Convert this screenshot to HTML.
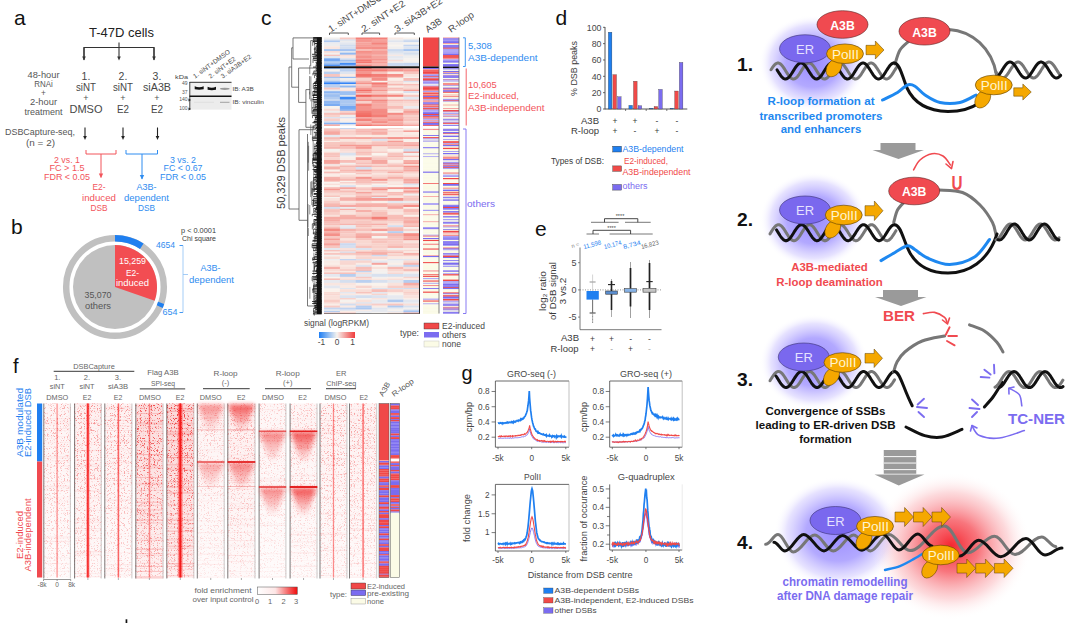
<!DOCTYPE html>
<html><head><meta charset="utf-8"><style>
html,body{margin:0;padding:0;background:#fff;width:1080px;height:623px;overflow:hidden}
svg{display:block}
text{font-family:"Liberation Sans", sans-serif}
</style></head><body>
<svg width="1080" height="623" viewBox="0 0 1080 623" font-family="Liberation Sans, sans-serif">
<rect width="1080" height="623" fill="#fff"/>
<text x="14.00" y="25.00" font-size="21" fill="#111">a</text>
<text x="89.00" y="37.00" font-size="13.5" fill="#222" textLength="65" lengthAdjust="spacingAndGlyphs">T-47D cells</text>
<line x1="119.00" y1="42.50" x2="119.00" y2="47.50" stroke="#333" stroke-width="1.1" />
<path d="M84,60 L84,47.5 L154,47.5 L154,60" stroke="#333" stroke-width="1.2" fill="none" />
<line x1="84.00" y1="47.50" x2="84.00" y2="57.50" stroke="#333" stroke-width="1.1" /><path d="M82.20,56.50 L85.80,56.50 L84.00,60.50 Z" stroke="none" stroke-width="1" fill="#333" />
<line x1="119.00" y1="47.50" x2="119.00" y2="57.50" stroke="#333" stroke-width="1.1" /><path d="M117.20,56.50 L120.80,56.50 L119.00,60.50 Z" stroke="none" stroke-width="1" fill="#333" />
<line x1="154.00" y1="47.50" x2="154.00" y2="57.50" stroke="#333" stroke-width="1.1" /><path d="M152.20,56.50 L155.80,56.50 L154.00,60.50 Z" stroke="none" stroke-width="1" fill="#333" />
<text x="43.50" y="77.50" font-size="8.3" fill="#565656" text-anchor="middle" textLength="32" lengthAdjust="spacingAndGlyphs">48-hour</text>
<text x="43.50" y="87.00" font-size="8.3" fill="#565656" text-anchor="middle" textLength="18.5" lengthAdjust="spacingAndGlyphs">RNAi</text>
<text x="43.50" y="95.50" font-size="8.3" fill="#565656" text-anchor="middle">+</text>
<text x="43.50" y="105.00" font-size="8.3" fill="#565656" text-anchor="middle" textLength="27" lengthAdjust="spacingAndGlyphs">2-hour</text>
<text x="43.50" y="114.50" font-size="8.3" fill="#565656" text-anchor="middle" textLength="38" lengthAdjust="spacingAndGlyphs">treatment</text>
<text x="86.00" y="79.50" font-size="10.5" fill="#474747" text-anchor="middle">1.</text>
<text x="86.00" y="90.50" font-size="10.5" fill="#474747" text-anchor="middle" textLength="20" lengthAdjust="spacingAndGlyphs">siNT</text>
<text x="86.00" y="101.00" font-size="9" fill="#565656" text-anchor="middle">+</text>
<text x="86.00" y="113.00" font-size="10.5" fill="#474747" text-anchor="middle" textLength="33" lengthAdjust="spacingAndGlyphs">DMSO</text>
<text x="123.00" y="79.50" font-size="10.5" fill="#474747" text-anchor="middle">2.</text>
<text x="123.00" y="90.50" font-size="10.5" fill="#474747" text-anchor="middle" textLength="20" lengthAdjust="spacingAndGlyphs">siNT</text>
<text x="123.00" y="101.00" font-size="9" fill="#565656" text-anchor="middle">+</text>
<text x="123.00" y="113.00" font-size="10.5" fill="#474747" text-anchor="middle" textLength="12" lengthAdjust="spacingAndGlyphs">E2</text>
<text x="157.00" y="79.50" font-size="10.5" fill="#474747" text-anchor="middle">3.</text>
<text x="157.00" y="90.50" font-size="10.5" fill="#474747" text-anchor="middle" textLength="28" lengthAdjust="spacingAndGlyphs">siA3B</text>
<text x="157.00" y="101.00" font-size="9" fill="#565656" text-anchor="middle">+</text>
<text x="157.00" y="113.00" font-size="10.5" fill="#474747" text-anchor="middle" textLength="12" lengthAdjust="spacingAndGlyphs">E2</text>
<rect x="125.60" y="619.30" width="1.70" height="4.00" fill="#111" />
<text x="5.00" y="135.00" font-size="8.3" fill="#565656" textLength="70" lengthAdjust="spacingAndGlyphs">DSBCapture-seq,</text>
<text x="26.00" y="146.00" font-size="8.3" fill="#565656" textLength="29" lengthAdjust="spacingAndGlyphs">(n = 2)</text>
<line x1="85.00" y1="127.50" x2="85.00" y2="137.00" stroke="#222" stroke-width="1.1" /><path d="M83.20,136.00 L86.80,136.00 L85.00,140.00 Z" stroke="none" stroke-width="1" fill="#222" />
<line x1="123.00" y1="127.50" x2="123.00" y2="137.00" stroke="#222" stroke-width="1.1" /><path d="M121.20,136.00 L124.80,136.00 L123.00,140.00 Z" stroke="none" stroke-width="1" fill="#222" />
<line x1="157.50" y1="127.50" x2="157.50" y2="137.00" stroke="#222" stroke-width="1.1" /><path d="M155.70,136.00 L159.30,136.00 L157.50,140.00 Z" stroke="none" stroke-width="1" fill="#222" />
<path d="M86,150 L86,154 L116,154 L116,150" stroke="#f2545b" stroke-width="1" fill="none" />
<line x1="101.00" y1="154.00" x2="101.00" y2="177.50" stroke="#f2545b" stroke-width="1" />
<path d="M98.8,173.5 L103.2,173.5 L101,178 Z" stroke="none" stroke-width="1" fill="#f2545b" />
<path d="M126,150 L126,154 L157.5,154 L157.5,150" stroke="#2f8cf0" stroke-width="1" fill="none" />
<line x1="142.00" y1="154.00" x2="142.00" y2="179.00" stroke="#2f8cf0" stroke-width="1" />
<path d="M139.8,175 L144.2,175 L142,179.5 Z" stroke="none" stroke-width="1" fill="#2f8cf0" />
<text x="67.00" y="162.50" font-size="9" fill="#f2545b" text-anchor="middle" textLength="26" lengthAdjust="spacingAndGlyphs">2 vs. 1</text>
<text x="67.00" y="171.00" font-size="9" fill="#f2545b" text-anchor="middle" textLength="35" lengthAdjust="spacingAndGlyphs">FC &gt; 1.5</text>
<text x="67.00" y="180.00" font-size="9" fill="#f2545b" text-anchor="middle" textLength="46" lengthAdjust="spacingAndGlyphs">FDR &lt; 0.05</text>
<text x="99.00" y="190.00" font-size="9" fill="#f2545b" text-anchor="middle" textLength="13" lengthAdjust="spacingAndGlyphs">E2-</text>
<text x="99.00" y="201.00" font-size="9" fill="#f2545b" text-anchor="middle" textLength="34" lengthAdjust="spacingAndGlyphs">induced</text>
<text x="99.00" y="211.00" font-size="9" fill="#f2545b" text-anchor="middle" textLength="17" lengthAdjust="spacingAndGlyphs">DSB</text>
<text x="183.00" y="162.50" font-size="9" fill="#2f8cf0" text-anchor="middle" textLength="26" lengthAdjust="spacingAndGlyphs">3 vs. 2</text>
<text x="183.00" y="171.00" font-size="9" fill="#2f8cf0" text-anchor="middle" textLength="39" lengthAdjust="spacingAndGlyphs">FC &lt; 0.67</text>
<text x="183.00" y="180.00" font-size="9" fill="#2f8cf0" text-anchor="middle" textLength="46" lengthAdjust="spacingAndGlyphs">FDR &lt; 0.05</text>
<text x="146.50" y="190.00" font-size="9" fill="#2f8cf0" text-anchor="middle" textLength="20" lengthAdjust="spacingAndGlyphs">A3B-</text>
<text x="146.50" y="201.00" font-size="9" fill="#2f8cf0" text-anchor="middle" textLength="45" lengthAdjust="spacingAndGlyphs">dependent</text>
<text x="146.50" y="211.00" font-size="9" fill="#2f8cf0" text-anchor="middle" textLength="17" lengthAdjust="spacingAndGlyphs">DSB</text>
<rect x="189.50" y="82.00" width="42.00" height="27.60" fill="#ececec" />
<rect x="189.50" y="82.00" width="42.00" height="14.00" fill="#f0f0f0" />
<line x1="189.50" y1="82.30" x2="231.50" y2="82.30" stroke="#333" stroke-width="1.0" />
<line x1="189.80" y1="82.00" x2="189.80" y2="109.60" stroke="#333" stroke-width="0.9" />
<line x1="189.50" y1="96.20" x2="231.50" y2="96.20" stroke="#111" stroke-width="1.6" />
<path d="M194.7,86.3 Q199.2,88.2 203.7,86.3 L203.7,89.3 Q199.2,90.2 194.7,89.3 Z" stroke="none" stroke-width="1" fill="#111" />
<path d="M207.6,86.8 Q211.8,88.6 216,86.8 L216,89.8 Q211.8,90.6 207.6,89.8 Z" stroke="none" stroke-width="1" fill="#111" />
<ellipse cx="224.80" cy="88.80" rx="4.80" ry="1.10" fill="#999" stroke="none" stroke-width="1" />
<line x1="220.00" y1="102.30" x2="229.50" y2="102.30" stroke="#999" stroke-width="0.9" />
<line x1="194.00" y1="102.30" x2="214.00" y2="102.30" stroke="#ddd" stroke-width="0.8" />
<text x="232.40" y="90.50" font-size="6" fill="#474747" textLength="21.3" lengthAdjust="spacingAndGlyphs">IB: A3B</text>
<text x="232.40" y="104.00" font-size="6" fill="#474747" textLength="31.4" lengthAdjust="spacingAndGlyphs">IB: vinculin</text>
<text x="175.00" y="79.30" font-size="5.5" fill="#474747" textLength="13" lengthAdjust="spacingAndGlyphs">kDa</text>
<text x="187.50" y="85.30" font-size="5" fill="#565656" text-anchor="end">49</text>
<text x="187.50" y="94.30" font-size="5" fill="#565656" text-anchor="end">37</text>
<text x="187.50" y="100.50" font-size="5" fill="#565656" text-anchor="end">140</text>
<text x="187.50" y="109.50" font-size="5" fill="#565656" text-anchor="end">100</text>
<path d="M188.5,98.5 L191,100 L188.5,101.5 Z" stroke="none" stroke-width="1" fill="#222" />
<path d="M188.5,107.5 L191,109 L188.5,110.5 Z" stroke="none" stroke-width="1" fill="#222" />
<text x="195.00" y="78.70" font-size="6.5" fill="#474747" textLength="44" lengthAdjust="spacingAndGlyphs" transform="rotate(-36 195.00 78.70)">1. siNT+DMSO</text>
<text x="210.40" y="78.70" font-size="6.5" fill="#474747" textLength="32" lengthAdjust="spacingAndGlyphs" transform="rotate(-36 210.40 78.70)">2. siNT+E2</text>
<text x="222.80" y="78.70" font-size="6.5" fill="#474747" textLength="36" lengthAdjust="spacingAndGlyphs" transform="rotate(-36 222.80 78.70)">3. siA3B+E2</text>
<text x="11.00" y="234.00" font-size="21" fill="#111">b</text>
<circle cx="115.00" cy="287.00" r="48.80" fill="none" stroke="#c0c0c0" stroke-width="6.5" />
<path d="M115.00,238.20 A48.8,48.8 0 0 1 141.79,246.21" stroke="#1f7ff0" stroke-width="6.5" fill="none" />
<path d="M161.14,302.89 A48.8,48.8 0 0 1 159.68,306.62" stroke="#1f7ff0" stroke-width="6.5" fill="none" />
<circle cx="115.00" cy="287.00" r="42.00" fill="#c0c0c0" stroke="none" stroke-width="1" />
<path d="M115,287 L115,245 A42,42 0 0 1 154.71,300.67 Z" stroke="none" stroke-width="1" fill="#f24d52" />
<text x="132.50" y="264.00" font-size="9.3" fill="#fff" text-anchor="middle" textLength="27" lengthAdjust="spacingAndGlyphs">15,259</text>
<text x="132.50" y="276.00" font-size="9.3" fill="#fff" text-anchor="middle" textLength="13" lengthAdjust="spacingAndGlyphs">E2-</text>
<text x="132.50" y="286.00" font-size="9.3" fill="#fff" text-anchor="middle" textLength="33" lengthAdjust="spacingAndGlyphs">induced</text>
<text x="98.00" y="297.50" font-size="9.3" fill="#565656" text-anchor="middle" textLength="27" lengthAdjust="spacingAndGlyphs">35,070</text>
<text x="98.00" y="309.00" font-size="9.3" fill="#565656" text-anchor="middle" textLength="26" lengthAdjust="spacingAndGlyphs">others</text>
<text x="175.00" y="248.00" font-size="9.3" fill="#2f8cf0" text-anchor="end" textLength="19" lengthAdjust="spacingAndGlyphs">4654</text>
<text x="177.50" y="315.00" font-size="9.3" fill="#2f8cf0" text-anchor="end" textLength="15" lengthAdjust="spacingAndGlyphs">654</text>
<line x1="179.50" y1="245.50" x2="183.00" y2="245.50" stroke="#2f8cf0" stroke-width="0.9" />
<line x1="179.50" y1="312.50" x2="183.00" y2="312.50" stroke="#2f8cf0" stroke-width="0.9" />
<line x1="183.00" y1="245.50" x2="183.00" y2="312.50" stroke="#8ec0f5" stroke-width="0.8" />
<line x1="183.00" y1="274.50" x2="188.00" y2="274.50" stroke="#8ec0f5" stroke-width="0.8" />
<text x="210.50" y="271.00" font-size="9.3" fill="#2f8cf0" text-anchor="middle" textLength="20" lengthAdjust="spacingAndGlyphs">A3B-</text>
<text x="211.50" y="282.50" font-size="9.3" fill="#2f8cf0" text-anchor="middle" textLength="45" lengthAdjust="spacingAndGlyphs">dependent</text>
<text x="181.00" y="233.00" font-size="7" fill="#3a3a3a" textLength="35" lengthAdjust="spacingAndGlyphs">p &lt; 0.0001</text>
<text x="182.00" y="241.00" font-size="7" fill="#3a3a3a" textLength="34" lengthAdjust="spacingAndGlyphs">Chi square</text>
<text x="261.00" y="25.10" font-size="21" fill="#111">c</text>
<rect x="324.00" y="37.50" width="16.18" height="2.20" fill="#f2f0ee" />
<rect x="339.88" y="37.50" width="16.18" height="2.20" fill="#f8c9c3" />
<rect x="355.77" y="37.50" width="16.18" height="2.20" fill="#f38079" />
<rect x="371.65" y="37.50" width="16.18" height="2.20" fill="#f38079" />
<rect x="387.53" y="37.50" width="16.18" height="2.20" fill="#f9eae4" />
<rect x="403.42" y="37.50" width="16.18" height="2.20" fill="#faf3ed" />
<rect x="324.00" y="39.50" width="16.18" height="1.40" fill="#d0dcef" />
<rect x="339.88" y="39.50" width="16.18" height="1.40" fill="#d6e0ef" />
<rect x="355.77" y="39.50" width="16.18" height="1.40" fill="#f48b84" />
<rect x="371.65" y="39.50" width="16.18" height="1.40" fill="#f59992" />
<rect x="387.53" y="39.50" width="16.18" height="1.40" fill="#e8eaef" />
<rect x="403.42" y="39.50" width="16.18" height="1.40" fill="#d2ddef" />
<rect x="324.00" y="40.70" width="16.18" height="1.80" fill="#aec9f1" />
<rect x="339.88" y="40.70" width="16.18" height="1.80" fill="#ededee" />
<rect x="355.77" y="40.70" width="16.18" height="1.80" fill="#f59891" />
<rect x="371.65" y="40.70" width="16.18" height="1.80" fill="#f59e97" />
<rect x="387.53" y="40.70" width="16.18" height="1.80" fill="#e0e5ef" />
<rect x="403.42" y="40.70" width="16.18" height="1.80" fill="#c9d8f0" />
<rect x="324.00" y="42.30" width="16.18" height="2.60" fill="#ebebef" />
<rect x="339.88" y="42.30" width="16.18" height="2.60" fill="#e3e7ef" />
<rect x="355.77" y="42.30" width="16.18" height="2.60" fill="#f5a39c" />
<rect x="371.65" y="42.30" width="16.18" height="2.60" fill="#f3847d" />
<rect x="387.53" y="42.30" width="16.18" height="2.60" fill="#f2efee" />
<rect x="403.42" y="42.30" width="16.18" height="2.60" fill="#f6f2ee" />
<rect x="324.00" y="44.70" width="16.18" height="1.80" fill="#ededee" />
<rect x="339.88" y="44.70" width="16.18" height="1.80" fill="#cfdcef" />
<rect x="355.77" y="44.70" width="16.18" height="1.80" fill="#f59e97" />
<rect x="371.65" y="44.70" width="16.18" height="1.80" fill="#f5a29b" />
<rect x="387.53" y="44.70" width="16.18" height="1.80" fill="#f9f4ee" />
<rect x="403.42" y="44.70" width="16.18" height="1.80" fill="#c4d5f0" />
<rect x="324.00" y="46.30" width="16.18" height="3.00" fill="#f9e6e0" />
<rect x="339.88" y="46.30" width="16.18" height="3.00" fill="#d5dfef" />
<rect x="355.77" y="46.30" width="16.18" height="3.00" fill="#f49189" />
<rect x="371.65" y="46.30" width="16.18" height="3.00" fill="#f48f88" />
<rect x="387.53" y="46.30" width="16.18" height="3.00" fill="#f1efee" />
<rect x="403.42" y="46.30" width="16.18" height="3.00" fill="#dee4ef" />
<rect x="324.00" y="49.10" width="16.18" height="2.20" fill="#a7c5f1" />
<rect x="339.88" y="49.10" width="16.18" height="2.20" fill="#a4c3f1" />
<rect x="355.77" y="49.10" width="16.18" height="2.20" fill="#f7bcb5" />
<rect x="371.65" y="49.10" width="16.18" height="2.20" fill="#f6afa8" />
<rect x="387.53" y="49.10" width="16.18" height="2.20" fill="#c9d9f0" />
<rect x="403.42" y="49.10" width="16.18" height="2.20" fill="#a5c4f1" />
<rect x="324.00" y="51.10" width="16.18" height="1.80" fill="#f8dad4" />
<rect x="339.88" y="51.10" width="16.18" height="1.80" fill="#e1e6ef" />
<rect x="355.77" y="51.10" width="16.18" height="1.80" fill="#f4857d" />
<rect x="371.65" y="51.10" width="16.18" height="1.80" fill="#f4958e" />
<rect x="387.53" y="51.10" width="16.18" height="1.80" fill="#d4dfef" />
<rect x="403.42" y="51.10" width="16.18" height="1.80" fill="#e1e6ef" />
<rect x="324.00" y="52.70" width="16.18" height="2.20" fill="#f3f0ee" />
<rect x="339.88" y="52.70" width="16.18" height="2.20" fill="#92b9f1" />
<rect x="355.77" y="52.70" width="16.18" height="2.20" fill="#f59b94" />
<rect x="371.65" y="52.70" width="16.18" height="2.20" fill="#f59e97" />
<rect x="387.53" y="52.70" width="16.18" height="2.20" fill="#e5e8ef" />
<rect x="403.42" y="52.70" width="16.18" height="2.20" fill="#d5dfef" />
<rect x="324.00" y="54.70" width="16.18" height="1.40" fill="#f7beb7" />
<rect x="339.88" y="54.70" width="16.18" height="1.40" fill="#f9ded8" />
<rect x="355.77" y="54.70" width="16.18" height="1.40" fill="#f5a29b" />
<rect x="371.65" y="54.70" width="16.18" height="1.40" fill="#f6b5ae" />
<rect x="387.53" y="54.70" width="16.18" height="1.40" fill="#f9e9e3" />
<rect x="403.42" y="54.70" width="16.18" height="1.40" fill="#e9eaef" />
<rect x="324.00" y="55.90" width="16.18" height="2.60" fill="#e2e7ef" />
<rect x="339.88" y="55.90" width="16.18" height="2.60" fill="#f9e7e1" />
<rect x="355.77" y="55.90" width="16.18" height="2.60" fill="#f4928b" />
<rect x="371.65" y="55.90" width="16.18" height="2.60" fill="#f5a49d" />
<rect x="387.53" y="55.90" width="16.18" height="2.60" fill="#e5e8ef" />
<rect x="403.42" y="55.90" width="16.18" height="2.60" fill="#efeeee" />
<rect x="324.00" y="58.30" width="16.18" height="1.80" fill="#74a8f2" />
<rect x="339.88" y="58.30" width="16.18" height="1.80" fill="#d2ddef" />
<rect x="355.77" y="58.30" width="16.18" height="1.80" fill="#f4958e" />
<rect x="371.65" y="58.30" width="16.18" height="1.80" fill="#f4948d" />
<rect x="387.53" y="58.30" width="16.18" height="1.80" fill="#e8eaef" />
<rect x="403.42" y="58.30" width="16.18" height="1.80" fill="#f6f2ee" />
<rect x="324.00" y="59.90" width="16.18" height="1.80" fill="#74a8f2" />
<rect x="339.88" y="59.90" width="16.18" height="1.80" fill="#a0c1f1" />
<rect x="355.77" y="59.90" width="16.18" height="1.80" fill="#f37a73" />
<rect x="371.65" y="59.90" width="16.18" height="1.80" fill="#f6a9a2" />
<rect x="387.53" y="59.90" width="16.18" height="1.80" fill="#f9ddd6" />
<rect x="403.42" y="59.90" width="16.18" height="1.80" fill="#f9f3ee" />
<rect x="324.00" y="61.50" width="16.18" height="1.80" fill="#b4cdf0" />
<rect x="339.88" y="61.50" width="16.18" height="1.80" fill="#b5cdf0" />
<rect x="355.77" y="61.50" width="16.18" height="1.80" fill="#f37871" />
<rect x="371.65" y="61.50" width="16.18" height="1.80" fill="#f59e96" />
<rect x="387.53" y="61.50" width="16.18" height="1.80" fill="#eeedee" />
<rect x="403.42" y="61.50" width="16.18" height="1.80" fill="#ededee" />
<rect x="324.00" y="63.10" width="16.18" height="1.80" fill="#96bbf1" />
<rect x="339.88" y="63.10" width="16.18" height="1.80" fill="#3081f5" />
<rect x="355.77" y="63.10" width="16.18" height="1.80" fill="#f6b0aa" />
<rect x="371.65" y="63.10" width="16.18" height="1.80" fill="#f6b0a9" />
<rect x="387.53" y="63.10" width="16.18" height="1.80" fill="#c6d6f0" />
<rect x="403.42" y="63.10" width="16.18" height="1.80" fill="#bed2f0" />
<rect x="324.00" y="64.70" width="16.18" height="1.40" fill="#418bf4" />
<rect x="339.88" y="64.70" width="16.18" height="1.40" fill="#8ab4f2" />
<rect x="355.77" y="64.70" width="16.18" height="1.40" fill="#f48a83" />
<rect x="371.65" y="64.70" width="16.18" height="1.40" fill="#f6b2ab" />
<rect x="387.53" y="64.70" width="16.18" height="1.40" fill="#c7d7f0" />
<rect x="403.42" y="64.70" width="16.18" height="1.40" fill="#cad9f0" />
<rect x="324.00" y="65.90" width="16.18" height="0.60" fill="#d5dfef" />
<rect x="339.88" y="65.90" width="16.18" height="0.60" fill="#b9cff0" />
<rect x="355.77" y="65.90" width="16.18" height="0.60" fill="#f4857e" />
<rect x="371.65" y="65.90" width="16.18" height="0.60" fill="#f48e86" />
<rect x="387.53" y="65.90" width="16.18" height="0.60" fill="#f9eae4" />
<rect x="403.42" y="65.90" width="16.18" height="0.60" fill="#eeedee" />
<rect x="324.00" y="68.00" width="16.18" height="1.40" fill="#97bcf1" />
<rect x="339.88" y="68.00" width="16.18" height="1.40" fill="#b7cef0" />
<rect x="355.77" y="68.00" width="16.18" height="1.40" fill="#f3766f" />
<rect x="371.65" y="68.00" width="16.18" height="1.40" fill="#f5a39c" />
<rect x="387.53" y="68.00" width="16.18" height="1.40" fill="#f6aaa3" />
<rect x="403.42" y="68.00" width="16.18" height="1.40" fill="#f7bab3" />
<rect x="324.00" y="69.20" width="16.18" height="2.60" fill="#f6f1ee" />
<rect x="339.88" y="69.20" width="16.18" height="2.60" fill="#bbd0f0" />
<rect x="355.77" y="69.20" width="16.18" height="2.60" fill="#f37e77" />
<rect x="371.65" y="69.20" width="16.18" height="2.60" fill="#f37a73" />
<rect x="387.53" y="69.20" width="16.18" height="2.60" fill="#f4928b" />
<rect x="403.42" y="69.20" width="16.18" height="2.60" fill="#f59d96" />
<rect x="324.00" y="71.60" width="16.18" height="2.60" fill="#b9cff0" />
<rect x="339.88" y="71.60" width="16.18" height="2.60" fill="#dee4ef" />
<rect x="355.77" y="71.60" width="16.18" height="2.60" fill="#f5968f" />
<rect x="371.65" y="71.60" width="16.18" height="2.60" fill="#f7c1ba" />
<rect x="387.53" y="71.60" width="16.18" height="2.60" fill="#f9ebe5" />
<rect x="403.42" y="71.60" width="16.18" height="2.60" fill="#f7c4bd" />
<rect x="324.00" y="74.00" width="16.18" height="3.00" fill="#f7c5bf" />
<rect x="339.88" y="74.00" width="16.18" height="3.00" fill="#f9ebe5" />
<rect x="355.77" y="74.00" width="16.18" height="3.00" fill="#f2726a" />
<rect x="371.65" y="74.00" width="16.18" height="3.00" fill="#f37d76" />
<rect x="387.53" y="74.00" width="16.18" height="3.00" fill="#f49089" />
<rect x="403.42" y="74.00" width="16.18" height="3.00" fill="#f9e4de" />
<rect x="324.00" y="76.80" width="16.18" height="1.40" fill="#a6c4f1" />
<rect x="339.88" y="76.80" width="16.18" height="1.40" fill="#8eb7f2" />
<rect x="355.77" y="76.80" width="16.18" height="1.40" fill="#f5a59e" />
<rect x="371.65" y="76.80" width="16.18" height="1.40" fill="#f59c95" />
<rect x="387.53" y="76.80" width="16.18" height="1.40" fill="#f7c6bf" />
<rect x="403.42" y="76.80" width="16.18" height="1.40" fill="#f4f1ee" />
<rect x="324.00" y="78.00" width="16.18" height="3.00" fill="#d8e1ef" />
<rect x="339.88" y="78.00" width="16.18" height="3.00" fill="#f0eeee" />
<rect x="355.77" y="78.00" width="16.18" height="3.00" fill="#f8d2cc" />
<rect x="371.65" y="78.00" width="16.18" height="3.00" fill="#f48d86" />
<rect x="387.53" y="78.00" width="16.18" height="3.00" fill="#faefe9" />
<rect x="403.42" y="78.00" width="16.18" height="3.00" fill="#f7bcb5" />
<rect x="324.00" y="80.80" width="16.18" height="1.80" fill="#9fc1f1" />
<rect x="339.88" y="80.80" width="16.18" height="1.80" fill="#c5d6f0" />
<rect x="355.77" y="80.80" width="16.18" height="1.80" fill="#f6b4ad" />
<rect x="371.65" y="80.80" width="16.18" height="1.80" fill="#faf3ed" />
<rect x="387.53" y="80.80" width="16.18" height="1.80" fill="#f8d7d1" />
<rect x="403.42" y="80.80" width="16.18" height="1.80" fill="#dde3ef" />
<rect x="324.00" y="82.40" width="16.18" height="1.80" fill="#2e80f5" />
<rect x="339.88" y="82.40" width="16.18" height="1.80" fill="#3484f5" />
<rect x="355.77" y="82.40" width="16.18" height="1.80" fill="#f4938c" />
<rect x="371.65" y="82.40" width="16.18" height="1.80" fill="#f37871" />
<rect x="387.53" y="82.40" width="16.18" height="1.80" fill="#f8d8d1" />
<rect x="403.42" y="82.40" width="16.18" height="1.80" fill="#f9ebe5" />
<rect x="324.00" y="84.00" width="16.18" height="1.80" fill="#adc8f1" />
<rect x="339.88" y="84.00" width="16.18" height="1.80" fill="#e2e6ef" />
<rect x="355.77" y="84.00" width="16.18" height="1.80" fill="#f7c9c2" />
<rect x="371.65" y="84.00" width="16.18" height="1.80" fill="#f48f88" />
<rect x="387.53" y="84.00" width="16.18" height="1.80" fill="#f6b7b0" />
<rect x="403.42" y="84.00" width="16.18" height="1.80" fill="#f7beb8" />
<rect x="324.00" y="85.60" width="16.18" height="2.20" fill="#b6cef0" />
<rect x="339.88" y="85.60" width="16.18" height="2.20" fill="#8fb8f2" />
<rect x="355.77" y="85.60" width="16.18" height="2.20" fill="#f7bab3" />
<rect x="371.65" y="85.60" width="16.18" height="2.20" fill="#f4958e" />
<rect x="387.53" y="85.60" width="16.18" height="2.20" fill="#f9ebe5" />
<rect x="403.42" y="85.60" width="16.18" height="2.20" fill="#f8d9d3" />
<rect x="324.00" y="87.60" width="16.18" height="2.20" fill="#f7c7c0" />
<rect x="339.88" y="87.60" width="16.18" height="2.20" fill="#f9e9e2" />
<rect x="355.77" y="87.60" width="16.18" height="2.20" fill="#f59891" />
<rect x="371.65" y="87.60" width="16.18" height="2.20" fill="#f6b3ad" />
<rect x="387.53" y="87.60" width="16.18" height="2.20" fill="#f7bfb8" />
<rect x="403.42" y="87.60" width="16.18" height="2.20" fill="#f8d4cd" />
<rect x="324.00" y="89.60" width="16.18" height="1.80" fill="#e6e9ef" />
<rect x="339.88" y="89.60" width="16.18" height="1.80" fill="#f9e3dd" />
<rect x="355.77" y="89.60" width="16.18" height="1.80" fill="#f26d66" />
<rect x="371.65" y="89.60" width="16.18" height="1.80" fill="#f5968f" />
<rect x="387.53" y="89.60" width="16.18" height="1.80" fill="#f8cac3" />
<rect x="403.42" y="89.60" width="16.18" height="1.80" fill="#f59c95" />
<rect x="324.00" y="91.20" width="16.18" height="2.20" fill="#8bb5f2" />
<rect x="339.88" y="91.20" width="16.18" height="2.20" fill="#9cbff1" />
<rect x="355.77" y="91.20" width="16.18" height="2.20" fill="#f59790" />
<rect x="371.65" y="91.20" width="16.18" height="2.20" fill="#f7c0b9" />
<rect x="387.53" y="91.20" width="16.18" height="2.20" fill="#f8f3ee" />
<rect x="403.42" y="91.20" width="16.18" height="2.20" fill="#d9e1ef" />
<rect x="324.00" y="93.20" width="16.18" height="1.80" fill="#a9c6f1" />
<rect x="339.88" y="93.20" width="16.18" height="1.80" fill="#8fb8f2" />
<rect x="355.77" y="93.20" width="16.18" height="1.80" fill="#f7bfb8" />
<rect x="371.65" y="93.20" width="16.18" height="1.80" fill="#f7bbb4" />
<rect x="387.53" y="93.20" width="16.18" height="1.80" fill="#f8d0c9" />
<rect x="403.42" y="93.20" width="16.18" height="1.80" fill="#faf1eb" />
<rect x="324.00" y="94.80" width="16.18" height="2.20" fill="#9cbff1" />
<rect x="339.88" y="94.80" width="16.18" height="2.20" fill="#dde4ef" />
<rect x="355.77" y="94.80" width="16.18" height="2.20" fill="#f1615a" />
<rect x="371.65" y="94.80" width="16.18" height="2.20" fill="#f37d75" />
<rect x="387.53" y="94.80" width="16.18" height="2.20" fill="#f4857d" />
<rect x="403.42" y="94.80" width="16.18" height="2.20" fill="#f7c6bf" />
<rect x="324.00" y="96.80" width="16.18" height="3.00" fill="#b1cbf0" />
<rect x="339.88" y="96.80" width="16.18" height="3.00" fill="#3d89f4" />
<rect x="355.77" y="96.80" width="16.18" height="3.00" fill="#f6b4ad" />
<rect x="371.65" y="96.80" width="16.18" height="3.00" fill="#f7c0ba" />
<rect x="387.53" y="96.80" width="16.18" height="3.00" fill="#f9eae4" />
<rect x="403.42" y="96.80" width="16.18" height="3.00" fill="#e2e7ef" />
<rect x="324.00" y="99.60" width="16.18" height="1.40" fill="#d3deef" />
<rect x="339.88" y="99.60" width="16.18" height="1.40" fill="#b2cbf0" />
<rect x="355.77" y="99.60" width="16.18" height="1.40" fill="#f38078" />
<rect x="371.65" y="99.60" width="16.18" height="1.40" fill="#f3847d" />
<rect x="387.53" y="99.60" width="16.18" height="1.40" fill="#f6b4ae" />
<rect x="403.42" y="99.60" width="16.18" height="1.40" fill="#f7bcb6" />
<rect x="324.00" y="100.80" width="16.18" height="3.00" fill="#90b8f2" />
<rect x="339.88" y="100.80" width="16.18" height="3.00" fill="#acc8f1" />
<rect x="355.77" y="100.80" width="16.18" height="3.00" fill="#f8d1cb" />
<rect x="371.65" y="100.80" width="16.18" height="3.00" fill="#f5a39c" />
<rect x="387.53" y="100.80" width="16.18" height="3.00" fill="#f8d1cb" />
<rect x="403.42" y="100.80" width="16.18" height="3.00" fill="#f8d5cf" />
<rect x="324.00" y="103.60" width="16.18" height="2.60" fill="#7bacf2" />
<rect x="339.88" y="103.60" width="16.18" height="2.60" fill="#aac7f1" />
<rect x="355.77" y="103.60" width="16.18" height="2.60" fill="#f38179" />
<rect x="371.65" y="103.60" width="16.18" height="2.60" fill="#f6a8a1" />
<rect x="387.53" y="103.60" width="16.18" height="2.60" fill="#f8d7d0" />
<rect x="403.42" y="103.60" width="16.18" height="2.60" fill="#f9ded7" />
<rect x="324.00" y="106.00" width="16.18" height="3.00" fill="#f6f2ee" />
<rect x="339.88" y="106.00" width="16.18" height="3.00" fill="#74a8f2" />
<rect x="355.77" y="106.00" width="16.18" height="3.00" fill="#f4938c" />
<rect x="371.65" y="106.00" width="16.18" height="3.00" fill="#f6aaa3" />
<rect x="387.53" y="106.00" width="16.18" height="3.00" fill="#f7bcb6" />
<rect x="403.42" y="106.00" width="16.18" height="3.00" fill="#ebebef" />
<rect x="324.00" y="108.80" width="16.18" height="2.20" fill="#f9dbd5" />
<rect x="339.88" y="108.80" width="16.18" height="2.20" fill="#89b4f2" />
<rect x="355.77" y="108.80" width="16.18" height="2.20" fill="#f4938c" />
<rect x="371.65" y="108.80" width="16.18" height="2.20" fill="#f48d86" />
<rect x="387.53" y="108.80" width="16.18" height="2.20" fill="#f9ded8" />
<rect x="403.42" y="108.80" width="16.18" height="2.20" fill="#f7c1ba" />
<rect x="324.00" y="110.80" width="16.18" height="2.20" fill="#efeeee" />
<rect x="339.88" y="110.80" width="16.18" height="2.20" fill="#f8d3cd" />
<rect x="355.77" y="110.80" width="16.18" height="2.20" fill="#f37d76" />
<rect x="371.65" y="110.80" width="16.18" height="2.20" fill="#f48a83" />
<rect x="387.53" y="110.80" width="16.18" height="2.20" fill="#faece6" />
<rect x="403.42" y="110.80" width="16.18" height="2.20" fill="#f59f98" />
<rect x="324.00" y="112.80" width="16.18" height="2.20" fill="#f7c1bb" />
<rect x="339.88" y="112.80" width="16.18" height="2.20" fill="#f6b4ad" />
<rect x="355.77" y="112.80" width="16.18" height="2.20" fill="#f2736b" />
<rect x="371.65" y="112.80" width="16.18" height="2.20" fill="#f48d85" />
<rect x="387.53" y="112.80" width="16.18" height="2.20" fill="#f48b84" />
<rect x="403.42" y="112.80" width="16.18" height="2.20" fill="#f6b4ae" />
<rect x="324.00" y="114.80" width="16.18" height="2.60" fill="#f8d3cc" />
<rect x="339.88" y="114.80" width="16.18" height="2.60" fill="#f0eeee" />
<rect x="355.77" y="114.80" width="16.18" height="2.60" fill="#f26a62" />
<rect x="371.65" y="114.80" width="16.18" height="2.60" fill="#f37d76" />
<rect x="387.53" y="114.80" width="16.18" height="2.60" fill="#f6b1ab" />
<rect x="403.42" y="114.80" width="16.18" height="2.60" fill="#f8d0ca" />
<rect x="324.00" y="117.20" width="16.18" height="1.40" fill="#d5dfef" />
<rect x="339.88" y="117.20" width="16.18" height="1.40" fill="#cddaf0" />
<rect x="355.77" y="117.20" width="16.18" height="1.40" fill="#f5a39d" />
<rect x="371.65" y="117.20" width="16.18" height="1.40" fill="#f59f98" />
<rect x="387.53" y="117.20" width="16.18" height="1.40" fill="#f59f98" />
<rect x="403.42" y="117.20" width="16.18" height="1.40" fill="#f7bcb5" />
<rect x="324.00" y="118.40" width="16.18" height="3.00" fill="#f8d0ca" />
<rect x="339.88" y="118.40" width="16.18" height="3.00" fill="#faefe9" />
<rect x="355.77" y="118.40" width="16.18" height="3.00" fill="#f3827b" />
<rect x="371.65" y="118.40" width="16.18" height="3.00" fill="#f5a39c" />
<rect x="387.53" y="118.40" width="16.18" height="3.00" fill="#f59790" />
<rect x="403.42" y="118.40" width="16.18" height="3.00" fill="#f7c4be" />
<rect x="324.00" y="121.20" width="16.18" height="1.80" fill="#d1ddef" />
<rect x="339.88" y="121.20" width="16.18" height="1.80" fill="#efeeee" />
<rect x="355.77" y="121.20" width="16.18" height="1.80" fill="#f6b7b1" />
<rect x="371.65" y="121.20" width="16.18" height="1.80" fill="#f3827b" />
<rect x="387.53" y="121.20" width="16.18" height="1.80" fill="#f6afa8" />
<rect x="403.42" y="121.20" width="16.18" height="1.80" fill="#f8d5cf" />
<rect x="324.00" y="122.80" width="16.18" height="1.80" fill="#8bb5f2" />
<rect x="339.88" y="122.80" width="16.18" height="1.80" fill="#6ca4f3" />
<rect x="355.77" y="122.80" width="16.18" height="1.80" fill="#f6a7a0" />
<rect x="371.65" y="122.80" width="16.18" height="1.80" fill="#f6b7b0" />
<rect x="387.53" y="122.80" width="16.18" height="1.80" fill="#f6a8a1" />
<rect x="403.42" y="122.80" width="16.18" height="1.80" fill="#f8c9c3" />
<rect x="324.00" y="124.40" width="16.18" height="1.60" fill="#f6ada6" />
<rect x="339.88" y="124.40" width="16.18" height="1.60" fill="#f4f1ee" />
<rect x="355.77" y="124.40" width="16.18" height="1.60" fill="#f3756d" />
<rect x="371.65" y="124.40" width="16.18" height="1.60" fill="#f48881" />
<rect x="387.53" y="124.40" width="16.18" height="1.60" fill="#f4928b" />
<rect x="403.42" y="124.40" width="16.18" height="1.60" fill="#f5a69f" />
<rect x="324.00" y="128.00" width="16.18" height="1.40" fill="#f8d6cf" />
<rect x="339.88" y="128.00" width="16.18" height="1.40" fill="#c5d6f0" />
<rect x="355.77" y="128.00" width="16.18" height="1.40" fill="#f9e6e0" />
<rect x="371.65" y="128.00" width="16.18" height="1.40" fill="#f8dad3" />
<rect x="387.53" y="128.00" width="16.18" height="1.40" fill="#f8d5cf" />
<rect x="403.42" y="128.00" width="16.18" height="1.40" fill="#f9f4ee" />
<rect x="324.00" y="129.20" width="16.18" height="1.40" fill="#f7b8b2" />
<rect x="339.88" y="129.20" width="16.18" height="1.40" fill="#f8d8d2" />
<rect x="355.77" y="129.20" width="16.18" height="1.40" fill="#f6b1aa" />
<rect x="371.65" y="129.20" width="16.18" height="1.40" fill="#f59a93" />
<rect x="387.53" y="129.20" width="16.18" height="1.40" fill="#faece5" />
<rect x="403.42" y="129.20" width="16.18" height="1.40" fill="#f9e8e2" />
<rect x="324.00" y="130.40" width="16.18" height="1.80" fill="#f6b1ab" />
<rect x="339.88" y="130.40" width="16.18" height="1.80" fill="#f8cdc6" />
<rect x="355.77" y="130.40" width="16.18" height="1.80" fill="#f6b7b1" />
<rect x="371.65" y="130.40" width="16.18" height="1.80" fill="#f7bcb6" />
<rect x="387.53" y="130.40" width="16.18" height="1.80" fill="#f8d5cf" />
<rect x="403.42" y="130.40" width="16.18" height="1.80" fill="#f5a099" />
<rect x="324.00" y="132.00" width="16.18" height="3.00" fill="#f6a7a0" />
<rect x="339.88" y="132.00" width="16.18" height="3.00" fill="#f8d3cd" />
<rect x="355.77" y="132.00" width="16.18" height="3.00" fill="#f7c2bc" />
<rect x="371.65" y="132.00" width="16.18" height="3.00" fill="#f6ada6" />
<rect x="387.53" y="132.00" width="16.18" height="3.00" fill="#f9e4de" />
<rect x="403.42" y="132.00" width="16.18" height="3.00" fill="#faece6" />
<rect x="324.00" y="134.80" width="16.18" height="2.60" fill="#e6e9ef" />
<rect x="339.88" y="134.80" width="16.18" height="2.60" fill="#f9e4de" />
<rect x="355.77" y="134.80" width="16.18" height="2.60" fill="#faede6" />
<rect x="371.65" y="134.80" width="16.18" height="2.60" fill="#f9e9e2" />
<rect x="387.53" y="134.80" width="16.18" height="2.60" fill="#f9e8e2" />
<rect x="403.42" y="134.80" width="16.18" height="2.60" fill="#f9e4de" />
<rect x="324.00" y="137.20" width="16.18" height="1.80" fill="#f6b7b1" />
<rect x="339.88" y="137.20" width="16.18" height="1.80" fill="#f59b94" />
<rect x="355.77" y="137.20" width="16.18" height="1.80" fill="#f59890" />
<rect x="371.65" y="137.20" width="16.18" height="1.80" fill="#f5a29c" />
<rect x="387.53" y="137.20" width="16.18" height="1.80" fill="#f38079" />
<rect x="403.42" y="137.20" width="16.18" height="1.80" fill="#f48982" />
<rect x="324.00" y="138.80" width="16.18" height="2.20" fill="#f8cdc7" />
<rect x="339.88" y="138.80" width="16.18" height="2.20" fill="#f9e6df" />
<rect x="355.77" y="138.80" width="16.18" height="2.20" fill="#f9dfd8" />
<rect x="371.65" y="138.80" width="16.18" height="2.20" fill="#dce3ef" />
<rect x="387.53" y="138.80" width="16.18" height="2.20" fill="#f9dbd4" />
<rect x="403.42" y="138.80" width="16.18" height="2.20" fill="#f6f2ee" />
<rect x="324.00" y="140.80" width="16.18" height="1.40" fill="#faede7" />
<rect x="339.88" y="140.80" width="16.18" height="1.40" fill="#f9e0da" />
<rect x="355.77" y="140.80" width="16.18" height="1.40" fill="#f9e6e0" />
<rect x="371.65" y="140.80" width="16.18" height="1.40" fill="#f8d3cc" />
<rect x="387.53" y="140.80" width="16.18" height="1.40" fill="#f59c95" />
<rect x="403.42" y="140.80" width="16.18" height="1.40" fill="#faf2ec" />
<rect x="324.00" y="142.00" width="16.18" height="3.00" fill="#f7c7c0" />
<rect x="339.88" y="142.00" width="16.18" height="3.00" fill="#f7c6bf" />
<rect x="355.77" y="142.00" width="16.18" height="3.00" fill="#f8d3cc" />
<rect x="371.65" y="142.00" width="16.18" height="3.00" fill="#f7c2bc" />
<rect x="387.53" y="142.00" width="16.18" height="3.00" fill="#f7bdb7" />
<rect x="403.42" y="142.00" width="16.18" height="3.00" fill="#f7b8b2" />
<rect x="324.00" y="144.80" width="16.18" height="1.80" fill="#f7c2bb" />
<rect x="339.88" y="144.80" width="16.18" height="1.80" fill="#f59a93" />
<rect x="355.77" y="144.80" width="16.18" height="1.80" fill="#f59a93" />
<rect x="371.65" y="144.80" width="16.18" height="1.80" fill="#f6aba4" />
<rect x="387.53" y="144.80" width="16.18" height="1.80" fill="#f6b3ac" />
<rect x="403.42" y="144.80" width="16.18" height="1.80" fill="#f5a29b" />
<rect x="324.00" y="146.40" width="16.18" height="2.60" fill="#f6b6af" />
<rect x="339.88" y="146.40" width="16.18" height="2.60" fill="#f7bcb6" />
<rect x="355.77" y="146.40" width="16.18" height="2.60" fill="#f59891" />
<rect x="371.65" y="146.40" width="16.18" height="2.60" fill="#f9e1da" />
<rect x="387.53" y="146.40" width="16.18" height="2.60" fill="#f7c9c2" />
<rect x="403.42" y="146.40" width="16.18" height="2.60" fill="#f8d2cc" />
<rect x="324.00" y="148.80" width="16.18" height="3.00" fill="#f4f1ee" />
<rect x="339.88" y="148.80" width="16.18" height="3.00" fill="#f9ddd7" />
<rect x="355.77" y="148.80" width="16.18" height="3.00" fill="#f8d0c9" />
<rect x="371.65" y="148.80" width="16.18" height="3.00" fill="#f9e2db" />
<rect x="387.53" y="148.80" width="16.18" height="3.00" fill="#faf3ed" />
<rect x="403.42" y="148.80" width="16.18" height="3.00" fill="#d3deef" />
<rect x="324.00" y="151.60" width="16.18" height="1.40" fill="#f9e3dd" />
<rect x="339.88" y="151.60" width="16.18" height="1.40" fill="#f9e0da" />
<rect x="355.77" y="151.60" width="16.18" height="1.40" fill="#f7bbb4" />
<rect x="371.65" y="151.60" width="16.18" height="1.40" fill="#f7c5be" />
<rect x="387.53" y="151.60" width="16.18" height="1.40" fill="#f9e2dc" />
<rect x="403.42" y="151.60" width="16.18" height="1.40" fill="#f49089" />
<rect x="324.00" y="152.80" width="16.18" height="3.00" fill="#f7c4bd" />
<rect x="339.88" y="152.80" width="16.18" height="3.00" fill="#d9e1ef" />
<rect x="355.77" y="152.80" width="16.18" height="3.00" fill="#f7c7c0" />
<rect x="371.65" y="152.80" width="16.18" height="3.00" fill="#faf4ee" />
<rect x="387.53" y="152.80" width="16.18" height="3.00" fill="#f7c4bd" />
<rect x="403.42" y="152.80" width="16.18" height="3.00" fill="#f1efee" />
<rect x="324.00" y="155.60" width="16.18" height="1.80" fill="#f7c1bb" />
<rect x="339.88" y="155.60" width="16.18" height="1.80" fill="#f3f0ee" />
<rect x="355.77" y="155.60" width="16.18" height="1.80" fill="#faeee8" />
<rect x="371.65" y="155.60" width="16.18" height="1.80" fill="#f8d7d1" />
<rect x="387.53" y="155.60" width="16.18" height="1.80" fill="#f6b7b1" />
<rect x="403.42" y="155.60" width="16.18" height="1.80" fill="#f7bfb9" />
<rect x="324.00" y="157.20" width="16.18" height="3.00" fill="#f8d7d1" />
<rect x="339.88" y="157.20" width="16.18" height="3.00" fill="#faede7" />
<rect x="355.77" y="157.20" width="16.18" height="3.00" fill="#f59b94" />
<rect x="371.65" y="157.20" width="16.18" height="3.00" fill="#f7c7c1" />
<rect x="387.53" y="157.20" width="16.18" height="3.00" fill="#f8d1ca" />
<rect x="403.42" y="157.20" width="16.18" height="3.00" fill="#faede7" />
<rect x="324.00" y="160.00" width="16.18" height="3.00" fill="#f5a39c" />
<rect x="339.88" y="160.00" width="16.18" height="3.00" fill="#f7bdb7" />
<rect x="355.77" y="160.00" width="16.18" height="3.00" fill="#f8cec8" />
<rect x="371.65" y="160.00" width="16.18" height="3.00" fill="#f5a7a0" />
<rect x="387.53" y="160.00" width="16.18" height="3.00" fill="#faeee8" />
<rect x="403.42" y="160.00" width="16.18" height="3.00" fill="#f6afa8" />
<rect x="324.00" y="162.80" width="16.18" height="1.80" fill="#f6ada6" />
<rect x="339.88" y="162.80" width="16.18" height="1.80" fill="#f3f0ee" />
<rect x="355.77" y="162.80" width="16.18" height="1.80" fill="#f7bfb9" />
<rect x="371.65" y="162.80" width="16.18" height="1.80" fill="#f6aba4" />
<rect x="387.53" y="162.80" width="16.18" height="1.80" fill="#f8d8d2" />
<rect x="403.42" y="162.80" width="16.18" height="1.80" fill="#f59f98" />
<rect x="324.00" y="164.40" width="16.18" height="1.40" fill="#f1efee" />
<rect x="339.88" y="164.40" width="16.18" height="1.40" fill="#f8dad4" />
<rect x="355.77" y="164.40" width="16.18" height="1.40" fill="#f8d2cc" />
<rect x="371.65" y="164.40" width="16.18" height="1.40" fill="#f9ddd6" />
<rect x="387.53" y="164.40" width="16.18" height="1.40" fill="#f7bab4" />
<rect x="403.42" y="164.40" width="16.18" height="1.40" fill="#faf0ea" />
<rect x="324.00" y="165.60" width="16.18" height="1.40" fill="#f8d1cb" />
<rect x="339.88" y="165.60" width="16.18" height="1.40" fill="#f6b5ae" />
<rect x="355.77" y="165.60" width="16.18" height="1.40" fill="#f5a69f" />
<rect x="371.65" y="165.60" width="16.18" height="1.40" fill="#f6b5af" />
<rect x="387.53" y="165.60" width="16.18" height="1.40" fill="#f6b2ab" />
<rect x="403.42" y="165.60" width="16.18" height="1.40" fill="#f48d85" />
<rect x="324.00" y="166.80" width="16.18" height="3.00" fill="#f6b2ab" />
<rect x="339.88" y="166.80" width="16.18" height="3.00" fill="#f8cdc7" />
<rect x="355.77" y="166.80" width="16.18" height="3.00" fill="#d4deef" />
<rect x="371.65" y="166.80" width="16.18" height="3.00" fill="#f9e1da" />
<rect x="387.53" y="166.80" width="16.18" height="3.00" fill="#f9ded8" />
<rect x="403.42" y="166.80" width="16.18" height="3.00" fill="#f6b3ac" />
<rect x="324.00" y="169.60" width="16.18" height="2.20" fill="#faf0ea" />
<rect x="339.88" y="169.60" width="16.18" height="2.20" fill="#f7b9b2" />
<rect x="355.77" y="169.60" width="16.18" height="2.20" fill="#f5a29b" />
<rect x="371.65" y="169.60" width="16.18" height="2.20" fill="#f7c4bd" />
<rect x="387.53" y="169.60" width="16.18" height="2.20" fill="#f7c8c1" />
<rect x="403.42" y="169.60" width="16.18" height="2.20" fill="#f6a9a2" />
<rect x="324.00" y="171.60" width="16.18" height="1.80" fill="#f7bdb7" />
<rect x="339.88" y="171.60" width="16.18" height="1.80" fill="#f8cac3" />
<rect x="355.77" y="171.60" width="16.18" height="1.80" fill="#f8d1cb" />
<rect x="371.65" y="171.60" width="16.18" height="1.80" fill="#f8d6d0" />
<rect x="387.53" y="171.60" width="16.18" height="1.80" fill="#f6ada6" />
<rect x="403.42" y="171.60" width="16.18" height="1.80" fill="#f8d3cc" />
<rect x="324.00" y="173.20" width="16.18" height="1.40" fill="#f9ddd7" />
<rect x="339.88" y="173.20" width="16.18" height="1.40" fill="#faf1eb" />
<rect x="355.77" y="173.20" width="16.18" height="1.40" fill="#f7bab4" />
<rect x="371.65" y="173.20" width="16.18" height="1.40" fill="#f9e4dd" />
<rect x="387.53" y="173.20" width="16.18" height="1.40" fill="#f9dcd5" />
<rect x="403.42" y="173.20" width="16.18" height="1.40" fill="#f8d8d2" />
<rect x="324.00" y="174.40" width="16.18" height="2.60" fill="#faede7" />
<rect x="339.88" y="174.40" width="16.18" height="2.60" fill="#f9ded8" />
<rect x="355.77" y="174.40" width="16.18" height="2.60" fill="#f9e5df" />
<rect x="371.65" y="174.40" width="16.18" height="2.60" fill="#f8d9d3" />
<rect x="387.53" y="174.40" width="16.18" height="2.60" fill="#f8d1ca" />
<rect x="403.42" y="174.40" width="16.18" height="2.60" fill="#f9e1db" />
<rect x="324.00" y="176.80" width="16.18" height="2.20" fill="#f6b3ad" />
<rect x="339.88" y="176.80" width="16.18" height="2.20" fill="#f8cdc7" />
<rect x="355.77" y="176.80" width="16.18" height="2.20" fill="#f59790" />
<rect x="371.65" y="176.80" width="16.18" height="2.20" fill="#f8ccc5" />
<rect x="387.53" y="176.80" width="16.18" height="2.20" fill="#f6afa8" />
<rect x="403.42" y="176.80" width="16.18" height="2.20" fill="#f7c8c1" />
<rect x="324.00" y="178.80" width="16.18" height="2.20" fill="#f6ada6" />
<rect x="339.88" y="178.80" width="16.18" height="2.20" fill="#f6b7b1" />
<rect x="355.77" y="178.80" width="16.18" height="2.20" fill="#f7bcb6" />
<rect x="371.65" y="178.80" width="16.18" height="2.20" fill="#f5968f" />
<rect x="387.53" y="178.80" width="16.18" height="2.20" fill="#f8d4cd" />
<rect x="403.42" y="178.80" width="16.18" height="2.20" fill="#f6a7a0" />
<rect x="324.00" y="180.80" width="16.18" height="1.40" fill="#f8cdc6" />
<rect x="339.88" y="180.80" width="16.18" height="1.40" fill="#faf2ec" />
<rect x="355.77" y="180.80" width="16.18" height="1.40" fill="#f7c1ba" />
<rect x="371.65" y="180.80" width="16.18" height="1.40" fill="#f9dbd5" />
<rect x="387.53" y="180.80" width="16.18" height="1.40" fill="#f9e2dc" />
<rect x="403.42" y="180.80" width="16.18" height="1.40" fill="#f6b5af" />
<rect x="324.00" y="182.00" width="16.18" height="1.80" fill="#f9f3ee" />
<rect x="339.88" y="182.00" width="16.18" height="1.80" fill="#f8d2cc" />
<rect x="355.77" y="182.00" width="16.18" height="1.80" fill="#f7bfb8" />
<rect x="371.65" y="182.00" width="16.18" height="1.80" fill="#f7c3bc" />
<rect x="387.53" y="182.00" width="16.18" height="1.80" fill="#f9e8e2" />
<rect x="403.42" y="182.00" width="16.18" height="1.80" fill="#f6aaa3" />
<rect x="324.00" y="183.60" width="16.18" height="1.80" fill="#f9dfd9" />
<rect x="339.88" y="183.60" width="16.18" height="1.80" fill="#faede7" />
<rect x="355.77" y="183.60" width="16.18" height="1.80" fill="#f8d8d2" />
<rect x="371.65" y="183.60" width="16.18" height="1.80" fill="#faf2ec" />
<rect x="387.53" y="183.60" width="16.18" height="1.80" fill="#f9e3dd" />
<rect x="403.42" y="183.60" width="16.18" height="1.80" fill="#dee4ef" />
<rect x="324.00" y="185.20" width="16.18" height="2.20" fill="#faf3ed" />
<rect x="339.88" y="185.20" width="16.18" height="2.20" fill="#d9e1ef" />
<rect x="355.77" y="185.20" width="16.18" height="2.20" fill="#faf1ea" />
<rect x="371.65" y="185.20" width="16.18" height="2.20" fill="#ebecee" />
<rect x="387.53" y="185.20" width="16.18" height="2.20" fill="#faf3ed" />
<rect x="403.42" y="185.20" width="16.18" height="2.20" fill="#ededee" />
<rect x="324.00" y="187.20" width="16.18" height="2.20" fill="#f7bab3" />
<rect x="339.88" y="187.20" width="16.18" height="2.20" fill="#f5a59e" />
<rect x="355.77" y="187.20" width="16.18" height="2.20" fill="#f8cbc5" />
<rect x="371.65" y="187.20" width="16.18" height="2.20" fill="#f6a9a2" />
<rect x="387.53" y="187.20" width="16.18" height="2.20" fill="#f4938c" />
<rect x="403.42" y="187.20" width="16.18" height="2.20" fill="#f48881" />
<rect x="324.00" y="189.20" width="16.18" height="1.40" fill="#f4857e" />
<rect x="339.88" y="189.20" width="16.18" height="1.40" fill="#f8d9d3" />
<rect x="355.77" y="189.20" width="16.18" height="1.40" fill="#f7bbb5" />
<rect x="371.65" y="189.20" width="16.18" height="1.40" fill="#f37e76" />
<rect x="387.53" y="189.20" width="16.18" height="1.40" fill="#f4f0ee" />
<rect x="403.42" y="189.20" width="16.18" height="1.40" fill="#f8cec7" />
<rect x="324.00" y="190.40" width="16.18" height="1.80" fill="#f7c7c0" />
<rect x="339.88" y="190.40" width="16.18" height="1.80" fill="#f7bdb6" />
<rect x="355.77" y="190.40" width="16.18" height="1.80" fill="#f8d6cf" />
<rect x="371.65" y="190.40" width="16.18" height="1.80" fill="#f8cdc7" />
<rect x="387.53" y="190.40" width="16.18" height="1.80" fill="#faf0ea" />
<rect x="403.42" y="190.40" width="16.18" height="1.80" fill="#f59e97" />
<rect x="324.00" y="192.00" width="16.18" height="1.80" fill="#f8cec8" />
<rect x="339.88" y="192.00" width="16.18" height="1.80" fill="#f8d0c9" />
<rect x="355.77" y="192.00" width="16.18" height="1.80" fill="#f5a39c" />
<rect x="371.65" y="192.00" width="16.18" height="1.80" fill="#f8c9c3" />
<rect x="387.53" y="192.00" width="16.18" height="1.80" fill="#f7bcb5" />
<rect x="403.42" y="192.00" width="16.18" height="1.80" fill="#f6b4ad" />
<rect x="324.00" y="193.60" width="16.18" height="2.20" fill="#f9dcd5" />
<rect x="339.88" y="193.60" width="16.18" height="2.20" fill="#f8d7d1" />
<rect x="355.77" y="193.60" width="16.18" height="2.20" fill="#f8cbc5" />
<rect x="371.65" y="193.60" width="16.18" height="2.20" fill="#f9ded8" />
<rect x="387.53" y="193.60" width="16.18" height="2.20" fill="#f7beb7" />
<rect x="403.42" y="193.60" width="16.18" height="2.20" fill="#efeeee" />
<rect x="324.00" y="195.60" width="16.18" height="1.40" fill="#f7b8b1" />
<rect x="339.88" y="195.60" width="16.18" height="1.40" fill="#faece6" />
<rect x="355.77" y="195.60" width="16.18" height="1.40" fill="#f7b8b2" />
<rect x="371.65" y="195.60" width="16.18" height="1.40" fill="#f59f98" />
<rect x="387.53" y="195.60" width="16.18" height="1.40" fill="#f9e3dd" />
<rect x="403.42" y="195.60" width="16.18" height="1.40" fill="#f7c9c2" />
<rect x="324.00" y="196.80" width="16.18" height="1.40" fill="#f6f2ee" />
<rect x="339.88" y="196.80" width="16.18" height="1.40" fill="#f7c0b9" />
<rect x="355.77" y="196.80" width="16.18" height="1.40" fill="#f6b4ad" />
<rect x="371.65" y="196.80" width="16.18" height="1.40" fill="#e5e8ef" />
<rect x="387.53" y="196.80" width="16.18" height="1.40" fill="#f9dfd9" />
<rect x="403.42" y="196.80" width="16.18" height="1.40" fill="#f8cdc7" />
<rect x="324.00" y="198.00" width="16.18" height="3.00" fill="#f9e3dd" />
<rect x="339.88" y="198.00" width="16.18" height="3.00" fill="#f6afa9" />
<rect x="355.77" y="198.00" width="16.18" height="3.00" fill="#f59d96" />
<rect x="371.65" y="198.00" width="16.18" height="3.00" fill="#f59c95" />
<rect x="387.53" y="198.00" width="16.18" height="3.00" fill="#f4948d" />
<rect x="403.42" y="198.00" width="16.18" height="3.00" fill="#f7c3bd" />
<rect x="324.00" y="200.80" width="16.18" height="2.60" fill="#f8cec8" />
<rect x="339.88" y="200.80" width="16.18" height="2.60" fill="#f9e6e0" />
<rect x="355.77" y="200.80" width="16.18" height="2.60" fill="#f9dfd9" />
<rect x="371.65" y="200.80" width="16.18" height="2.60" fill="#faefe9" />
<rect x="387.53" y="200.80" width="16.18" height="2.60" fill="#e5e8ef" />
<rect x="403.42" y="200.80" width="16.18" height="2.60" fill="#ececee" />
<rect x="324.00" y="203.20" width="16.18" height="2.20" fill="#f6b8b1" />
<rect x="339.88" y="203.20" width="16.18" height="2.20" fill="#f8d2cc" />
<rect x="355.77" y="203.20" width="16.18" height="2.20" fill="#f6b2ab" />
<rect x="371.65" y="203.20" width="16.18" height="2.20" fill="#f6b0a9" />
<rect x="387.53" y="203.20" width="16.18" height="2.20" fill="#f7c2bb" />
<rect x="403.42" y="203.20" width="16.18" height="2.20" fill="#f7c2bc" />
<rect x="324.00" y="205.20" width="16.18" height="1.80" fill="#f6aba4" />
<rect x="339.88" y="205.20" width="16.18" height="1.80" fill="#f5968f" />
<rect x="355.77" y="205.20" width="16.18" height="1.80" fill="#f5a099" />
<rect x="371.65" y="205.20" width="16.18" height="1.80" fill="#f5a39c" />
<rect x="387.53" y="205.20" width="16.18" height="1.80" fill="#f6aca5" />
<rect x="403.42" y="205.20" width="16.18" height="1.80" fill="#f37770" />
<rect x="324.00" y="206.80" width="16.18" height="2.20" fill="#d5dfef" />
<rect x="339.88" y="206.80" width="16.18" height="2.20" fill="#ececee" />
<rect x="355.77" y="206.80" width="16.18" height="2.20" fill="#f8d9d3" />
<rect x="371.65" y="206.80" width="16.18" height="2.20" fill="#f9ded8" />
<rect x="387.53" y="206.80" width="16.18" height="2.20" fill="#f5a69f" />
<rect x="403.42" y="206.80" width="16.18" height="2.20" fill="#faefe9" />
<rect x="324.00" y="208.80" width="16.18" height="1.40" fill="#f7c8c2" />
<rect x="339.88" y="208.80" width="16.18" height="1.40" fill="#f6ada6" />
<rect x="355.77" y="208.80" width="16.18" height="1.40" fill="#f8dad3" />
<rect x="371.65" y="208.80" width="16.18" height="1.40" fill="#f9dfd9" />
<rect x="387.53" y="208.80" width="16.18" height="1.40" fill="#f9dfd8" />
<rect x="403.42" y="208.80" width="16.18" height="1.40" fill="#f7beb7" />
<rect x="324.00" y="210.00" width="16.18" height="2.20" fill="#f7c3bc" />
<rect x="339.88" y="210.00" width="16.18" height="2.20" fill="#f9e0da" />
<rect x="355.77" y="210.00" width="16.18" height="2.20" fill="#f6b0a9" />
<rect x="371.65" y="210.00" width="16.18" height="2.20" fill="#f8cfc8" />
<rect x="387.53" y="210.00" width="16.18" height="2.20" fill="#f9e1db" />
<rect x="403.42" y="210.00" width="16.18" height="2.20" fill="#f7bbb5" />
<rect x="324.00" y="212.00" width="16.18" height="3.00" fill="#f8cec7" />
<rect x="339.88" y="212.00" width="16.18" height="3.00" fill="#f9e5df" />
<rect x="355.77" y="212.00" width="16.18" height="3.00" fill="#f8d5ce" />
<rect x="371.65" y="212.00" width="16.18" height="3.00" fill="#f7bfb8" />
<rect x="387.53" y="212.00" width="16.18" height="3.00" fill="#f9e7e1" />
<rect x="403.42" y="212.00" width="16.18" height="3.00" fill="#f8cfc8" />
<rect x="324.00" y="214.80" width="16.18" height="2.20" fill="#f9e1da" />
<rect x="339.88" y="214.80" width="16.18" height="2.20" fill="#f6b2ab" />
<rect x="355.77" y="214.80" width="16.18" height="2.20" fill="#f8cdc6" />
<rect x="371.65" y="214.80" width="16.18" height="2.20" fill="#f7c2bb" />
<rect x="387.53" y="214.80" width="16.18" height="2.20" fill="#f7beb8" />
<rect x="403.42" y="214.80" width="16.18" height="2.20" fill="#faf0ea" />
<rect x="324.00" y="216.80" width="16.18" height="3.00" fill="#f6aba4" />
<rect x="339.88" y="216.80" width="16.18" height="3.00" fill="#f6ada6" />
<rect x="355.77" y="216.80" width="16.18" height="3.00" fill="#f6aaa3" />
<rect x="371.65" y="216.80" width="16.18" height="3.00" fill="#f37f77" />
<rect x="387.53" y="216.80" width="16.18" height="3.00" fill="#f7bdb6" />
<rect x="403.42" y="216.80" width="16.18" height="3.00" fill="#f6b2ac" />
<rect x="324.00" y="219.60" width="16.18" height="1.40" fill="#f5a69f" />
<rect x="339.88" y="219.60" width="16.18" height="1.40" fill="#f8cec8" />
<rect x="355.77" y="219.60" width="16.18" height="1.40" fill="#f8d2cb" />
<rect x="371.65" y="219.60" width="16.18" height="1.40" fill="#f7bab3" />
<rect x="387.53" y="219.60" width="16.18" height="1.40" fill="#f7c1bb" />
<rect x="403.42" y="219.60" width="16.18" height="1.40" fill="#f6b7b0" />
<rect x="324.00" y="220.80" width="16.18" height="3.00" fill="#f7bfb9" />
<rect x="339.88" y="220.80" width="16.18" height="3.00" fill="#f8cdc7" />
<rect x="355.77" y="220.80" width="16.18" height="3.00" fill="#f7c7c1" />
<rect x="371.65" y="220.80" width="16.18" height="3.00" fill="#f8d3cc" />
<rect x="387.53" y="220.80" width="16.18" height="3.00" fill="#f8d7d1" />
<rect x="403.42" y="220.80" width="16.18" height="3.00" fill="#f6aba4" />
<rect x="324.00" y="223.60" width="16.18" height="1.80" fill="#f7bfb8" />
<rect x="339.88" y="223.60" width="16.18" height="1.80" fill="#f6b4ad" />
<rect x="355.77" y="223.60" width="16.18" height="1.80" fill="#f6b6af" />
<rect x="371.65" y="223.60" width="16.18" height="1.80" fill="#f6aea8" />
<rect x="387.53" y="223.60" width="16.18" height="1.80" fill="#f9e4de" />
<rect x="403.42" y="223.60" width="16.18" height="1.80" fill="#f7c3bd" />
<rect x="324.00" y="225.20" width="16.18" height="2.20" fill="#f8d4ce" />
<rect x="339.88" y="225.20" width="16.18" height="2.20" fill="#e8eaef" />
<rect x="355.77" y="225.20" width="16.18" height="2.20" fill="#f7c0b9" />
<rect x="371.65" y="225.20" width="16.18" height="2.20" fill="#f8d4ce" />
<rect x="387.53" y="225.20" width="16.18" height="2.20" fill="#d4deef" />
<rect x="403.42" y="225.20" width="16.18" height="2.20" fill="#f6b3ac" />
<rect x="324.00" y="227.20" width="16.18" height="1.80" fill="#f6b5ae" />
<rect x="339.88" y="227.20" width="16.18" height="1.80" fill="#dfe4ef" />
<rect x="355.77" y="227.20" width="16.18" height="1.80" fill="#f8d1ca" />
<rect x="371.65" y="227.20" width="16.18" height="1.80" fill="#f8d9d3" />
<rect x="387.53" y="227.20" width="16.18" height="1.80" fill="#f7beb7" />
<rect x="403.42" y="227.20" width="16.18" height="1.80" fill="#f6f2ee" />
<rect x="324.00" y="228.80" width="16.18" height="2.60" fill="#f48b83" />
<rect x="339.88" y="228.80" width="16.18" height="2.60" fill="#f6b3ac" />
<rect x="355.77" y="228.80" width="16.18" height="2.60" fill="#f7c2bc" />
<rect x="371.65" y="228.80" width="16.18" height="2.60" fill="#f59d96" />
<rect x="387.53" y="228.80" width="16.18" height="2.60" fill="#f6b7b0" />
<rect x="403.42" y="228.80" width="16.18" height="2.60" fill="#f8d3cd" />
<rect x="324.00" y="231.20" width="16.18" height="2.20" fill="#f6b0a9" />
<rect x="339.88" y="231.20" width="16.18" height="2.20" fill="#f7c5bf" />
<rect x="355.77" y="231.20" width="16.18" height="2.20" fill="#f8d7d1" />
<rect x="371.65" y="231.20" width="16.18" height="2.20" fill="#f4f1ee" />
<rect x="387.53" y="231.20" width="16.18" height="2.20" fill="#b6cef0" />
<rect x="403.42" y="231.20" width="16.18" height="2.20" fill="#f1efee" />
<rect x="324.00" y="233.20" width="16.18" height="3.00" fill="#f49089" />
<rect x="339.88" y="233.20" width="16.18" height="3.00" fill="#f8ccc6" />
<rect x="355.77" y="233.20" width="16.18" height="3.00" fill="#f6ada6" />
<rect x="371.65" y="233.20" width="16.18" height="3.00" fill="#f6b7b0" />
<rect x="387.53" y="233.20" width="16.18" height="3.00" fill="#f6b6af" />
<rect x="403.42" y="233.20" width="16.18" height="3.00" fill="#f48d85" />
<rect x="324.00" y="236.00" width="16.18" height="2.60" fill="#f7c7c1" />
<rect x="339.88" y="236.00" width="16.18" height="2.60" fill="#f7c7c0" />
<rect x="355.77" y="236.00" width="16.18" height="2.60" fill="#f5a59e" />
<rect x="371.65" y="236.00" width="16.18" height="2.60" fill="#f7f2ee" />
<rect x="387.53" y="236.00" width="16.18" height="2.60" fill="#f7c4bd" />
<rect x="403.42" y="236.00" width="16.18" height="2.60" fill="#f6a7a0" />
<rect x="324.00" y="238.40" width="16.18" height="2.20" fill="#f59e97" />
<rect x="339.88" y="238.40" width="16.18" height="2.20" fill="#f9e4de" />
<rect x="355.77" y="238.40" width="16.18" height="2.20" fill="#f7c3bc" />
<rect x="371.65" y="238.40" width="16.18" height="2.20" fill="#f7c3bc" />
<rect x="387.53" y="238.40" width="16.18" height="2.20" fill="#f7c4be" />
<rect x="403.42" y="238.40" width="16.18" height="2.20" fill="#f4958e" />
<rect x="324.00" y="240.40" width="16.18" height="3.00" fill="#f7c1ba" />
<rect x="339.88" y="240.40" width="16.18" height="3.00" fill="#f8d0ca" />
<rect x="355.77" y="240.40" width="16.18" height="3.00" fill="#f8d8d1" />
<rect x="371.65" y="240.40" width="16.18" height="3.00" fill="#f7c4bd" />
<rect x="387.53" y="240.40" width="16.18" height="3.00" fill="#f8cec7" />
<rect x="403.42" y="240.40" width="16.18" height="3.00" fill="#f9e2dc" />
<rect x="324.00" y="243.20" width="16.18" height="2.60" fill="#f5a099" />
<rect x="339.88" y="243.20" width="16.18" height="2.60" fill="#cbd9f0" />
<rect x="355.77" y="243.20" width="16.18" height="2.60" fill="#f8d8d2" />
<rect x="371.65" y="243.20" width="16.18" height="2.60" fill="#f8d1ca" />
<rect x="387.53" y="243.20" width="16.18" height="2.60" fill="#f8c9c3" />
<rect x="403.42" y="243.20" width="16.18" height="2.60" fill="#f8c9c3" />
<rect x="324.00" y="245.60" width="16.18" height="2.60" fill="#f7c6c0" />
<rect x="339.88" y="245.60" width="16.18" height="2.60" fill="#d5dfef" />
<rect x="355.77" y="245.60" width="16.18" height="2.60" fill="#f7c3bc" />
<rect x="371.65" y="245.60" width="16.18" height="2.60" fill="#f8d0c9" />
<rect x="387.53" y="245.60" width="16.18" height="2.60" fill="#f7b8b1" />
<rect x="403.42" y="245.60" width="16.18" height="2.60" fill="#f8cbc5" />
<rect x="324.00" y="248.00" width="16.18" height="2.20" fill="#e4e8ef" />
<rect x="339.88" y="248.00" width="16.18" height="2.20" fill="#f9e1db" />
<rect x="355.77" y="248.00" width="16.18" height="2.20" fill="#dce3ef" />
<rect x="371.65" y="248.00" width="16.18" height="2.20" fill="#f8dad4" />
<rect x="387.53" y="248.00" width="16.18" height="2.20" fill="#efeeee" />
<rect x="403.42" y="248.00" width="16.18" height="2.20" fill="#f9eae4" />
<rect x="324.00" y="250.00" width="16.18" height="1.80" fill="#f7c3bd" />
<rect x="339.88" y="250.00" width="16.18" height="1.80" fill="#f8d1cb" />
<rect x="355.77" y="250.00" width="16.18" height="1.80" fill="#f9ddd6" />
<rect x="371.65" y="250.00" width="16.18" height="1.80" fill="#f7c8c1" />
<rect x="387.53" y="250.00" width="16.18" height="1.80" fill="#f8d8d2" />
<rect x="403.42" y="250.00" width="16.18" height="1.80" fill="#f8d8d2" />
<rect x="324.00" y="251.60" width="16.18" height="1.40" fill="#faf3ed" />
<rect x="339.88" y="251.60" width="16.18" height="1.40" fill="#d9e1ef" />
<rect x="355.77" y="251.60" width="16.18" height="1.40" fill="#f6aca5" />
<rect x="371.65" y="251.60" width="16.18" height="1.40" fill="#f6b5ae" />
<rect x="387.53" y="251.60" width="16.18" height="1.40" fill="#f6b3ad" />
<rect x="403.42" y="251.60" width="16.18" height="1.40" fill="#f9f4ee" />
<rect x="324.00" y="252.80" width="16.18" height="2.20" fill="#f7c6c0" />
<rect x="339.88" y="252.80" width="16.18" height="2.20" fill="#f7c6bf" />
<rect x="355.77" y="252.80" width="16.18" height="2.20" fill="#f7bfb8" />
<rect x="371.65" y="252.80" width="16.18" height="2.20" fill="#f6aea7" />
<rect x="387.53" y="252.80" width="16.18" height="2.20" fill="#f8d9d3" />
<rect x="403.42" y="252.80" width="16.18" height="2.20" fill="#f6b0a9" />
<rect x="324.00" y="254.80" width="16.18" height="1.80" fill="#f2f0ee" />
<rect x="339.88" y="254.80" width="16.18" height="1.80" fill="#f9e6e0" />
<rect x="355.77" y="254.80" width="16.18" height="1.80" fill="#f8d6cf" />
<rect x="371.65" y="254.80" width="16.18" height="1.80" fill="#cbd9f0" />
<rect x="387.53" y="254.80" width="16.18" height="1.80" fill="#f8d0c9" />
<rect x="403.42" y="254.80" width="16.18" height="1.80" fill="#f8cec7" />
<rect x="324.00" y="256.40" width="16.18" height="3.00" fill="#f9dcd5" />
<rect x="339.88" y="256.40" width="16.18" height="3.00" fill="#faede7" />
<rect x="355.77" y="256.40" width="16.18" height="3.00" fill="#f8d6d0" />
<rect x="371.65" y="256.40" width="16.18" height="3.00" fill="#f8d9d3" />
<rect x="387.53" y="256.40" width="16.18" height="3.00" fill="#f9e9e3" />
<rect x="403.42" y="256.40" width="16.18" height="3.00" fill="#f9eae3" />
<rect x="324.00" y="259.20" width="16.18" height="1.40" fill="#e9ebef" />
<rect x="339.88" y="259.20" width="16.18" height="1.40" fill="#b3ccf0" />
<rect x="355.77" y="259.20" width="16.18" height="1.40" fill="#cedbef" />
<rect x="371.65" y="259.20" width="16.18" height="1.40" fill="#faede7" />
<rect x="387.53" y="259.20" width="16.18" height="1.40" fill="#dae2ef" />
<rect x="403.42" y="259.20" width="16.18" height="1.40" fill="#dae2ef" />
<rect x="324.00" y="260.40" width="16.18" height="2.60" fill="#f9ebe5" />
<rect x="339.88" y="260.40" width="16.18" height="2.60" fill="#f8d8d2" />
<rect x="355.77" y="260.40" width="16.18" height="2.60" fill="#f8d4cd" />
<rect x="371.65" y="260.40" width="16.18" height="2.60" fill="#e6e8ef" />
<rect x="387.53" y="260.40" width="16.18" height="2.60" fill="#f2efee" />
<rect x="403.42" y="260.40" width="16.18" height="2.60" fill="#f8d9d3" />
<rect x="324.00" y="262.80" width="16.18" height="2.20" fill="#faeee8" />
<rect x="339.88" y="262.80" width="16.18" height="2.20" fill="#f8d6d0" />
<rect x="355.77" y="262.80" width="16.18" height="2.20" fill="#faece6" />
<rect x="371.65" y="262.80" width="16.18" height="2.20" fill="#f5a49e" />
<rect x="387.53" y="262.80" width="16.18" height="2.20" fill="#faf0ea" />
<rect x="403.42" y="262.80" width="16.18" height="2.20" fill="#f6b6b0" />
<rect x="324.00" y="264.80" width="16.18" height="2.20" fill="#f9e4de" />
<rect x="339.88" y="264.80" width="16.18" height="2.20" fill="#f9e8e2" />
<rect x="355.77" y="264.80" width="16.18" height="2.20" fill="#dee4ef" />
<rect x="371.65" y="264.80" width="16.18" height="2.20" fill="#faf3ed" />
<rect x="387.53" y="264.80" width="16.18" height="2.20" fill="#e8eaef" />
<rect x="403.42" y="264.80" width="16.18" height="2.20" fill="#c1d4f0" />
<rect x="324.00" y="266.80" width="16.18" height="2.60" fill="#f6b1aa" />
<rect x="339.88" y="266.80" width="16.18" height="2.60" fill="#f9e0da" />
<rect x="355.77" y="266.80" width="16.18" height="2.60" fill="#f7bdb7" />
<rect x="371.65" y="266.80" width="16.18" height="2.60" fill="#f9e1da" />
<rect x="387.53" y="266.80" width="16.18" height="2.60" fill="#f7b9b2" />
<rect x="403.42" y="266.80" width="16.18" height="2.60" fill="#f9dcd6" />
<rect x="324.00" y="269.20" width="16.18" height="1.80" fill="#f9dad4" />
<rect x="339.88" y="269.20" width="16.18" height="1.80" fill="#f7c9c2" />
<rect x="355.77" y="269.20" width="16.18" height="1.80" fill="#f7bbb5" />
<rect x="371.65" y="269.20" width="16.18" height="1.80" fill="#f5f1ee" />
<rect x="387.53" y="269.20" width="16.18" height="1.80" fill="#f8d2cc" />
<rect x="403.42" y="269.20" width="16.18" height="1.80" fill="#f6b4ad" />
<rect x="324.00" y="270.80" width="16.18" height="1.80" fill="#f9e8e2" />
<rect x="339.88" y="270.80" width="16.18" height="1.80" fill="#f9eae4" />
<rect x="355.77" y="270.80" width="16.18" height="1.80" fill="#c1d4f0" />
<rect x="371.65" y="270.80" width="16.18" height="1.80" fill="#f5f1ee" />
<rect x="387.53" y="270.80" width="16.18" height="1.80" fill="#f9e3dd" />
<rect x="403.42" y="270.80" width="16.18" height="1.80" fill="#f9e1da" />
<rect x="324.00" y="272.40" width="16.18" height="1.80" fill="#f7c2bc" />
<rect x="339.88" y="272.40" width="16.18" height="1.80" fill="#f7c0ba" />
<rect x="355.77" y="272.40" width="16.18" height="1.80" fill="#f9dfd9" />
<rect x="371.65" y="272.40" width="16.18" height="1.80" fill="#efeeee" />
<rect x="387.53" y="272.40" width="16.18" height="1.80" fill="#f8d8d2" />
<rect x="403.42" y="272.40" width="16.18" height="1.80" fill="#eeedee" />
<rect x="324.00" y="274.00" width="16.18" height="3.00" fill="#e5e8ef" />
<rect x="339.88" y="274.00" width="16.18" height="3.00" fill="#b6cef0" />
<rect x="355.77" y="274.00" width="16.18" height="3.00" fill="#e4e8ef" />
<rect x="371.65" y="274.00" width="16.18" height="3.00" fill="#d8e1ef" />
<rect x="387.53" y="274.00" width="16.18" height="3.00" fill="#d6e0ef" />
<rect x="403.42" y="274.00" width="16.18" height="3.00" fill="#dce3ef" />
<rect x="324.00" y="276.80" width="16.18" height="1.80" fill="#faf3ed" />
<rect x="339.88" y="276.80" width="16.18" height="1.80" fill="#f9e5df" />
<rect x="355.77" y="276.80" width="16.18" height="1.80" fill="#f7c8c2" />
<rect x="371.65" y="276.80" width="16.18" height="1.80" fill="#f3f0ee" />
<rect x="387.53" y="276.80" width="16.18" height="1.80" fill="#faede7" />
<rect x="403.42" y="276.80" width="16.18" height="1.80" fill="#f8d3cc" />
<rect x="324.00" y="278.40" width="16.18" height="1.80" fill="#f7beb7" />
<rect x="339.88" y="278.40" width="16.18" height="1.80" fill="#f9ded7" />
<rect x="355.77" y="278.40" width="16.18" height="1.80" fill="#f9dcd6" />
<rect x="371.65" y="278.40" width="16.18" height="1.80" fill="#f9e6e0" />
<rect x="387.53" y="278.40" width="16.18" height="1.80" fill="#f9dfd9" />
<rect x="403.42" y="278.40" width="16.18" height="1.80" fill="#faece6" />
<rect x="324.00" y="280.00" width="16.18" height="3.00" fill="#e7e9ef" />
<rect x="339.88" y="280.00" width="16.18" height="3.00" fill="#d5dfef" />
<rect x="355.77" y="280.00" width="16.18" height="3.00" fill="#bad0f0" />
<rect x="371.65" y="280.00" width="16.18" height="3.00" fill="#d7e0ef" />
<rect x="387.53" y="280.00" width="16.18" height="3.00" fill="#e5e8ef" />
<rect x="403.42" y="280.00" width="16.18" height="3.00" fill="#b5cdf0" />
<rect x="324.00" y="282.80" width="16.18" height="3.00" fill="#f9e6e0" />
<rect x="339.88" y="282.80" width="16.18" height="3.00" fill="#f9e5df" />
<rect x="355.77" y="282.80" width="16.18" height="3.00" fill="#faf1eb" />
<rect x="371.65" y="282.80" width="16.18" height="3.00" fill="#faf3ed" />
<rect x="387.53" y="282.80" width="16.18" height="3.00" fill="#f9e3dd" />
<rect x="403.42" y="282.80" width="16.18" height="3.00" fill="#f6aca5" />
<rect x="324.00" y="285.60" width="16.18" height="2.60" fill="#e4e7ef" />
<rect x="339.88" y="285.60" width="16.18" height="2.60" fill="#f9eae4" />
<rect x="355.77" y="285.60" width="16.18" height="2.60" fill="#f8d4cd" />
<rect x="371.65" y="285.60" width="16.18" height="2.60" fill="#f9eae4" />
<rect x="387.53" y="285.60" width="16.18" height="2.60" fill="#f8cec7" />
<rect x="403.42" y="285.60" width="16.18" height="2.60" fill="#f8cec7" />
<rect x="324.00" y="288.00" width="16.18" height="1.40" fill="#f4f0ee" />
<rect x="339.88" y="288.00" width="16.18" height="1.40" fill="#dfe5ef" />
<rect x="355.77" y="288.00" width="16.18" height="1.40" fill="#faede7" />
<rect x="371.65" y="288.00" width="16.18" height="1.40" fill="#dde4ef" />
<rect x="387.53" y="288.00" width="16.18" height="1.40" fill="#d8e1ef" />
<rect x="403.42" y="288.00" width="16.18" height="1.40" fill="#d1ddef" />
<rect x="324.00" y="289.20" width="16.18" height="3.00" fill="#faf2ec" />
<rect x="339.88" y="289.20" width="16.18" height="3.00" fill="#f9dfd8" />
<rect x="355.77" y="289.20" width="16.18" height="3.00" fill="#f9ddd6" />
<rect x="371.65" y="289.20" width="16.18" height="3.00" fill="#f7bdb7" />
<rect x="387.53" y="289.20" width="16.18" height="3.00" fill="#f8d0ca" />
<rect x="403.42" y="289.20" width="16.18" height="3.00" fill="#f9dcd5" />
<rect x="324.00" y="292.00" width="16.18" height="1.80" fill="#f9dcd5" />
<rect x="339.88" y="292.00" width="16.18" height="1.80" fill="#e4e7ef" />
<rect x="355.77" y="292.00" width="16.18" height="1.80" fill="#f7c3bc" />
<rect x="371.65" y="292.00" width="16.18" height="1.80" fill="#e3e7ef" />
<rect x="387.53" y="292.00" width="16.18" height="1.80" fill="#f9eae4" />
<rect x="403.42" y="292.00" width="16.18" height="1.80" fill="#f8cfc8" />
<rect x="324.00" y="293.60" width="16.18" height="1.80" fill="#f8d7d1" />
<rect x="339.88" y="293.60" width="16.18" height="1.80" fill="#f9e8e2" />
<rect x="355.77" y="293.60" width="16.18" height="1.80" fill="#faede7" />
<rect x="371.65" y="293.60" width="16.18" height="1.80" fill="#f8d4cd" />
<rect x="387.53" y="293.60" width="16.18" height="1.80" fill="#f8f3ee" />
<rect x="403.42" y="293.60" width="16.18" height="1.80" fill="#f8d9d3" />
<rect x="324.00" y="295.20" width="16.18" height="3.00" fill="#f9e0da" />
<rect x="339.88" y="295.20" width="16.18" height="3.00" fill="#dce3ef" />
<rect x="355.77" y="295.20" width="16.18" height="3.00" fill="#d4dfef" />
<rect x="371.65" y="295.20" width="16.18" height="3.00" fill="#dce3ef" />
<rect x="387.53" y="295.20" width="16.18" height="3.00" fill="#e7e9ef" />
<rect x="403.42" y="295.20" width="16.18" height="3.00" fill="#f9e2dc" />
<rect x="324.00" y="298.00" width="16.18" height="1.80" fill="#f9e2db" />
<rect x="339.88" y="298.00" width="16.18" height="1.80" fill="#f8d1cb" />
<rect x="355.77" y="298.00" width="16.18" height="1.80" fill="#f3f0ee" />
<rect x="371.65" y="298.00" width="16.18" height="1.80" fill="#f9e4de" />
<rect x="387.53" y="298.00" width="16.18" height="1.80" fill="#e9ebef" />
<rect x="403.42" y="298.00" width="16.18" height="1.80" fill="#faede7" />
<rect x="324.00" y="299.60" width="16.18" height="3.00" fill="#f8cdc6" />
<rect x="339.88" y="299.60" width="16.18" height="3.00" fill="#f6f2ee" />
<rect x="355.77" y="299.60" width="16.18" height="3.00" fill="#f9e1da" />
<rect x="371.65" y="299.60" width="16.18" height="3.00" fill="#e8eaef" />
<rect x="387.53" y="299.60" width="16.18" height="3.00" fill="#b0caf0" />
<rect x="403.42" y="299.60" width="16.18" height="3.00" fill="#e2e6ef" />
<rect x="324.00" y="302.40" width="16.18" height="1.40" fill="#f8d6d0" />
<rect x="339.88" y="302.40" width="16.18" height="1.40" fill="#f9e3dd" />
<rect x="355.77" y="302.40" width="16.18" height="1.40" fill="#d6e0ef" />
<rect x="371.65" y="302.40" width="16.18" height="1.40" fill="#e4e7ef" />
<rect x="387.53" y="302.40" width="16.18" height="1.40" fill="#faece6" />
<rect x="403.42" y="302.40" width="16.18" height="1.40" fill="#e7e9ef" />
<rect x="324.00" y="303.60" width="16.18" height="2.20" fill="#faede7" />
<rect x="339.88" y="303.60" width="16.18" height="2.20" fill="#d2ddef" />
<rect x="355.77" y="303.60" width="16.18" height="2.20" fill="#f9dbd5" />
<rect x="371.65" y="303.60" width="16.18" height="2.20" fill="#f8cdc7" />
<rect x="387.53" y="303.60" width="16.18" height="2.20" fill="#f7c6c0" />
<rect x="403.42" y="303.60" width="16.18" height="2.20" fill="#f9dfd8" />
<rect x="324.00" y="305.60" width="16.18" height="2.20" fill="#f8cbc5" />
<rect x="339.88" y="305.60" width="16.18" height="2.20" fill="#f9e9e3" />
<rect x="355.77" y="305.60" width="16.18" height="2.20" fill="#b5cdf0" />
<rect x="371.65" y="305.60" width="16.18" height="2.20" fill="#f9ebe5" />
<rect x="387.53" y="305.60" width="16.18" height="2.20" fill="#b1cbf0" />
<rect x="403.42" y="305.60" width="16.18" height="2.20" fill="#d8e1ef" />
<rect x="324.00" y="307.60" width="16.18" height="2.20" fill="#c5d6f0" />
<rect x="339.88" y="307.60" width="16.18" height="2.20" fill="#c0d3f0" />
<rect x="355.77" y="307.60" width="16.18" height="2.20" fill="#acc8f1" />
<rect x="371.65" y="307.60" width="16.18" height="2.20" fill="#e0e5ef" />
<rect x="387.53" y="307.60" width="16.18" height="2.20" fill="#e8eaef" />
<rect x="403.42" y="307.60" width="16.18" height="2.20" fill="#f2efee" />
<rect x="324.00" y="309.60" width="16.18" height="1.40" fill="#f2f0ee" />
<rect x="339.88" y="309.60" width="16.18" height="1.40" fill="#e0e5ef" />
<rect x="355.77" y="309.60" width="16.18" height="1.40" fill="#faede7" />
<rect x="371.65" y="309.60" width="16.18" height="1.40" fill="#e7e9ef" />
<rect x="387.53" y="309.60" width="16.18" height="1.40" fill="#faf2ec" />
<rect x="403.42" y="309.60" width="16.18" height="1.40" fill="#c8d7f0" />
<rect x="324.00" y="310.80" width="16.18" height="1.80" fill="#b4cdf0" />
<rect x="339.88" y="310.80" width="16.18" height="1.80" fill="#f9ebe5" />
<rect x="355.77" y="310.80" width="16.18" height="1.80" fill="#eaebef" />
<rect x="371.65" y="310.80" width="16.18" height="1.80" fill="#e7e9ef" />
<rect x="387.53" y="310.80" width="16.18" height="1.80" fill="#e7e9ef" />
<rect x="403.42" y="310.80" width="16.18" height="1.80" fill="#a6c4f1" />
<rect x="324.00" y="312.40" width="16.18" height="1.55" fill="#f8cfc9" />
<rect x="339.88" y="312.40" width="16.18" height="1.55" fill="#f8cbc5" />
<rect x="355.77" y="312.40" width="16.18" height="1.55" fill="#eaebef" />
<rect x="371.65" y="312.40" width="16.18" height="1.55" fill="#f7f2ee" />
<rect x="387.53" y="312.40" width="16.18" height="1.55" fill="#f9e0d9" />
<rect x="403.42" y="312.40" width="16.18" height="1.55" fill="#f6b7b1" />
<line x1="419.50" y1="37.50" x2="419.50" y2="313.75" stroke="#222" stroke-width="1" />
<line x1="324.00" y1="313.50" x2="419.50" y2="313.50" stroke="#444" stroke-width="0.6" />
<rect x="324.00" y="66.30" width="95.50" height="1.90" fill="#111" />
<rect x="423.00" y="66.30" width="16.00" height="1.90" fill="#111" />
<rect x="443.00" y="66.30" width="16.00" height="1.90" fill="#111" />
<rect x="423.00" y="37.50" width="16.00" height="28.80" fill="#f04848" />
<rect x="423.00" y="68.00" width="16.00" height="1.25" fill="#7b6cf0" />
<rect x="423.00" y="69.10" width="16.00" height="1.25" fill="#f49090" />
<rect x="423.00" y="70.20" width="16.00" height="1.25" fill="#f04848" />
<rect x="423.00" y="71.30" width="16.00" height="0.85" fill="#f04848" />
<rect x="423.00" y="72.00" width="16.00" height="1.05" fill="#f04848" />
<rect x="423.00" y="72.90" width="16.00" height="0.85" fill="#f04848" />
<rect x="423.00" y="73.60" width="16.00" height="0.85" fill="#f04848" />
<rect x="423.00" y="74.30" width="16.00" height="1.25" fill="#aaa0f4" />
<rect x="423.00" y="75.40" width="16.00" height="1.05" fill="#7b6cf0" />
<rect x="423.00" y="76.30" width="16.00" height="1.05" fill="#f04848" />
<rect x="423.00" y="77.20" width="16.00" height="1.25" fill="#aaa0f4" />
<rect x="423.00" y="78.30" width="16.00" height="0.85" fill="#f04848" />
<rect x="423.00" y="79.00" width="16.00" height="1.05" fill="#f04848" />
<rect x="423.00" y="79.90" width="16.00" height="0.85" fill="#f04848" />
<rect x="423.00" y="80.60" width="16.00" height="0.85" fill="#7b6cf0" />
<rect x="423.00" y="81.30" width="16.00" height="1.25" fill="#aaa0f4" />
<rect x="423.00" y="82.40" width="16.00" height="1.05" fill="#7b6cf0" />
<rect x="423.00" y="83.30" width="16.00" height="1.25" fill="#aaa0f4" />
<rect x="423.00" y="84.40" width="16.00" height="1.25" fill="#fbfbe6" />
<rect x="423.00" y="85.50" width="16.00" height="1.05" fill="#aaa0f4" />
<rect x="423.00" y="86.40" width="16.00" height="0.85" fill="#f04848" />
<rect x="423.00" y="87.10" width="16.00" height="0.85" fill="#f04848" />
<rect x="423.00" y="87.80" width="16.00" height="1.25" fill="#f04848" />
<rect x="423.00" y="88.90" width="16.00" height="1.05" fill="#f04848" />
<rect x="423.00" y="89.80" width="16.00" height="1.25" fill="#f49090" />
<rect x="423.00" y="90.90" width="16.00" height="1.25" fill="#aaa0f4" />
<rect x="423.00" y="92.00" width="16.00" height="1.25" fill="#f49090" />
<rect x="423.00" y="93.10" width="16.00" height="1.25" fill="#f04848" />
<rect x="423.00" y="94.20" width="16.00" height="1.25" fill="#f49090" />
<rect x="423.00" y="95.30" width="16.00" height="0.85" fill="#f04848" />
<rect x="423.00" y="96.00" width="16.00" height="1.25" fill="#7b6cf0" />
<rect x="423.00" y="97.10" width="16.00" height="0.85" fill="#f04848" />
<rect x="423.00" y="97.80" width="16.00" height="0.85" fill="#f04848" />
<rect x="423.00" y="98.50" width="16.00" height="0.85" fill="#f04848" />
<rect x="423.00" y="99.20" width="16.00" height="1.25" fill="#aaa0f4" />
<rect x="423.00" y="100.30" width="16.00" height="1.25" fill="#f49090" />
<rect x="423.00" y="101.40" width="16.00" height="1.05" fill="#f49090" />
<rect x="423.00" y="102.30" width="16.00" height="1.25" fill="#7b6cf0" />
<rect x="423.00" y="103.40" width="16.00" height="1.25" fill="#7b6cf0" />
<rect x="423.00" y="104.50" width="16.00" height="0.85" fill="#f04848" />
<rect x="423.00" y="105.20" width="16.00" height="1.25" fill="#f49090" />
<rect x="423.00" y="106.30" width="16.00" height="1.25" fill="#f04848" />
<rect x="423.00" y="107.40" width="16.00" height="0.85" fill="#aaa0f4" />
<rect x="423.00" y="108.10" width="16.00" height="1.05" fill="#f04848" />
<rect x="423.00" y="109.00" width="16.00" height="0.85" fill="#f49090" />
<rect x="423.00" y="109.70" width="16.00" height="0.85" fill="#7b6cf0" />
<rect x="423.00" y="110.40" width="16.00" height="1.05" fill="#aaa0f4" />
<rect x="423.00" y="111.30" width="16.00" height="1.05" fill="#aaa0f4" />
<rect x="423.00" y="112.20" width="16.00" height="0.85" fill="#7b6cf0" />
<rect x="423.00" y="112.90" width="16.00" height="1.25" fill="#7b6cf0" />
<rect x="423.00" y="114.00" width="16.00" height="1.25" fill="#f04848" />
<rect x="423.00" y="115.10" width="16.00" height="1.25" fill="#7b6cf0" />
<rect x="423.00" y="116.20" width="16.00" height="1.05" fill="#f04848" />
<rect x="423.00" y="117.10" width="16.00" height="0.85" fill="#f49090" />
<rect x="423.00" y="117.80" width="16.00" height="0.85" fill="#f04848" />
<rect x="423.00" y="118.50" width="16.00" height="1.05" fill="#aaa0f4" />
<rect x="423.00" y="119.40" width="16.00" height="1.05" fill="#aaa0f4" />
<rect x="423.00" y="120.30" width="16.00" height="1.25" fill="#f49090" />
<rect x="423.00" y="121.40" width="16.00" height="1.05" fill="#aaa0f4" />
<rect x="423.00" y="122.30" width="16.00" height="0.85" fill="#f04848" />
<rect x="423.00" y="123.00" width="16.00" height="1.25" fill="#7b6cf0" />
<rect x="423.00" y="124.10" width="16.00" height="1.25" fill="#7b6cf0" />
<rect x="423.00" y="125.20" width="16.00" height="0.75" fill="#f04848" />
<rect x="423.00" y="128.00" width="16.00" height="1.05" fill="#fbfbe6" />
<rect x="423.00" y="128.90" width="16.00" height="1.35" fill="#f49090" />
<rect x="423.00" y="130.10" width="16.00" height="0.85" fill="#fbfbe6" />
<rect x="423.00" y="130.80" width="16.00" height="1.05" fill="#fbfbe6" />
<rect x="423.00" y="131.70" width="16.00" height="1.35" fill="#fbfbe6" />
<rect x="423.00" y="132.90" width="16.00" height="1.05" fill="#fbfbe6" />
<rect x="423.00" y="133.80" width="16.00" height="1.35" fill="#fbfbe6" />
<rect x="423.00" y="135.00" width="16.00" height="1.05" fill="#7b6cf0" />
<rect x="423.00" y="135.90" width="16.00" height="1.35" fill="#fbfbe6" />
<rect x="423.00" y="137.10" width="16.00" height="1.35" fill="#f04848" />
<rect x="423.00" y="138.30" width="16.00" height="1.35" fill="#aaa0f4" />
<rect x="423.00" y="139.50" width="16.00" height="1.35" fill="#fbfbe6" />
<rect x="423.00" y="140.70" width="16.00" height="1.05" fill="#7b6cf0" />
<rect x="423.00" y="141.60" width="16.00" height="1.05" fill="#fbfbe6" />
<rect x="423.00" y="142.50" width="16.00" height="0.85" fill="#fbfbe6" />
<rect x="423.00" y="143.20" width="16.00" height="1.35" fill="#fbfbe6" />
<rect x="423.00" y="144.40" width="16.00" height="0.85" fill="#fbfbe6" />
<rect x="423.00" y="145.10" width="16.00" height="1.05" fill="#fbfbe6" />
<rect x="423.00" y="146.00" width="16.00" height="1.35" fill="#fbfbe6" />
<rect x="423.00" y="147.20" width="16.00" height="1.35" fill="#7b6cf0" />
<rect x="423.00" y="148.40" width="16.00" height="0.85" fill="#fbfbe6" />
<rect x="423.00" y="149.10" width="16.00" height="1.35" fill="#fbfbe6" />
<rect x="423.00" y="150.30" width="16.00" height="0.85" fill="#fbfbe6" />
<rect x="423.00" y="151.00" width="16.00" height="0.85" fill="#fbfbe6" />
<rect x="423.00" y="151.70" width="16.00" height="1.35" fill="#fbfbe6" />
<rect x="423.00" y="152.90" width="16.00" height="0.85" fill="#fbfbe6" />
<rect x="423.00" y="153.60" width="16.00" height="0.85" fill="#7b6cf0" />
<rect x="423.00" y="154.30" width="16.00" height="0.85" fill="#fbfbe6" />
<rect x="423.00" y="155.00" width="16.00" height="1.35" fill="#fbfbe6" />
<rect x="423.00" y="156.20" width="16.00" height="1.05" fill="#aaa0f4" />
<rect x="423.00" y="157.10" width="16.00" height="0.85" fill="#fbfbe6" />
<rect x="423.00" y="157.80" width="16.00" height="1.05" fill="#fbfbe6" />
<rect x="423.00" y="158.70" width="16.00" height="0.85" fill="#fbfbe6" />
<rect x="423.00" y="159.40" width="16.00" height="1.05" fill="#fbfbe6" />
<rect x="423.00" y="160.30" width="16.00" height="1.35" fill="#fbfbe6" />
<rect x="423.00" y="161.50" width="16.00" height="1.05" fill="#fbfbe6" />
<rect x="423.00" y="162.40" width="16.00" height="0.85" fill="#fbfbe6" />
<rect x="423.00" y="163.10" width="16.00" height="1.35" fill="#fbfbe6" />
<rect x="423.00" y="164.30" width="16.00" height="1.35" fill="#fbfbe6" />
<rect x="423.00" y="165.50" width="16.00" height="1.05" fill="#fbfbe6" />
<rect x="423.00" y="166.40" width="16.00" height="1.35" fill="#fbfbe6" />
<rect x="423.00" y="167.60" width="16.00" height="1.05" fill="#fbfbe6" />
<rect x="423.00" y="168.50" width="16.00" height="1.35" fill="#fbfbe6" />
<rect x="423.00" y="169.70" width="16.00" height="1.35" fill="#fbfbe6" />
<rect x="423.00" y="170.90" width="16.00" height="0.85" fill="#fbfbe6" />
<rect x="423.00" y="171.60" width="16.00" height="1.35" fill="#7b6cf0" />
<rect x="423.00" y="172.80" width="16.00" height="1.05" fill="#fbfbe6" />
<rect x="423.00" y="173.70" width="16.00" height="0.85" fill="#fbfbe6" />
<rect x="423.00" y="174.40" width="16.00" height="0.85" fill="#fbfbe6" />
<rect x="423.00" y="175.10" width="16.00" height="1.35" fill="#fbfbe6" />
<rect x="423.00" y="176.30" width="16.00" height="0.85" fill="#fbfbe6" />
<rect x="423.00" y="177.00" width="16.00" height="1.05" fill="#fbfbe6" />
<rect x="423.00" y="177.90" width="16.00" height="0.85" fill="#fbfbe6" />
<rect x="423.00" y="178.60" width="16.00" height="1.05" fill="#fbfbe6" />
<rect x="423.00" y="179.50" width="16.00" height="1.35" fill="#fbfbe6" />
<rect x="423.00" y="180.70" width="16.00" height="0.85" fill="#fbfbe6" />
<rect x="423.00" y="181.40" width="16.00" height="1.05" fill="#fbfbe6" />
<rect x="423.00" y="182.30" width="16.00" height="1.05" fill="#fbfbe6" />
<rect x="423.00" y="183.20" width="16.00" height="0.85" fill="#f04848" />
<rect x="423.00" y="183.90" width="16.00" height="0.85" fill="#fbfbe6" />
<rect x="423.00" y="184.60" width="16.00" height="0.85" fill="#fbfbe6" />
<rect x="423.00" y="185.30" width="16.00" height="0.85" fill="#fbfbe6" />
<rect x="423.00" y="186.00" width="16.00" height="1.05" fill="#fbfbe6" />
<rect x="423.00" y="186.90" width="16.00" height="1.35" fill="#fbfbe6" />
<rect x="423.00" y="188.10" width="16.00" height="0.85" fill="#fbfbe6" />
<rect x="423.00" y="188.80" width="16.00" height="1.05" fill="#fbfbe6" />
<rect x="423.00" y="189.70" width="16.00" height="1.05" fill="#fbfbe6" />
<rect x="423.00" y="190.60" width="16.00" height="1.05" fill="#fbfbe6" />
<rect x="423.00" y="191.50" width="16.00" height="1.35" fill="#7b6cf0" />
<rect x="423.00" y="192.70" width="16.00" height="0.85" fill="#fbfbe6" />
<rect x="423.00" y="193.40" width="16.00" height="1.35" fill="#fbfbe6" />
<rect x="423.00" y="194.60" width="16.00" height="0.85" fill="#fbfbe6" />
<rect x="423.00" y="195.30" width="16.00" height="1.05" fill="#fbfbe6" />
<rect x="423.00" y="196.20" width="16.00" height="0.85" fill="#f49090" />
<rect x="423.00" y="196.90" width="16.00" height="1.35" fill="#fbfbe6" />
<rect x="423.00" y="198.10" width="16.00" height="1.05" fill="#fbfbe6" />
<rect x="423.00" y="199.00" width="16.00" height="0.85" fill="#fbfbe6" />
<rect x="423.00" y="199.70" width="16.00" height="1.35" fill="#fbfbe6" />
<rect x="423.00" y="200.90" width="16.00" height="1.35" fill="#fbfbe6" />
<rect x="423.00" y="202.10" width="16.00" height="1.05" fill="#fbfbe6" />
<rect x="423.00" y="203.00" width="16.00" height="0.85" fill="#aaa0f4" />
<rect x="423.00" y="203.70" width="16.00" height="1.35" fill="#aaa0f4" />
<rect x="423.00" y="204.90" width="16.00" height="1.35" fill="#fbfbe6" />
<rect x="423.00" y="206.10" width="16.00" height="0.85" fill="#fbfbe6" />
<rect x="423.00" y="206.80" width="16.00" height="1.35" fill="#fbfbe6" />
<rect x="423.00" y="208.00" width="16.00" height="1.05" fill="#fbfbe6" />
<rect x="423.00" y="208.90" width="16.00" height="1.05" fill="#fbfbe6" />
<rect x="423.00" y="209.80" width="16.00" height="1.35" fill="#aaa0f4" />
<rect x="423.00" y="211.00" width="16.00" height="1.05" fill="#fbfbe6" />
<rect x="423.00" y="211.90" width="16.00" height="0.85" fill="#fbfbe6" />
<rect x="423.00" y="212.60" width="16.00" height="1.05" fill="#fbfbe6" />
<rect x="423.00" y="213.50" width="16.00" height="1.05" fill="#fbfbe6" />
<rect x="423.00" y="214.40" width="16.00" height="1.05" fill="#f49090" />
<rect x="423.00" y="215.30" width="16.00" height="1.05" fill="#fbfbe6" />
<rect x="423.00" y="216.20" width="16.00" height="1.35" fill="#fbfbe6" />
<rect x="423.00" y="217.40" width="16.00" height="1.05" fill="#fbfbe6" />
<rect x="423.00" y="218.30" width="16.00" height="1.35" fill="#fbfbe6" />
<rect x="423.00" y="219.50" width="16.00" height="1.35" fill="#fbfbe6" />
<rect x="423.00" y="220.70" width="16.00" height="0.85" fill="#fbfbe6" />
<rect x="423.00" y="221.40" width="16.00" height="1.05" fill="#f49090" />
<rect x="423.00" y="222.30" width="16.00" height="1.05" fill="#fbfbe6" />
<rect x="423.00" y="223.20" width="16.00" height="0.85" fill="#fbfbe6" />
<rect x="423.00" y="223.90" width="16.00" height="1.05" fill="#fbfbe6" />
<rect x="423.00" y="224.80" width="16.00" height="0.85" fill="#fbfbe6" />
<rect x="423.00" y="225.50" width="16.00" height="0.85" fill="#fbfbe6" />
<rect x="423.00" y="226.20" width="16.00" height="1.35" fill="#fbfbe6" />
<rect x="423.00" y="227.40" width="16.00" height="1.35" fill="#7b6cf0" />
<rect x="423.00" y="228.60" width="16.00" height="0.85" fill="#7b6cf0" />
<rect x="423.00" y="229.30" width="16.00" height="0.85" fill="#fbfbe6" />
<rect x="423.00" y="230.00" width="16.00" height="1.05" fill="#fbfbe6" />
<rect x="423.00" y="230.90" width="16.00" height="0.85" fill="#fbfbe6" />
<rect x="423.00" y="231.60" width="16.00" height="1.35" fill="#fbfbe6" />
<rect x="423.00" y="232.80" width="16.00" height="0.85" fill="#fbfbe6" />
<rect x="423.00" y="233.50" width="16.00" height="1.35" fill="#fbfbe6" />
<rect x="423.00" y="234.70" width="16.00" height="1.05" fill="#aaa0f4" />
<rect x="423.00" y="235.60" width="16.00" height="1.35" fill="#f49090" />
<rect x="423.00" y="236.80" width="16.00" height="1.35" fill="#fbfbe6" />
<rect x="423.00" y="238.00" width="16.00" height="1.35" fill="#7b6cf0" />
<rect x="423.00" y="239.20" width="16.00" height="0.85" fill="#fbfbe6" />
<rect x="423.00" y="239.90" width="16.00" height="1.35" fill="#f04848" />
<rect x="423.00" y="241.10" width="16.00" height="0.85" fill="#fbfbe6" />
<rect x="423.00" y="241.80" width="16.00" height="0.85" fill="#fbfbe6" />
<rect x="423.00" y="242.50" width="16.00" height="1.35" fill="#fbfbe6" />
<rect x="423.00" y="243.70" width="16.00" height="1.35" fill="#f49090" />
<rect x="423.00" y="244.90" width="16.00" height="1.05" fill="#fbfbe6" />
<rect x="423.00" y="245.80" width="16.00" height="1.05" fill="#fbfbe6" />
<rect x="423.00" y="246.70" width="16.00" height="1.05" fill="#fbfbe6" />
<rect x="423.00" y="247.60" width="16.00" height="1.05" fill="#fbfbe6" />
<rect x="423.00" y="248.50" width="16.00" height="1.35" fill="#f04848" />
<rect x="423.00" y="249.70" width="16.00" height="1.35" fill="#fbfbe6" />
<rect x="423.00" y="250.90" width="16.00" height="0.85" fill="#fbfbe6" />
<rect x="423.00" y="251.60" width="16.00" height="1.35" fill="#fbfbe6" />
<rect x="423.00" y="252.80" width="16.00" height="1.05" fill="#fbfbe6" />
<rect x="423.00" y="253.70" width="16.00" height="0.85" fill="#fbfbe6" />
<rect x="423.00" y="254.40" width="16.00" height="1.05" fill="#fbfbe6" />
<rect x="423.00" y="255.30" width="16.00" height="0.85" fill="#f49090" />
<rect x="423.00" y="256.00" width="16.00" height="1.35" fill="#7b6cf0" />
<rect x="423.00" y="257.20" width="16.00" height="1.35" fill="#fbfbe6" />
<rect x="423.00" y="258.40" width="16.00" height="1.05" fill="#fbfbe6" />
<rect x="423.00" y="259.30" width="16.00" height="1.35" fill="#fbfbe6" />
<rect x="423.00" y="260.50" width="16.00" height="0.85" fill="#fbfbe6" />
<rect x="423.00" y="261.20" width="16.00" height="1.05" fill="#fbfbe6" />
<rect x="423.00" y="262.10" width="16.00" height="1.35" fill="#f04848" />
<rect x="423.00" y="263.30" width="16.00" height="1.05" fill="#fbfbe6" />
<rect x="423.00" y="264.20" width="16.00" height="1.05" fill="#fbfbe6" />
<rect x="423.00" y="265.10" width="16.00" height="1.05" fill="#fbfbe6" />
<rect x="423.00" y="266.00" width="16.00" height="1.05" fill="#fbfbe6" />
<rect x="423.00" y="266.90" width="16.00" height="1.35" fill="#fbfbe6" />
<rect x="423.00" y="268.10" width="16.00" height="0.85" fill="#fbfbe6" />
<rect x="423.00" y="268.80" width="16.00" height="1.05" fill="#fbfbe6" />
<rect x="423.00" y="269.70" width="16.00" height="0.85" fill="#fbfbe6" />
<rect x="423.00" y="270.40" width="16.00" height="1.35" fill="#f49090" />
<rect x="423.00" y="271.60" width="16.00" height="1.05" fill="#fbfbe6" />
<rect x="423.00" y="272.50" width="16.00" height="1.05" fill="#fbfbe6" />
<rect x="423.00" y="273.40" width="16.00" height="0.85" fill="#fbfbe6" />
<rect x="423.00" y="274.10" width="16.00" height="0.85" fill="#f04848" />
<rect x="423.00" y="274.80" width="16.00" height="1.05" fill="#fbfbe6" />
<rect x="423.00" y="275.70" width="16.00" height="1.35" fill="#f04848" />
<rect x="423.00" y="276.90" width="16.00" height="1.35" fill="#fbfbe6" />
<rect x="423.00" y="278.10" width="16.00" height="1.35" fill="#aaa0f4" />
<rect x="423.00" y="279.30" width="16.00" height="1.35" fill="#fbfbe6" />
<rect x="423.00" y="280.50" width="16.00" height="1.35" fill="#f04848" />
<rect x="423.00" y="281.70" width="16.00" height="1.35" fill="#fbfbe6" />
<rect x="423.00" y="282.90" width="16.00" height="0.85" fill="#7b6cf0" />
<rect x="423.00" y="283.60" width="16.00" height="0.85" fill="#fbfbe6" />
<rect x="423.00" y="284.30" width="16.00" height="0.85" fill="#fbfbe6" />
<rect x="423.00" y="285.00" width="16.00" height="1.35" fill="#f49090" />
<rect x="423.00" y="286.20" width="16.00" height="0.85" fill="#fbfbe6" />
<rect x="423.00" y="286.90" width="16.00" height="1.35" fill="#fbfbe6" />
<rect x="423.00" y="288.10" width="16.00" height="1.05" fill="#7b6cf0" />
<rect x="423.00" y="289.00" width="16.00" height="0.85" fill="#fbfbe6" />
<rect x="423.00" y="289.70" width="16.00" height="1.35" fill="#fbfbe6" />
<rect x="423.00" y="290.90" width="16.00" height="0.85" fill="#fbfbe6" />
<rect x="423.00" y="291.60" width="16.00" height="1.35" fill="#f04848" />
<rect x="423.00" y="292.80" width="16.00" height="1.05" fill="#fbfbe6" />
<rect x="423.00" y="293.70" width="16.00" height="1.05" fill="#fbfbe6" />
<rect x="423.00" y="294.60" width="16.00" height="0.85" fill="#fbfbe6" />
<rect x="423.00" y="295.30" width="16.00" height="1.35" fill="#fbfbe6" />
<rect x="423.00" y="296.50" width="16.00" height="1.35" fill="#fbfbe6" />
<rect x="423.00" y="297.70" width="16.00" height="1.05" fill="#fbfbe6" />
<rect x="423.00" y="298.60" width="16.00" height="1.35" fill="#aaa0f4" />
<rect x="423.00" y="299.80" width="16.00" height="0.85" fill="#fbfbe6" />
<rect x="423.00" y="300.50" width="16.00" height="1.35" fill="#f04848" />
<rect x="423.00" y="301.70" width="16.00" height="1.35" fill="#fbfbe6" />
<rect x="423.00" y="302.90" width="16.00" height="0.85" fill="#fbfbe6" />
<rect x="423.00" y="303.60" width="16.00" height="0.85" fill="#7b6cf0" />
<rect x="423.00" y="304.30" width="16.00" height="1.35" fill="#fbfbe6" />
<rect x="423.00" y="305.50" width="16.00" height="1.05" fill="#fbfbe6" />
<rect x="423.00" y="306.40" width="16.00" height="0.85" fill="#fbfbe6" />
<rect x="423.00" y="307.10" width="16.00" height="1.05" fill="#fbfbe6" />
<rect x="423.00" y="308.00" width="16.00" height="1.35" fill="#fbfbe6" />
<rect x="423.00" y="309.20" width="16.00" height="0.85" fill="#fbfbe6" />
<rect x="423.00" y="309.90" width="16.00" height="0.85" fill="#fbfbe6" />
<rect x="423.00" y="310.60" width="16.00" height="1.35" fill="#fbfbe6" />
<rect x="423.00" y="311.80" width="16.00" height="1.05" fill="#fbfbe6" />
<rect x="423.00" y="312.70" width="16.00" height="1.05" fill="#fbfbe6" />
<rect x="423.00" y="313.60" width="16.00" height="0.30" fill="#fbfbe6" />
<rect x="443.00" y="37.50" width="16.00" height="0.95" fill="#f49090" />
<rect x="443.00" y="38.30" width="16.00" height="1.55" fill="#7b6cf0" />
<rect x="443.00" y="39.70" width="16.00" height="1.15" fill="#aaa0f4" />
<rect x="443.00" y="40.70" width="16.00" height="1.15" fill="#7b6cf0" />
<rect x="443.00" y="41.70" width="16.00" height="1.55" fill="#7b6cf0" />
<rect x="443.00" y="43.10" width="16.00" height="0.95" fill="#f49090" />
<rect x="443.00" y="43.90" width="16.00" height="1.15" fill="#fbfbe6" />
<rect x="443.00" y="44.90" width="16.00" height="0.95" fill="#7b6cf0" />
<rect x="443.00" y="45.70" width="16.00" height="1.15" fill="#7b6cf0" />
<rect x="443.00" y="46.70" width="16.00" height="1.15" fill="#7b6cf0" />
<rect x="443.00" y="47.70" width="16.00" height="1.15" fill="#f04848" />
<rect x="443.00" y="48.70" width="16.00" height="1.55" fill="#aaa0f4" />
<rect x="443.00" y="50.10" width="16.00" height="1.15" fill="#aaa0f4" />
<rect x="443.00" y="51.10" width="16.00" height="0.95" fill="#aaa0f4" />
<rect x="443.00" y="51.90" width="16.00" height="1.15" fill="#aaa0f4" />
<rect x="443.00" y="52.90" width="16.00" height="0.95" fill="#aaa0f4" />
<rect x="443.00" y="53.70" width="16.00" height="1.55" fill="#7b6cf0" />
<rect x="443.00" y="55.10" width="16.00" height="1.15" fill="#f04848" />
<rect x="443.00" y="56.10" width="16.00" height="1.15" fill="#f04848" />
<rect x="443.00" y="57.10" width="16.00" height="0.95" fill="#f04848" />
<rect x="443.00" y="57.90" width="16.00" height="1.55" fill="#f49090" />
<rect x="443.00" y="59.30" width="16.00" height="1.55" fill="#aaa0f4" />
<rect x="443.00" y="60.70" width="16.00" height="1.15" fill="#7b6cf0" />
<rect x="443.00" y="61.70" width="16.00" height="1.15" fill="#7b6cf0" />
<rect x="443.00" y="62.70" width="16.00" height="1.55" fill="#fbfbe6" />
<rect x="443.00" y="64.10" width="16.00" height="0.95" fill="#7b6cf0" />
<rect x="443.00" y="64.90" width="16.00" height="1.15" fill="#7b6cf0" />
<rect x="443.00" y="65.90" width="16.00" height="0.55" fill="#7b6cf0" />
<rect x="443.00" y="68.00" width="16.00" height="0.95" fill="#7b6cf0" />
<rect x="443.00" y="68.80" width="16.00" height="0.95" fill="#fbfbe6" />
<rect x="443.00" y="69.60" width="16.00" height="0.75" fill="#7b6cf0" />
<rect x="443.00" y="70.20" width="16.00" height="0.95" fill="#fbfbe6" />
<rect x="443.00" y="71.00" width="16.00" height="1.15" fill="#7b6cf0" />
<rect x="443.00" y="72.00" width="16.00" height="0.75" fill="#f04848" />
<rect x="443.00" y="72.60" width="16.00" height="0.75" fill="#fbfbe6" />
<rect x="443.00" y="73.20" width="16.00" height="0.95" fill="#7b6cf0" />
<rect x="443.00" y="74.00" width="16.00" height="0.95" fill="#fbfbe6" />
<rect x="443.00" y="74.80" width="16.00" height="0.75" fill="#f49090" />
<rect x="443.00" y="75.40" width="16.00" height="0.95" fill="#7b6cf0" />
<rect x="443.00" y="76.20" width="16.00" height="1.15" fill="#7b6cf0" />
<rect x="443.00" y="77.20" width="16.00" height="0.95" fill="#7b6cf0" />
<rect x="443.00" y="78.00" width="16.00" height="1.15" fill="#fbfbe6" />
<rect x="443.00" y="79.00" width="16.00" height="0.75" fill="#f49090" />
<rect x="443.00" y="79.60" width="16.00" height="1.15" fill="#7b6cf0" />
<rect x="443.00" y="80.60" width="16.00" height="0.95" fill="#fbfbe6" />
<rect x="443.00" y="81.40" width="16.00" height="0.95" fill="#aaa0f4" />
<rect x="443.00" y="82.20" width="16.00" height="1.15" fill="#fbfbe6" />
<rect x="443.00" y="83.20" width="16.00" height="0.75" fill="#f04848" />
<rect x="443.00" y="83.80" width="16.00" height="0.75" fill="#fbfbe6" />
<rect x="443.00" y="84.40" width="16.00" height="0.95" fill="#f04848" />
<rect x="443.00" y="85.20" width="16.00" height="1.15" fill="#aaa0f4" />
<rect x="443.00" y="86.20" width="16.00" height="0.95" fill="#fbfbe6" />
<rect x="443.00" y="87.00" width="16.00" height="0.75" fill="#fbfbe6" />
<rect x="443.00" y="87.60" width="16.00" height="1.15" fill="#7b6cf0" />
<rect x="443.00" y="88.60" width="16.00" height="0.75" fill="#f04848" />
<rect x="443.00" y="89.20" width="16.00" height="1.15" fill="#f49090" />
<rect x="443.00" y="90.20" width="16.00" height="1.15" fill="#7b6cf0" />
<rect x="443.00" y="91.20" width="16.00" height="0.75" fill="#7b6cf0" />
<rect x="443.00" y="91.80" width="16.00" height="1.15" fill="#f04848" />
<rect x="443.00" y="92.80" width="16.00" height="0.95" fill="#fbfbe6" />
<rect x="443.00" y="93.60" width="16.00" height="0.75" fill="#fbfbe6" />
<rect x="443.00" y="94.20" width="16.00" height="0.75" fill="#fbfbe6" />
<rect x="443.00" y="94.80" width="16.00" height="0.75" fill="#f04848" />
<rect x="443.00" y="95.40" width="16.00" height="1.15" fill="#fbfbe6" />
<rect x="443.00" y="96.40" width="16.00" height="0.95" fill="#f04848" />
<rect x="443.00" y="97.20" width="16.00" height="0.75" fill="#fbfbe6" />
<rect x="443.00" y="97.80" width="16.00" height="1.15" fill="#fbfbe6" />
<rect x="443.00" y="98.80" width="16.00" height="1.15" fill="#aaa0f4" />
<rect x="443.00" y="99.80" width="16.00" height="0.75" fill="#7b6cf0" />
<rect x="443.00" y="100.40" width="16.00" height="0.95" fill="#f04848" />
<rect x="443.00" y="101.20" width="16.00" height="0.75" fill="#aaa0f4" />
<rect x="443.00" y="101.80" width="16.00" height="1.15" fill="#fbfbe6" />
<rect x="443.00" y="102.80" width="16.00" height="0.95" fill="#fbfbe6" />
<rect x="443.00" y="103.60" width="16.00" height="0.75" fill="#fbfbe6" />
<rect x="443.00" y="104.20" width="16.00" height="0.75" fill="#fbfbe6" />
<rect x="443.00" y="104.80" width="16.00" height="0.75" fill="#f04848" />
<rect x="443.00" y="105.40" width="16.00" height="0.95" fill="#fbfbe6" />
<rect x="443.00" y="106.20" width="16.00" height="0.75" fill="#fbfbe6" />
<rect x="443.00" y="106.80" width="16.00" height="0.75" fill="#fbfbe6" />
<rect x="443.00" y="107.40" width="16.00" height="0.95" fill="#fbfbe6" />
<rect x="443.00" y="108.20" width="16.00" height="1.15" fill="#f49090" />
<rect x="443.00" y="109.20" width="16.00" height="0.95" fill="#fbfbe6" />
<rect x="443.00" y="110.00" width="16.00" height="0.95" fill="#f04848" />
<rect x="443.00" y="110.80" width="16.00" height="0.95" fill="#f04848" />
<rect x="443.00" y="111.60" width="16.00" height="1.15" fill="#aaa0f4" />
<rect x="443.00" y="112.60" width="16.00" height="0.95" fill="#fbfbe6" />
<rect x="443.00" y="113.40" width="16.00" height="0.95" fill="#7b6cf0" />
<rect x="443.00" y="114.20" width="16.00" height="0.75" fill="#f49090" />
<rect x="443.00" y="114.80" width="16.00" height="0.95" fill="#fbfbe6" />
<rect x="443.00" y="115.60" width="16.00" height="0.95" fill="#7b6cf0" />
<rect x="443.00" y="116.40" width="16.00" height="0.95" fill="#f49090" />
<rect x="443.00" y="117.20" width="16.00" height="0.75" fill="#fbfbe6" />
<rect x="443.00" y="117.80" width="16.00" height="1.15" fill="#fbfbe6" />
<rect x="443.00" y="118.80" width="16.00" height="1.15" fill="#7b6cf0" />
<rect x="443.00" y="119.80" width="16.00" height="0.95" fill="#fbfbe6" />
<rect x="443.00" y="120.60" width="16.00" height="0.95" fill="#7b6cf0" />
<rect x="443.00" y="121.40" width="16.00" height="0.75" fill="#fbfbe6" />
<rect x="443.00" y="122.00" width="16.00" height="0.75" fill="#7b6cf0" />
<rect x="443.00" y="122.60" width="16.00" height="0.75" fill="#f49090" />
<rect x="443.00" y="123.20" width="16.00" height="0.95" fill="#f04848" />
<rect x="443.00" y="124.00" width="16.00" height="0.95" fill="#fbfbe6" />
<rect x="443.00" y="124.80" width="16.00" height="0.95" fill="#7b6cf0" />
<rect x="443.00" y="125.60" width="16.00" height="0.35" fill="#7b6cf0" />
<rect x="443.00" y="128.00" width="16.00" height="0.95" fill="#fbfbe6" />
<rect x="443.00" y="128.80" width="16.00" height="0.95" fill="#7b6cf0" />
<rect x="443.00" y="129.60" width="16.00" height="0.95" fill="#7b6cf0" />
<rect x="443.00" y="130.40" width="16.00" height="0.95" fill="#7b6cf0" />
<rect x="443.00" y="131.20" width="16.00" height="0.95" fill="#fbfbe6" />
<rect x="443.00" y="132.00" width="16.00" height="1.55" fill="#7b6cf0" />
<rect x="443.00" y="133.40" width="16.00" height="0.95" fill="#f04848" />
<rect x="443.00" y="134.20" width="16.00" height="1.55" fill="#fbfbe6" />
<rect x="443.00" y="135.60" width="16.00" height="1.55" fill="#7b6cf0" />
<rect x="443.00" y="137.00" width="16.00" height="1.55" fill="#fbfbe6" />
<rect x="443.00" y="138.40" width="16.00" height="1.15" fill="#fbfbe6" />
<rect x="443.00" y="139.40" width="16.00" height="0.95" fill="#7b6cf0" />
<rect x="443.00" y="140.20" width="16.00" height="1.15" fill="#fbfbe6" />
<rect x="443.00" y="141.20" width="16.00" height="1.15" fill="#f04848" />
<rect x="443.00" y="142.20" width="16.00" height="1.15" fill="#f04848" />
<rect x="443.00" y="143.20" width="16.00" height="0.95" fill="#aaa0f4" />
<rect x="443.00" y="144.00" width="16.00" height="1.15" fill="#f49090" />
<rect x="443.00" y="145.00" width="16.00" height="1.55" fill="#7b6cf0" />
<rect x="443.00" y="146.40" width="16.00" height="1.55" fill="#fbfbe6" />
<rect x="443.00" y="147.80" width="16.00" height="1.55" fill="#f04848" />
<rect x="443.00" y="149.20" width="16.00" height="0.95" fill="#fbfbe6" />
<rect x="443.00" y="150.00" width="16.00" height="1.15" fill="#fbfbe6" />
<rect x="443.00" y="151.00" width="16.00" height="1.15" fill="#aaa0f4" />
<rect x="443.00" y="152.00" width="16.00" height="1.15" fill="#fbfbe6" />
<rect x="443.00" y="153.00" width="16.00" height="1.55" fill="#7b6cf0" />
<rect x="443.00" y="154.40" width="16.00" height="1.55" fill="#fbfbe6" />
<rect x="443.00" y="155.80" width="16.00" height="0.95" fill="#f49090" />
<rect x="443.00" y="156.60" width="16.00" height="0.95" fill="#fbfbe6" />
<rect x="443.00" y="157.40" width="16.00" height="0.95" fill="#f04848" />
<rect x="443.00" y="158.20" width="16.00" height="0.95" fill="#f49090" />
<rect x="443.00" y="159.00" width="16.00" height="1.55" fill="#7b6cf0" />
<rect x="443.00" y="160.40" width="16.00" height="1.55" fill="#fbfbe6" />
<rect x="443.00" y="161.80" width="16.00" height="1.15" fill="#aaa0f4" />
<rect x="443.00" y="162.80" width="16.00" height="0.95" fill="#7b6cf0" />
<rect x="443.00" y="163.60" width="16.00" height="0.95" fill="#f04848" />
<rect x="443.00" y="164.40" width="16.00" height="1.15" fill="#aaa0f4" />
<rect x="443.00" y="165.40" width="16.00" height="0.95" fill="#f04848" />
<rect x="443.00" y="166.20" width="16.00" height="0.95" fill="#7b6cf0" />
<rect x="443.00" y="167.00" width="16.00" height="0.95" fill="#f04848" />
<rect x="443.00" y="167.80" width="16.00" height="1.55" fill="#aaa0f4" />
<rect x="443.00" y="169.20" width="16.00" height="0.95" fill="#fbfbe6" />
<rect x="443.00" y="170.00" width="16.00" height="1.15" fill="#fbfbe6" />
<rect x="443.00" y="171.00" width="16.00" height="1.55" fill="#fbfbe6" />
<rect x="443.00" y="172.40" width="16.00" height="1.55" fill="#f49090" />
<rect x="443.00" y="173.80" width="16.00" height="0.95" fill="#fbfbe6" />
<rect x="443.00" y="174.60" width="16.00" height="1.15" fill="#aaa0f4" />
<rect x="443.00" y="175.60" width="16.00" height="1.55" fill="#aaa0f4" />
<rect x="443.00" y="177.00" width="16.00" height="1.15" fill="#fbfbe6" />
<rect x="443.00" y="178.00" width="16.00" height="1.55" fill="#f04848" />
<rect x="443.00" y="179.40" width="16.00" height="1.55" fill="#fbfbe6" />
<rect x="443.00" y="180.80" width="16.00" height="0.95" fill="#fbfbe6" />
<rect x="443.00" y="181.60" width="16.00" height="1.55" fill="#fbfbe6" />
<rect x="443.00" y="183.00" width="16.00" height="1.15" fill="#f04848" />
<rect x="443.00" y="184.00" width="16.00" height="1.15" fill="#7b6cf0" />
<rect x="443.00" y="185.00" width="16.00" height="0.95" fill="#7b6cf0" />
<rect x="443.00" y="185.80" width="16.00" height="1.15" fill="#fbfbe6" />
<rect x="443.00" y="186.80" width="16.00" height="1.15" fill="#fbfbe6" />
<rect x="443.00" y="187.80" width="16.00" height="0.95" fill="#f04848" />
<rect x="443.00" y="188.60" width="16.00" height="1.15" fill="#fbfbe6" />
<rect x="443.00" y="189.60" width="16.00" height="1.55" fill="#7b6cf0" />
<rect x="443.00" y="191.00" width="16.00" height="0.95" fill="#fbfbe6" />
<rect x="443.00" y="191.80" width="16.00" height="1.15" fill="#f04848" />
<rect x="443.00" y="192.80" width="16.00" height="0.95" fill="#fbfbe6" />
<rect x="443.00" y="193.60" width="16.00" height="1.15" fill="#f04848" />
<rect x="443.00" y="194.60" width="16.00" height="0.95" fill="#f04848" />
<rect x="443.00" y="195.40" width="16.00" height="1.55" fill="#fbfbe6" />
<rect x="443.00" y="196.80" width="16.00" height="0.95" fill="#7b6cf0" />
<rect x="443.00" y="197.60" width="16.00" height="0.95" fill="#7b6cf0" />
<rect x="443.00" y="198.40" width="16.00" height="1.15" fill="#fbfbe6" />
<rect x="443.00" y="199.40" width="16.00" height="1.55" fill="#7b6cf0" />
<rect x="443.00" y="200.80" width="16.00" height="0.95" fill="#fbfbe6" />
<rect x="443.00" y="201.60" width="16.00" height="1.15" fill="#fbfbe6" />
<rect x="443.00" y="202.60" width="16.00" height="1.55" fill="#fbfbe6" />
<rect x="443.00" y="204.00" width="16.00" height="0.95" fill="#fbfbe6" />
<rect x="443.00" y="204.80" width="16.00" height="0.95" fill="#7b6cf0" />
<rect x="443.00" y="205.60" width="16.00" height="1.55" fill="#7b6cf0" />
<rect x="443.00" y="207.00" width="16.00" height="1.15" fill="#f04848" />
<rect x="443.00" y="208.00" width="16.00" height="0.95" fill="#7b6cf0" />
<rect x="443.00" y="208.80" width="16.00" height="1.55" fill="#aaa0f4" />
<rect x="443.00" y="210.20" width="16.00" height="0.95" fill="#fbfbe6" />
<rect x="443.00" y="211.00" width="16.00" height="0.95" fill="#7b6cf0" />
<rect x="443.00" y="211.80" width="16.00" height="1.15" fill="#aaa0f4" />
<rect x="443.00" y="212.80" width="16.00" height="1.15" fill="#f04848" />
<rect x="443.00" y="213.80" width="16.00" height="1.55" fill="#f49090" />
<rect x="443.00" y="215.20" width="16.00" height="1.15" fill="#fbfbe6" />
<rect x="443.00" y="216.20" width="16.00" height="1.55" fill="#7b6cf0" />
<rect x="443.00" y="217.60" width="16.00" height="1.55" fill="#fbfbe6" />
<rect x="443.00" y="219.00" width="16.00" height="1.55" fill="#aaa0f4" />
<rect x="443.00" y="220.40" width="16.00" height="1.55" fill="#fbfbe6" />
<rect x="443.00" y="221.80" width="16.00" height="1.15" fill="#7b6cf0" />
<rect x="443.00" y="222.80" width="16.00" height="1.55" fill="#aaa0f4" />
<rect x="443.00" y="224.20" width="16.00" height="1.15" fill="#fbfbe6" />
<rect x="443.00" y="225.20" width="16.00" height="1.55" fill="#f49090" />
<rect x="443.00" y="226.60" width="16.00" height="1.15" fill="#aaa0f4" />
<rect x="443.00" y="227.60" width="16.00" height="1.55" fill="#fbfbe6" />
<rect x="443.00" y="229.00" width="16.00" height="0.95" fill="#7b6cf0" />
<rect x="443.00" y="229.80" width="16.00" height="1.15" fill="#fbfbe6" />
<rect x="443.00" y="230.80" width="16.00" height="1.55" fill="#f04848" />
<rect x="443.00" y="232.20" width="16.00" height="1.55" fill="#f49090" />
<rect x="443.00" y="233.60" width="16.00" height="1.15" fill="#fbfbe6" />
<rect x="443.00" y="234.60" width="16.00" height="1.55" fill="#f49090" />
<rect x="443.00" y="236.00" width="16.00" height="1.55" fill="#aaa0f4" />
<rect x="443.00" y="237.40" width="16.00" height="1.15" fill="#7b6cf0" />
<rect x="443.00" y="238.40" width="16.00" height="1.55" fill="#7b6cf0" />
<rect x="443.00" y="239.80" width="16.00" height="1.55" fill="#fbfbe6" />
<rect x="443.00" y="241.20" width="16.00" height="1.15" fill="#7b6cf0" />
<rect x="443.00" y="242.20" width="16.00" height="1.55" fill="#7b6cf0" />
<rect x="443.00" y="243.60" width="16.00" height="1.55" fill="#7b6cf0" />
<rect x="443.00" y="245.00" width="16.00" height="1.15" fill="#aaa0f4" />
<rect x="443.00" y="246.00" width="16.00" height="0.95" fill="#fbfbe6" />
<rect x="443.00" y="246.80" width="16.00" height="0.95" fill="#fbfbe6" />
<rect x="443.00" y="247.60" width="16.00" height="0.95" fill="#f04848" />
<rect x="443.00" y="248.40" width="16.00" height="1.15" fill="#7b6cf0" />
<rect x="443.00" y="249.40" width="16.00" height="1.15" fill="#aaa0f4" />
<rect x="443.00" y="250.40" width="16.00" height="1.55" fill="#fbfbe6" />
<rect x="443.00" y="251.80" width="16.00" height="1.55" fill="#fbfbe6" />
<rect x="443.00" y="253.20" width="16.00" height="1.15" fill="#7b6cf0" />
<rect x="443.00" y="254.20" width="16.00" height="1.55" fill="#aaa0f4" />
<rect x="443.00" y="255.60" width="16.00" height="1.55" fill="#f04848" />
<rect x="443.00" y="257.00" width="16.00" height="1.15" fill="#7b6cf0" />
<rect x="443.00" y="258.00" width="16.00" height="1.55" fill="#fbfbe6" />
<rect x="443.00" y="259.40" width="16.00" height="0.95" fill="#fbfbe6" />
<rect x="443.00" y="260.20" width="16.00" height="1.15" fill="#7b6cf0" />
<rect x="443.00" y="261.20" width="16.00" height="1.55" fill="#fbfbe6" />
<rect x="443.00" y="262.60" width="16.00" height="1.55" fill="#7b6cf0" />
<rect x="443.00" y="264.00" width="16.00" height="0.95" fill="#7b6cf0" />
<rect x="443.00" y="264.80" width="16.00" height="0.95" fill="#fbfbe6" />
<rect x="443.00" y="265.60" width="16.00" height="1.55" fill="#aaa0f4" />
<rect x="443.00" y="267.00" width="16.00" height="1.15" fill="#fbfbe6" />
<rect x="443.00" y="268.00" width="16.00" height="1.55" fill="#fbfbe6" />
<rect x="443.00" y="269.40" width="16.00" height="1.15" fill="#fbfbe6" />
<rect x="443.00" y="270.40" width="16.00" height="1.55" fill="#7b6cf0" />
<rect x="443.00" y="271.80" width="16.00" height="1.55" fill="#fbfbe6" />
<rect x="443.00" y="273.20" width="16.00" height="1.15" fill="#aaa0f4" />
<rect x="443.00" y="274.20" width="16.00" height="1.55" fill="#f04848" />
<rect x="443.00" y="275.60" width="16.00" height="1.55" fill="#fbfbe6" />
<rect x="443.00" y="277.00" width="16.00" height="0.95" fill="#fbfbe6" />
<rect x="443.00" y="277.80" width="16.00" height="0.95" fill="#fbfbe6" />
<rect x="443.00" y="278.60" width="16.00" height="1.15" fill="#fbfbe6" />
<rect x="443.00" y="279.60" width="16.00" height="1.55" fill="#f04848" />
<rect x="443.00" y="281.00" width="16.00" height="0.95" fill="#aaa0f4" />
<rect x="443.00" y="281.80" width="16.00" height="0.95" fill="#aaa0f4" />
<rect x="443.00" y="282.60" width="16.00" height="1.55" fill="#aaa0f4" />
<rect x="443.00" y="284.00" width="16.00" height="1.55" fill="#7b6cf0" />
<rect x="443.00" y="285.40" width="16.00" height="0.95" fill="#7b6cf0" />
<rect x="443.00" y="286.20" width="16.00" height="0.95" fill="#7b6cf0" />
<rect x="443.00" y="287.00" width="16.00" height="0.95" fill="#f04848" />
<rect x="443.00" y="287.80" width="16.00" height="1.55" fill="#7b6cf0" />
<rect x="443.00" y="289.20" width="16.00" height="1.15" fill="#fbfbe6" />
<rect x="443.00" y="290.20" width="16.00" height="0.95" fill="#fbfbe6" />
<rect x="443.00" y="291.00" width="16.00" height="1.55" fill="#fbfbe6" />
<rect x="443.00" y="292.40" width="16.00" height="1.15" fill="#f04848" />
<rect x="443.00" y="293.40" width="16.00" height="1.15" fill="#7b6cf0" />
<rect x="443.00" y="294.40" width="16.00" height="0.95" fill="#fbfbe6" />
<rect x="443.00" y="295.20" width="16.00" height="1.55" fill="#f04848" />
<rect x="443.00" y="296.60" width="16.00" height="1.55" fill="#7b6cf0" />
<rect x="443.00" y="298.00" width="16.00" height="1.15" fill="#aaa0f4" />
<rect x="443.00" y="299.00" width="16.00" height="1.15" fill="#f04848" />
<rect x="443.00" y="300.00" width="16.00" height="0.95" fill="#f49090" />
<rect x="443.00" y="300.80" width="16.00" height="0.95" fill="#aaa0f4" />
<rect x="443.00" y="301.60" width="16.00" height="1.15" fill="#aaa0f4" />
<rect x="443.00" y="302.60" width="16.00" height="1.15" fill="#fbfbe6" />
<rect x="443.00" y="303.60" width="16.00" height="0.95" fill="#7b6cf0" />
<rect x="443.00" y="304.40" width="16.00" height="1.55" fill="#7b6cf0" />
<rect x="443.00" y="305.80" width="16.00" height="1.15" fill="#fbfbe6" />
<rect x="443.00" y="306.80" width="16.00" height="1.15" fill="#f49090" />
<rect x="443.00" y="307.80" width="16.00" height="0.95" fill="#7b6cf0" />
<rect x="443.00" y="308.60" width="16.00" height="0.95" fill="#f49090" />
<rect x="443.00" y="309.40" width="16.00" height="1.15" fill="#7b6cf0" />
<rect x="443.00" y="310.40" width="16.00" height="1.55" fill="#fbfbe6" />
<rect x="443.00" y="311.80" width="16.00" height="1.15" fill="#7b6cf0" />
<rect x="443.00" y="312.80" width="16.00" height="0.95" fill="#aaa0f4" />
<rect x="443.00" y="313.60" width="16.00" height="0.30" fill="#7b6cf0" />
<rect x="438.60" y="37.50" width="0.80" height="276.00" fill="#666" />
<rect x="458.60" y="37.50" width="0.80" height="276.00" fill="#666" />
<path d="M463,37.8 L465.3,37.8 L465.3,66.5 L463,66.5" stroke="#2f8cf0" stroke-width="0.9" fill="none" />
<text x="468.00" y="48.80" font-size="9.5" fill="#2f8cf0" textLength="23.8" lengthAdjust="spacingAndGlyphs">5,308</text>
<text x="468.00" y="60.70" font-size="9.5" fill="#2f8cf0" textLength="69.5" lengthAdjust="spacingAndGlyphs">A3B-dependent</text>
<path d="M466.2,68.5 L466.2,125.5" stroke="#f2545b" stroke-width="0.9" fill="none" />
<text x="468.00" y="88.00" font-size="9.5" fill="#f2545b" textLength="28.6" lengthAdjust="spacingAndGlyphs">10,605</text>
<text x="468.00" y="99.20" font-size="9.5" fill="#f2545b" textLength="51" lengthAdjust="spacingAndGlyphs">E2-induced,</text>
<text x="468.00" y="110.80" font-size="9.5" fill="#f2545b" textLength="76.4" lengthAdjust="spacingAndGlyphs">A3B-independent</text>
<path d="M463,129 L466,129 L466,313.5 L463,313.5" stroke="#7b6cf0" stroke-width="0.9" fill="none" />
<text x="467.00" y="207.00" font-size="9.3" fill="#7b6cf0" textLength="28" lengthAdjust="spacingAndGlyphs">others</text>
<text x="331.00" y="32.50" font-size="9.5" fill="#474747" textLength="62" lengthAdjust="spacingAndGlyphs" transform="rotate(-33 331.00 32.50)">1. siNT+DMSO</text>
<text x="364.00" y="32.50" font-size="9.5" fill="#474747" textLength="50" lengthAdjust="spacingAndGlyphs" transform="rotate(-33 364.00 32.50)">2. siNT+E2</text>
<text x="397.00" y="32.50" font-size="9.5" fill="#474747" textLength="55" lengthAdjust="spacingAndGlyphs" transform="rotate(-33 397.00 32.50)">3. siA3B+E2</text>
<text x="428.00" y="33.00" font-size="9.5" fill="#474747" textLength="18" lengthAdjust="spacingAndGlyphs" transform="rotate(-35 428.00 33.00)">A3B</text>
<text x="451.00" y="33.00" font-size="9.5" fill="#474747" textLength="29" lengthAdjust="spacingAndGlyphs" transform="rotate(-35 451.00 33.00)">R-loop</text>
<path d="M329.5,35 L329.5,33 L348.3,33 L348.3,35" stroke="#333" stroke-width="0.8" fill="none" />
<path d="M362,35 L362,33 L379.6,33 L379.6,35" stroke="#333" stroke-width="0.8" fill="none" />
<path d="M395,35 L395,33 L414.3,33 L414.3,35" stroke="#333" stroke-width="0.8" fill="none" />
<text x="285.30" y="163.00" font-size="10.5" fill="#3a3a3a" text-anchor="middle" textLength="92" lengthAdjust="spacingAndGlyphs" transform="rotate(-90 285.30 163.00)">50,329 DSB peaks</text>
<line x1="293.00" y1="37.90" x2="315.50" y2="37.90" stroke="#555" stroke-width="0.8" />
<line x1="293.00" y1="37.90" x2="293.00" y2="59.00" stroke="#555" stroke-width="0.8" />
<line x1="293.00" y1="59.00" x2="309.00" y2="59.00" stroke="#555" stroke-width="0.8" />
<line x1="291.70" y1="47.80" x2="291.70" y2="87.20" stroke="#555" stroke-width="0.8" />
<line x1="291.70" y1="47.80" x2="293.00" y2="47.80" stroke="#555" stroke-width="0.8" />
<line x1="291.70" y1="87.20" x2="298.60" y2="87.20" stroke="#555" stroke-width="0.8" />
<line x1="298.60" y1="68.00" x2="298.60" y2="102.40" stroke="#555" stroke-width="0.8" />
<line x1="298.60" y1="68.00" x2="315.50" y2="68.00" stroke="#555" stroke-width="0.8" />
<line x1="298.60" y1="102.40" x2="305.90" y2="102.40" stroke="#555" stroke-width="0.8" />
<line x1="305.90" y1="89.60" x2="305.90" y2="127.30" stroke="#555" stroke-width="0.8" />
<line x1="305.90" y1="89.60" x2="310.00" y2="89.60" stroke="#555" stroke-width="0.8" />
<line x1="305.90" y1="127.30" x2="315.00" y2="127.30" stroke="#555" stroke-width="0.8" />
<line x1="310.70" y1="40.60" x2="310.70" y2="66.30" stroke="#555" stroke-width="0.8" />
<line x1="310.70" y1="40.60" x2="315.00" y2="40.60" stroke="#555" stroke-width="0.8" />
<line x1="299.00" y1="129.70" x2="299.00" y2="220.30" stroke="#555" stroke-width="0.8" />
<line x1="299.00" y1="129.70" x2="316.00" y2="129.70" stroke="#555" stroke-width="0.8" />
<line x1="299.00" y1="220.30" x2="307.50" y2="220.30" stroke="#555" stroke-width="0.8" />
<line x1="307.50" y1="134.00" x2="307.50" y2="306.00" stroke="#555" stroke-width="0.8" />
<line x1="307.50" y1="306.00" x2="315.00" y2="306.00" stroke="#555" stroke-width="0.8" />
<line x1="289.00" y1="67.00" x2="291.70" y2="67.00" stroke="#555" stroke-width="0.8" />
<line x1="289.00" y1="67.00" x2="289.00" y2="209.00" stroke="#555" stroke-width="0.8" />
<line x1="289.00" y1="209.00" x2="299.00" y2="209.00" stroke="#555" stroke-width="0.8" />
<line x1="313.28" y1="37.50" x2="321.70" y2="37.50" stroke="#111" stroke-width="0.9" />
<line x1="313.28" y1="37.50" x2="313.28" y2="37.71" stroke="#222" stroke-width="0.6" />
<line x1="313.54" y1="38.30" x2="321.70" y2="38.30" stroke="#111" stroke-width="0.9" />
<line x1="313.54" y1="38.30" x2="313.54" y2="42.54" stroke="#222" stroke-width="0.6" />
<line x1="312.88" y1="39.10" x2="321.70" y2="39.10" stroke="#111" stroke-width="0.9" />
<line x1="314.50" y1="40.30" x2="321.70" y2="40.30" stroke="#111" stroke-width="0.9" />
<line x1="314.50" y1="40.30" x2="314.50" y2="45.07" stroke="#222" stroke-width="0.6" />
<line x1="312.72" y1="41.50" x2="321.70" y2="41.50" stroke="#111" stroke-width="0.9" />
<line x1="312.72" y1="41.50" x2="312.72" y2="45.83" stroke="#222" stroke-width="0.6" />
<line x1="314.83" y1="43.50" x2="321.70" y2="43.50" stroke="#111" stroke-width="0.9" />
<line x1="316.28" y1="45.10" x2="321.70" y2="45.10" stroke="#111" stroke-width="0.9" />
<line x1="315.86" y1="46.30" x2="321.70" y2="46.30" stroke="#111" stroke-width="0.9" />
<line x1="314.68" y1="47.90" x2="321.70" y2="47.90" stroke="#111" stroke-width="0.9" />
<line x1="314.68" y1="47.90" x2="314.68" y2="53.84" stroke="#222" stroke-width="0.6" />
<line x1="313.82" y1="49.10" x2="321.70" y2="49.10" stroke="#111" stroke-width="0.9" />
<line x1="315.93" y1="50.30" x2="321.70" y2="50.30" stroke="#111" stroke-width="0.9" />
<line x1="315.93" y1="50.30" x2="315.93" y2="53.38" stroke="#222" stroke-width="0.6" />
<line x1="315.31" y1="51.90" x2="321.70" y2="51.90" stroke="#111" stroke-width="0.9" />
<line x1="314.96" y1="52.70" x2="321.70" y2="52.70" stroke="#111" stroke-width="0.9" />
<line x1="312.07" y1="54.30" x2="321.70" y2="54.30" stroke="#111" stroke-width="0.9" />
<line x1="315.49" y1="55.50" x2="321.70" y2="55.50" stroke="#111" stroke-width="0.9" />
<line x1="315.49" y1="55.50" x2="315.49" y2="56.63" stroke="#222" stroke-width="0.6" />
<line x1="312.31" y1="56.30" x2="321.70" y2="56.30" stroke="#111" stroke-width="0.9" />
<line x1="312.87" y1="57.90" x2="321.70" y2="57.90" stroke="#111" stroke-width="0.9" />
<line x1="313.02" y1="58.70" x2="321.70" y2="58.70" stroke="#111" stroke-width="0.9" />
<line x1="313.02" y1="58.70" x2="313.02" y2="63.00" stroke="#222" stroke-width="0.6" />
<line x1="313.60" y1="60.30" x2="321.70" y2="60.30" stroke="#111" stroke-width="0.9" />
<line x1="315.49" y1="62.30" x2="321.70" y2="62.30" stroke="#111" stroke-width="0.9" />
<line x1="316.22" y1="63.50" x2="321.70" y2="63.50" stroke="#111" stroke-width="0.9" />
<line x1="316.22" y1="63.50" x2="316.22" y2="65.70" stroke="#222" stroke-width="0.6" />
<line x1="316.04" y1="65.10" x2="321.70" y2="65.10" stroke="#111" stroke-width="0.9" />
<line x1="316.04" y1="65.10" x2="316.04" y2="69.32" stroke="#222" stroke-width="0.6" />
<line x1="313.12" y1="67.10" x2="321.70" y2="67.10" stroke="#111" stroke-width="0.9" />
<line x1="316.08" y1="68.70" x2="321.70" y2="68.70" stroke="#111" stroke-width="0.9" />
<line x1="316.08" y1="68.70" x2="316.08" y2="70.45" stroke="#222" stroke-width="0.6" />
<line x1="316.11" y1="70.30" x2="321.70" y2="70.30" stroke="#111" stroke-width="0.9" />
<line x1="313.82" y1="71.10" x2="321.70" y2="71.10" stroke="#111" stroke-width="0.9" />
<line x1="312.89" y1="73.10" x2="321.70" y2="73.10" stroke="#111" stroke-width="0.9" />
<line x1="312.89" y1="73.10" x2="312.89" y2="75.38" stroke="#222" stroke-width="0.6" />
<line x1="314.49" y1="73.90" x2="321.70" y2="73.90" stroke="#111" stroke-width="0.9" />
<line x1="314.54" y1="75.10" x2="321.70" y2="75.10" stroke="#111" stroke-width="0.9" />
<line x1="314.54" y1="75.10" x2="314.54" y2="78.09" stroke="#222" stroke-width="0.6" />
<line x1="316.17" y1="76.70" x2="321.70" y2="76.70" stroke="#111" stroke-width="0.9" />
<line x1="316.21" y1="78.30" x2="321.70" y2="78.30" stroke="#111" stroke-width="0.9" />
<line x1="316.21" y1="78.30" x2="316.21" y2="82.88" stroke="#222" stroke-width="0.6" />
<line x1="316.05" y1="79.90" x2="321.70" y2="79.90" stroke="#111" stroke-width="0.9" />
<line x1="316.38" y1="80.70" x2="321.70" y2="80.70" stroke="#111" stroke-width="0.9" />
<line x1="315.56" y1="81.50" x2="321.70" y2="81.50" stroke="#111" stroke-width="0.9" />
<line x1="315.56" y1="81.50" x2="315.56" y2="86.99" stroke="#222" stroke-width="0.6" />
<line x1="313.88" y1="82.30" x2="321.70" y2="82.30" stroke="#111" stroke-width="0.9" />
<line x1="313.27" y1="83.50" x2="321.70" y2="83.50" stroke="#111" stroke-width="0.9" />
<line x1="313.27" y1="83.50" x2="313.27" y2="89.18" stroke="#222" stroke-width="0.6" />
<line x1="313.99" y1="85.50" x2="321.70" y2="85.50" stroke="#111" stroke-width="0.9" />
<line x1="313.99" y1="85.50" x2="313.99" y2="88.52" stroke="#222" stroke-width="0.6" />
<line x1="314.29" y1="87.50" x2="321.70" y2="87.50" stroke="#111" stroke-width="0.9" />
<line x1="313.93" y1="88.70" x2="321.70" y2="88.70" stroke="#111" stroke-width="0.9" />
<line x1="314.20" y1="89.90" x2="321.70" y2="89.90" stroke="#111" stroke-width="0.9" />
<line x1="314.20" y1="89.90" x2="314.20" y2="95.61" stroke="#222" stroke-width="0.6" />
<line x1="312.79" y1="91.50" x2="321.70" y2="91.50" stroke="#111" stroke-width="0.9" />
<line x1="312.79" y1="91.50" x2="312.79" y2="96.19" stroke="#222" stroke-width="0.6" />
<line x1="314.45" y1="92.70" x2="321.70" y2="92.70" stroke="#111" stroke-width="0.9" />
<line x1="314.45" y1="92.70" x2="314.45" y2="93.06" stroke="#222" stroke-width="0.6" />
<line x1="313.56" y1="94.30" x2="321.70" y2="94.30" stroke="#111" stroke-width="0.9" />
<line x1="313.56" y1="94.30" x2="313.56" y2="98.12" stroke="#222" stroke-width="0.6" />
<line x1="312.61" y1="95.50" x2="321.70" y2="95.50" stroke="#111" stroke-width="0.9" />
<line x1="313.07" y1="97.50" x2="321.70" y2="97.50" stroke="#111" stroke-width="0.9" />
<line x1="313.07" y1="97.50" x2="313.07" y2="100.59" stroke="#222" stroke-width="0.6" />
<line x1="312.60" y1="99.50" x2="321.70" y2="99.50" stroke="#111" stroke-width="0.9" />
<line x1="312.60" y1="101.10" x2="321.70" y2="101.10" stroke="#111" stroke-width="0.9" />
<line x1="313.50" y1="102.30" x2="321.70" y2="102.30" stroke="#111" stroke-width="0.9" />
<line x1="315.42" y1="104.30" x2="321.70" y2="104.30" stroke="#111" stroke-width="0.9" />
<line x1="315.42" y1="104.30" x2="315.42" y2="108.30" stroke="#222" stroke-width="0.6" />
<line x1="315.78" y1="106.30" x2="321.70" y2="106.30" stroke="#111" stroke-width="0.9" />
<line x1="315.78" y1="106.30" x2="315.78" y2="107.54" stroke="#222" stroke-width="0.6" />
<line x1="312.06" y1="107.90" x2="321.70" y2="107.90" stroke="#111" stroke-width="0.9" />
<line x1="312.06" y1="107.90" x2="312.06" y2="108.16" stroke="#222" stroke-width="0.6" />
<line x1="313.37" y1="109.50" x2="321.70" y2="109.50" stroke="#111" stroke-width="0.9" />
<line x1="313.37" y1="109.50" x2="313.37" y2="111.35" stroke="#222" stroke-width="0.6" />
<line x1="312.73" y1="110.30" x2="321.70" y2="110.30" stroke="#111" stroke-width="0.9" />
<line x1="312.73" y1="110.30" x2="312.73" y2="113.72" stroke="#222" stroke-width="0.6" />
<line x1="312.76" y1="111.90" x2="321.70" y2="111.90" stroke="#111" stroke-width="0.9" />
<line x1="312.76" y1="111.90" x2="312.76" y2="111.96" stroke="#222" stroke-width="0.6" />
<line x1="312.38" y1="113.90" x2="321.70" y2="113.90" stroke="#111" stroke-width="0.9" />
<line x1="312.49" y1="115.50" x2="321.70" y2="115.50" stroke="#111" stroke-width="0.9" />
<line x1="312.49" y1="115.50" x2="312.49" y2="118.11" stroke="#222" stroke-width="0.6" />
<line x1="315.53" y1="116.70" x2="321.70" y2="116.70" stroke="#111" stroke-width="0.9" />
<line x1="315.53" y1="116.70" x2="315.53" y2="118.86" stroke="#222" stroke-width="0.6" />
<line x1="314.90" y1="117.50" x2="321.70" y2="117.50" stroke="#111" stroke-width="0.9" />
<line x1="314.94" y1="119.10" x2="321.70" y2="119.10" stroke="#111" stroke-width="0.9" />
<line x1="314.94" y1="119.10" x2="314.94" y2="123.58" stroke="#222" stroke-width="0.6" />
<line x1="315.48" y1="119.90" x2="321.70" y2="119.90" stroke="#111" stroke-width="0.9" />
<line x1="313.66" y1="121.50" x2="321.70" y2="121.50" stroke="#111" stroke-width="0.9" />
<line x1="312.46" y1="122.70" x2="321.70" y2="122.70" stroke="#111" stroke-width="0.9" />
<line x1="315.34" y1="124.30" x2="321.70" y2="124.30" stroke="#111" stroke-width="0.9" />
<line x1="315.34" y1="124.30" x2="315.34" y2="125.41" stroke="#222" stroke-width="0.6" />
<line x1="313.44" y1="125.90" x2="321.70" y2="125.90" stroke="#111" stroke-width="0.9" />
<line x1="313.44" y1="125.90" x2="313.44" y2="129.21" stroke="#222" stroke-width="0.6" />
<line x1="315.77" y1="127.50" x2="321.70" y2="127.50" stroke="#111" stroke-width="0.9" />
<line x1="315.77" y1="127.50" x2="315.77" y2="127.85" stroke="#222" stroke-width="0.6" />
<line x1="314.55" y1="128.30" x2="321.70" y2="128.30" stroke="#111" stroke-width="0.9" />
<line x1="316.07" y1="130.30" x2="321.70" y2="130.30" stroke="#111" stroke-width="0.9" />
<line x1="313.90" y1="132.30" x2="321.70" y2="132.30" stroke="#111" stroke-width="0.9" />
<line x1="314.71" y1="133.90" x2="321.70" y2="133.90" stroke="#111" stroke-width="0.9" />
<line x1="315.10" y1="135.10" x2="321.70" y2="135.10" stroke="#111" stroke-width="0.9" />
<line x1="315.10" y1="135.10" x2="315.10" y2="137.76" stroke="#222" stroke-width="0.6" />
<line x1="312.40" y1="137.10" x2="321.70" y2="137.10" stroke="#111" stroke-width="0.9" />
<line x1="312.40" y1="137.10" x2="312.40" y2="139.74" stroke="#222" stroke-width="0.6" />
<line x1="312.98" y1="138.30" x2="321.70" y2="138.30" stroke="#111" stroke-width="0.9" />
<line x1="312.98" y1="138.30" x2="312.98" y2="138.49" stroke="#222" stroke-width="0.6" />
<line x1="312.64" y1="140.30" x2="321.70" y2="140.30" stroke="#111" stroke-width="0.9" />
<line x1="312.64" y1="140.30" x2="312.64" y2="140.63" stroke="#222" stroke-width="0.6" />
<line x1="316.01" y1="142.30" x2="321.70" y2="142.30" stroke="#111" stroke-width="0.9" />
<line x1="316.01" y1="142.30" x2="316.01" y2="142.35" stroke="#222" stroke-width="0.6" />
<line x1="316.07" y1="143.50" x2="321.70" y2="143.50" stroke="#111" stroke-width="0.9" />
<line x1="316.07" y1="143.50" x2="316.07" y2="145.27" stroke="#222" stroke-width="0.6" />
<line x1="315.62" y1="145.50" x2="321.70" y2="145.50" stroke="#111" stroke-width="0.9" />
<line x1="314.11" y1="146.70" x2="321.70" y2="146.70" stroke="#111" stroke-width="0.9" />
<line x1="313.93" y1="148.70" x2="321.70" y2="148.70" stroke="#111" stroke-width="0.9" />
<line x1="316.38" y1="149.90" x2="321.70" y2="149.90" stroke="#111" stroke-width="0.9" />
<line x1="315.65" y1="150.70" x2="321.70" y2="150.70" stroke="#111" stroke-width="0.9" />
<line x1="315.65" y1="150.70" x2="315.65" y2="154.76" stroke="#222" stroke-width="0.6" />
<line x1="314.54" y1="152.30" x2="321.70" y2="152.30" stroke="#111" stroke-width="0.9" />
<line x1="314.54" y1="152.30" x2="314.54" y2="154.51" stroke="#222" stroke-width="0.6" />
<line x1="313.35" y1="153.50" x2="321.70" y2="153.50" stroke="#111" stroke-width="0.9" />
<line x1="313.35" y1="153.50" x2="313.35" y2="158.81" stroke="#222" stroke-width="0.6" />
<line x1="315.82" y1="154.30" x2="321.70" y2="154.30" stroke="#111" stroke-width="0.9" />
<line x1="315.82" y1="154.30" x2="315.82" y2="158.74" stroke="#222" stroke-width="0.6" />
<line x1="312.66" y1="155.10" x2="321.70" y2="155.10" stroke="#111" stroke-width="0.9" />
<line x1="313.62" y1="157.10" x2="321.70" y2="157.10" stroke="#111" stroke-width="0.9" />
<line x1="313.62" y1="157.10" x2="313.62" y2="159.75" stroke="#222" stroke-width="0.6" />
<line x1="312.51" y1="158.70" x2="321.70" y2="158.70" stroke="#111" stroke-width="0.9" />
<line x1="312.51" y1="158.70" x2="312.51" y2="164.04" stroke="#222" stroke-width="0.6" />
<line x1="313.00" y1="159.50" x2="321.70" y2="159.50" stroke="#111" stroke-width="0.9" />
<line x1="312.84" y1="160.30" x2="321.70" y2="160.30" stroke="#111" stroke-width="0.9" />
<line x1="313.02" y1="162.30" x2="321.70" y2="162.30" stroke="#111" stroke-width="0.9" />
<line x1="313.02" y1="162.30" x2="313.02" y2="165.55" stroke="#222" stroke-width="0.6" />
<line x1="315.31" y1="163.10" x2="321.70" y2="163.10" stroke="#111" stroke-width="0.9" />
<line x1="315.83" y1="163.90" x2="321.70" y2="163.90" stroke="#111" stroke-width="0.9" />
<line x1="312.60" y1="165.90" x2="321.70" y2="165.90" stroke="#111" stroke-width="0.9" />
<line x1="314.82" y1="166.70" x2="321.70" y2="166.70" stroke="#111" stroke-width="0.9" />
<line x1="314.07" y1="167.50" x2="321.70" y2="167.50" stroke="#111" stroke-width="0.9" />
<line x1="316.36" y1="168.70" x2="321.70" y2="168.70" stroke="#111" stroke-width="0.9" />
<line x1="316.36" y1="168.70" x2="316.36" y2="171.55" stroke="#222" stroke-width="0.6" />
<line x1="312.62" y1="169.50" x2="321.70" y2="169.50" stroke="#111" stroke-width="0.9" />
<line x1="313.82" y1="170.30" x2="321.70" y2="170.30" stroke="#111" stroke-width="0.9" />
<line x1="313.82" y1="170.30" x2="313.82" y2="170.55" stroke="#222" stroke-width="0.6" />
<line x1="314.07" y1="171.50" x2="321.70" y2="171.50" stroke="#111" stroke-width="0.9" />
<line x1="314.07" y1="171.50" x2="314.07" y2="172.31" stroke="#222" stroke-width="0.6" />
<line x1="314.80" y1="172.30" x2="321.70" y2="172.30" stroke="#111" stroke-width="0.9" />
<line x1="316.13" y1="173.10" x2="321.70" y2="173.10" stroke="#111" stroke-width="0.9" />
<line x1="313.65" y1="174.30" x2="321.70" y2="174.30" stroke="#111" stroke-width="0.9" />
<line x1="315.72" y1="175.10" x2="321.70" y2="175.10" stroke="#111" stroke-width="0.9" />
<line x1="315.72" y1="175.10" x2="315.72" y2="177.34" stroke="#222" stroke-width="0.6" />
<line x1="315.25" y1="176.70" x2="321.70" y2="176.70" stroke="#111" stroke-width="0.9" />
<line x1="315.25" y1="176.70" x2="315.25" y2="180.32" stroke="#222" stroke-width="0.6" />
<line x1="313.60" y1="177.50" x2="321.70" y2="177.50" stroke="#111" stroke-width="0.9" />
<line x1="313.60" y1="177.50" x2="313.60" y2="181.12" stroke="#222" stroke-width="0.6" />
<line x1="316.16" y1="178.30" x2="321.70" y2="178.30" stroke="#111" stroke-width="0.9" />
<line x1="313.59" y1="179.90" x2="321.70" y2="179.90" stroke="#111" stroke-width="0.9" />
<line x1="315.77" y1="180.70" x2="321.70" y2="180.70" stroke="#111" stroke-width="0.9" />
<line x1="315.56" y1="181.50" x2="321.70" y2="181.50" stroke="#111" stroke-width="0.9" />
<line x1="315.56" y1="181.50" x2="315.56" y2="181.94" stroke="#222" stroke-width="0.6" />
<line x1="312.83" y1="183.10" x2="321.70" y2="183.10" stroke="#111" stroke-width="0.9" />
<line x1="315.93" y1="184.70" x2="321.70" y2="184.70" stroke="#111" stroke-width="0.9" />
<line x1="314.65" y1="185.90" x2="321.70" y2="185.90" stroke="#111" stroke-width="0.9" />
<line x1="314.65" y1="185.90" x2="314.65" y2="191.88" stroke="#222" stroke-width="0.6" />
<line x1="316.27" y1="187.50" x2="321.70" y2="187.50" stroke="#111" stroke-width="0.9" />
<line x1="316.27" y1="187.50" x2="316.27" y2="189.55" stroke="#222" stroke-width="0.6" />
<line x1="314.19" y1="188.70" x2="321.70" y2="188.70" stroke="#111" stroke-width="0.9" />
<line x1="314.19" y1="188.70" x2="314.19" y2="188.89" stroke="#222" stroke-width="0.6" />
<line x1="312.34" y1="189.50" x2="321.70" y2="189.50" stroke="#111" stroke-width="0.9" />
<line x1="315.79" y1="191.50" x2="321.70" y2="191.50" stroke="#111" stroke-width="0.9" />
<line x1="313.77" y1="193.50" x2="321.70" y2="193.50" stroke="#111" stroke-width="0.9" />
<line x1="313.62" y1="194.30" x2="321.70" y2="194.30" stroke="#111" stroke-width="0.9" />
<line x1="316.02" y1="195.90" x2="321.70" y2="195.90" stroke="#111" stroke-width="0.9" />
<line x1="312.95" y1="196.70" x2="321.70" y2="196.70" stroke="#111" stroke-width="0.9" />
<line x1="313.49" y1="198.70" x2="321.70" y2="198.70" stroke="#111" stroke-width="0.9" />
<line x1="313.49" y1="198.70" x2="313.49" y2="204.32" stroke="#222" stroke-width="0.6" />
<line x1="312.03" y1="200.30" x2="321.70" y2="200.30" stroke="#111" stroke-width="0.9" />
<line x1="313.02" y1="201.90" x2="321.70" y2="201.90" stroke="#111" stroke-width="0.9" />
<line x1="313.02" y1="201.90" x2="313.02" y2="207.16" stroke="#222" stroke-width="0.6" />
<line x1="314.84" y1="202.70" x2="321.70" y2="202.70" stroke="#111" stroke-width="0.9" />
<line x1="313.23" y1="203.90" x2="321.70" y2="203.90" stroke="#111" stroke-width="0.9" />
<line x1="313.23" y1="203.90" x2="313.23" y2="206.90" stroke="#222" stroke-width="0.6" />
<line x1="313.61" y1="205.50" x2="321.70" y2="205.50" stroke="#111" stroke-width="0.9" />
<line x1="316.46" y1="206.70" x2="321.70" y2="206.70" stroke="#111" stroke-width="0.9" />
<line x1="316.46" y1="206.70" x2="316.46" y2="210.06" stroke="#222" stroke-width="0.6" />
<line x1="315.93" y1="207.50" x2="321.70" y2="207.50" stroke="#111" stroke-width="0.9" />
<line x1="313.63" y1="208.30" x2="321.70" y2="208.30" stroke="#111" stroke-width="0.9" />
<line x1="313.63" y1="208.30" x2="313.63" y2="213.07" stroke="#222" stroke-width="0.6" />
<line x1="315.07" y1="209.50" x2="321.70" y2="209.50" stroke="#111" stroke-width="0.9" />
<line x1="315.07" y1="209.50" x2="315.07" y2="214.08" stroke="#222" stroke-width="0.6" />
<line x1="314.29" y1="211.10" x2="321.70" y2="211.10" stroke="#111" stroke-width="0.9" />
<line x1="315.93" y1="212.70" x2="321.70" y2="212.70" stroke="#111" stroke-width="0.9" />
<line x1="312.27" y1="214.30" x2="321.70" y2="214.30" stroke="#111" stroke-width="0.9" />
<line x1="312.27" y1="214.30" x2="312.27" y2="216.24" stroke="#222" stroke-width="0.6" />
<line x1="314.27" y1="216.30" x2="321.70" y2="216.30" stroke="#111" stroke-width="0.9" />
<line x1="316.48" y1="217.50" x2="321.70" y2="217.50" stroke="#111" stroke-width="0.9" />
<line x1="316.48" y1="217.50" x2="316.48" y2="218.73" stroke="#222" stroke-width="0.6" />
<line x1="313.82" y1="219.50" x2="321.70" y2="219.50" stroke="#111" stroke-width="0.9" />
<line x1="313.82" y1="219.50" x2="313.82" y2="224.13" stroke="#222" stroke-width="0.6" />
<line x1="314.64" y1="220.70" x2="321.70" y2="220.70" stroke="#111" stroke-width="0.9" />
<line x1="314.64" y1="220.70" x2="314.64" y2="225.02" stroke="#222" stroke-width="0.6" />
<line x1="315.27" y1="222.30" x2="321.70" y2="222.30" stroke="#111" stroke-width="0.9" />
<line x1="312.33" y1="223.90" x2="321.70" y2="223.90" stroke="#111" stroke-width="0.9" />
<line x1="312.33" y1="223.90" x2="312.33" y2="229.45" stroke="#222" stroke-width="0.6" />
<line x1="313.37" y1="225.10" x2="321.70" y2="225.10" stroke="#111" stroke-width="0.9" />
<line x1="313.37" y1="225.10" x2="313.37" y2="227.91" stroke="#222" stroke-width="0.6" />
<line x1="315.25" y1="227.10" x2="321.70" y2="227.10" stroke="#111" stroke-width="0.9" />
<line x1="313.44" y1="229.10" x2="321.70" y2="229.10" stroke="#111" stroke-width="0.9" />
<line x1="313.44" y1="229.10" x2="313.44" y2="234.49" stroke="#222" stroke-width="0.6" />
<line x1="315.41" y1="229.90" x2="321.70" y2="229.90" stroke="#111" stroke-width="0.9" />
<line x1="315.17" y1="231.10" x2="321.70" y2="231.10" stroke="#111" stroke-width="0.9" />
<line x1="315.17" y1="231.10" x2="315.17" y2="233.50" stroke="#222" stroke-width="0.6" />
<line x1="316.02" y1="232.30" x2="321.70" y2="232.30" stroke="#111" stroke-width="0.9" />
<line x1="316.02" y1="232.30" x2="316.02" y2="235.31" stroke="#222" stroke-width="0.6" />
<line x1="312.89" y1="233.10" x2="321.70" y2="233.10" stroke="#111" stroke-width="0.9" />
<line x1="314.70" y1="234.30" x2="321.70" y2="234.30" stroke="#111" stroke-width="0.9" />
<line x1="314.70" y1="234.30" x2="314.70" y2="239.16" stroke="#222" stroke-width="0.6" />
<line x1="315.24" y1="235.90" x2="321.70" y2="235.90" stroke="#111" stroke-width="0.9" />
<line x1="315.24" y1="235.90" x2="315.24" y2="237.52" stroke="#222" stroke-width="0.6" />
<line x1="314.88" y1="236.70" x2="321.70" y2="236.70" stroke="#111" stroke-width="0.9" />
<line x1="313.45" y1="237.90" x2="321.70" y2="237.90" stroke="#111" stroke-width="0.9" />
<line x1="314.92" y1="238.70" x2="321.70" y2="238.70" stroke="#111" stroke-width="0.9" />
<line x1="314.92" y1="238.70" x2="314.92" y2="242.77" stroke="#222" stroke-width="0.6" />
<line x1="312.79" y1="240.30" x2="321.70" y2="240.30" stroke="#111" stroke-width="0.9" />
<line x1="312.39" y1="241.10" x2="321.70" y2="241.10" stroke="#111" stroke-width="0.9" />
<line x1="316.45" y1="243.10" x2="321.70" y2="243.10" stroke="#111" stroke-width="0.9" />
<line x1="316.45" y1="243.10" x2="316.45" y2="248.74" stroke="#222" stroke-width="0.6" />
<line x1="312.12" y1="243.90" x2="321.70" y2="243.90" stroke="#111" stroke-width="0.9" />
<line x1="312.12" y1="243.90" x2="312.12" y2="247.82" stroke="#222" stroke-width="0.6" />
<line x1="312.25" y1="245.50" x2="321.70" y2="245.50" stroke="#111" stroke-width="0.9" />
<line x1="312.71" y1="247.10" x2="321.70" y2="247.10" stroke="#111" stroke-width="0.9" />
<line x1="312.71" y1="247.10" x2="312.71" y2="248.36" stroke="#222" stroke-width="0.6" />
<line x1="313.61" y1="247.90" x2="321.70" y2="247.90" stroke="#111" stroke-width="0.9" />
<line x1="313.61" y1="247.90" x2="313.61" y2="249.96" stroke="#222" stroke-width="0.6" />
<line x1="314.96" y1="249.10" x2="321.70" y2="249.10" stroke="#111" stroke-width="0.9" />
<line x1="313.04" y1="250.70" x2="321.70" y2="250.70" stroke="#111" stroke-width="0.9" />
<line x1="315.43" y1="252.70" x2="321.70" y2="252.70" stroke="#111" stroke-width="0.9" />
<line x1="314.93" y1="254.30" x2="321.70" y2="254.30" stroke="#111" stroke-width="0.9" />
<line x1="314.52" y1="256.30" x2="321.70" y2="256.30" stroke="#111" stroke-width="0.9" />
<line x1="314.52" y1="256.30" x2="314.52" y2="259.48" stroke="#222" stroke-width="0.6" />
<line x1="312.59" y1="257.90" x2="321.70" y2="257.90" stroke="#111" stroke-width="0.9" />
<line x1="312.59" y1="257.90" x2="312.59" y2="260.75" stroke="#222" stroke-width="0.6" />
<line x1="312.68" y1="259.50" x2="321.70" y2="259.50" stroke="#111" stroke-width="0.9" />
<line x1="315.40" y1="261.50" x2="321.70" y2="261.50" stroke="#111" stroke-width="0.9" />
<line x1="315.40" y1="261.50" x2="315.40" y2="261.67" stroke="#222" stroke-width="0.6" />
<line x1="312.55" y1="262.70" x2="321.70" y2="262.70" stroke="#111" stroke-width="0.9" />
<line x1="314.50" y1="263.90" x2="321.70" y2="263.90" stroke="#111" stroke-width="0.9" />
<line x1="314.50" y1="263.90" x2="314.50" y2="269.54" stroke="#222" stroke-width="0.6" />
<line x1="315.32" y1="265.50" x2="321.70" y2="265.50" stroke="#111" stroke-width="0.9" />
<line x1="314.38" y1="266.70" x2="321.70" y2="266.70" stroke="#111" stroke-width="0.9" />
<line x1="314.38" y1="266.70" x2="314.38" y2="270.96" stroke="#222" stroke-width="0.6" />
<line x1="316.42" y1="268.70" x2="321.70" y2="268.70" stroke="#111" stroke-width="0.9" />
<line x1="316.42" y1="268.70" x2="316.42" y2="272.52" stroke="#222" stroke-width="0.6" />
<line x1="316.05" y1="270.30" x2="321.70" y2="270.30" stroke="#111" stroke-width="0.9" />
<line x1="316.05" y1="270.30" x2="316.05" y2="271.57" stroke="#222" stroke-width="0.6" />
<line x1="312.49" y1="271.10" x2="321.70" y2="271.10" stroke="#111" stroke-width="0.9" />
<line x1="315.63" y1="271.90" x2="321.70" y2="271.90" stroke="#111" stroke-width="0.9" />
<line x1="312.27" y1="273.50" x2="321.70" y2="273.50" stroke="#111" stroke-width="0.9" />
<line x1="316.08" y1="275.50" x2="321.70" y2="275.50" stroke="#111" stroke-width="0.9" />
<line x1="316.08" y1="275.50" x2="316.08" y2="279.44" stroke="#222" stroke-width="0.6" />
<line x1="312.14" y1="276.70" x2="321.70" y2="276.70" stroke="#111" stroke-width="0.9" />
<line x1="312.14" y1="276.70" x2="312.14" y2="280.96" stroke="#222" stroke-width="0.6" />
<line x1="313.04" y1="277.90" x2="321.70" y2="277.90" stroke="#111" stroke-width="0.9" />
<line x1="313.04" y1="277.90" x2="313.04" y2="282.46" stroke="#222" stroke-width="0.6" />
<line x1="313.34" y1="279.50" x2="321.70" y2="279.50" stroke="#111" stroke-width="0.9" />
<line x1="316.42" y1="280.70" x2="321.70" y2="280.70" stroke="#111" stroke-width="0.9" />
<line x1="315.88" y1="282.70" x2="321.70" y2="282.70" stroke="#111" stroke-width="0.9" />
<line x1="316.29" y1="284.30" x2="321.70" y2="284.30" stroke="#111" stroke-width="0.9" />
<line x1="316.29" y1="284.30" x2="316.29" y2="286.10" stroke="#222" stroke-width="0.6" />
<line x1="313.49" y1="285.10" x2="321.70" y2="285.10" stroke="#111" stroke-width="0.9" />
<line x1="313.49" y1="285.10" x2="313.49" y2="290.45" stroke="#222" stroke-width="0.6" />
<line x1="313.44" y1="286.30" x2="321.70" y2="286.30" stroke="#111" stroke-width="0.9" />
<line x1="312.95" y1="288.30" x2="321.70" y2="288.30" stroke="#111" stroke-width="0.9" />
<line x1="312.95" y1="288.30" x2="312.95" y2="292.99" stroke="#222" stroke-width="0.6" />
<line x1="312.21" y1="289.90" x2="321.70" y2="289.90" stroke="#111" stroke-width="0.9" />
<line x1="312.82" y1="291.90" x2="321.70" y2="291.90" stroke="#111" stroke-width="0.9" />
<line x1="315.08" y1="293.50" x2="321.70" y2="293.50" stroke="#111" stroke-width="0.9" />
<line x1="316.38" y1="294.70" x2="321.70" y2="294.70" stroke="#111" stroke-width="0.9" />
<line x1="316.38" y1="294.70" x2="316.38" y2="300.17" stroke="#222" stroke-width="0.6" />
<line x1="314.26" y1="295.90" x2="321.70" y2="295.90" stroke="#111" stroke-width="0.9" />
<line x1="314.26" y1="295.90" x2="314.26" y2="300.41" stroke="#222" stroke-width="0.6" />
<line x1="315.07" y1="297.90" x2="321.70" y2="297.90" stroke="#111" stroke-width="0.9" />
<line x1="315.07" y1="297.90" x2="315.07" y2="299.94" stroke="#222" stroke-width="0.6" />
<line x1="315.97" y1="299.90" x2="321.70" y2="299.90" stroke="#111" stroke-width="0.9" />
<line x1="314.63" y1="300.70" x2="321.70" y2="300.70" stroke="#111" stroke-width="0.9" />
<line x1="314.63" y1="300.70" x2="314.63" y2="304.46" stroke="#222" stroke-width="0.6" />
<line x1="312.17" y1="301.50" x2="321.70" y2="301.50" stroke="#111" stroke-width="0.9" />
<line x1="314.59" y1="302.70" x2="321.70" y2="302.70" stroke="#111" stroke-width="0.9" />
<line x1="312.22" y1="303.50" x2="321.70" y2="303.50" stroke="#111" stroke-width="0.9" />
<line x1="315.95" y1="304.30" x2="321.70" y2="304.30" stroke="#111" stroke-width="0.9" />
<line x1="315.95" y1="304.30" x2="315.95" y2="307.22" stroke="#222" stroke-width="0.6" />
<line x1="314.36" y1="305.50" x2="321.70" y2="305.50" stroke="#111" stroke-width="0.9" />
<line x1="314.36" y1="305.50" x2="314.36" y2="306.84" stroke="#222" stroke-width="0.6" />
<line x1="314.85" y1="306.70" x2="321.70" y2="306.70" stroke="#111" stroke-width="0.9" />
<line x1="314.38" y1="307.50" x2="321.70" y2="307.50" stroke="#111" stroke-width="0.9" />
<line x1="313.57" y1="308.30" x2="321.70" y2="308.30" stroke="#111" stroke-width="0.9" />
<line x1="313.57" y1="308.30" x2="313.57" y2="314.11" stroke="#222" stroke-width="0.6" />
<line x1="315.29" y1="309.50" x2="321.70" y2="309.50" stroke="#111" stroke-width="0.9" />
<line x1="315.29" y1="309.50" x2="315.29" y2="310.56" stroke="#222" stroke-width="0.6" />
<line x1="313.21" y1="311.10" x2="321.70" y2="311.10" stroke="#111" stroke-width="0.9" />
<line x1="314.29" y1="312.30" x2="321.70" y2="312.30" stroke="#111" stroke-width="0.9" />
<line x1="314.29" y1="312.30" x2="314.29" y2="315.64" stroke="#222" stroke-width="0.6" />
<line x1="313.20" y1="313.90" x2="321.70" y2="313.90" stroke="#111" stroke-width="0.9" />
<line x1="313.20" y1="313.90" x2="313.20" y2="314.15" stroke="#222" stroke-width="0.6" />
<rect x="316.80" y="37.50" width="4.90" height="276.50" fill="#111" />
<line x1="311.81" y1="187.92" x2="311.81" y2="205.18" stroke="#444" stroke-width="0.6" />
<line x1="314.88" y1="277.37" x2="314.88" y2="295.31" stroke="#444" stroke-width="0.6" />
<line x1="310.79" y1="124.52" x2="310.79" y2="135.00" stroke="#444" stroke-width="0.6" />
<line x1="314.81" y1="143.45" x2="314.81" y2="153.08" stroke="#444" stroke-width="0.6" />
<line x1="310.87" y1="76.34" x2="310.87" y2="101.30" stroke="#444" stroke-width="0.6" />
<line x1="308.04" y1="204.15" x2="308.04" y2="227.31" stroke="#444" stroke-width="0.6" />
<line x1="309.78" y1="205.00" x2="309.78" y2="214.42" stroke="#444" stroke-width="0.6" />
<line x1="309.69" y1="91.57" x2="309.69" y2="94.47" stroke="#444" stroke-width="0.6" />
<line x1="313.90" y1="252.59" x2="313.90" y2="275.30" stroke="#444" stroke-width="0.6" />
<line x1="308.35" y1="227.90" x2="308.35" y2="236.01" stroke="#444" stroke-width="0.6" />
<line x1="312.52" y1="187.96" x2="312.52" y2="195.85" stroke="#444" stroke-width="0.6" />
<line x1="314.80" y1="37.26" x2="314.80" y2="55.91" stroke="#444" stroke-width="0.6" />
<line x1="313.97" y1="177.29" x2="313.97" y2="192.09" stroke="#444" stroke-width="0.6" />
<line x1="314.96" y1="101.47" x2="314.96" y2="117.21" stroke="#444" stroke-width="0.6" />
<line x1="313.20" y1="141.18" x2="313.20" y2="158.98" stroke="#444" stroke-width="0.6" />
<line x1="310.75" y1="181.72" x2="310.75" y2="197.04" stroke="#444" stroke-width="0.6" />
<line x1="312.74" y1="125.59" x2="312.74" y2="141.31" stroke="#444" stroke-width="0.6" />
<line x1="311.80" y1="98.40" x2="311.80" y2="113.71" stroke="#444" stroke-width="0.6" />
<line x1="309.85" y1="286.91" x2="309.85" y2="298.74" stroke="#444" stroke-width="0.6" />
<line x1="313.05" y1="180.56" x2="313.05" y2="192.48" stroke="#444" stroke-width="0.6" />
<line x1="309.55" y1="76.07" x2="309.55" y2="99.26" stroke="#444" stroke-width="0.6" />
<line x1="311.70" y1="181.08" x2="311.70" y2="194.27" stroke="#444" stroke-width="0.6" />
<line x1="313.69" y1="102.63" x2="313.69" y2="106.94" stroke="#444" stroke-width="0.6" />
<line x1="313.75" y1="163.58" x2="313.75" y2="179.60" stroke="#444" stroke-width="0.6" />
<line x1="313.79" y1="282.86" x2="313.79" y2="304.55" stroke="#444" stroke-width="0.6" />
<line x1="308.30" y1="141.85" x2="308.30" y2="162.65" stroke="#444" stroke-width="0.6" />
<line x1="313.72" y1="70.83" x2="313.72" y2="74.68" stroke="#444" stroke-width="0.6" />
<line x1="309.76" y1="65.27" x2="309.76" y2="74.19" stroke="#444" stroke-width="0.6" />
<line x1="313.62" y1="180.37" x2="313.62" y2="191.69" stroke="#444" stroke-width="0.6" />
<line x1="308.62" y1="145.78" x2="308.62" y2="170.70" stroke="#444" stroke-width="0.6" />
<text x="304.00" y="326.00" font-size="8.3" fill="#474747" textLength="65" lengthAdjust="spacingAndGlyphs">signal (logRPKM)</text>
<defs><linearGradient id="sg" x1="0" x2="1"><stop offset="0" stop-color="#1f7ff5"/><stop offset="0.5" stop-color="#f6f3ef"/><stop offset="1" stop-color="#f03c3c"/></linearGradient></defs>
<rect x="319.00" y="332.00" width="36.00" height="6.00" fill="url(#sg)" />
<text x="321.50" y="345.00" font-size="8.3" fill="#474747" text-anchor="middle">-1</text>
<text x="337.00" y="345.00" font-size="8.3" fill="#474747" text-anchor="middle">0</text>
<text x="352.50" y="345.00" font-size="8.3" fill="#474747" text-anchor="middle">1</text>
<text x="400.00" y="336.00" font-size="8.3" fill="#474747" textLength="19" lengthAdjust="spacingAndGlyphs">type:</text>
<rect x="424.00" y="323.00" width="15.00" height="6.00" fill="#f04848" stroke="#333" stroke-width="0.4"/>
<rect x="424.00" y="332.00" width="15.00" height="5.50" fill="#7b6cf0" />
<rect x="424.00" y="341.00" width="15.00" height="6.00" fill="#fbfbe6" stroke="#bbb" stroke-width="0.4"/>
<text x="442.00" y="328.50" font-size="8.3" fill="#474747" textLength="43" lengthAdjust="spacingAndGlyphs">E2-induced</text>
<text x="442.00" y="337.50" font-size="8.3" fill="#474747" textLength="24" lengthAdjust="spacingAndGlyphs">others</text>
<text x="442.00" y="346.50" font-size="8.3" fill="#474747" textLength="19" lengthAdjust="spacingAndGlyphs">none</text>
<text x="555.50" y="25.00" font-size="21" fill="#111">d</text>
<line x1="605.00" y1="27.00" x2="605.00" y2="109.30" stroke="#444" stroke-width="0.9" />
<line x1="605.00" y1="109.00" x2="687.30" y2="109.00" stroke="#444" stroke-width="0.9" />
<line x1="603.00" y1="109.00" x2="605.00" y2="109.00" stroke="#444" stroke-width="0.8" />
<text x="601.50" y="112.20" font-size="8.8" fill="#474747" text-anchor="end">0</text>
<line x1="603.00" y1="92.66" x2="605.00" y2="92.66" stroke="#444" stroke-width="0.8" />
<text x="601.50" y="95.86" font-size="8.8" fill="#474747" text-anchor="end">20</text>
<line x1="603.00" y1="76.32" x2="605.00" y2="76.32" stroke="#444" stroke-width="0.8" />
<text x="601.50" y="79.52" font-size="8.8" fill="#474747" text-anchor="end">40</text>
<line x1="603.00" y1="59.98" x2="605.00" y2="59.98" stroke="#444" stroke-width="0.8" />
<text x="601.50" y="63.18" font-size="8.8" fill="#474747" text-anchor="end">60</text>
<line x1="603.00" y1="43.64" x2="605.00" y2="43.64" stroke="#444" stroke-width="0.8" />
<text x="601.50" y="46.84" font-size="8.8" fill="#474747" text-anchor="end">80</text>
<line x1="603.00" y1="27.30" x2="605.00" y2="27.30" stroke="#444" stroke-width="0.8" />
<text x="601.50" y="30.50" font-size="8.8" fill="#474747" text-anchor="end">100</text>
<line x1="625.60" y1="109.00" x2="625.60" y2="111.00" stroke="#444" stroke-width="0.7" />
<line x1="646.20" y1="109.00" x2="646.20" y2="111.00" stroke="#444" stroke-width="0.7" />
<line x1="666.80" y1="109.00" x2="666.80" y2="111.00" stroke="#444" stroke-width="0.7" />
<rect x="608.30" y="32.20" width="3.60" height="76.80" fill="#1f7ff0" stroke="#333" stroke-width="0.3"/>
<rect x="612.90" y="74.69" width="3.60" height="34.31" fill="#f04a48" stroke="#333" stroke-width="0.3"/>
<rect x="617.50" y="96.75" width="3.60" height="12.25" fill="#7b6cf0" stroke="#333" stroke-width="0.3"/>
<rect x="628.90" y="105.32" width="3.60" height="3.68" fill="#1f7ff0" stroke="#333" stroke-width="0.3"/>
<rect x="633.50" y="81.22" width="3.60" height="27.78" fill="#f04a48" stroke="#333" stroke-width="0.3"/>
<rect x="638.10" y="105.73" width="3.60" height="3.27" fill="#7b6cf0" stroke="#333" stroke-width="0.3"/>
<rect x="649.50" y="108.18" width="3.60" height="0.82" fill="#1f7ff0" stroke="#333" stroke-width="0.3"/>
<rect x="654.10" y="106.55" width="3.60" height="2.45" fill="#f04a48" stroke="#333" stroke-width="0.3"/>
<rect x="658.70" y="89.39" width="3.60" height="19.61" fill="#7b6cf0" stroke="#333" stroke-width="0.3"/>
<rect x="670.10" y="108.18" width="3.60" height="0.82" fill="#1f7ff0" stroke="#333" stroke-width="0.3"/>
<rect x="674.70" y="91.03" width="3.60" height="17.97" fill="#f04a48" stroke="#333" stroke-width="0.3"/>
<rect x="679.30" y="62.43" width="3.60" height="46.57" fill="#7b6cf0" stroke="#333" stroke-width="0.3"/>
<text x="577.00" y="68.50" font-size="9" fill="#3a3a3a" text-anchor="middle" textLength="55" lengthAdjust="spacingAndGlyphs" transform="rotate(-90 577.00 68.50)">% DSB peaks</text>
<text x="581.00" y="123.60" font-size="9" fill="#3a3a3a" textLength="18" lengthAdjust="spacingAndGlyphs">A3B</text>
<text x="571.00" y="134.00" font-size="9" fill="#3a3a3a" textLength="28" lengthAdjust="spacingAndGlyphs">R-loop</text>
<text x="615.00" y="123.60" font-size="8.5" fill="#3a3a3a" text-anchor="middle">+</text>
<text x="615.00" y="134.00" font-size="8.5" fill="#3a3a3a" text-anchor="middle">+</text>
<text x="635.00" y="123.60" font-size="8.5" fill="#3a3a3a" text-anchor="middle">+</text>
<text x="635.00" y="134.00" font-size="8.5" fill="#3a3a3a" text-anchor="middle">-</text>
<text x="657.00" y="123.60" font-size="8.5" fill="#3a3a3a" text-anchor="middle">-</text>
<text x="657.00" y="134.00" font-size="8.5" fill="#3a3a3a" text-anchor="middle">+</text>
<text x="677.00" y="123.60" font-size="8.5" fill="#3a3a3a" text-anchor="middle">-</text>
<text x="677.00" y="134.00" font-size="8.5" fill="#3a3a3a" text-anchor="middle">-</text>
<rect x="612.80" y="146.20" width="8.70" height="5.80" fill="#1f7ff0" stroke="#333" stroke-width="0.4"/>
<text x="622.50" y="151.50" font-size="8.5" fill="#1f7ff0" textLength="61" lengthAdjust="spacingAndGlyphs">A3B-dependent</text>
<text x="551.00" y="164.40" font-size="8.5" fill="#3a3a3a" textLength="53" lengthAdjust="spacingAndGlyphs">Types of DSB:</text>
<rect x="612.80" y="165.90" width="8.70" height="5.40" fill="#f04a48" stroke="#333" stroke-width="0.4"/>
<text x="624.00" y="164.30" font-size="8.5" fill="#f04a48" textLength="44" lengthAdjust="spacingAndGlyphs">E2-induced,</text>
<text x="622.50" y="175.00" font-size="8.5" fill="#f04a48" textLength="68" lengthAdjust="spacingAndGlyphs">A3B-independent</text>
<rect x="612.80" y="184.50" width="8.70" height="5.60" fill="#7b6cf0" stroke="#333" stroke-width="0.4"/>
<text x="622.50" y="189.40" font-size="8.5" fill="#7b6cf0" textLength="25" lengthAdjust="spacingAndGlyphs">others</text>
<text x="535.00" y="236.00" font-size="21" fill="#111">e</text>
<line x1="591.00" y1="222.30" x2="618.60" y2="222.30" stroke="#555" stroke-width="0.8" />
<line x1="625.00" y1="222.30" x2="650.70" y2="222.30" stroke="#555" stroke-width="0.8" />
<path d="M604.5,222.3 L604.5,218.7 L637.8,218.7 L637.8,222.3" stroke="#333" stroke-width="0.9" fill="none" />
<text x="620.00" y="217.50" font-size="5.5" fill="#474747" text-anchor="middle">****</text>
<line x1="586.50" y1="234.00" x2="599.00" y2="234.00" stroke="#555" stroke-width="0.8" />
<line x1="609.60" y1="234.00" x2="652.70" y2="234.00" stroke="#555" stroke-width="0.8" />
<path d="M593,234 L593,230.3 L630.6,230.3 L630.6,234" stroke="#333" stroke-width="0.9" fill="none" />
<text x="611.60" y="229.50" font-size="5.5" fill="#474747" text-anchor="middle">****</text>
<text x="572.00" y="248.00" font-size="5.5" fill="#777" transform="rotate(-15 572.00 248.00)">n =</text>
<text x="584.00" y="249.00" font-size="6.3" fill="#1f7ff0" textLength="18" lengthAdjust="spacingAndGlyphs" transform="rotate(-15 584.00 249.00)">11,598</text>
<text x="604.50" y="249.00" font-size="6.3" fill="#1f7ff0" textLength="18" lengthAdjust="spacingAndGlyphs" transform="rotate(-15 604.50 249.00)">10,174</text>
<text x="623.70" y="249.00" font-size="6.3" fill="#1f7ff0" textLength="18" lengthAdjust="spacingAndGlyphs" transform="rotate(-15 623.70 249.00)">8,734</text>
<text x="641.70" y="249.00" font-size="6.3" fill="#666" textLength="18" lengthAdjust="spacingAndGlyphs" transform="rotate(-15 641.70 249.00)">16,823</text>
<line x1="580.00" y1="247.50" x2="580.00" y2="329.70" stroke="#555" stroke-width="0.8" />
<line x1="580.00" y1="329.70" x2="661.50" y2="329.70" stroke="#555" stroke-width="0.8" />
<line x1="578.00" y1="262.70" x2="580.00" y2="262.70" stroke="#555" stroke-width="0.7" />
<text x="576.50" y="265.90" font-size="9" fill="#474747" text-anchor="end">5</text>
<line x1="578.00" y1="289.90" x2="580.00" y2="289.90" stroke="#555" stroke-width="0.7" />
<text x="576.50" y="293.10" font-size="9" fill="#474747" text-anchor="end">0</text>
<line x1="578.00" y1="317.10" x2="580.00" y2="317.10" stroke="#555" stroke-width="0.7" />
<text x="576.50" y="320.30" font-size="9" fill="#474747" text-anchor="end">-5</text>
<line x1="580.00" y1="289.90" x2="661.50" y2="289.90" stroke="#666" stroke-width="0.7" stroke-dasharray="1,1.5"/>
<line x1="592.60" y1="274.50" x2="592.60" y2="323.00" stroke="#c8c8c8" stroke-width="0.8" />
<line x1="589.60" y1="282.00" x2="595.60" y2="282.00" stroke="#aaa" stroke-width="1.3" />
<line x1="589.60" y1="313.00" x2="595.60" y2="313.00" stroke="#666" stroke-width="1.3" />
<line x1="592.60" y1="299.60" x2="592.60" y2="313.00" stroke="#666" stroke-width="0.9" />
<line x1="592.10" y1="315.00" x2="593.10" y2="315.00" stroke="#888" stroke-width="0.9" />
<line x1="592.10" y1="316.50" x2="593.10" y2="316.50" stroke="#888" stroke-width="0.9" />
<line x1="592.10" y1="318.00" x2="593.10" y2="318.00" stroke="#888" stroke-width="0.9" />
<line x1="592.10" y1="319.50" x2="593.10" y2="319.50" stroke="#888" stroke-width="0.9" />
<line x1="592.10" y1="321.00" x2="593.10" y2="321.00" stroke="#888" stroke-width="0.9" />
<line x1="592.10" y1="322.50" x2="593.10" y2="322.50" stroke="#888" stroke-width="0.9" />
<rect x="586.50" y="291.00" width="12.30" height="8.60" fill="#1f7ff0" />
<line x1="611.50" y1="279.00" x2="611.50" y2="317.00" stroke="#888" stroke-width="0.7" />
<line x1="611.50" y1="281.00" x2="611.50" y2="291.00" stroke="#222" stroke-width="1.6" />
<line x1="611.50" y1="294.00" x2="611.50" y2="310.00" stroke="#222" stroke-width="1.6" />
<line x1="608.00" y1="284.60" x2="615.00" y2="284.60" stroke="#222" stroke-width="1.1" />
<rect x="605.70" y="291.00" width="11.60" height="3.20" fill="#5b8fd2" stroke="#333" stroke-width="0.6"/>
<line x1="630.50" y1="262.00" x2="630.50" y2="318.00" stroke="#777" stroke-width="0.7" />
<line x1="630.50" y1="268.00" x2="630.50" y2="288.60" stroke="#222" stroke-width="1.7" />
<line x1="630.50" y1="292.00" x2="630.50" y2="306.50" stroke="#222" stroke-width="1.7" />
<rect x="624.50" y="288.60" width="12.00" height="3.60" fill="#86b2e6" stroke="#444" stroke-width="0.6"/>
<line x1="649.50" y1="260.00" x2="649.50" y2="318.00" stroke="#777" stroke-width="0.7" />
<line x1="649.50" y1="263.00" x2="649.50" y2="288.40" stroke="#222" stroke-width="1.7" />
<line x1="649.50" y1="292.00" x2="649.50" y2="310.00" stroke="#222" stroke-width="1.7" />
<line x1="646.30" y1="281.60" x2="652.70" y2="281.60" stroke="#222" stroke-width="1.1" />
<rect x="643.00" y="288.40" width="13.00" height="3.80" fill="#c4c4c4" stroke="#444" stroke-width="0.6"/>
<text x="546.00" y="291.00" font-size="8.8" fill="#3a3a3a" text-anchor="middle" textLength="40" lengthAdjust="spacingAndGlyphs" transform="rotate(-90 546.00 291.00)">log₂ ratio</text>
<text x="556.00" y="291.00" font-size="8.8" fill="#3a3a3a" text-anchor="middle" textLength="58" lengthAdjust="spacingAndGlyphs" transform="rotate(-90 556.00 291.00)">of DSB signal</text>
<text x="566.00" y="291.00" font-size="8.8" fill="#3a3a3a" text-anchor="middle" textLength="27" lengthAdjust="spacingAndGlyphs" transform="rotate(-90 566.00 291.00)">3 vs.2</text>
<text x="561.00" y="341.00" font-size="9" fill="#3a3a3a" textLength="18" lengthAdjust="spacingAndGlyphs">A3B</text>
<text x="550.50" y="351.50" font-size="9" fill="#3a3a3a" textLength="28" lengthAdjust="spacingAndGlyphs">R-loop</text>
<text x="592.40" y="342.00" font-size="8.5" fill="#3a3a3a" text-anchor="middle">+</text>
<text x="592.40" y="352.00" font-size="8.5" fill="#3a3a3a" text-anchor="middle">+</text>
<text x="611.60" y="342.00" font-size="8.5" fill="#3a3a3a" text-anchor="middle">+</text>
<text x="611.60" y="352.00" font-size="8.5" fill="#aaa" text-anchor="middle">-</text>
<text x="630.60" y="342.00" font-size="8.5" fill="#3a3a3a" text-anchor="middle">-</text>
<text x="630.60" y="352.00" font-size="8.5" fill="#3a3a3a" text-anchor="middle">+</text>
<text x="649.40" y="342.00" font-size="8.5" fill="#3a3a3a" text-anchor="middle">-</text>
<text x="649.40" y="352.00" font-size="8.5" fill="#aaa" text-anchor="middle">-</text>
<text x="13.00" y="372.60" font-size="20" fill="#111">f</text>
<defs>
<filter id="nz" x="0" y="0" width="1" height="1" color-interpolation-filters="sRGB">
<feTurbulence type="turbulence" baseFrequency="0.7 1.6" numOctaves="1" seed="4" result="t"/>
<feColorMatrix in="t" type="matrix" values="0 0 0 0 0.93  0 0 0 0 0.12  0 0 0 0 0.12  4.5 0 0 0 -1.0"/>
<feComposite in2="SourceGraphic" operator="in"/>
</filter>
<linearGradient id="cl" x1="0" x2="1"><stop offset="0" stop-color="#f00" stop-opacity="0"/><stop offset="0.5" stop-color="#f00" stop-opacity="1"/><stop offset="1" stop-color="#f00" stop-opacity="0"/></linearGradient>
<linearGradient id="tri" x1="0" y1="0" x2="0" y2="1"><stop offset="0" stop-color="#ee2020" stop-opacity="0.8"/><stop offset="1" stop-color="#ee2020" stop-opacity="0.0"/></linearGradient>
<linearGradient id="fade" x1="0" y1="0" x2="0" y2="1"><stop offset="0" stop-color="#fff" stop-opacity="0"/><stop offset="0.35" stop-color="#fff" stop-opacity="0.15"/><stop offset="1" stop-color="#fff" stop-opacity="0.6"/></linearGradient>
<filter id="bl" x="-0.3" y="-0.3" width="1.6" height="1.6"><feGaussianBlur stdDeviation="2.2"/></filter>
</defs>
<rect x="43.50" y="403.50" width="27.20" height="174.00" fill="#f03a3a" fill-opacity="0.050"/>
<rect x="43.50" y="403.50" width="27.20" height="174.00" fill="#fff" filter="url(#nz)" opacity="0.35"/>
<rect x="43.50" y="403.50" width="27.20" height="174.00" fill="url(#fade)" />
<rect x="43.50" y="412.30" width="27.20" height="0.60" fill="#f03030" fill-opacity="0.01"/>
<rect x="43.50" y="418.10" width="27.20" height="1.00" fill="#f03030" fill-opacity="0.05"/>
<rect x="43.50" y="419.50" width="27.20" height="0.60" fill="#f03030" fill-opacity="0.02"/>
<rect x="43.50" y="420.50" width="27.20" height="0.80" fill="#f03030" fill-opacity="0.05"/>
<rect x="43.50" y="422.10" width="27.20" height="1.00" fill="#f03030" fill-opacity="0.03"/>
<rect x="43.50" y="423.50" width="27.20" height="1.00" fill="#f03030" fill-opacity="0.06"/>
<rect x="43.50" y="427.90" width="27.20" height="1.00" fill="#f03030" fill-opacity="0.07"/>
<rect x="43.50" y="430.10" width="27.20" height="0.60" fill="#f03030" fill-opacity="0.07"/>
<rect x="43.50" y="436.30" width="27.20" height="0.60" fill="#f03030" fill-opacity="0.08"/>
<rect x="43.50" y="441.70" width="27.20" height="0.80" fill="#f03030" fill-opacity="0.06"/>
<rect x="43.50" y="443.70" width="27.20" height="0.80" fill="#f03030" fill-opacity="0.03"/>
<rect x="43.50" y="446.50" width="27.20" height="0.60" fill="#f03030" fill-opacity="0.06"/>
<rect x="43.50" y="454.30" width="27.20" height="0.80" fill="#f03030" fill-opacity="0.02"/>
<rect x="43.50" y="456.30" width="27.20" height="1.00" fill="#f03030" fill-opacity="0.08"/>
<rect x="43.50" y="458.10" width="27.20" height="0.60" fill="#f03030" fill-opacity="0.08"/>
<rect x="43.50" y="460.50" width="27.20" height="0.80" fill="#f03030" fill-opacity="0.07"/>
<rect x="43.50" y="462.50" width="27.20" height="0.80" fill="#f03030" fill-opacity="0.01"/>
<rect x="43.50" y="465.50" width="27.20" height="1.00" fill="#f03030" fill-opacity="0.06"/>
<rect x="43.50" y="469.10" width="27.20" height="0.80" fill="#f03030" fill-opacity="0.01"/>
<rect x="43.50" y="470.70" width="27.20" height="1.00" fill="#f03030" fill-opacity="0.02"/>
<rect x="43.50" y="475.50" width="27.20" height="1.00" fill="#f03030" fill-opacity="0.00"/>
<rect x="43.50" y="481.30" width="27.20" height="0.80" fill="#f03030" fill-opacity="0.08"/>
<rect x="43.50" y="485.30" width="27.20" height="0.60" fill="#f03030" fill-opacity="0.05"/>
<rect x="43.50" y="486.30" width="27.20" height="0.80" fill="#f03030" fill-opacity="0.08"/>
<rect x="43.50" y="487.50" width="27.20" height="0.60" fill="#f03030" fill-opacity="0.04"/>
<rect x="43.50" y="488.50" width="27.20" height="0.60" fill="#f03030" fill-opacity="0.03"/>
<rect x="43.50" y="489.90" width="27.20" height="0.60" fill="#f03030" fill-opacity="0.08"/>
<rect x="43.50" y="493.50" width="27.20" height="1.00" fill="#f03030" fill-opacity="0.00"/>
<rect x="43.50" y="495.70" width="27.20" height="1.00" fill="#f03030" fill-opacity="0.00"/>
<rect x="43.50" y="497.10" width="27.20" height="0.80" fill="#f03030" fill-opacity="0.03"/>
<rect x="43.50" y="498.70" width="27.20" height="0.60" fill="#f03030" fill-opacity="0.05"/>
<rect x="43.50" y="501.50" width="27.20" height="0.80" fill="#f03030" fill-opacity="0.06"/>
<rect x="43.50" y="507.90" width="27.20" height="0.60" fill="#f03030" fill-opacity="0.01"/>
<rect x="43.50" y="520.90" width="27.20" height="0.60" fill="#f03030" fill-opacity="0.06"/>
<rect x="43.50" y="528.50" width="27.20" height="0.80" fill="#f03030" fill-opacity="0.06"/>
<rect x="43.50" y="536.50" width="27.20" height="1.00" fill="#f03030" fill-opacity="0.07"/>
<rect x="43.50" y="538.30" width="27.20" height="0.60" fill="#f03030" fill-opacity="0.05"/>
<rect x="43.50" y="540.10" width="27.20" height="0.60" fill="#f03030" fill-opacity="0.04"/>
<rect x="43.50" y="541.10" width="27.20" height="1.00" fill="#f03030" fill-opacity="0.09"/>
<rect x="43.50" y="552.50" width="27.20" height="0.80" fill="#f03030" fill-opacity="0.00"/>
<rect x="43.50" y="557.10" width="27.20" height="1.00" fill="#f03030" fill-opacity="0.04"/>
<rect x="43.50" y="558.50" width="27.20" height="0.80" fill="#f03030" fill-opacity="0.01"/>
<rect x="43.50" y="559.70" width="27.20" height="1.00" fill="#f03030" fill-opacity="0.01"/>
<rect x="43.50" y="563.30" width="27.20" height="0.80" fill="#f03030" fill-opacity="0.06"/>
<rect x="43.50" y="567.90" width="27.20" height="0.60" fill="#f03030" fill-opacity="0.03"/>
<rect x="43.50" y="570.90" width="27.20" height="0.60" fill="#f03030" fill-opacity="0.08"/>
<rect x="55.66" y="403.50" width="2.88" height="174.00" fill="url(#cl)" opacity="0.28"/>
<rect x="56.74" y="403.50" width="0.72" height="174.00" fill="#f01818" opacity="0.30"/>
<line x1="43.80" y1="403.50" x2="43.80" y2="578.50" stroke="#444" stroke-width="0.7" />
<line x1="70.40" y1="403.50" x2="70.40" y2="578.50" stroke="#aaa" stroke-width="0.6" />
<rect x="74.30" y="403.50" width="27.20" height="174.00" fill="#f03a3a" fill-opacity="0.070"/>
<rect x="74.30" y="403.50" width="27.20" height="174.00" fill="#fff" filter="url(#nz)" opacity="0.45"/>
<rect x="74.30" y="403.50" width="27.20" height="174.00" fill="url(#fade)" />
<rect x="74.30" y="403.50" width="27.20" height="0.80" fill="#f03030" fill-opacity="0.12"/>
<rect x="74.30" y="406.10" width="27.20" height="0.60" fill="#f03030" fill-opacity="0.05"/>
<rect x="74.30" y="411.50" width="27.20" height="0.80" fill="#f03030" fill-opacity="0.05"/>
<rect x="74.30" y="415.10" width="27.20" height="0.60" fill="#f03030" fill-opacity="0.00"/>
<rect x="74.30" y="418.70" width="27.20" height="0.80" fill="#f03030" fill-opacity="0.07"/>
<rect x="74.30" y="422.70" width="27.20" height="0.60" fill="#f03030" fill-opacity="0.07"/>
<rect x="74.30" y="432.90" width="27.20" height="1.00" fill="#f03030" fill-opacity="0.00"/>
<rect x="74.30" y="438.30" width="27.20" height="0.80" fill="#f03030" fill-opacity="0.02"/>
<rect x="74.30" y="443.90" width="27.20" height="0.80" fill="#f03030" fill-opacity="0.06"/>
<rect x="74.30" y="448.70" width="27.20" height="1.00" fill="#f03030" fill-opacity="0.02"/>
<rect x="74.30" y="450.10" width="27.20" height="0.80" fill="#f03030" fill-opacity="0.10"/>
<rect x="74.30" y="451.30" width="27.20" height="0.60" fill="#f03030" fill-opacity="0.03"/>
<rect x="74.30" y="459.90" width="27.20" height="1.00" fill="#f03030" fill-opacity="0.07"/>
<rect x="74.30" y="462.90" width="27.20" height="0.60" fill="#f03030" fill-opacity="0.05"/>
<rect x="74.30" y="464.30" width="27.20" height="1.00" fill="#f03030" fill-opacity="0.08"/>
<rect x="74.30" y="466.10" width="27.20" height="1.00" fill="#f03030" fill-opacity="0.07"/>
<rect x="74.30" y="469.70" width="27.20" height="0.60" fill="#f03030" fill-opacity="0.04"/>
<rect x="74.30" y="472.50" width="27.20" height="0.60" fill="#f03030" fill-opacity="0.03"/>
<rect x="74.30" y="473.50" width="27.20" height="0.80" fill="#f03030" fill-opacity="0.05"/>
<rect x="74.30" y="478.10" width="27.20" height="0.60" fill="#f03030" fill-opacity="0.09"/>
<rect x="74.30" y="479.10" width="27.20" height="0.60" fill="#f03030" fill-opacity="0.09"/>
<rect x="74.30" y="488.10" width="27.20" height="0.60" fill="#f03030" fill-opacity="0.01"/>
<rect x="74.30" y="490.50" width="27.20" height="1.00" fill="#f03030" fill-opacity="0.12"/>
<rect x="74.30" y="497.30" width="27.20" height="0.80" fill="#f03030" fill-opacity="0.05"/>
<rect x="74.30" y="498.50" width="27.20" height="0.60" fill="#f03030" fill-opacity="0.06"/>
<rect x="74.30" y="507.90" width="27.20" height="0.80" fill="#f03030" fill-opacity="0.01"/>
<rect x="74.30" y="509.50" width="27.20" height="0.80" fill="#f03030" fill-opacity="0.04"/>
<rect x="74.30" y="515.30" width="27.20" height="0.80" fill="#f03030" fill-opacity="0.01"/>
<rect x="74.30" y="518.70" width="27.20" height="0.60" fill="#f03030" fill-opacity="0.12"/>
<rect x="74.30" y="520.50" width="27.20" height="0.80" fill="#f03030" fill-opacity="0.05"/>
<rect x="74.30" y="522.10" width="27.20" height="1.00" fill="#f03030" fill-opacity="0.06"/>
<rect x="74.30" y="525.10" width="27.20" height="1.00" fill="#f03030" fill-opacity="0.02"/>
<rect x="74.30" y="528.10" width="27.20" height="1.00" fill="#f03030" fill-opacity="0.08"/>
<rect x="74.30" y="529.90" width="27.20" height="0.80" fill="#f03030" fill-opacity="0.06"/>
<rect x="74.30" y="531.50" width="27.20" height="1.00" fill="#f03030" fill-opacity="0.01"/>
<rect x="74.30" y="537.90" width="27.20" height="1.00" fill="#f03030" fill-opacity="0.08"/>
<rect x="74.30" y="551.30" width="27.20" height="1.00" fill="#f03030" fill-opacity="0.12"/>
<rect x="74.30" y="553.50" width="27.20" height="0.60" fill="#f03030" fill-opacity="0.03"/>
<rect x="74.30" y="554.50" width="27.20" height="1.00" fill="#f03030" fill-opacity="0.10"/>
<rect x="74.30" y="565.30" width="27.20" height="0.60" fill="#f03030" fill-opacity="0.01"/>
<rect x="74.30" y="570.70" width="27.20" height="1.00" fill="#f03030" fill-opacity="0.01"/>
<rect x="74.30" y="573.30" width="27.20" height="0.80" fill="#f03030" fill-opacity="0.08"/>
<rect x="74.30" y="576.10" width="27.20" height="1.00" fill="#f03030" fill-opacity="0.07"/>
<rect x="85.82" y="403.50" width="4.16" height="174.00" fill="url(#cl)" opacity="0.80"/>
<rect x="87.38" y="403.50" width="1.04" height="174.00" fill="#f01818" opacity="0.85"/>
<line x1="74.60" y1="403.50" x2="74.60" y2="578.50" stroke="#444" stroke-width="0.7" />
<line x1="101.20" y1="403.50" x2="101.20" y2="578.50" stroke="#aaa" stroke-width="0.6" />
<rect x="104.50" y="403.50" width="27.70" height="174.00" fill="#f03a3a" fill-opacity="0.060"/>
<rect x="104.50" y="403.50" width="27.70" height="174.00" fill="#fff" filter="url(#nz)" opacity="0.42"/>
<rect x="104.50" y="403.50" width="27.70" height="174.00" fill="url(#fade)" />
<rect x="104.50" y="406.70" width="27.70" height="0.80" fill="#f03030" fill-opacity="0.10"/>
<rect x="104.50" y="408.70" width="27.70" height="0.80" fill="#f03030" fill-opacity="0.07"/>
<rect x="104.50" y="410.30" width="27.70" height="1.00" fill="#f03030" fill-opacity="0.03"/>
<rect x="104.50" y="413.90" width="27.70" height="1.00" fill="#f03030" fill-opacity="0.01"/>
<rect x="104.50" y="416.10" width="27.70" height="0.80" fill="#f03030" fill-opacity="0.07"/>
<rect x="104.50" y="419.70" width="27.70" height="1.00" fill="#f03030" fill-opacity="0.11"/>
<rect x="104.50" y="422.70" width="27.70" height="0.80" fill="#f03030" fill-opacity="0.04"/>
<rect x="104.50" y="425.50" width="27.70" height="1.00" fill="#f03030" fill-opacity="0.09"/>
<rect x="104.50" y="428.50" width="27.70" height="0.80" fill="#f03030" fill-opacity="0.03"/>
<rect x="104.50" y="430.10" width="27.70" height="0.80" fill="#f03030" fill-opacity="0.09"/>
<rect x="104.50" y="436.10" width="27.70" height="1.00" fill="#f03030" fill-opacity="0.06"/>
<rect x="104.50" y="440.50" width="27.70" height="0.60" fill="#f03030" fill-opacity="0.10"/>
<rect x="104.50" y="441.50" width="27.70" height="1.00" fill="#f03030" fill-opacity="0.08"/>
<rect x="104.50" y="449.30" width="27.70" height="1.00" fill="#f03030" fill-opacity="0.06"/>
<rect x="104.50" y="453.50" width="27.70" height="0.80" fill="#f03030" fill-opacity="0.04"/>
<rect x="104.50" y="455.10" width="27.70" height="0.60" fill="#f03030" fill-opacity="0.04"/>
<rect x="104.50" y="456.90" width="27.70" height="1.00" fill="#f03030" fill-opacity="0.04"/>
<rect x="104.50" y="461.70" width="27.70" height="1.00" fill="#f03030" fill-opacity="0.06"/>
<rect x="104.50" y="463.50" width="27.70" height="0.60" fill="#f03030" fill-opacity="0.05"/>
<rect x="104.50" y="465.30" width="27.70" height="0.60" fill="#f03030" fill-opacity="0.01"/>
<rect x="104.50" y="466.70" width="27.70" height="1.00" fill="#f03030" fill-opacity="0.00"/>
<rect x="104.50" y="471.50" width="27.70" height="1.00" fill="#f03030" fill-opacity="0.01"/>
<rect x="104.50" y="472.90" width="27.70" height="0.80" fill="#f03030" fill-opacity="0.07"/>
<rect x="104.50" y="479.70" width="27.70" height="1.00" fill="#f03030" fill-opacity="0.05"/>
<rect x="104.50" y="483.90" width="27.70" height="1.00" fill="#f03030" fill-opacity="0.05"/>
<rect x="104.50" y="490.90" width="27.70" height="1.00" fill="#f03030" fill-opacity="0.00"/>
<rect x="104.50" y="496.50" width="27.70" height="1.00" fill="#f03030" fill-opacity="0.02"/>
<rect x="104.50" y="499.50" width="27.70" height="1.00" fill="#f03030" fill-opacity="0.10"/>
<rect x="104.50" y="500.90" width="27.70" height="0.80" fill="#f03030" fill-opacity="0.01"/>
<rect x="104.50" y="506.10" width="27.70" height="0.80" fill="#f03030" fill-opacity="0.02"/>
<rect x="104.50" y="507.70" width="27.70" height="1.00" fill="#f03030" fill-opacity="0.08"/>
<rect x="104.50" y="509.50" width="27.70" height="0.80" fill="#f03030" fill-opacity="0.03"/>
<rect x="104.50" y="520.70" width="27.70" height="0.60" fill="#f03030" fill-opacity="0.01"/>
<rect x="104.50" y="544.30" width="27.70" height="0.60" fill="#f03030" fill-opacity="0.03"/>
<rect x="104.50" y="552.30" width="27.70" height="0.80" fill="#f03030" fill-opacity="0.06"/>
<rect x="104.50" y="556.90" width="27.70" height="0.80" fill="#f03030" fill-opacity="0.01"/>
<rect x="104.50" y="560.10" width="27.70" height="0.80" fill="#f03030" fill-opacity="0.02"/>
<rect x="104.50" y="564.30" width="27.70" height="1.00" fill="#f03030" fill-opacity="0.09"/>
<rect x="104.50" y="567.30" width="27.70" height="0.60" fill="#f03030" fill-opacity="0.01"/>
<rect x="104.50" y="568.30" width="27.70" height="1.00" fill="#f03030" fill-opacity="0.07"/>
<rect x="104.50" y="570.50" width="27.70" height="1.00" fill="#f03030" fill-opacity="0.06"/>
<rect x="104.50" y="573.90" width="27.70" height="0.80" fill="#f03030" fill-opacity="0.04"/>
<rect x="104.50" y="575.10" width="27.70" height="0.80" fill="#f03030" fill-opacity="0.03"/>
<rect x="116.75" y="403.50" width="3.20" height="174.00" fill="url(#cl)" opacity="0.44"/>
<rect x="117.95" y="403.50" width="0.80" height="174.00" fill="#f01818" opacity="0.47"/>
<line x1="104.80" y1="403.50" x2="104.80" y2="578.50" stroke="#444" stroke-width="0.7" />
<line x1="131.90" y1="403.50" x2="131.90" y2="578.50" stroke="#aaa" stroke-width="0.6" />
<rect x="135.50" y="403.50" width="27.80" height="174.00" fill="#f03a3a" fill-opacity="0.170"/>
<rect x="135.50" y="403.50" width="27.80" height="174.00" fill="#fff" filter="url(#nz)" opacity="0.75"/>
<rect x="135.50" y="403.50" width="27.80" height="174.00" fill="url(#fade)" />
<rect x="135.50" y="406.50" width="27.80" height="0.80" fill="#f03030" fill-opacity="0.04"/>
<rect x="135.50" y="409.10" width="27.80" height="0.60" fill="#f03030" fill-opacity="0.01"/>
<rect x="135.50" y="413.10" width="27.80" height="0.60" fill="#f03030" fill-opacity="0.30"/>
<rect x="135.50" y="419.30" width="27.80" height="1.00" fill="#f03030" fill-opacity="0.05"/>
<rect x="135.50" y="422.30" width="27.80" height="0.80" fill="#f03030" fill-opacity="0.13"/>
<rect x="135.50" y="423.50" width="27.80" height="1.00" fill="#f03030" fill-opacity="0.21"/>
<rect x="135.50" y="426.70" width="27.80" height="0.80" fill="#f03030" fill-opacity="0.10"/>
<rect x="135.50" y="430.90" width="27.80" height="1.00" fill="#f03030" fill-opacity="0.09"/>
<rect x="135.50" y="441.50" width="27.80" height="0.60" fill="#f03030" fill-opacity="0.15"/>
<rect x="135.50" y="444.10" width="27.80" height="1.00" fill="#f03030" fill-opacity="0.03"/>
<rect x="135.50" y="454.10" width="27.80" height="1.00" fill="#f03030" fill-opacity="0.29"/>
<rect x="135.50" y="459.30" width="27.80" height="0.60" fill="#f03030" fill-opacity="0.17"/>
<rect x="135.50" y="460.30" width="27.80" height="0.80" fill="#f03030" fill-opacity="0.06"/>
<rect x="135.50" y="466.10" width="27.80" height="0.60" fill="#f03030" fill-opacity="0.14"/>
<rect x="135.50" y="467.50" width="27.80" height="1.00" fill="#f03030" fill-opacity="0.17"/>
<rect x="135.50" y="477.10" width="27.80" height="0.80" fill="#f03030" fill-opacity="0.27"/>
<rect x="135.50" y="482.70" width="27.80" height="1.00" fill="#f03030" fill-opacity="0.13"/>
<rect x="135.50" y="484.10" width="27.80" height="1.00" fill="#f03030" fill-opacity="0.16"/>
<rect x="135.50" y="487.10" width="27.80" height="0.60" fill="#f03030" fill-opacity="0.02"/>
<rect x="135.50" y="489.70" width="27.80" height="1.00" fill="#f03030" fill-opacity="0.10"/>
<rect x="135.50" y="498.10" width="27.80" height="1.00" fill="#f03030" fill-opacity="0.12"/>
<rect x="135.50" y="501.70" width="27.80" height="1.00" fill="#f03030" fill-opacity="0.25"/>
<rect x="135.50" y="504.90" width="27.80" height="0.60" fill="#f03030" fill-opacity="0.24"/>
<rect x="135.50" y="508.90" width="27.80" height="0.60" fill="#f03030" fill-opacity="0.22"/>
<rect x="135.50" y="509.90" width="27.80" height="0.80" fill="#f03030" fill-opacity="0.13"/>
<rect x="135.50" y="512.70" width="27.80" height="1.00" fill="#f03030" fill-opacity="0.11"/>
<rect x="135.50" y="514.50" width="27.80" height="0.60" fill="#f03030" fill-opacity="0.14"/>
<rect x="135.50" y="516.30" width="27.80" height="0.80" fill="#f03030" fill-opacity="0.04"/>
<rect x="135.50" y="519.10" width="27.80" height="0.60" fill="#f03030" fill-opacity="0.26"/>
<rect x="135.50" y="520.10" width="27.80" height="0.60" fill="#f03030" fill-opacity="0.26"/>
<rect x="135.50" y="522.70" width="27.80" height="0.60" fill="#f03030" fill-opacity="0.27"/>
<rect x="135.50" y="534.30" width="27.80" height="0.80" fill="#f03030" fill-opacity="0.07"/>
<rect x="135.50" y="537.70" width="27.80" height="0.80" fill="#f03030" fill-opacity="0.07"/>
<rect x="135.50" y="539.70" width="27.80" height="0.80" fill="#f03030" fill-opacity="0.20"/>
<rect x="135.50" y="548.70" width="27.80" height="1.00" fill="#f03030" fill-opacity="0.28"/>
<rect x="135.50" y="553.50" width="27.80" height="0.60" fill="#f03030" fill-opacity="0.23"/>
<rect x="135.50" y="554.90" width="27.80" height="0.60" fill="#f03030" fill-opacity="0.17"/>
<rect x="135.50" y="562.90" width="27.80" height="0.60" fill="#f03030" fill-opacity="0.17"/>
<rect x="135.50" y="565.90" width="27.80" height="1.00" fill="#f03030" fill-opacity="0.25"/>
<rect x="135.50" y="570.90" width="27.80" height="1.00" fill="#f03030" fill-opacity="0.24"/>
<rect x="135.50" y="576.50" width="27.80" height="0.60" fill="#f03030" fill-opacity="0.30"/>
<rect x="135.50" y="577.50" width="27.80" height="1.00" fill="#f03030" fill-opacity="0.27"/>
<rect x="147.80" y="403.50" width="3.20" height="174.00" fill="url(#cl)" opacity="0.28"/>
<rect x="149.00" y="403.50" width="0.80" height="174.00" fill="#f01818" opacity="0.30"/>
<line x1="135.80" y1="403.50" x2="135.80" y2="578.50" stroke="#444" stroke-width="0.7" />
<line x1="163.00" y1="403.50" x2="163.00" y2="578.50" stroke="#aaa" stroke-width="0.6" />
<rect x="166.50" y="403.50" width="27.60" height="174.00" fill="#f03a3a" fill-opacity="0.200"/>
<rect x="166.50" y="403.50" width="27.60" height="174.00" fill="#fff" filter="url(#nz)" opacity="0.80"/>
<rect x="166.50" y="403.50" width="27.60" height="174.00" fill="url(#fade)" />
<rect x="166.50" y="408.10" width="27.60" height="0.60" fill="#f03030" fill-opacity="0.33"/>
<rect x="166.50" y="409.50" width="27.60" height="1.00" fill="#f03030" fill-opacity="0.11"/>
<rect x="166.50" y="410.90" width="27.60" height="1.00" fill="#f03030" fill-opacity="0.22"/>
<rect x="166.50" y="414.90" width="27.60" height="0.80" fill="#f03030" fill-opacity="0.06"/>
<rect x="166.50" y="417.70" width="27.60" height="0.60" fill="#f03030" fill-opacity="0.17"/>
<rect x="166.50" y="422.90" width="27.60" height="0.60" fill="#f03030" fill-opacity="0.32"/>
<rect x="166.50" y="424.30" width="27.60" height="0.60" fill="#f03030" fill-opacity="0.11"/>
<rect x="166.50" y="428.30" width="27.60" height="0.80" fill="#f03030" fill-opacity="0.20"/>
<rect x="166.50" y="431.50" width="27.60" height="0.80" fill="#f03030" fill-opacity="0.34"/>
<rect x="166.50" y="433.10" width="27.60" height="0.60" fill="#f03030" fill-opacity="0.21"/>
<rect x="166.50" y="434.10" width="27.60" height="1.00" fill="#f03030" fill-opacity="0.25"/>
<rect x="166.50" y="437.50" width="27.60" height="0.80" fill="#f03030" fill-opacity="0.02"/>
<rect x="166.50" y="440.30" width="27.60" height="0.80" fill="#f03030" fill-opacity="0.29"/>
<rect x="166.50" y="441.90" width="27.60" height="0.80" fill="#f03030" fill-opacity="0.08"/>
<rect x="166.50" y="453.10" width="27.60" height="0.60" fill="#f03030" fill-opacity="0.10"/>
<rect x="166.50" y="454.90" width="27.60" height="1.00" fill="#f03030" fill-opacity="0.07"/>
<rect x="166.50" y="457.10" width="27.60" height="1.00" fill="#f03030" fill-opacity="0.33"/>
<rect x="166.50" y="458.90" width="27.60" height="0.80" fill="#f03030" fill-opacity="0.02"/>
<rect x="166.50" y="464.50" width="27.60" height="0.80" fill="#f03030" fill-opacity="0.32"/>
<rect x="166.50" y="467.70" width="27.60" height="0.80" fill="#f03030" fill-opacity="0.09"/>
<rect x="166.50" y="468.90" width="27.60" height="0.60" fill="#f03030" fill-opacity="0.21"/>
<rect x="166.50" y="469.90" width="27.60" height="0.60" fill="#f03030" fill-opacity="0.15"/>
<rect x="166.50" y="481.10" width="27.60" height="0.60" fill="#f03030" fill-opacity="0.31"/>
<rect x="166.50" y="482.50" width="27.60" height="0.60" fill="#f03030" fill-opacity="0.12"/>
<rect x="166.50" y="483.90" width="27.60" height="0.60" fill="#f03030" fill-opacity="0.01"/>
<rect x="166.50" y="486.50" width="27.60" height="1.00" fill="#f03030" fill-opacity="0.27"/>
<rect x="166.50" y="491.90" width="27.60" height="0.80" fill="#f03030" fill-opacity="0.23"/>
<rect x="166.50" y="493.10" width="27.60" height="0.80" fill="#f03030" fill-opacity="0.18"/>
<rect x="166.50" y="504.30" width="27.60" height="1.00" fill="#f03030" fill-opacity="0.15"/>
<rect x="166.50" y="511.10" width="27.60" height="0.60" fill="#f03030" fill-opacity="0.02"/>
<rect x="166.50" y="513.70" width="27.60" height="0.80" fill="#f03030" fill-opacity="0.18"/>
<rect x="166.50" y="517.70" width="27.60" height="0.60" fill="#f03030" fill-opacity="0.12"/>
<rect x="166.50" y="519.50" width="27.60" height="1.00" fill="#f03030" fill-opacity="0.29"/>
<rect x="166.50" y="523.50" width="27.60" height="0.80" fill="#f03030" fill-opacity="0.25"/>
<rect x="166.50" y="527.70" width="27.60" height="1.00" fill="#f03030" fill-opacity="0.10"/>
<rect x="166.50" y="530.70" width="27.60" height="0.80" fill="#f03030" fill-opacity="0.33"/>
<rect x="166.50" y="536.50" width="27.60" height="0.60" fill="#f03030" fill-opacity="0.07"/>
<rect x="166.50" y="539.50" width="27.60" height="1.00" fill="#f03030" fill-opacity="0.20"/>
<rect x="166.50" y="542.50" width="27.60" height="0.60" fill="#f03030" fill-opacity="0.18"/>
<rect x="166.50" y="545.70" width="27.60" height="0.80" fill="#f03030" fill-opacity="0.32"/>
<rect x="166.50" y="547.70" width="27.60" height="1.00" fill="#f03030" fill-opacity="0.14"/>
<rect x="166.50" y="553.70" width="27.60" height="1.00" fill="#f03030" fill-opacity="0.15"/>
<rect x="166.50" y="563.30" width="27.60" height="1.00" fill="#f03030" fill-opacity="0.31"/>
<rect x="166.50" y="566.30" width="27.60" height="0.60" fill="#f03030" fill-opacity="0.31"/>
<rect x="166.50" y="568.90" width="27.60" height="0.60" fill="#f03030" fill-opacity="0.14"/>
<rect x="166.50" y="575.50" width="27.60" height="0.60" fill="#f03030" fill-opacity="0.27"/>
<rect x="177.10" y="403.50" width="6.40" height="174.00" fill="url(#cl)" opacity="0.80"/>
<rect x="179.50" y="403.50" width="1.60" height="174.00" fill="#f01818" opacity="0.85"/>
<line x1="166.80" y1="403.50" x2="166.80" y2="578.50" stroke="#444" stroke-width="0.7" />
<line x1="193.80" y1="403.50" x2="193.80" y2="578.50" stroke="#aaa" stroke-width="0.6" />
<rect x="197.00" y="403.50" width="27.50" height="174.00" fill="#f03a3a" fill-opacity="0.050"/>
<rect x="197.00" y="403.50" width="27.50" height="174.00" fill="#fff" filter="url(#nz)" opacity="0.25"/>
<rect x="197.00" y="403.50" width="27.50" height="174.00" fill="url(#fade)" />
<rect x="197.00" y="405.70" width="27.50" height="0.60" fill="#f03030" fill-opacity="0.03"/>
<rect x="197.00" y="417.30" width="27.50" height="0.60" fill="#f03030" fill-opacity="0.09"/>
<rect x="197.00" y="418.30" width="27.50" height="0.60" fill="#f03030" fill-opacity="0.07"/>
<rect x="197.00" y="419.30" width="27.50" height="0.80" fill="#f03030" fill-opacity="0.00"/>
<rect x="197.00" y="422.10" width="27.50" height="0.60" fill="#f03030" fill-opacity="0.03"/>
<rect x="197.00" y="423.90" width="27.50" height="0.60" fill="#f03030" fill-opacity="0.06"/>
<rect x="197.00" y="425.30" width="27.50" height="1.00" fill="#f03030" fill-opacity="0.06"/>
<rect x="197.00" y="427.50" width="27.50" height="0.60" fill="#f03030" fill-opacity="0.08"/>
<rect x="197.00" y="429.30" width="27.50" height="0.80" fill="#f03030" fill-opacity="0.01"/>
<rect x="197.00" y="434.10" width="27.50" height="0.80" fill="#f03030" fill-opacity="0.04"/>
<rect x="197.00" y="436.10" width="27.50" height="1.00" fill="#f03030" fill-opacity="0.00"/>
<rect x="197.00" y="439.30" width="27.50" height="1.00" fill="#f03030" fill-opacity="0.02"/>
<rect x="197.00" y="449.30" width="27.50" height="1.00" fill="#f03030" fill-opacity="0.05"/>
<rect x="197.00" y="451.50" width="27.50" height="0.80" fill="#f03030" fill-opacity="0.03"/>
<rect x="197.00" y="455.70" width="27.50" height="1.00" fill="#f03030" fill-opacity="0.01"/>
<rect x="197.00" y="460.70" width="27.50" height="0.60" fill="#f03030" fill-opacity="0.03"/>
<rect x="197.00" y="465.10" width="27.50" height="0.80" fill="#f03030" fill-opacity="0.05"/>
<rect x="197.00" y="466.30" width="27.50" height="0.80" fill="#f03030" fill-opacity="0.06"/>
<rect x="197.00" y="468.30" width="27.50" height="1.00" fill="#f03030" fill-opacity="0.05"/>
<rect x="197.00" y="470.10" width="27.50" height="0.80" fill="#f03030" fill-opacity="0.03"/>
<rect x="197.00" y="474.90" width="27.50" height="0.80" fill="#f03030" fill-opacity="0.01"/>
<rect x="197.00" y="476.90" width="27.50" height="1.00" fill="#f03030" fill-opacity="0.03"/>
<rect x="197.00" y="478.70" width="27.50" height="0.60" fill="#f03030" fill-opacity="0.01"/>
<rect x="197.00" y="480.50" width="27.50" height="1.00" fill="#f03030" fill-opacity="0.03"/>
<rect x="197.00" y="482.30" width="27.50" height="0.60" fill="#f03030" fill-opacity="0.02"/>
<rect x="197.00" y="483.30" width="27.50" height="0.60" fill="#f03030" fill-opacity="0.00"/>
<rect x="197.00" y="493.30" width="27.50" height="0.80" fill="#f03030" fill-opacity="0.06"/>
<rect x="197.00" y="494.90" width="27.50" height="0.80" fill="#f03030" fill-opacity="0.04"/>
<rect x="197.00" y="500.50" width="27.50" height="1.00" fill="#f03030" fill-opacity="0.06"/>
<rect x="197.00" y="519.50" width="27.50" height="0.80" fill="#f03030" fill-opacity="0.00"/>
<rect x="197.00" y="520.70" width="27.50" height="0.80" fill="#f03030" fill-opacity="0.04"/>
<rect x="197.00" y="528.90" width="27.50" height="0.80" fill="#f03030" fill-opacity="0.02"/>
<rect x="197.00" y="532.30" width="27.50" height="0.80" fill="#f03030" fill-opacity="0.08"/>
<rect x="197.00" y="536.30" width="27.50" height="0.80" fill="#f03030" fill-opacity="0.00"/>
<rect x="197.00" y="540.50" width="27.50" height="0.60" fill="#f03030" fill-opacity="0.04"/>
<rect x="197.00" y="543.10" width="27.50" height="0.60" fill="#f03030" fill-opacity="0.04"/>
<rect x="197.00" y="546.90" width="27.50" height="0.60" fill="#f03030" fill-opacity="0.08"/>
<rect x="197.00" y="548.30" width="27.50" height="0.80" fill="#f03030" fill-opacity="0.02"/>
<rect x="197.00" y="553.70" width="27.50" height="0.80" fill="#f03030" fill-opacity="0.09"/>
<rect x="197.00" y="560.10" width="27.50" height="0.80" fill="#f03030" fill-opacity="0.03"/>
<rect x="197.00" y="563.90" width="27.50" height="1.00" fill="#f03030" fill-opacity="0.07"/>
<rect x="197.00" y="567.10" width="27.50" height="0.60" fill="#f03030" fill-opacity="0.02"/>
<rect x="197.00" y="571.10" width="27.50" height="0.60" fill="#f03030" fill-opacity="0.01"/>
<rect x="197.00" y="574.70" width="27.50" height="0.80" fill="#f03030" fill-opacity="0.01"/>
<rect x="197.00" y="576.70" width="27.50" height="0.80" fill="#f03030" fill-opacity="0.06"/>
<line x1="197.30" y1="403.50" x2="197.30" y2="578.50" stroke="#444" stroke-width="0.7" />
<line x1="224.20" y1="403.50" x2="224.20" y2="578.50" stroke="#aaa" stroke-width="0.6" />
<rect x="227.50" y="403.50" width="27.80" height="174.00" fill="#f03a3a" fill-opacity="0.070"/>
<rect x="227.50" y="403.50" width="27.80" height="174.00" fill="#fff" filter="url(#nz)" opacity="0.32"/>
<rect x="227.50" y="403.50" width="27.80" height="174.00" fill="url(#fade)" />
<rect x="227.50" y="403.50" width="27.80" height="0.80" fill="#f03030" fill-opacity="0.02"/>
<rect x="227.50" y="408.50" width="27.80" height="0.80" fill="#f03030" fill-opacity="0.11"/>
<rect x="227.50" y="411.50" width="27.80" height="0.80" fill="#f03030" fill-opacity="0.09"/>
<rect x="227.50" y="415.10" width="27.80" height="0.80" fill="#f03030" fill-opacity="0.07"/>
<rect x="227.50" y="419.70" width="27.80" height="0.80" fill="#f03030" fill-opacity="0.07"/>
<rect x="227.50" y="421.70" width="27.80" height="0.80" fill="#f03030" fill-opacity="0.04"/>
<rect x="227.50" y="425.90" width="27.80" height="0.60" fill="#f03030" fill-opacity="0.05"/>
<rect x="227.50" y="430.90" width="27.80" height="0.80" fill="#f03030" fill-opacity="0.02"/>
<rect x="227.50" y="437.90" width="27.80" height="0.60" fill="#f03030" fill-opacity="0.06"/>
<rect x="227.50" y="442.30" width="27.80" height="0.80" fill="#f03030" fill-opacity="0.02"/>
<rect x="227.50" y="446.10" width="27.80" height="0.60" fill="#f03030" fill-opacity="0.08"/>
<rect x="227.50" y="450.90" width="27.80" height="0.60" fill="#f03030" fill-opacity="0.02"/>
<rect x="227.50" y="453.90" width="27.80" height="0.60" fill="#f03030" fill-opacity="0.07"/>
<rect x="227.50" y="454.90" width="27.80" height="0.60" fill="#f03030" fill-opacity="0.06"/>
<rect x="227.50" y="457.30" width="27.80" height="1.00" fill="#f03030" fill-opacity="0.06"/>
<rect x="227.50" y="461.10" width="27.80" height="1.00" fill="#f03030" fill-opacity="0.01"/>
<rect x="227.50" y="464.30" width="27.80" height="0.80" fill="#f03030" fill-opacity="0.11"/>
<rect x="227.50" y="474.10" width="27.80" height="0.60" fill="#f03030" fill-opacity="0.08"/>
<rect x="227.50" y="477.70" width="27.80" height="0.80" fill="#f03030" fill-opacity="0.01"/>
<rect x="227.50" y="479.70" width="27.80" height="1.00" fill="#f03030" fill-opacity="0.12"/>
<rect x="227.50" y="481.90" width="27.80" height="0.80" fill="#f03030" fill-opacity="0.13"/>
<rect x="227.50" y="488.70" width="27.80" height="0.80" fill="#f03030" fill-opacity="0.10"/>
<rect x="227.50" y="493.50" width="27.80" height="0.80" fill="#f03030" fill-opacity="0.04"/>
<rect x="227.50" y="497.70" width="27.80" height="1.00" fill="#f03030" fill-opacity="0.04"/>
<rect x="227.50" y="503.30" width="27.80" height="1.00" fill="#f03030" fill-opacity="0.05"/>
<rect x="227.50" y="506.50" width="27.80" height="0.60" fill="#f03030" fill-opacity="0.08"/>
<rect x="227.50" y="508.30" width="27.80" height="0.80" fill="#f03030" fill-opacity="0.10"/>
<rect x="227.50" y="509.50" width="27.80" height="0.80" fill="#f03030" fill-opacity="0.01"/>
<rect x="227.50" y="518.70" width="27.80" height="0.60" fill="#f03030" fill-opacity="0.09"/>
<rect x="227.50" y="521.70" width="27.80" height="0.80" fill="#f03030" fill-opacity="0.02"/>
<rect x="227.50" y="524.50" width="27.80" height="0.80" fill="#f03030" fill-opacity="0.08"/>
<rect x="227.50" y="532.10" width="27.80" height="0.80" fill="#f03030" fill-opacity="0.08"/>
<rect x="227.50" y="540.10" width="27.80" height="0.80" fill="#f03030" fill-opacity="0.09"/>
<rect x="227.50" y="544.50" width="27.80" height="1.00" fill="#f03030" fill-opacity="0.04"/>
<rect x="227.50" y="545.90" width="27.80" height="0.60" fill="#f03030" fill-opacity="0.04"/>
<rect x="227.50" y="547.30" width="27.80" height="0.60" fill="#f03030" fill-opacity="0.03"/>
<rect x="227.50" y="555.10" width="27.80" height="0.80" fill="#f03030" fill-opacity="0.10"/>
<rect x="227.50" y="559.30" width="27.80" height="1.00" fill="#f03030" fill-opacity="0.00"/>
<rect x="227.50" y="561.10" width="27.80" height="1.00" fill="#f03030" fill-opacity="0.07"/>
<rect x="227.50" y="571.30" width="27.80" height="0.80" fill="#f03030" fill-opacity="0.06"/>
<rect x="227.50" y="576.50" width="27.80" height="0.80" fill="#f03030" fill-opacity="0.03"/>
<line x1="227.80" y1="403.50" x2="227.80" y2="578.50" stroke="#444" stroke-width="0.7" />
<line x1="255.00" y1="403.50" x2="255.00" y2="578.50" stroke="#aaa" stroke-width="0.6" />
<rect x="258.80" y="403.50" width="27.40" height="174.00" fill="#f03a3a" fill-opacity="0.040"/>
<rect x="258.80" y="403.50" width="27.40" height="174.00" fill="#fff" filter="url(#nz)" opacity="0.22"/>
<rect x="258.80" y="403.50" width="27.40" height="174.00" fill="url(#fade)" />
<rect x="258.80" y="403.50" width="27.40" height="1.00" fill="#f03030" fill-opacity="0.03"/>
<rect x="258.80" y="409.10" width="27.40" height="1.00" fill="#f03030" fill-opacity="0.06"/>
<rect x="258.80" y="410.50" width="27.40" height="1.00" fill="#f03030" fill-opacity="0.01"/>
<rect x="258.80" y="420.70" width="27.40" height="0.60" fill="#f03030" fill-opacity="0.01"/>
<rect x="258.80" y="428.10" width="27.40" height="0.60" fill="#f03030" fill-opacity="0.00"/>
<rect x="258.80" y="429.90" width="27.40" height="1.00" fill="#f03030" fill-opacity="0.02"/>
<rect x="258.80" y="433.70" width="27.40" height="0.60" fill="#f03030" fill-opacity="0.02"/>
<rect x="258.80" y="435.10" width="27.40" height="0.80" fill="#f03030" fill-opacity="0.06"/>
<rect x="258.80" y="436.70" width="27.40" height="1.00" fill="#f03030" fill-opacity="0.06"/>
<rect x="258.80" y="440.70" width="27.40" height="0.80" fill="#f03030" fill-opacity="0.07"/>
<rect x="258.80" y="455.70" width="27.40" height="0.80" fill="#f03030" fill-opacity="0.06"/>
<rect x="258.80" y="458.70" width="27.40" height="0.60" fill="#f03030" fill-opacity="0.01"/>
<rect x="258.80" y="464.90" width="27.40" height="1.00" fill="#f03030" fill-opacity="0.01"/>
<rect x="258.80" y="470.90" width="27.40" height="0.80" fill="#f03030" fill-opacity="0.02"/>
<rect x="258.80" y="477.70" width="27.40" height="0.60" fill="#f03030" fill-opacity="0.04"/>
<rect x="258.80" y="478.70" width="27.40" height="0.60" fill="#f03030" fill-opacity="0.06"/>
<rect x="258.80" y="479.70" width="27.40" height="0.80" fill="#f03030" fill-opacity="0.06"/>
<rect x="258.80" y="480.90" width="27.40" height="0.60" fill="#f03030" fill-opacity="0.07"/>
<rect x="258.80" y="485.10" width="27.40" height="0.80" fill="#f03030" fill-opacity="0.02"/>
<rect x="258.80" y="486.30" width="27.40" height="0.60" fill="#f03030" fill-opacity="0.04"/>
<rect x="258.80" y="491.10" width="27.40" height="1.00" fill="#f03030" fill-opacity="0.06"/>
<rect x="258.80" y="492.90" width="27.40" height="0.60" fill="#f03030" fill-opacity="0.02"/>
<rect x="258.80" y="497.30" width="27.40" height="0.60" fill="#f03030" fill-opacity="0.05"/>
<rect x="258.80" y="503.10" width="27.40" height="0.80" fill="#f03030" fill-opacity="0.02"/>
<rect x="258.80" y="509.30" width="27.40" height="0.80" fill="#f03030" fill-opacity="0.03"/>
<rect x="258.80" y="514.70" width="27.40" height="0.60" fill="#f03030" fill-opacity="0.05"/>
<rect x="258.80" y="522.70" width="27.40" height="0.60" fill="#f03030" fill-opacity="0.01"/>
<rect x="258.80" y="523.70" width="27.40" height="0.60" fill="#f03030" fill-opacity="0.04"/>
<rect x="258.80" y="525.10" width="27.40" height="0.80" fill="#f03030" fill-opacity="0.07"/>
<rect x="258.80" y="526.70" width="27.40" height="1.00" fill="#f03030" fill-opacity="0.00"/>
<rect x="258.80" y="532.90" width="27.40" height="0.80" fill="#f03030" fill-opacity="0.01"/>
<rect x="258.80" y="536.90" width="27.40" height="0.60" fill="#f03030" fill-opacity="0.01"/>
<rect x="258.80" y="540.70" width="27.40" height="1.00" fill="#f03030" fill-opacity="0.01"/>
<rect x="258.80" y="542.50" width="27.40" height="0.60" fill="#f03030" fill-opacity="0.02"/>
<rect x="258.80" y="550.50" width="27.40" height="0.80" fill="#f03030" fill-opacity="0.01"/>
<rect x="258.80" y="553.30" width="27.40" height="1.00" fill="#f03030" fill-opacity="0.05"/>
<rect x="258.80" y="556.30" width="27.40" height="1.00" fill="#f03030" fill-opacity="0.01"/>
<rect x="258.80" y="559.70" width="27.40" height="0.60" fill="#f03030" fill-opacity="0.03"/>
<rect x="258.80" y="565.30" width="27.40" height="0.60" fill="#f03030" fill-opacity="0.00"/>
<rect x="258.80" y="567.10" width="27.40" height="0.60" fill="#f03030" fill-opacity="0.06"/>
<rect x="258.80" y="571.10" width="27.40" height="0.60" fill="#f03030" fill-opacity="0.06"/>
<rect x="258.80" y="576.50" width="27.40" height="0.80" fill="#f03030" fill-opacity="0.07"/>
<line x1="259.10" y1="403.50" x2="259.10" y2="578.50" stroke="#444" stroke-width="0.7" />
<line x1="285.90" y1="403.50" x2="285.90" y2="578.50" stroke="#aaa" stroke-width="0.6" />
<rect x="289.80" y="403.50" width="27.50" height="174.00" fill="#f03a3a" fill-opacity="0.050"/>
<rect x="289.80" y="403.50" width="27.50" height="174.00" fill="#fff" filter="url(#nz)" opacity="0.26"/>
<rect x="289.80" y="403.50" width="27.50" height="174.00" fill="url(#fade)" />
<rect x="289.80" y="418.70" width="27.50" height="1.00" fill="#f03030" fill-opacity="0.04"/>
<rect x="289.80" y="423.70" width="27.50" height="0.60" fill="#f03030" fill-opacity="0.04"/>
<rect x="289.80" y="428.50" width="27.50" height="0.60" fill="#f03030" fill-opacity="0.00"/>
<rect x="289.80" y="431.10" width="27.50" height="0.60" fill="#f03030" fill-opacity="0.08"/>
<rect x="289.80" y="432.10" width="27.50" height="0.80" fill="#f03030" fill-opacity="0.01"/>
<rect x="289.80" y="434.90" width="27.50" height="0.80" fill="#f03030" fill-opacity="0.06"/>
<rect x="289.80" y="441.10" width="27.50" height="1.00" fill="#f03030" fill-opacity="0.07"/>
<rect x="289.80" y="446.70" width="27.50" height="1.00" fill="#f03030" fill-opacity="0.08"/>
<rect x="289.80" y="455.90" width="27.50" height="0.60" fill="#f03030" fill-opacity="0.03"/>
<rect x="289.80" y="458.50" width="27.50" height="0.80" fill="#f03030" fill-opacity="0.05"/>
<rect x="289.80" y="474.70" width="27.50" height="0.60" fill="#f03030" fill-opacity="0.06"/>
<rect x="289.80" y="475.70" width="27.50" height="1.00" fill="#f03030" fill-opacity="0.04"/>
<rect x="289.80" y="479.90" width="27.50" height="1.00" fill="#f03030" fill-opacity="0.07"/>
<rect x="289.80" y="481.30" width="27.50" height="0.80" fill="#f03030" fill-opacity="0.00"/>
<rect x="289.80" y="486.50" width="27.50" height="0.60" fill="#f03030" fill-opacity="0.05"/>
<rect x="289.80" y="489.10" width="27.50" height="0.60" fill="#f03030" fill-opacity="0.08"/>
<rect x="289.80" y="491.70" width="27.50" height="0.80" fill="#f03030" fill-opacity="0.05"/>
<rect x="289.80" y="493.30" width="27.50" height="0.80" fill="#f03030" fill-opacity="0.01"/>
<rect x="289.80" y="494.50" width="27.50" height="0.80" fill="#f03030" fill-opacity="0.08"/>
<rect x="289.80" y="497.30" width="27.50" height="0.60" fill="#f03030" fill-opacity="0.02"/>
<rect x="289.80" y="499.90" width="27.50" height="0.60" fill="#f03030" fill-opacity="0.04"/>
<rect x="289.80" y="506.10" width="27.50" height="1.00" fill="#f03030" fill-opacity="0.02"/>
<rect x="289.80" y="507.50" width="27.50" height="1.00" fill="#f03030" fill-opacity="0.05"/>
<rect x="289.80" y="513.10" width="27.50" height="1.00" fill="#f03030" fill-opacity="0.01"/>
<rect x="289.80" y="514.50" width="27.50" height="0.80" fill="#f03030" fill-opacity="0.02"/>
<rect x="289.80" y="515.70" width="27.50" height="1.00" fill="#f03030" fill-opacity="0.02"/>
<rect x="289.80" y="527.70" width="27.50" height="0.60" fill="#f03030" fill-opacity="0.05"/>
<rect x="289.80" y="531.70" width="27.50" height="0.60" fill="#f03030" fill-opacity="0.07"/>
<rect x="289.80" y="534.30" width="27.50" height="1.00" fill="#f03030" fill-opacity="0.09"/>
<rect x="289.80" y="538.70" width="27.50" height="0.80" fill="#f03030" fill-opacity="0.02"/>
<rect x="289.80" y="541.50" width="27.50" height="1.00" fill="#f03030" fill-opacity="0.08"/>
<rect x="289.80" y="545.50" width="27.50" height="0.80" fill="#f03030" fill-opacity="0.06"/>
<rect x="289.80" y="547.10" width="27.50" height="0.80" fill="#f03030" fill-opacity="0.02"/>
<rect x="289.80" y="552.30" width="27.50" height="1.00" fill="#f03030" fill-opacity="0.08"/>
<rect x="289.80" y="555.30" width="27.50" height="1.00" fill="#f03030" fill-opacity="0.02"/>
<rect x="289.80" y="560.10" width="27.50" height="0.80" fill="#f03030" fill-opacity="0.03"/>
<rect x="289.80" y="564.90" width="27.50" height="0.80" fill="#f03030" fill-opacity="0.04"/>
<rect x="289.80" y="566.10" width="27.50" height="1.00" fill="#f03030" fill-opacity="0.08"/>
<rect x="289.80" y="576.30" width="27.50" height="1.00" fill="#f03030" fill-opacity="0.04"/>
<line x1="290.10" y1="403.50" x2="290.10" y2="578.50" stroke="#444" stroke-width="0.7" />
<line x1="317.00" y1="403.50" x2="317.00" y2="578.50" stroke="#aaa" stroke-width="0.6" />
<rect x="319.70" y="403.50" width="27.50" height="174.00" fill="#f03a3a" fill-opacity="0.060"/>
<rect x="319.70" y="403.50" width="27.50" height="174.00" fill="#fff" filter="url(#nz)" opacity="0.36"/>
<rect x="319.70" y="403.50" width="27.50" height="174.00" fill="url(#fade)" />
<rect x="319.70" y="406.50" width="27.50" height="1.00" fill="#f03030" fill-opacity="0.00"/>
<rect x="319.70" y="419.90" width="27.50" height="1.00" fill="#f03030" fill-opacity="0.07"/>
<rect x="319.70" y="425.70" width="27.50" height="1.00" fill="#f03030" fill-opacity="0.03"/>
<rect x="319.70" y="428.70" width="27.50" height="0.60" fill="#f03030" fill-opacity="0.03"/>
<rect x="319.70" y="430.10" width="27.50" height="1.00" fill="#f03030" fill-opacity="0.02"/>
<rect x="319.70" y="432.30" width="27.50" height="0.60" fill="#f03030" fill-opacity="0.06"/>
<rect x="319.70" y="433.30" width="27.50" height="1.00" fill="#f03030" fill-opacity="0.07"/>
<rect x="319.70" y="436.70" width="27.50" height="0.60" fill="#f03030" fill-opacity="0.01"/>
<rect x="319.70" y="439.50" width="27.50" height="0.80" fill="#f03030" fill-opacity="0.01"/>
<rect x="319.70" y="444.70" width="27.50" height="1.00" fill="#f03030" fill-opacity="0.09"/>
<rect x="319.70" y="458.50" width="27.50" height="0.80" fill="#f03030" fill-opacity="0.08"/>
<rect x="319.70" y="461.70" width="27.50" height="0.80" fill="#f03030" fill-opacity="0.02"/>
<rect x="319.70" y="464.30" width="27.50" height="0.60" fill="#f03030" fill-opacity="0.06"/>
<rect x="319.70" y="473.90" width="27.50" height="1.00" fill="#f03030" fill-opacity="0.07"/>
<rect x="319.70" y="479.70" width="27.50" height="0.60" fill="#f03030" fill-opacity="0.03"/>
<rect x="319.70" y="481.50" width="27.50" height="0.80" fill="#f03030" fill-opacity="0.00"/>
<rect x="319.70" y="485.50" width="27.50" height="0.60" fill="#f03030" fill-opacity="0.09"/>
<rect x="319.70" y="497.10" width="27.50" height="1.00" fill="#f03030" fill-opacity="0.05"/>
<rect x="319.70" y="498.90" width="27.50" height="0.80" fill="#f03030" fill-opacity="0.03"/>
<rect x="319.70" y="512.10" width="27.50" height="0.60" fill="#f03030" fill-opacity="0.06"/>
<rect x="319.70" y="513.90" width="27.50" height="1.00" fill="#f03030" fill-opacity="0.06"/>
<rect x="319.70" y="532.70" width="27.50" height="0.60" fill="#f03030" fill-opacity="0.07"/>
<rect x="319.70" y="534.10" width="27.50" height="1.00" fill="#f03030" fill-opacity="0.08"/>
<rect x="319.70" y="537.30" width="27.50" height="1.00" fill="#f03030" fill-opacity="0.02"/>
<rect x="319.70" y="539.10" width="27.50" height="0.60" fill="#f03030" fill-opacity="0.00"/>
<rect x="319.70" y="546.70" width="27.50" height="1.00" fill="#f03030" fill-opacity="0.06"/>
<rect x="319.70" y="549.70" width="27.50" height="1.00" fill="#f03030" fill-opacity="0.08"/>
<rect x="319.70" y="555.50" width="27.50" height="0.80" fill="#f03030" fill-opacity="0.03"/>
<rect x="319.70" y="560.50" width="27.50" height="1.00" fill="#f03030" fill-opacity="0.00"/>
<rect x="319.70" y="564.70" width="27.50" height="1.00" fill="#f03030" fill-opacity="0.01"/>
<rect x="319.70" y="566.90" width="27.50" height="1.00" fill="#f03030" fill-opacity="0.04"/>
<rect x="319.70" y="574.90" width="27.50" height="0.80" fill="#f03030" fill-opacity="0.08"/>
<rect x="319.70" y="577.50" width="27.50" height="0.60" fill="#f03030" fill-opacity="0.05"/>
<rect x="332.17" y="403.50" width="2.56" height="174.00" fill="url(#cl)" opacity="0.32"/>
<rect x="333.13" y="403.50" width="0.64" height="174.00" fill="#f01818" opacity="0.34"/>
<line x1="320.00" y1="403.50" x2="320.00" y2="578.50" stroke="#444" stroke-width="0.7" />
<line x1="346.90" y1="403.50" x2="346.90" y2="578.50" stroke="#aaa" stroke-width="0.6" />
<rect x="349.20" y="403.50" width="27.80" height="174.00" fill="#f03a3a" fill-opacity="0.060"/>
<rect x="349.20" y="403.50" width="27.80" height="174.00" fill="#fff" filter="url(#nz)" opacity="0.36"/>
<rect x="349.20" y="403.50" width="27.80" height="174.00" fill="url(#fade)" />
<rect x="349.20" y="403.50" width="27.80" height="1.00" fill="#f03030" fill-opacity="0.02"/>
<rect x="349.20" y="407.90" width="27.80" height="0.60" fill="#f03030" fill-opacity="0.02"/>
<rect x="349.20" y="408.90" width="27.80" height="0.60" fill="#f03030" fill-opacity="0.07"/>
<rect x="349.20" y="412.90" width="27.80" height="1.00" fill="#f03030" fill-opacity="0.03"/>
<rect x="349.20" y="414.70" width="27.80" height="0.80" fill="#f03030" fill-opacity="0.02"/>
<rect x="349.20" y="416.30" width="27.80" height="0.60" fill="#f03030" fill-opacity="0.06"/>
<rect x="349.20" y="418.90" width="27.80" height="0.80" fill="#f03030" fill-opacity="0.06"/>
<rect x="349.20" y="420.10" width="27.80" height="0.80" fill="#f03030" fill-opacity="0.03"/>
<rect x="349.20" y="426.70" width="27.80" height="0.60" fill="#f03030" fill-opacity="0.08"/>
<rect x="349.20" y="428.50" width="27.80" height="1.00" fill="#f03030" fill-opacity="0.07"/>
<rect x="349.20" y="430.70" width="27.80" height="0.80" fill="#f03030" fill-opacity="0.03"/>
<rect x="349.20" y="433.70" width="27.80" height="1.00" fill="#f03030" fill-opacity="0.09"/>
<rect x="349.20" y="436.90" width="27.80" height="1.00" fill="#f03030" fill-opacity="0.07"/>
<rect x="349.20" y="440.90" width="27.80" height="1.00" fill="#f03030" fill-opacity="0.04"/>
<rect x="349.20" y="445.30" width="27.80" height="0.60" fill="#f03030" fill-opacity="0.07"/>
<rect x="349.20" y="446.70" width="27.80" height="0.80" fill="#f03030" fill-opacity="0.09"/>
<rect x="349.20" y="447.90" width="27.80" height="0.80" fill="#f03030" fill-opacity="0.05"/>
<rect x="349.20" y="453.30" width="27.80" height="1.00" fill="#f03030" fill-opacity="0.00"/>
<rect x="349.20" y="454.70" width="27.80" height="1.00" fill="#f03030" fill-opacity="0.03"/>
<rect x="349.20" y="456.10" width="27.80" height="0.60" fill="#f03030" fill-opacity="0.10"/>
<rect x="349.20" y="461.30" width="27.80" height="1.00" fill="#f03030" fill-opacity="0.03"/>
<rect x="349.20" y="464.30" width="27.80" height="0.60" fill="#f03030" fill-opacity="0.08"/>
<rect x="349.20" y="471.90" width="27.80" height="1.00" fill="#f03030" fill-opacity="0.04"/>
<rect x="349.20" y="475.90" width="27.80" height="1.00" fill="#f03030" fill-opacity="0.01"/>
<rect x="349.20" y="479.10" width="27.80" height="1.00" fill="#f03030" fill-opacity="0.05"/>
<rect x="349.20" y="481.30" width="27.80" height="0.60" fill="#f03030" fill-opacity="0.07"/>
<rect x="349.20" y="483.90" width="27.80" height="0.60" fill="#f03030" fill-opacity="0.06"/>
<rect x="349.20" y="488.10" width="27.80" height="0.60" fill="#f03030" fill-opacity="0.07"/>
<rect x="349.20" y="493.30" width="27.80" height="0.80" fill="#f03030" fill-opacity="0.03"/>
<rect x="349.20" y="496.10" width="27.80" height="0.80" fill="#f03030" fill-opacity="0.05"/>
<rect x="349.20" y="499.70" width="27.80" height="1.00" fill="#f03030" fill-opacity="0.06"/>
<rect x="349.20" y="501.90" width="27.80" height="1.00" fill="#f03030" fill-opacity="0.01"/>
<rect x="349.20" y="506.70" width="27.80" height="0.80" fill="#f03030" fill-opacity="0.10"/>
<rect x="349.20" y="512.50" width="27.80" height="1.00" fill="#f03030" fill-opacity="0.01"/>
<rect x="349.20" y="514.30" width="27.80" height="0.80" fill="#f03030" fill-opacity="0.05"/>
<rect x="349.20" y="515.90" width="27.80" height="0.60" fill="#f03030" fill-opacity="0.03"/>
<rect x="349.20" y="519.30" width="27.80" height="1.00" fill="#f03030" fill-opacity="0.10"/>
<rect x="349.20" y="522.30" width="27.80" height="0.60" fill="#f03030" fill-opacity="0.01"/>
<rect x="349.20" y="525.10" width="27.80" height="0.80" fill="#f03030" fill-opacity="0.07"/>
<rect x="349.20" y="528.30" width="27.80" height="1.00" fill="#f03030" fill-opacity="0.08"/>
<rect x="349.20" y="529.70" width="27.80" height="1.00" fill="#f03030" fill-opacity="0.07"/>
<rect x="349.20" y="537.70" width="27.80" height="0.80" fill="#f03030" fill-opacity="0.07"/>
<rect x="349.20" y="541.70" width="27.80" height="1.00" fill="#f03030" fill-opacity="0.01"/>
<rect x="349.20" y="547.90" width="27.80" height="0.60" fill="#f03030" fill-opacity="0.06"/>
<rect x="349.20" y="552.70" width="27.80" height="0.80" fill="#f03030" fill-opacity="0.06"/>
<rect x="349.20" y="554.30" width="27.80" height="0.60" fill="#f03030" fill-opacity="0.05"/>
<rect x="349.20" y="556.90" width="27.80" height="0.80" fill="#f03030" fill-opacity="0.01"/>
<rect x="349.20" y="562.90" width="27.80" height="0.80" fill="#f03030" fill-opacity="0.11"/>
<rect x="349.20" y="565.70" width="27.80" height="0.80" fill="#f03030" fill-opacity="0.03"/>
<rect x="349.20" y="573.90" width="27.80" height="0.80" fill="#f03030" fill-opacity="0.06"/>
<rect x="349.20" y="576.70" width="27.80" height="1.00" fill="#f03030" fill-opacity="0.07"/>
<rect x="361.66" y="403.50" width="2.88" height="174.00" fill="url(#cl)" opacity="0.44"/>
<rect x="362.74" y="403.50" width="0.72" height="174.00" fill="#f01818" opacity="0.47"/>
<line x1="349.50" y1="403.50" x2="349.50" y2="578.50" stroke="#444" stroke-width="0.7" />
<line x1="376.70" y1="403.50" x2="376.70" y2="578.50" stroke="#aaa" stroke-width="0.6" />
<path d="M198,404.5 L223.5,404.5 L213.75,432 L207.75,432 Z" stroke="none" stroke-width="1" fill="url(#tri)" opacity="0.6" filter="url(#bl)"/>
<rect x="197.00" y="429.50" width="27.50" height="0.80" fill="#e02020" opacity="0.3"/>
<rect x="197.00" y="461.00" width="27.50" height="2.00" fill="#e01818" opacity="0.57"/>
<path d="M198,463 L223.5,463 L213.75,490 L207.75,490 Z" stroke="none" stroke-width="1" fill="url(#tri)" opacity="0.44999999999999996" filter="url(#bl)"/>
<rect x="197.00" y="486.00" width="27.50" height="0.80" fill="#e02020" opacity="0.24"/>
<path d="M228.5,404.5 L254.3,404.5 L244.4,432 L238.4,432 Z" stroke="none" stroke-width="1" fill="url(#tri)" opacity="0.9" filter="url(#bl)"/>
<rect x="227.50" y="429.50" width="27.80" height="0.80" fill="#e02020" opacity="0.45"/>
<rect x="227.50" y="461.00" width="27.80" height="2.00" fill="#e01818" opacity="0.855"/>
<path d="M228.5,463 L254.3,463 L244.4,490 L238.4,490 Z" stroke="none" stroke-width="1" fill="url(#tri)" opacity="0.675" filter="url(#bl)"/>
<rect x="227.50" y="486.00" width="27.80" height="0.80" fill="#e02020" opacity="0.36000000000000004"/>
<rect x="258.80" y="430.50" width="27.40" height="1.60" fill="#e01818" opacity="0.65"/>
<path d="M259.8,432 L285.2,432 L275.5,462 L269.5,462 Z" stroke="none" stroke-width="1" fill="url(#tri)" opacity="0.65" filter="url(#bl)"/>
<rect x="258.80" y="486.00" width="27.40" height="2.00" fill="#e01818" opacity="0.65"/>
<path d="M259.8,488 L285.2,488 L275.5,516 L269.5,516 Z" stroke="none" stroke-width="1" fill="url(#tri)" opacity="0.65" filter="url(#bl)"/>
<rect x="289.80" y="430.50" width="27.50" height="1.60" fill="#e01818" opacity="0.95"/>
<path d="M290.8,432 L316.3,432 L306.55,462 L300.55,462 Z" stroke="none" stroke-width="1" fill="url(#tri)" opacity="0.95" filter="url(#bl)"/>
<rect x="289.80" y="486.00" width="27.50" height="2.00" fill="#e01818" opacity="0.95"/>
<path d="M290.8,488 L316.3,488 L306.55,516 L300.55,516 Z" stroke="none" stroke-width="1" fill="url(#tri)" opacity="0.95" filter="url(#bl)"/>
<rect x="37.00" y="403.50" width="5.20" height="58.00" fill="#1f7ff0" />
<rect x="37.00" y="461.50" width="5.20" height="116.00" fill="#f04a50" />
<text x="23.00" y="422.50" font-size="8.5" fill="#1f7ff0" text-anchor="middle" textLength="69" lengthAdjust="spacingAndGlyphs" transform="rotate(-90 23.00 422.50)">A3B modulated</text>
<text x="31.30" y="422.50" font-size="8.5" fill="#1f7ff0" text-anchor="middle" textLength="69" lengthAdjust="spacingAndGlyphs" transform="rotate(-90 31.30 422.50)">E2-induced DSB</text>
<text x="23.00" y="535.00" font-size="8.5" fill="#f04a50" text-anchor="middle" textLength="48" lengthAdjust="spacingAndGlyphs" transform="rotate(-90 23.00 535.00)">E2-induced</text>
<text x="31.30" y="535.00" font-size="8.5" fill="#f04a50" text-anchor="middle" textLength="73" lengthAdjust="spacingAndGlyphs" transform="rotate(-90 31.30 535.00)">A3B-independent</text>
<rect x="379.00" y="403.50" width="10.00" height="57.00" fill="#f04848" />
<rect x="379.00" y="461.00" width="10.00" height="1.70" fill="#7b6cf0" />
<rect x="379.00" y="462.60" width="10.00" height="2.10" fill="#f04848" />
<rect x="379.00" y="464.60" width="10.00" height="0.90" fill="#f04848" />
<rect x="379.00" y="465.40" width="10.00" height="2.10" fill="#7b6cf0" />
<rect x="379.00" y="467.40" width="10.00" height="1.70" fill="#7b6cf0" />
<rect x="379.00" y="469.00" width="10.00" height="1.70" fill="#f04848" />
<rect x="379.00" y="470.60" width="10.00" height="2.10" fill="#f04848" />
<rect x="379.00" y="472.60" width="10.00" height="1.70" fill="#f04848" />
<rect x="379.00" y="474.20" width="10.00" height="0.90" fill="#f04848" />
<rect x="379.00" y="475.00" width="10.00" height="0.90" fill="#f04848" />
<rect x="379.00" y="475.80" width="10.00" height="0.90" fill="#f04848" />
<rect x="379.00" y="476.60" width="10.00" height="2.10" fill="#7b6cf0" />
<rect x="379.00" y="478.60" width="10.00" height="1.70" fill="#f04848" />
<rect x="379.00" y="480.20" width="10.00" height="2.10" fill="#f04848" />
<rect x="379.00" y="482.20" width="10.00" height="1.70" fill="#7b6cf0" />
<rect x="379.00" y="483.80" width="10.00" height="1.70" fill="#7b6cf0" />
<rect x="379.00" y="485.40" width="10.00" height="0.90" fill="#f04848" />
<rect x="379.00" y="486.20" width="10.00" height="0.90" fill="#f04848" />
<rect x="379.00" y="487.00" width="10.00" height="0.90" fill="#7b6cf0" />
<rect x="379.00" y="487.80" width="10.00" height="1.30" fill="#f04848" />
<rect x="379.00" y="489.00" width="10.00" height="1.30" fill="#f04848" />
<rect x="379.00" y="490.20" width="10.00" height="1.70" fill="#7b6cf0" />
<rect x="379.00" y="491.80" width="10.00" height="1.70" fill="#7b6cf0" />
<rect x="379.00" y="493.40" width="10.00" height="2.10" fill="#7b6cf0" />
<rect x="379.00" y="495.40" width="10.00" height="2.10" fill="#f04848" />
<rect x="379.00" y="497.40" width="10.00" height="1.70" fill="#7b6cf0" />
<rect x="379.00" y="499.00" width="10.00" height="1.30" fill="#7b6cf0" />
<rect x="379.00" y="500.20" width="10.00" height="2.10" fill="#7b6cf0" />
<rect x="379.00" y="502.20" width="10.00" height="2.10" fill="#f04848" />
<rect x="379.00" y="504.20" width="10.00" height="1.30" fill="#7b6cf0" />
<rect x="379.00" y="505.40" width="10.00" height="1.30" fill="#7b6cf0" />
<rect x="379.00" y="506.60" width="10.00" height="1.70" fill="#f04848" />
<rect x="379.00" y="508.20" width="10.00" height="1.30" fill="#f04848" />
<rect x="379.00" y="509.40" width="10.00" height="1.70" fill="#7b6cf0" />
<rect x="379.00" y="511.00" width="10.00" height="1.70" fill="#f04848" />
<rect x="379.00" y="512.60" width="10.00" height="1.70" fill="#7b6cf0" />
<rect x="379.00" y="514.20" width="10.00" height="0.90" fill="#f04848" />
<rect x="379.00" y="515.00" width="10.00" height="2.10" fill="#f04848" />
<rect x="379.00" y="517.00" width="10.00" height="1.30" fill="#f04848" />
<rect x="379.00" y="518.20" width="10.00" height="1.70" fill="#7b6cf0" />
<rect x="379.00" y="519.80" width="10.00" height="1.30" fill="#f04848" />
<rect x="379.00" y="521.00" width="10.00" height="1.30" fill="#f04848" />
<rect x="379.00" y="522.20" width="10.00" height="0.90" fill="#f04848" />
<rect x="379.00" y="523.00" width="10.00" height="2.10" fill="#f04848" />
<rect x="379.00" y="525.00" width="10.00" height="1.30" fill="#7b6cf0" />
<rect x="379.00" y="526.20" width="10.00" height="2.10" fill="#f04848" />
<rect x="379.00" y="528.20" width="10.00" height="1.30" fill="#7b6cf0" />
<rect x="379.00" y="529.40" width="10.00" height="2.10" fill="#7b6cf0" />
<rect x="379.00" y="531.40" width="10.00" height="2.10" fill="#7b6cf0" />
<rect x="379.00" y="533.40" width="10.00" height="2.10" fill="#f04848" />
<rect x="379.00" y="535.40" width="10.00" height="2.10" fill="#7b6cf0" />
<rect x="379.00" y="537.40" width="10.00" height="1.30" fill="#7b6cf0" />
<rect x="379.00" y="538.60" width="10.00" height="1.70" fill="#f04848" />
<rect x="379.00" y="540.20" width="10.00" height="1.30" fill="#7b6cf0" />
<rect x="379.00" y="541.40" width="10.00" height="0.90" fill="#7b6cf0" />
<rect x="379.00" y="542.20" width="10.00" height="2.10" fill="#7b6cf0" />
<rect x="379.00" y="544.20" width="10.00" height="1.70" fill="#f04848" />
<rect x="379.00" y="545.80" width="10.00" height="1.70" fill="#7b6cf0" />
<rect x="379.00" y="547.40" width="10.00" height="1.70" fill="#f04848" />
<rect x="379.00" y="549.00" width="10.00" height="2.10" fill="#f04848" />
<rect x="379.00" y="551.00" width="10.00" height="1.70" fill="#7b6cf0" />
<rect x="379.00" y="552.60" width="10.00" height="1.70" fill="#7b6cf0" />
<rect x="379.00" y="554.20" width="10.00" height="1.30" fill="#f04848" />
<rect x="379.00" y="555.40" width="10.00" height="2.10" fill="#7b6cf0" />
<rect x="379.00" y="557.40" width="10.00" height="0.90" fill="#7b6cf0" />
<rect x="379.00" y="558.20" width="10.00" height="2.10" fill="#7b6cf0" />
<rect x="379.00" y="560.20" width="10.00" height="1.30" fill="#7b6cf0" />
<rect x="379.00" y="561.40" width="10.00" height="0.90" fill="#f04848" />
<rect x="379.00" y="562.20" width="10.00" height="1.30" fill="#f04848" />
<rect x="379.00" y="563.40" width="10.00" height="1.70" fill="#7b6cf0" />
<rect x="379.00" y="565.00" width="10.00" height="0.90" fill="#7b6cf0" />
<rect x="379.00" y="565.80" width="10.00" height="2.10" fill="#f04848" />
<rect x="379.00" y="567.80" width="10.00" height="1.30" fill="#f04848" />
<rect x="379.00" y="569.00" width="10.00" height="0.90" fill="#f04848" />
<rect x="379.00" y="569.80" width="10.00" height="1.30" fill="#f04848" />
<rect x="379.00" y="571.00" width="10.00" height="0.90" fill="#f04848" />
<rect x="379.00" y="571.80" width="10.00" height="2.10" fill="#f04848" />
<rect x="379.00" y="573.80" width="10.00" height="0.90" fill="#7b6cf0" />
<rect x="379.00" y="574.60" width="10.00" height="1.70" fill="#f04848" />
<rect x="379.00" y="576.20" width="10.00" height="1.40" fill="#f04848" />
<rect x="390.30" y="403.50" width="9.30" height="2.10" fill="#7b6cf0" />
<rect x="390.30" y="405.50" width="9.30" height="1.70" fill="#f04848" />
<rect x="390.30" y="407.10" width="9.30" height="0.90" fill="#f04848" />
<rect x="390.30" y="407.90" width="9.30" height="1.70" fill="#f04848" />
<rect x="390.30" y="409.50" width="9.30" height="0.90" fill="#7b6cf0" />
<rect x="390.30" y="410.30" width="9.30" height="1.70" fill="#7b6cf0" />
<rect x="390.30" y="411.90" width="9.30" height="1.30" fill="#7b6cf0" />
<rect x="390.30" y="413.10" width="9.30" height="1.70" fill="#f04848" />
<rect x="390.30" y="414.70" width="9.30" height="0.90" fill="#f04848" />
<rect x="390.30" y="415.50" width="9.30" height="1.70" fill="#7b6cf0" />
<rect x="390.30" y="417.10" width="9.30" height="2.10" fill="#f04848" />
<rect x="390.30" y="419.10" width="9.30" height="0.90" fill="#7b6cf0" />
<rect x="390.30" y="419.90" width="9.30" height="1.70" fill="#f04848" />
<rect x="390.30" y="421.50" width="9.30" height="2.10" fill="#7b6cf0" />
<rect x="390.30" y="423.50" width="9.30" height="0.90" fill="#7b6cf0" />
<rect x="390.30" y="424.30" width="9.30" height="2.10" fill="#7b6cf0" />
<rect x="390.30" y="426.30" width="9.30" height="1.30" fill="#7b6cf0" />
<rect x="390.30" y="427.50" width="9.30" height="1.70" fill="#7b6cf0" />
<rect x="390.30" y="429.10" width="9.30" height="2.10" fill="#7b6cf0" />
<rect x="390.30" y="431.10" width="9.30" height="0.90" fill="#7b6cf0" />
<rect x="390.30" y="431.90" width="9.30" height="1.70" fill="#7b6cf0" />
<rect x="390.30" y="433.50" width="9.30" height="2.10" fill="#f04848" />
<rect x="390.30" y="435.50" width="9.30" height="1.70" fill="#7b6cf0" />
<rect x="390.30" y="437.10" width="9.30" height="2.10" fill="#f04848" />
<rect x="390.30" y="439.10" width="9.30" height="1.70" fill="#7b6cf0" />
<rect x="390.30" y="440.70" width="9.30" height="2.10" fill="#7b6cf0" />
<rect x="390.30" y="442.70" width="9.30" height="0.90" fill="#7b6cf0" />
<rect x="390.30" y="443.50" width="9.30" height="1.70" fill="#7b6cf0" />
<rect x="390.30" y="445.10" width="9.30" height="1.30" fill="#7b6cf0" />
<rect x="390.30" y="446.30" width="9.30" height="2.10" fill="#7b6cf0" />
<rect x="390.30" y="448.30" width="9.30" height="0.90" fill="#7b6cf0" />
<rect x="390.30" y="449.10" width="9.30" height="2.10" fill="#7b6cf0" />
<rect x="390.30" y="451.10" width="9.30" height="1.30" fill="#7b6cf0" />
<rect x="390.30" y="452.30" width="9.30" height="0.90" fill="#7b6cf0" />
<rect x="390.30" y="453.10" width="9.30" height="2.10" fill="#7b6cf0" />
<rect x="390.30" y="455.10" width="9.30" height="2.10" fill="#f04848" />
<rect x="390.30" y="457.10" width="9.30" height="2.10" fill="#f04848" />
<rect x="390.30" y="459.10" width="9.30" height="1.30" fill="#f04848" />
<rect x="390.30" y="460.30" width="9.30" height="2.10" fill="#f04848" />
<rect x="390.30" y="462.30" width="9.30" height="0.90" fill="#f04848" />
<rect x="390.30" y="463.10" width="9.30" height="0.90" fill="#7b6cf0" />
<rect x="390.30" y="463.90" width="9.30" height="1.30" fill="#7b6cf0" />
<rect x="390.30" y="465.10" width="9.30" height="1.30" fill="#f04848" />
<rect x="390.30" y="466.30" width="9.30" height="1.70" fill="#7b6cf0" />
<rect x="390.30" y="467.90" width="9.30" height="2.10" fill="#7b6cf0" />
<rect x="390.30" y="469.90" width="9.30" height="1.70" fill="#f04848" />
<rect x="390.30" y="471.50" width="9.30" height="2.10" fill="#7b6cf0" />
<rect x="390.30" y="473.50" width="9.30" height="1.30" fill="#f04848" />
<rect x="390.30" y="474.70" width="9.30" height="2.10" fill="#f04848" />
<rect x="390.30" y="476.70" width="9.30" height="1.70" fill="#f04848" />
<rect x="390.30" y="478.30" width="9.30" height="2.10" fill="#f04848" />
<rect x="390.30" y="480.30" width="9.30" height="0.90" fill="#7b6cf0" />
<rect x="390.30" y="481.10" width="9.30" height="0.90" fill="#7b6cf0" />
<rect x="390.30" y="481.90" width="9.30" height="2.10" fill="#7b6cf0" />
<rect x="390.30" y="483.90" width="9.30" height="1.30" fill="#7b6cf0" />
<rect x="390.30" y="485.10" width="9.30" height="2.10" fill="#f04848" />
<rect x="390.30" y="487.10" width="9.30" height="0.90" fill="#f04848" />
<rect x="390.30" y="487.90" width="9.30" height="1.30" fill="#7b6cf0" />
<rect x="390.30" y="489.10" width="9.30" height="0.90" fill="#7b6cf0" />
<rect x="390.30" y="489.90" width="9.30" height="2.10" fill="#7b6cf0" />
<rect x="390.30" y="491.90" width="9.30" height="2.10" fill="#7b6cf0" />
<rect x="390.30" y="493.90" width="9.30" height="1.30" fill="#7b6cf0" />
<rect x="390.30" y="495.10" width="9.30" height="0.90" fill="#f04848" />
<rect x="390.30" y="495.90" width="9.30" height="1.30" fill="#f04848" />
<rect x="390.30" y="497.10" width="9.30" height="1.30" fill="#7b6cf0" />
<rect x="390.30" y="498.30" width="9.30" height="2.10" fill="#f04848" />
<rect x="390.30" y="500.30" width="9.30" height="1.70" fill="#f04848" />
<rect x="390.30" y="501.90" width="9.30" height="1.70" fill="#7b6cf0" />
<rect x="390.30" y="503.50" width="9.30" height="0.90" fill="#7b6cf0" />
<rect x="390.30" y="504.30" width="9.30" height="1.30" fill="#f04848" />
<rect x="390.30" y="505.50" width="9.30" height="0.90" fill="#f04848" />
<rect x="390.30" y="506.30" width="9.30" height="0.90" fill="#7b6cf0" />
<rect x="390.30" y="507.10" width="9.30" height="0.90" fill="#f04848" />
<rect x="390.30" y="507.90" width="9.30" height="1.70" fill="#7b6cf0" />
<rect x="390.30" y="509.50" width="9.30" height="2.10" fill="#f04848" />
<rect x="390.30" y="511.50" width="9.30" height="2.10" fill="#7b6cf0" />
<rect x="390.30" y="458.50" width="9.30" height="3.00" fill="#fff" />
<rect x="390.30" y="512.50" width="9.30" height="65.00" fill="#fbfbe6" />
<rect x="379.00" y="403.50" width="10.00" height="174.00" fill="none" stroke="#555" stroke-width="0.5"/>
<rect x="390.30" y="403.50" width="9.30" height="174.00" fill="none" stroke="#555" stroke-width="0.5"/>
<text x="383.00" y="397.00" font-size="7.5" fill="#565656" textLength="15" lengthAdjust="spacingAndGlyphs" transform="rotate(-60 383.00 397.00)">A3B</text>
<text x="394.00" y="397.00" font-size="7.5" fill="#565656" textLength="25" lengthAdjust="spacingAndGlyphs" transform="rotate(-35 394.00 397.00)">R-loop</text>
<text x="94.00" y="368.90" font-size="8" fill="#666" text-anchor="middle" textLength="41.5" lengthAdjust="spacingAndGlyphs">DSBCapture</text>
<line x1="53.70" y1="371.30" x2="134.30" y2="371.30" stroke="#222" stroke-width="0.9" />
<text x="57.30" y="380.00" font-size="7.5" fill="#666" text-anchor="middle">1.</text>
<text x="57.30" y="389.30" font-size="7.5" fill="#666" text-anchor="middle" textLength="15" lengthAdjust="spacingAndGlyphs">siNT</text>
<text x="57.30" y="400.40" font-size="7.5" fill="#666" text-anchor="middle" textLength="22" lengthAdjust="spacingAndGlyphs">DMSO</text>
<text x="87.00" y="380.00" font-size="7.5" fill="#666" text-anchor="middle">2.</text>
<text x="87.00" y="389.30" font-size="7.5" fill="#666" text-anchor="middle" textLength="15" lengthAdjust="spacingAndGlyphs">siNT</text>
<text x="87.00" y="400.40" font-size="7.5" fill="#666" text-anchor="middle" textLength="8.5" lengthAdjust="spacingAndGlyphs">E2</text>
<text x="118.00" y="380.00" font-size="7.5" fill="#666" text-anchor="middle">3.</text>
<text x="118.00" y="389.30" font-size="7.5" fill="#666" text-anchor="middle" textLength="20" lengthAdjust="spacingAndGlyphs">siA3B</text>
<text x="118.00" y="400.40" font-size="7.5" fill="#666" text-anchor="middle" textLength="8.5" lengthAdjust="spacingAndGlyphs">E2</text>
<text x="163.00" y="375.40" font-size="7.5" fill="#666" text-anchor="middle" textLength="31.5" lengthAdjust="spacingAndGlyphs">Flag A3B</text>
<text x="163.00" y="385.50" font-size="7.5" fill="#666" text-anchor="middle" textLength="24" lengthAdjust="spacingAndGlyphs">SPI-seq</text>
<line x1="139.80" y1="388.90" x2="185.20" y2="388.90" stroke="#222" stroke-width="0.9" />
<text x="150.00" y="400.40" font-size="7.5" fill="#666" text-anchor="middle" textLength="22" lengthAdjust="spacingAndGlyphs">DMSO</text>
<text x="180.00" y="400.40" font-size="7.5" fill="#666" text-anchor="middle" textLength="8.5" lengthAdjust="spacingAndGlyphs">E2</text>
<text x="225.60" y="376.00" font-size="7.5" fill="#666" text-anchor="middle" textLength="24" lengthAdjust="spacingAndGlyphs">R-loop</text>
<text x="225.60" y="385.30" font-size="7.5" fill="#666" text-anchor="middle">(-)</text>
<text x="287.70" y="376.00" font-size="7.5" fill="#666" text-anchor="middle" textLength="24" lengthAdjust="spacingAndGlyphs">R-loop</text>
<text x="287.70" y="385.30" font-size="7.5" fill="#666" text-anchor="middle">(+)</text>
<text x="341.30" y="376.00" font-size="7.5" fill="#666" text-anchor="middle">ER</text>
<text x="341.30" y="385.50" font-size="7.5" fill="#666" text-anchor="middle" textLength="30" lengthAdjust="spacingAndGlyphs">ChIP-seq</text>
<line x1="203.00" y1="388.70" x2="249.70" y2="388.70" stroke="#222" stroke-width="0.9" />
<line x1="265.00" y1="388.70" x2="311.00" y2="388.70" stroke="#222" stroke-width="0.9" />
<line x1="326.00" y1="388.70" x2="356.00" y2="388.70" stroke="#222" stroke-width="0.9" />
<text x="210.80" y="400.40" font-size="7.5" fill="#666" text-anchor="middle" textLength="22" lengthAdjust="spacingAndGlyphs">DMSO</text>
<text x="241.20" y="400.40" font-size="7.5" fill="#666" text-anchor="middle" textLength="8.5" lengthAdjust="spacingAndGlyphs">E2</text>
<text x="273.00" y="400.40" font-size="7.5" fill="#666" text-anchor="middle" textLength="22" lengthAdjust="spacingAndGlyphs">DMSO</text>
<text x="302.50" y="400.40" font-size="7.5" fill="#666" text-anchor="middle" textLength="8.5" lengthAdjust="spacingAndGlyphs">E2</text>
<text x="335.40" y="400.40" font-size="7.5" fill="#666" text-anchor="middle" textLength="22" lengthAdjust="spacingAndGlyphs">DMSO</text>
<text x="363.70" y="400.40" font-size="7.5" fill="#666" text-anchor="middle" textLength="8.5" lengthAdjust="spacingAndGlyphs">E2</text>
<line x1="43.50" y1="579.50" x2="70.70" y2="579.50" stroke="#555" stroke-width="0.6" />
<line x1="43.50" y1="579.50" x2="43.50" y2="581.00" stroke="#555" stroke-width="0.6" />
<line x1="57.10" y1="579.50" x2="57.10" y2="581.00" stroke="#555" stroke-width="0.6" />
<line x1="70.70" y1="579.50" x2="70.70" y2="581.00" stroke="#555" stroke-width="0.6" />
<text x="42.00" y="587.00" font-size="6.5" fill="#666" text-anchor="middle">-8k</text>
<text x="57.00" y="587.00" font-size="6.5" fill="#666" text-anchor="middle">0</text>
<text x="71.70" y="587.00" font-size="6.5" fill="#666" text-anchor="middle">8k</text>
<line x1="87.90" y1="578.00" x2="87.90" y2="580.00" stroke="#777" stroke-width="0.6" />
<line x1="118.35" y1="578.00" x2="118.35" y2="580.00" stroke="#777" stroke-width="0.6" />
<line x1="149.40" y1="578.00" x2="149.40" y2="580.00" stroke="#777" stroke-width="0.6" />
<line x1="180.30" y1="578.00" x2="180.30" y2="580.00" stroke="#777" stroke-width="0.6" />
<line x1="210.75" y1="578.00" x2="210.75" y2="580.00" stroke="#777" stroke-width="0.6" />
<line x1="241.40" y1="578.00" x2="241.40" y2="580.00" stroke="#777" stroke-width="0.6" />
<line x1="272.50" y1="578.00" x2="272.50" y2="580.00" stroke="#777" stroke-width="0.6" />
<line x1="303.55" y1="578.00" x2="303.55" y2="580.00" stroke="#777" stroke-width="0.6" />
<line x1="333.45" y1="578.00" x2="333.45" y2="580.00" stroke="#777" stroke-width="0.6" />
<line x1="363.10" y1="578.00" x2="363.10" y2="580.00" stroke="#777" stroke-width="0.6" />
<text x="223.00" y="593.00" font-size="7.5" fill="#666" text-anchor="middle" textLength="57" lengthAdjust="spacingAndGlyphs">fold enrichment</text>
<text x="223.00" y="601.60" font-size="7.5" fill="#666" text-anchor="middle" textLength="61" lengthAdjust="spacingAndGlyphs">over input control</text>
<defs><linearGradient id="fe" x1="0" x2="1"><stop offset="0" stop-color="#fff"/><stop offset="0.45" stop-color="#fde6e6"/><stop offset="1" stop-color="#f00c0c"/></linearGradient></defs>
<rect x="257.30" y="587.00" width="40.00" height="7.40" fill="url(#fe)" stroke="#555" stroke-width="0.5"/>
<text x="257.00" y="603.70" font-size="7.5" fill="#666" text-anchor="middle">0</text>
<text x="270.00" y="603.70" font-size="7.5" fill="#666" text-anchor="middle">1</text>
<text x="283.50" y="603.70" font-size="7.5" fill="#666" text-anchor="middle">2</text>
<text x="296.00" y="603.70" font-size="7.5" fill="#666" text-anchor="middle">3</text>
<text x="330.00" y="596.50" font-size="7.5" fill="#666" textLength="17" lengthAdjust="spacingAndGlyphs">type:</text>
<rect x="351.00" y="583.00" width="14.80" height="6.00" fill="#f04848" stroke="#333" stroke-width="0.4"/>
<rect x="351.00" y="590.00" width="14.80" height="5.60" fill="#7b6cf0" stroke="#333" stroke-width="0.4"/>
<rect x="351.00" y="598.60" width="14.80" height="5.40" fill="#fbfbe6" stroke="#888" stroke-width="0.4"/>
<text x="367.00" y="589.00" font-size="7.5" fill="#666" textLength="38" lengthAdjust="spacingAndGlyphs">E2-induced</text>
<text x="367.00" y="596.20" font-size="7.5" fill="#666" textLength="42" lengthAdjust="spacingAndGlyphs">pre-existing</text>
<text x="367.00" y="604.00" font-size="7.5" fill="#666" textLength="17" lengthAdjust="spacingAndGlyphs">none</text>
<text x="461.50" y="379.50" font-size="20" fill="#111">g</text>
<text x="531.50" y="377.00" font-size="8.6" fill="#474747" text-anchor="middle" textLength="49" lengthAdjust="spacingAndGlyphs">GRO-seq (-)</text>
<line x1="495.40" y1="381.00" x2="495.40" y2="447.20" stroke="#444" stroke-width="0.8" /><line x1="495.40" y1="447.20" x2="569.00" y2="447.20" stroke="#444" stroke-width="0.8" /><line x1="495.40" y1="381.00" x2="569.00" y2="381.00" stroke="#444" stroke-width="0.8" /><line x1="569.00" y1="381.00" x2="569.00" y2="447.20" stroke="#999" stroke-width="0.6" />
<line x1="491.60" y1="437.20" x2="495.40" y2="437.20" stroke="#444" stroke-width="0.7" />
<text x="489.50" y="440.00" font-size="8.2" fill="#474747" text-anchor="end">0.2</text>
<line x1="491.60" y1="421.96" x2="495.40" y2="421.96" stroke="#444" stroke-width="0.7" />
<text x="489.50" y="424.76" font-size="8.2" fill="#474747" text-anchor="end">0.4</text>
<line x1="491.60" y1="406.72" x2="495.40" y2="406.72" stroke="#444" stroke-width="0.7" />
<text x="489.50" y="409.52" font-size="8.2" fill="#474747" text-anchor="end">0.6</text>
<line x1="491.60" y1="391.48" x2="495.40" y2="391.48" stroke="#444" stroke-width="0.7" />
<text x="489.50" y="394.28" font-size="8.2" fill="#474747" text-anchor="end">0.8</text>
<line x1="498.00" y1="447.20" x2="498.00" y2="449.20" stroke="#444" stroke-width="0.7" /><text x="498.00" y="460.50" font-size="8.2" fill="#474747" text-anchor="middle">-5k</text><line x1="531.70" y1="447.20" x2="531.70" y2="449.20" stroke="#444" stroke-width="0.7" /><text x="531.70" y="460.50" font-size="8.2" fill="#474747" text-anchor="middle">0</text><line x1="565.80" y1="447.20" x2="565.80" y2="449.20" stroke="#444" stroke-width="0.7" /><text x="565.80" y="460.50" font-size="8.2" fill="#474747" text-anchor="middle">5k</text>
<text x="471.50" y="417.00" font-size="8.2" fill="#474747" text-anchor="middle" textLength="30" lengthAdjust="spacingAndGlyphs" transform="rotate(-90 471.50 417.00)">cpm/bp</text>
<path d="M498.00,438.49 L498.34,438.48 L498.68,438.20 L499.02,438.65 L499.36,438.32 L499.70,438.64 L500.04,438.13 L500.38,438.26 L500.72,438.08 L501.06,438.36 L501.40,438.22 L501.74,438.32 L502.08,438.39 L502.42,438.25 L502.76,438.46 L503.10,438.32 L503.44,438.16 L503.78,438.25 L504.12,438.32 L504.46,437.92 L504.80,438.24 L505.14,438.33 L505.48,438.21 L505.82,438.31 L506.16,438.28 L506.50,438.27 L506.84,437.90 L507.18,438.20 L507.52,438.17 L507.86,438.09 L508.20,437.87 L508.54,438.21 L508.88,438.26 L509.22,437.78 L509.56,438.37 L509.90,438.19 L510.24,438.02 L510.58,437.76 L510.92,438.25 L511.26,438.46 L511.60,437.97 L511.94,438.14 L512.28,438.11 L512.62,437.96 L512.96,437.98 L513.30,437.96 L513.64,438.05 L513.98,437.77 L514.32,437.72 L514.66,437.92 L515.00,437.97 L515.34,437.77 L515.68,437.79 L516.02,437.99 L516.36,437.88 L516.70,437.62 L517.04,437.77 L517.38,437.78 L517.72,437.66 L518.06,437.67 L518.40,437.63 L518.74,437.89 L519.08,437.29 L519.42,437.48 L519.76,437.61 L520.10,437.28 L520.44,437.33 L520.78,437.33 L521.12,437.12 L521.46,436.88 L521.80,437.08 L522.14,436.86 L522.48,436.70 L522.82,437.11 L523.16,436.95 L523.50,436.67 L523.84,436.95 L524.18,436.62 L524.52,436.26 L524.86,436.17 L525.20,436.08 L525.54,436.29 L525.88,435.44 L526.22,435.48 L526.56,435.18 L526.90,434.90 L527.24,434.86 L527.58,434.38 L527.92,433.82 L528.26,432.71 L528.60,432.38 L528.94,431.40 L529.28,430.33 L529.62,428.92 L529.96,430.51 L530.30,431.92 L530.64,433.33 L530.98,434.65 L531.32,435.04 L531.66,435.81 L532.00,436.35 L532.34,437.16 L532.68,437.76 L533.02,438.07 L533.36,438.78 L533.70,439.07 L534.04,439.38 L534.38,439.47 L534.72,439.45 L535.06,439.88 L535.40,440.03 L535.74,440.34 L536.08,440.50 L536.42,440.76 L536.76,440.87 L537.10,441.31 L537.44,441.23 L537.78,441.35 L538.12,441.11 L538.46,441.22 L538.80,441.22 L539.14,441.23 L539.48,441.58 L539.82,441.43 L540.16,441.35 L540.50,441.70 L540.84,441.58 L541.18,441.81 L541.52,442.07 L541.86,441.85 L542.20,442.03 L542.54,441.92 L542.88,442.04 L543.22,441.95 L543.56,442.35 L543.90,441.74 L544.24,441.87 L544.58,442.15 L544.92,442.26 L545.26,442.14 L545.60,442.06 L545.94,442.12 L546.28,442.14 L546.62,442.52 L546.96,442.41 L547.30,442.04 L547.64,442.23 L547.98,442.51 L548.32,442.42 L548.66,442.52 L549.00,442.47 L549.34,442.14 L549.68,442.37 L550.02,442.17 L550.36,442.32 L550.70,442.59 L551.04,442.47 L551.38,442.02 L551.72,442.50 L552.06,442.56 L552.40,442.21 L552.74,442.39 L553.08,442.41 L553.42,442.19 L553.76,442.70 L554.10,442.36 L554.44,442.60 L554.78,442.66 L555.12,442.57 L555.46,442.27 L555.80,442.47 L556.14,442.74 L556.48,442.63 L556.82,442.23 L557.16,442.31 L557.50,442.64 L557.84,442.10 L558.18,442.53 L558.52,442.67 L558.86,442.50 L559.20,442.34 L559.54,442.24 L559.88,442.33 L560.22,442.56 L560.56,442.58 L560.90,442.72 L561.24,442.51 L561.58,442.59 L561.92,442.46 L562.26,442.70 L562.60,442.58 L562.94,442.64 L563.28,442.69 L563.62,442.69 L563.96,442.67 L564.30,442.70 L564.64,442.42 L564.98,442.50 L565.32,442.72 L565.66,442.44 L566.00,442.47" stroke="#7b6cf0" stroke-width="0.9" fill="none" />
<path d="M498.00,436.28 L498.34,436.80 L498.68,436.57 L499.02,436.37 L499.36,436.05 L499.70,436.38 L500.04,436.76 L500.38,436.30 L500.72,436.65 L501.06,436.09 L501.40,436.42 L501.74,435.96 L502.08,436.39 L502.42,436.59 L502.76,436.69 L503.10,436.43 L503.44,436.24 L503.78,436.06 L504.12,436.27 L504.46,436.49 L504.80,436.20 L505.14,436.64 L505.48,436.19 L505.82,436.47 L506.16,435.95 L506.50,436.06 L506.84,436.19 L507.18,436.50 L507.52,436.14 L507.86,436.17 L508.20,436.37 L508.54,436.37 L508.88,435.93 L509.22,436.30 L509.56,436.10 L509.90,435.87 L510.24,436.51 L510.58,435.75 L510.92,435.92 L511.26,436.28 L511.60,436.33 L511.94,436.38 L512.28,435.87 L512.62,436.65 L512.96,435.83 L513.30,435.99 L513.64,436.16 L513.98,436.10 L514.32,436.05 L514.66,435.99 L515.00,435.71 L515.34,436.08 L515.68,435.61 L516.02,435.60 L516.36,435.86 L516.70,435.63 L517.04,435.86 L517.38,435.69 L517.72,435.55 L518.06,435.18 L518.40,435.59 L518.74,435.57 L519.08,435.49 L519.42,435.49 L519.76,435.64 L520.10,434.92 L520.44,435.43 L520.78,435.36 L521.12,435.33 L521.46,434.94 L521.80,434.35 L522.14,434.26 L522.48,434.65 L522.82,434.71 L523.16,434.70 L523.50,434.82 L523.84,434.31 L524.18,434.37 L524.52,433.73 L524.86,434.12 L525.20,434.10 L525.54,434.09 L525.88,433.84 L526.22,433.02 L526.56,432.77 L526.90,432.74 L527.24,432.38 L527.58,431.44 L527.92,430.97 L528.26,430.09 L528.60,429.26 L528.94,428.37 L529.28,427.32 L529.62,425.36 L529.96,427.27 L530.30,428.91 L530.64,430.16 L530.98,431.41 L531.32,432.83 L531.66,433.53 L532.00,435.00 L532.34,435.07 L532.68,435.88 L533.02,436.20 L533.36,436.71 L533.70,437.59 L534.04,437.80 L534.38,437.86 L534.72,438.55 L535.06,438.68 L535.40,439.09 L535.74,439.03 L536.08,439.30 L536.42,439.73 L536.76,440.03 L537.10,440.36 L537.44,439.78 L537.78,440.20 L538.12,440.37 L538.46,440.43 L538.80,440.62 L539.14,440.33 L539.48,440.42 L539.82,441.15 L540.16,440.71 L540.50,440.74 L540.84,440.90 L541.18,440.85 L541.52,440.54 L541.86,440.90 L542.20,440.74 L542.54,440.82 L542.88,441.44 L543.22,440.72 L543.56,441.11 L543.90,441.26 L544.24,441.03 L544.58,440.73 L544.92,441.46 L545.26,441.46 L545.60,441.24 L545.94,441.76 L546.28,441.63 L546.62,441.38 L546.96,441.24 L547.30,441.30 L547.64,441.25 L547.98,441.21 L548.32,441.58 L548.66,441.57 L549.00,441.58 L549.34,441.59 L549.68,441.27 L550.02,441.34 L550.36,442.03 L550.70,441.45 L551.04,441.82 L551.38,441.84 L551.72,441.29 L552.06,441.29 L552.40,441.34 L552.74,441.46 L553.08,441.20 L553.42,441.90 L553.76,441.44 L554.10,441.80 L554.44,441.79 L554.78,442.04 L555.12,441.31 L555.46,441.25 L555.80,441.47 L556.14,441.81 L556.48,441.64 L556.82,441.93 L557.16,441.75 L557.50,441.34 L557.84,441.32 L558.18,441.54 L558.52,441.52 L558.86,441.74 L559.20,441.62 L559.54,441.75 L559.88,441.60 L560.22,441.87 L560.56,441.49 L560.90,441.78 L561.24,441.68 L561.58,441.76 L561.92,441.37 L562.26,441.52 L562.60,441.92 L562.94,441.95 L563.28,441.60 L563.62,441.71 L563.96,441.79 L564.30,441.69 L564.64,441.36 L564.98,441.76 L565.32,441.41 L565.66,441.86 L566.00,441.80" stroke="#f04a48" stroke-width="1.1" fill="none" />
<path d="M498.00,423.31 L498.34,423.07 L498.68,423.28 L499.02,423.30 L499.36,423.48 L499.70,423.24 L500.04,422.83 L500.38,423.02 L500.72,422.82 L501.06,423.05 L501.40,422.99 L501.74,423.04 L502.08,423.58 L502.42,422.80 L502.76,422.89 L503.10,422.87 L503.44,423.52 L503.78,423.51 L504.12,423.23 L504.46,423.08 L504.80,422.82 L505.14,422.91 L505.48,422.71 L505.82,423.04 L506.16,422.72 L506.50,422.66 L506.84,422.96 L507.18,422.20 L507.52,422.52 L507.86,422.29 L508.20,422.81 L508.54,422.81 L508.88,422.65 L509.22,422.54 L509.56,422.27 L509.90,422.35 L510.24,422.52 L510.58,422.62 L510.92,422.44 L511.26,421.86 L511.60,422.43 L511.94,422.05 L512.28,421.94 L512.62,422.46 L512.96,421.93 L513.30,421.49 L513.64,422.43 L513.98,421.85 L514.32,421.71 L514.66,421.85 L515.00,421.37 L515.34,421.46 L515.68,421.81 L516.02,421.02 L516.36,420.98 L516.70,420.80 L517.04,420.55 L517.38,420.78 L517.72,420.75 L518.06,421.07 L518.40,420.37 L518.74,420.63 L519.08,420.46 L519.42,420.58 L519.76,420.36 L520.10,420.09 L520.44,419.39 L520.78,420.25 L521.12,419.92 L521.46,419.23 L521.80,418.69 L522.14,418.76 L522.48,419.32 L522.82,419.29 L523.16,418.17 L523.50,418.24 L523.84,418.07 L524.18,417.10 L524.52,416.69 L524.86,416.55 L525.20,416.02 L525.54,415.38 L525.88,414.33 L526.22,413.79 L526.56,412.82 L526.90,411.60 L527.24,410.77 L527.58,408.10 L527.92,406.00 L528.26,403.44 L528.60,400.90 L528.94,396.45 L529.28,391.03 L529.62,397.76 L529.96,402.25 L530.30,406.11 L530.64,410.40 L530.98,412.57 L531.32,415.51 L531.66,417.98 L532.00,419.77 L532.34,421.34 L532.68,422.96 L533.02,423.91 L533.36,425.56 L533.70,426.46 L534.04,426.87 L534.38,427.93 L534.72,428.87 L535.06,428.91 L535.40,429.28 L535.74,430.33 L536.08,431.05 L536.42,431.05 L536.76,431.41 L537.10,431.77 L537.44,431.54 L537.78,432.55 L538.12,432.10 L538.46,433.09 L538.80,433.16 L539.14,432.92 L539.48,432.95 L539.82,433.20 L540.16,433.52 L540.50,433.73 L540.84,433.87 L541.18,433.87 L541.52,434.22 L541.86,434.20 L542.20,434.23 L542.54,434.51 L542.88,434.37 L543.22,434.53 L543.56,434.18 L543.90,434.78 L544.24,435.09 L544.58,435.15 L544.92,435.12 L545.26,434.91 L545.60,435.36 L545.94,435.20 L546.28,434.82 L546.62,436.23 L546.96,435.84 L547.30,435.48 L547.64,435.49 L547.98,435.59 L548.32,435.84 L548.66,435.55 L549.00,435.71 L549.34,436.00 L549.68,435.14 L550.02,435.81 L550.36,436.12 L550.70,436.02 L551.04,436.09 L551.38,436.08 L551.72,436.92 L552.06,436.27 L552.40,435.84 L552.74,436.53 L553.08,436.22 L553.42,435.93 L553.76,435.99 L554.10,435.82 L554.44,436.81 L554.78,436.42 L555.12,436.44 L555.46,436.17 L555.80,436.04 L556.14,437.21 L556.48,436.08 L556.82,436.87 L557.16,436.24 L557.50,436.91 L557.84,436.42 L558.18,436.12 L558.52,436.55 L558.86,436.46 L559.20,436.28 L559.54,436.50 L559.88,436.58 L560.22,436.09 L560.56,436.25 L560.90,436.67 L561.24,435.75 L561.58,436.95 L561.92,436.33 L562.26,436.70 L562.60,436.59 L562.94,436.42 L563.28,436.57 L563.62,436.45 L563.96,437.12 L564.30,437.12 L564.64,436.48 L564.98,436.97 L565.32,436.99 L565.66,437.13 L566.00,436.31" stroke="#1f7ff0" stroke-width="1.7" fill="none" />
<text x="646.00" y="377.00" font-size="8.6" fill="#474747" text-anchor="middle" textLength="52" lengthAdjust="spacingAndGlyphs">GRO-seq (+)</text>
<line x1="609.70" y1="381.00" x2="609.70" y2="447.20" stroke="#444" stroke-width="0.8" /><line x1="609.70" y1="447.20" x2="682.20" y2="447.20" stroke="#444" stroke-width="0.8" /><line x1="609.70" y1="381.00" x2="682.20" y2="381.00" stroke="#444" stroke-width="0.8" /><line x1="682.20" y1="381.00" x2="682.20" y2="447.20" stroke="#999" stroke-width="0.6" />
<line x1="605.70" y1="437.20" x2="609.70" y2="437.20" stroke="#444" stroke-width="0.7" />
<text x="604.00" y="440.00" font-size="8.2" fill="#474747" text-anchor="end">0.2</text>
<line x1="605.70" y1="421.96" x2="609.70" y2="421.96" stroke="#444" stroke-width="0.7" />
<text x="604.00" y="424.76" font-size="8.2" fill="#474747" text-anchor="end">0.4</text>
<line x1="605.70" y1="406.72" x2="609.70" y2="406.72" stroke="#444" stroke-width="0.7" />
<text x="604.00" y="409.52" font-size="8.2" fill="#474747" text-anchor="end">0.6</text>
<line x1="605.70" y1="391.48" x2="609.70" y2="391.48" stroke="#444" stroke-width="0.7" />
<text x="604.00" y="394.28" font-size="8.2" fill="#474747" text-anchor="end">0.8</text>
<line x1="612.30" y1="447.20" x2="612.30" y2="449.20" stroke="#444" stroke-width="0.7" /><text x="612.30" y="460.50" font-size="8.2" fill="#474747" text-anchor="middle">-5k</text><line x1="645.95" y1="447.20" x2="645.95" y2="449.20" stroke="#444" stroke-width="0.7" /><text x="645.95" y="460.50" font-size="8.2" fill="#474747" text-anchor="middle">0</text><line x1="679.00" y1="447.20" x2="679.00" y2="449.20" stroke="#444" stroke-width="0.7" /><text x="679.00" y="460.50" font-size="8.2" fill="#474747" text-anchor="middle">5k</text>
<text x="586.50" y="417.00" font-size="8.2" fill="#474747" text-anchor="middle" textLength="30" lengthAdjust="spacingAndGlyphs" transform="rotate(-90 586.50 417.00)">cpm/bp</text>
<path d="M612.00,442.04 L612.34,441.71 L612.67,441.93 L613.01,441.92 L613.35,441.99 L613.69,442.03 L614.02,441.98 L614.36,442.08 L614.70,442.19 L615.04,442.21 L615.38,442.24 L615.71,442.02 L616.05,441.96 L616.39,441.79 L616.73,441.96 L617.06,441.99 L617.40,441.93 L617.74,442.03 L618.08,442.32 L618.41,441.86 L618.75,442.09 L619.09,441.97 L619.42,442.05 L619.76,441.54 L620.10,441.81 L620.44,441.92 L620.77,442.16 L621.11,441.83 L621.45,442.11 L621.79,441.78 L622.12,442.19 L622.46,441.96 L622.80,441.79 L623.14,442.06 L623.48,441.90 L623.81,441.88 L624.15,441.75 L624.49,441.96 L624.83,441.77 L625.16,441.54 L625.50,442.09 L625.84,441.98 L626.17,441.76 L626.51,441.92 L626.85,442.02 L627.19,441.56 L627.52,441.62 L627.86,441.58 L628.20,441.57 L628.54,441.61 L628.88,441.84 L629.21,442.06 L629.55,441.59 L629.89,441.82 L630.23,441.62 L630.56,441.54 L630.90,441.78 L631.24,441.61 L631.58,441.26 L631.91,441.39 L632.25,441.74 L632.59,441.48 L632.92,441.42 L633.26,441.30 L633.60,441.24 L633.94,441.33 L634.27,441.32 L634.61,441.11 L634.95,441.43 L635.29,440.98 L635.62,441.07 L635.96,441.15 L636.30,441.12 L636.64,440.94 L636.98,441.15 L637.31,441.23 L637.65,440.73 L637.99,440.49 L638.33,440.68 L638.66,440.57 L639.00,440.50 L639.34,440.56 L639.67,440.24 L640.01,440.07 L640.35,440.08 L640.69,439.82 L641.02,439.98 L641.36,439.63 L641.70,439.62 L642.04,439.39 L642.38,439.07 L642.71,438.86 L643.05,438.49 L643.39,438.24 L643.73,438.21 L644.06,437.45 L644.40,437.50 L644.74,436.80 L645.08,436.22 L645.41,435.68 L645.75,434.91 L646.09,434.20 L646.42,433.47 L646.76,432.16 L647.10,431.12 L647.44,429.89 L647.77,428.16 L648.11,426.34 L648.45,427.82 L648.79,429.25 L649.12,430.20 L649.46,431.16 L649.80,431.63 L650.14,432.57 L650.48,432.85 L650.81,433.52 L651.15,433.72 L651.49,433.86 L651.83,434.57 L652.16,434.73 L652.50,435.11 L652.84,435.27 L653.17,435.41 L653.51,435.46 L653.85,435.47 L654.19,435.59 L654.52,435.92 L654.86,435.92 L655.20,436.27 L655.54,436.04 L655.88,436.25 L656.21,436.45 L656.55,436.47 L656.89,436.34 L657.23,436.48 L657.56,436.45 L657.90,436.68 L658.24,436.64 L658.58,436.76 L658.91,437.01 L659.25,436.84 L659.59,436.89 L659.92,437.02 L660.26,436.83 L660.60,436.66 L660.94,436.81 L661.27,437.06 L661.61,437.29 L661.95,437.17 L662.29,437.27 L662.62,437.18 L662.96,437.05 L663.30,437.27 L663.64,437.51 L663.98,437.11 L664.31,437.34 L664.65,437.16 L664.99,437.53 L665.33,437.03 L665.66,437.63 L666.00,437.44 L666.34,437.36 L666.67,437.90 L667.01,437.64 L667.35,437.78 L667.69,437.29 L668.02,437.46 L668.36,437.74 L668.70,437.87 L669.04,437.89 L669.38,437.60 L669.71,437.77 L670.05,437.60 L670.39,437.75 L670.73,437.95 L671.06,437.41 L671.40,437.63 L671.74,437.82 L672.08,437.78 L672.41,437.53 L672.75,437.62 L673.09,437.95 L673.42,437.53 L673.76,437.87 L674.10,437.69 L674.44,437.97 L674.77,437.90 L675.11,437.68 L675.45,437.99 L675.79,437.80 L676.12,437.75 L676.46,437.93 L676.80,437.60 L677.14,437.73 L677.48,437.86 L677.81,437.69 L678.15,437.64 L678.49,437.66 L678.83,437.88 L679.16,437.74 L679.50,437.81" stroke="#7b6cf0" stroke-width="0.9" fill="none" />
<path d="M612.00,442.30 L612.34,442.03 L612.67,441.78 L613.01,441.72 L613.35,441.80 L613.69,442.06 L614.02,441.99 L614.36,442.11 L614.70,442.35 L615.04,442.16 L615.38,441.83 L615.71,441.98 L616.05,442.11 L616.39,442.27 L616.73,442.05 L617.06,442.15 L617.40,442.01 L617.74,441.90 L618.08,442.52 L618.41,442.02 L618.75,442.32 L619.09,442.20 L619.42,442.26 L619.76,441.72 L620.10,441.81 L620.44,441.84 L620.77,442.11 L621.11,442.26 L621.45,442.01 L621.79,441.87 L622.12,441.92 L622.46,441.74 L622.80,441.97 L623.14,441.47 L623.48,441.71 L623.81,441.40 L624.15,441.78 L624.49,441.88 L624.83,442.00 L625.16,441.61 L625.50,441.54 L625.84,441.73 L626.17,441.65 L626.51,441.79 L626.85,441.81 L627.19,441.76 L627.52,442.10 L627.86,441.88 L628.20,441.62 L628.54,441.58 L628.88,441.34 L629.21,441.42 L629.55,441.44 L629.89,441.50 L630.23,441.99 L630.56,441.44 L630.90,441.62 L631.24,441.28 L631.58,441.42 L631.91,441.40 L632.25,441.41 L632.59,441.31 L632.92,441.65 L633.26,441.53 L633.60,440.84 L633.94,440.97 L634.27,441.12 L634.61,441.05 L634.95,441.00 L635.29,440.12 L635.62,440.68 L635.96,440.74 L636.30,440.82 L636.64,441.14 L636.98,440.50 L637.31,440.13 L637.65,440.15 L637.99,440.21 L638.33,440.31 L638.66,440.33 L639.00,439.93 L639.34,439.92 L639.67,439.96 L640.01,439.18 L640.35,439.61 L640.69,439.35 L641.02,439.58 L641.36,438.45 L641.70,438.64 L642.04,438.37 L642.38,438.01 L642.71,437.96 L643.05,437.57 L643.39,436.98 L643.73,436.80 L644.06,436.06 L644.40,435.31 L644.74,434.79 L645.08,433.95 L645.41,433.24 L645.75,432.19 L646.09,431.50 L646.42,430.30 L646.76,429.31 L647.10,427.57 L647.44,425.94 L647.77,423.76 L648.11,421.63 L648.45,423.21 L648.79,424.26 L649.12,426.34 L649.46,427.13 L649.80,428.03 L650.14,429.11 L650.48,429.66 L650.81,430.26 L651.15,430.50 L651.49,431.14 L651.83,430.74 L652.16,431.43 L652.50,431.62 L652.84,431.62 L653.17,432.00 L653.51,432.51 L653.85,432.57 L654.19,432.79 L654.52,432.87 L654.86,432.84 L655.20,433.63 L655.54,433.67 L655.88,433.46 L656.21,433.38 L656.55,433.69 L656.89,433.70 L657.23,433.49 L657.56,433.67 L657.90,433.92 L658.24,434.04 L658.58,434.37 L658.91,433.99 L659.25,434.14 L659.59,434.44 L659.92,434.17 L660.26,434.43 L660.60,434.47 L660.94,434.82 L661.27,434.29 L661.61,434.72 L661.95,434.52 L662.29,434.58 L662.62,434.81 L662.96,434.73 L663.30,434.81 L663.64,434.86 L663.98,434.79 L664.31,435.01 L664.65,434.75 L664.99,434.91 L665.33,435.23 L665.66,434.90 L666.00,435.12 L666.34,434.94 L666.67,435.61 L667.01,435.02 L667.35,435.64 L667.69,435.25 L668.02,434.45 L668.36,435.05 L668.70,434.98 L669.04,435.40 L669.38,435.52 L669.71,435.29 L670.05,435.20 L670.39,435.33 L670.73,435.48 L671.06,435.54 L671.40,435.45 L671.74,435.00 L672.08,435.38 L672.41,435.48 L672.75,435.46 L673.09,435.64 L673.42,435.73 L673.76,435.40 L674.10,435.14 L674.44,435.34 L674.77,435.78 L675.11,435.12 L675.45,435.42 L675.79,435.05 L676.12,435.53 L676.46,435.81 L676.80,435.46 L677.14,435.55 L677.48,435.77 L677.81,435.70 L678.15,435.63 L678.49,435.74 L678.83,435.40 L679.16,435.48 L679.50,435.66" stroke="#f04a48" stroke-width="1.1" fill="none" />
<path d="M612.00,435.91 L612.34,435.71 L612.67,435.76 L613.01,435.65 L613.35,435.24 L613.69,436.17 L614.02,435.63 L614.36,435.68 L614.70,435.83 L615.04,435.53 L615.38,435.48 L615.71,434.53 L616.05,435.34 L616.39,435.45 L616.73,435.11 L617.06,435.83 L617.40,435.65 L617.74,435.20 L618.08,435.59 L618.41,435.76 L618.75,435.59 L619.09,435.87 L619.42,434.91 L619.76,434.85 L620.10,434.32 L620.44,435.41 L620.77,435.37 L621.11,435.34 L621.45,435.05 L621.79,435.23 L622.12,434.91 L622.46,435.31 L622.80,435.72 L623.14,434.54 L623.48,435.32 L623.81,434.66 L624.15,435.21 L624.49,435.00 L624.83,435.66 L625.16,435.37 L625.50,434.82 L625.84,434.72 L626.17,435.00 L626.51,434.83 L626.85,435.55 L627.19,434.80 L627.52,435.03 L627.86,435.13 L628.20,434.56 L628.54,434.82 L628.88,434.94 L629.21,434.71 L629.55,434.66 L629.89,434.57 L630.23,434.38 L630.56,434.53 L630.90,433.95 L631.24,433.64 L631.58,433.79 L631.91,434.24 L632.25,434.29 L632.59,433.82 L632.92,433.98 L633.26,433.29 L633.60,433.65 L633.94,433.47 L634.27,433.77 L634.61,433.39 L634.95,433.77 L635.29,433.81 L635.62,433.06 L635.96,433.44 L636.30,433.12 L636.64,432.42 L636.98,432.00 L637.31,432.43 L637.65,432.45 L637.99,431.82 L638.33,431.56 L638.66,431.52 L639.00,431.83 L639.34,431.46 L639.67,430.62 L640.01,431.15 L640.35,430.40 L640.69,429.62 L641.02,429.33 L641.36,429.56 L641.70,428.97 L642.04,428.43 L642.38,428.21 L642.71,427.12 L643.05,426.76 L643.39,425.40 L643.73,425.12 L644.06,423.92 L644.40,422.72 L644.74,421.11 L645.08,420.50 L645.41,417.41 L645.75,415.78 L646.09,413.23 L646.42,410.01 L646.76,407.21 L647.10,403.23 L647.44,398.83 L647.77,393.25 L648.11,387.02 L648.45,392.00 L648.79,396.63 L649.12,400.40 L649.46,402.66 L649.80,405.42 L650.14,406.82 L650.48,408.42 L650.81,410.31 L651.15,410.63 L651.49,411.69 L651.83,412.48 L652.16,413.23 L652.50,412.87 L652.84,413.21 L653.17,414.22 L653.51,414.50 L653.85,414.69 L654.19,415.02 L654.52,414.63 L654.86,415.43 L655.20,414.89 L655.54,416.32 L655.88,416.27 L656.21,415.44 L656.55,416.04 L656.89,416.81 L657.23,415.36 L657.56,416.05 L657.90,416.32 L658.24,417.52 L658.58,416.35 L658.91,416.81 L659.25,416.99 L659.59,417.18 L659.92,417.80 L660.26,417.68 L660.60,417.16 L660.94,417.05 L661.27,417.25 L661.61,417.44 L661.95,417.60 L662.29,417.56 L662.62,417.00 L662.96,417.87 L663.30,418.56 L663.64,417.87 L663.98,418.23 L664.31,418.58 L664.65,418.70 L664.99,418.00 L665.33,418.60 L665.66,418.48 L666.00,418.78 L666.34,418.07 L666.67,418.71 L667.01,418.76 L667.35,419.21 L667.69,419.15 L668.02,418.32 L668.36,419.14 L668.70,418.41 L669.04,418.64 L669.38,418.74 L669.71,418.81 L670.05,418.93 L670.39,418.52 L670.73,418.94 L671.06,419.54 L671.40,419.15 L671.74,418.48 L672.08,419.53 L672.41,419.12 L672.75,419.16 L673.09,418.74 L673.42,419.51 L673.76,418.68 L674.10,419.62 L674.44,419.19 L674.77,419.68 L675.11,419.20 L675.45,419.51 L675.79,419.86 L676.12,419.19 L676.46,419.70 L676.80,419.08 L677.14,420.31 L677.48,418.76 L677.81,419.41 L678.15,418.72 L678.49,419.11 L678.83,419.38 L679.16,419.49 L679.50,419.59" stroke="#1f7ff0" stroke-width="1.7" fill="none" />
<text x="532.50" y="479.60" font-size="8.6" fill="#474747" text-anchor="middle" textLength="17" lengthAdjust="spacingAndGlyphs">PolII</text>
<line x1="495.40" y1="484.40" x2="495.40" y2="551.00" stroke="#444" stroke-width="0.8" /><line x1="495.40" y1="551.00" x2="569.00" y2="551.00" stroke="#444" stroke-width="0.8" /><line x1="495.40" y1="484.40" x2="569.00" y2="484.40" stroke="#444" stroke-width="0.8" /><line x1="569.00" y1="484.40" x2="569.00" y2="551.00" stroke="#999" stroke-width="0.6" />
<line x1="491.60" y1="532.60" x2="495.40" y2="532.60" stroke="#444" stroke-width="0.7" />
<text x="489.50" y="535.40" font-size="8.2" fill="#474747" text-anchor="end">1</text>
<line x1="491.60" y1="513.75" x2="495.40" y2="513.75" stroke="#444" stroke-width="0.7" />
<text x="489.50" y="516.55" font-size="8.2" fill="#474747" text-anchor="end">1.5</text>
<line x1="491.60" y1="494.90" x2="495.40" y2="494.90" stroke="#444" stroke-width="0.7" />
<text x="489.50" y="497.70" font-size="8.2" fill="#474747" text-anchor="end">2</text>
<line x1="498.00" y1="551.00" x2="498.00" y2="553.00" stroke="#444" stroke-width="0.7" /><text x="498.00" y="563.10" font-size="8.2" fill="#474747" text-anchor="middle">-5k</text><line x1="531.70" y1="551.00" x2="531.70" y2="553.00" stroke="#444" stroke-width="0.7" /><text x="531.70" y="563.10" font-size="8.2" fill="#474747" text-anchor="middle">0</text><line x1="565.80" y1="551.00" x2="565.80" y2="553.00" stroke="#444" stroke-width="0.7" /><text x="565.80" y="563.10" font-size="8.2" fill="#474747" text-anchor="middle">5k</text>
<text x="470.00" y="518.00" font-size="8.2" fill="#474747" text-anchor="middle" textLength="48" lengthAdjust="spacingAndGlyphs" transform="rotate(-90 470.00 518.00)">fold change</text>
<path d="M498.00,548.61 L498.34,548.37 L498.68,548.27 L499.02,548.50 L499.36,548.62 L499.70,548.43 L500.04,548.35 L500.38,548.25 L500.72,548.60 L501.06,548.61 L501.40,548.31 L501.74,548.34 L502.08,548.18 L502.42,548.26 L502.76,548.42 L503.10,548.45 L503.44,548.02 L503.78,548.45 L504.12,548.52 L504.46,548.57 L504.80,548.38 L505.14,548.37 L505.48,548.44 L505.82,548.40 L506.16,548.34 L506.50,548.28 L506.84,548.21 L507.18,548.34 L507.52,548.64 L507.86,548.26 L508.20,548.58 L508.54,548.38 L508.88,548.58 L509.22,548.35 L509.56,548.46 L509.90,548.30 L510.24,547.83 L510.58,548.33 L510.92,548.19 L511.26,548.51 L511.60,548.34 L511.94,548.19 L512.28,548.30 L512.62,548.22 L512.96,548.25 L513.30,548.40 L513.64,548.16 L513.98,548.35 L514.32,547.93 L514.66,548.28 L515.00,548.08 L515.34,548.17 L515.68,548.01 L516.02,548.23 L516.36,547.96 L516.70,548.11 L517.04,547.88 L517.38,547.96 L517.72,548.00 L518.06,548.12 L518.40,547.85 L518.74,547.87 L519.08,547.66 L519.42,547.93 L519.76,547.75 L520.10,547.72 L520.44,547.72 L520.78,547.68 L521.12,547.64 L521.46,547.71 L521.80,547.72 L522.14,547.57 L522.48,547.36 L522.82,547.15 L523.16,547.16 L523.50,547.06 L523.84,547.01 L524.18,546.91 L524.52,546.86 L524.86,546.61 L525.20,546.27 L525.54,546.35 L525.88,546.11 L526.22,545.35 L526.56,545.15 L526.90,544.48 L527.24,543.82 L527.58,543.31 L527.92,541.82 L528.26,540.83 L528.60,539.83 L528.94,538.39 L529.28,537.03 L529.62,535.68 L529.96,534.04 L530.30,532.50 L530.64,531.01 L530.98,529.86 L531.32,528.95 L531.66,527.99 L532.00,527.81 L532.34,528.07 L532.68,528.79 L533.02,530.01 L533.36,531.45 L533.70,532.69 L534.04,533.99 L534.38,535.46 L534.72,536.82 L535.06,538.65 L535.40,539.86 L535.74,541.00 L536.08,542.21 L536.42,543.50 L536.76,543.83 L537.10,544.28 L537.44,545.04 L537.78,545.78 L538.12,546.07 L538.46,546.27 L538.80,546.16 L539.14,546.64 L539.48,546.87 L539.82,546.78 L540.16,547.14 L540.50,546.94 L540.84,547.41 L541.18,547.45 L541.52,547.34 L541.86,547.29 L542.20,547.47 L542.54,547.57 L542.88,547.94 L543.22,547.82 L543.56,547.85 L543.90,547.88 L544.24,547.75 L544.58,547.92 L544.92,547.79 L545.26,547.93 L545.60,548.02 L545.94,547.98 L546.28,547.96 L546.62,547.92 L546.96,548.14 L547.30,548.13 L547.64,548.32 L547.98,547.89 L548.32,547.93 L548.66,548.20 L549.00,548.26 L549.34,548.39 L549.68,548.19 L550.02,548.20 L550.36,547.91 L550.70,548.22 L551.04,548.38 L551.38,548.64 L551.72,548.07 L552.06,548.26 L552.40,548.54 L552.74,548.28 L553.08,548.56 L553.42,547.80 L553.76,548.16 L554.10,548.25 L554.44,548.37 L554.78,548.67 L555.12,548.37 L555.46,548.59 L555.80,548.27 L556.14,548.69 L556.48,548.51 L556.82,548.19 L557.16,548.13 L557.50,548.56 L557.84,548.62 L558.18,548.26 L558.52,548.26 L558.86,548.54 L559.20,548.50 L559.54,548.50 L559.88,548.58 L560.22,548.50 L560.56,548.22 L560.90,548.30 L561.24,548.10 L561.58,548.42 L561.92,548.43 L562.26,548.56 L562.60,548.43 L562.94,548.61 L563.28,548.68 L563.62,548.31 L563.96,548.20 L564.30,548.29 L564.64,548.22 L564.98,548.38 L565.32,548.53 L565.66,548.41 L566.00,548.48" stroke="#7b6cf0" stroke-width="0.9" fill="none" />
<path d="M498.00,547.94 L498.34,547.62 L498.68,547.71 L499.02,547.75 L499.36,547.48 L499.70,547.65 L500.04,547.71 L500.38,547.32 L500.72,547.75 L501.06,547.89 L501.40,547.91 L501.74,547.75 L502.08,547.52 L502.42,547.48 L502.76,547.43 L503.10,547.29 L503.44,547.31 L503.78,547.51 L504.12,547.37 L504.46,547.50 L504.80,547.72 L505.14,547.46 L505.48,547.60 L505.82,547.64 L506.16,547.22 L506.50,547.45 L506.84,547.68 L507.18,547.60 L507.52,547.13 L507.86,547.62 L508.20,547.43 L508.54,547.44 L508.88,547.45 L509.22,547.43 L509.56,547.63 L509.90,547.62 L510.24,547.55 L510.58,547.58 L510.92,547.34 L511.26,547.19 L511.60,547.64 L511.94,547.36 L512.28,547.64 L512.62,547.57 L512.96,547.46 L513.30,547.38 L513.64,547.47 L513.98,547.87 L514.32,547.08 L514.66,547.38 L515.00,547.43 L515.34,547.15 L515.68,547.37 L516.02,547.50 L516.36,547.11 L516.70,547.09 L517.04,547.30 L517.38,546.94 L517.72,547.00 L518.06,547.25 L518.40,546.65 L518.74,546.89 L519.08,547.11 L519.42,546.76 L519.76,546.77 L520.10,546.55 L520.44,546.94 L520.78,546.42 L521.12,546.37 L521.46,546.34 L521.80,546.28 L522.14,546.06 L522.48,546.08 L522.82,546.10 L523.16,546.17 L523.50,545.68 L523.84,545.56 L524.18,545.53 L524.52,545.36 L524.86,545.02 L525.20,545.36 L525.54,544.47 L525.88,544.57 L526.22,543.50 L526.56,542.67 L526.90,541.68 L527.24,541.12 L527.58,539.73 L527.92,538.41 L528.26,537.18 L528.60,534.77 L528.94,532.89 L529.28,530.70 L529.62,528.64 L529.96,526.20 L530.30,523.97 L530.64,521.69 L530.98,520.07 L531.32,517.95 L531.66,517.56 L532.00,516.81 L532.34,517.49 L532.68,518.77 L533.02,519.83 L533.36,521.81 L533.70,524.23 L534.04,526.17 L534.38,528.24 L534.72,530.98 L535.06,532.85 L535.40,534.96 L535.74,536.31 L536.08,538.31 L536.42,539.89 L536.76,541.13 L537.10,541.68 L537.44,542.96 L537.78,543.11 L538.12,544.39 L538.46,544.57 L538.80,544.93 L539.14,545.30 L539.48,545.44 L539.82,545.45 L540.16,545.88 L540.50,546.16 L540.84,545.75 L541.18,545.84 L541.52,546.35 L541.86,546.25 L542.20,546.89 L542.54,546.28 L542.88,546.80 L543.22,546.72 L543.56,546.27 L543.90,546.98 L544.24,546.79 L544.58,547.05 L544.92,547.25 L545.26,547.17 L545.60,546.94 L545.94,547.28 L546.28,547.18 L546.62,546.97 L546.96,547.17 L547.30,547.42 L547.64,546.92 L547.98,547.21 L548.32,546.99 L548.66,547.48 L549.00,546.98 L549.34,547.59 L549.68,547.68 L550.02,547.45 L550.36,547.46 L550.70,547.35 L551.04,547.53 L551.38,547.31 L551.72,547.20 L552.06,547.59 L552.40,547.74 L552.74,547.56 L553.08,547.34 L553.42,547.35 L553.76,547.59 L554.10,547.72 L554.44,547.54 L554.78,547.36 L555.12,547.69 L555.46,547.31 L555.80,547.52 L556.14,547.52 L556.48,547.70 L556.82,547.32 L557.16,547.58 L557.50,547.88 L557.84,547.44 L558.18,547.68 L558.52,547.40 L558.86,547.58 L559.20,547.74 L559.54,547.59 L559.88,547.72 L560.22,547.78 L560.56,547.62 L560.90,547.47 L561.24,547.62 L561.58,547.65 L561.92,547.74 L562.26,547.53 L562.60,547.59 L562.94,547.46 L563.28,547.58 L563.62,547.24 L563.96,547.95 L564.30,547.66 L564.64,547.55 L564.98,547.48 L565.32,547.95 L565.66,547.89 L566.00,547.66" stroke="#f04a48" stroke-width="1.1" fill="none" />
<path d="M498.00,543.91 L498.34,543.48 L498.68,544.09 L499.02,544.35 L499.36,543.80 L499.70,543.70 L500.04,543.76 L500.38,543.72 L500.72,543.88 L501.06,544.00 L501.40,544.04 L501.74,543.89 L502.08,543.93 L502.42,543.58 L502.76,543.66 L503.10,544.15 L503.44,543.63 L503.78,543.81 L504.12,543.50 L504.46,543.40 L504.80,543.64 L505.14,544.25 L505.48,543.60 L505.82,544.18 L506.16,543.34 L506.50,543.93 L506.84,543.79 L507.18,543.25 L507.52,544.20 L507.86,543.71 L508.20,543.99 L508.54,543.83 L508.88,543.89 L509.22,543.49 L509.56,543.74 L509.90,543.55 L510.24,543.45 L510.58,544.07 L510.92,543.22 L511.26,543.64 L511.60,544.00 L511.94,543.71 L512.28,543.28 L512.62,543.22 L512.96,543.64 L513.30,543.40 L513.64,543.34 L513.98,543.10 L514.32,543.38 L514.66,543.04 L515.00,543.51 L515.34,543.42 L515.68,543.01 L516.02,542.95 L516.36,543.11 L516.70,542.88 L517.04,542.93 L517.38,542.72 L517.72,542.56 L518.06,542.66 L518.40,542.51 L518.74,542.77 L519.08,542.73 L519.42,543.13 L519.76,542.30 L520.10,542.31 L520.44,542.07 L520.78,542.61 L521.12,542.12 L521.46,542.02 L521.80,542.22 L522.14,541.35 L522.48,541.11 L522.82,541.61 L523.16,540.96 L523.50,540.41 L523.84,540.96 L524.18,540.09 L524.52,539.60 L524.86,539.12 L525.20,539.49 L525.54,538.79 L525.88,537.67 L526.22,536.43 L526.56,535.88 L526.90,534.25 L527.24,532.52 L527.58,529.74 L527.92,527.62 L528.26,524.34 L528.60,520.98 L528.94,517.17 L529.28,513.44 L529.62,509.38 L529.96,505.05 L530.30,501.25 L530.64,498.02 L530.98,494.56 L531.32,491.48 L531.66,489.68 L532.00,488.56 L532.34,489.65 L532.68,490.83 L533.02,494.43 L533.36,497.55 L533.70,501.25 L534.04,505.43 L534.38,509.14 L534.72,513.32 L535.06,517.37 L535.40,521.52 L535.74,524.16 L536.08,527.26 L536.42,530.06 L536.76,532.95 L537.10,534.06 L537.44,535.87 L537.78,536.82 L538.12,537.86 L538.46,538.73 L538.80,538.85 L539.14,539.59 L539.48,539.69 L539.82,540.62 L540.16,540.69 L540.50,540.51 L540.84,541.00 L541.18,541.47 L541.52,541.68 L541.86,541.75 L542.20,541.76 L542.54,541.68 L542.88,541.95 L543.22,541.90 L543.56,541.99 L543.90,542.28 L544.24,542.06 L544.58,542.30 L544.92,542.63 L545.26,542.71 L545.60,542.74 L545.94,543.00 L546.28,543.23 L546.62,542.92 L546.96,543.13 L547.30,542.88 L547.64,543.25 L547.98,543.11 L548.32,543.13 L548.66,543.35 L549.00,543.21 L549.34,543.50 L549.68,543.46 L550.02,543.15 L550.36,543.30 L550.70,543.43 L551.04,543.67 L551.38,543.30 L551.72,542.97 L552.06,544.12 L552.40,543.27 L552.74,543.51 L553.08,543.29 L553.42,543.29 L553.76,543.90 L554.10,543.17 L554.44,543.82 L554.78,543.74 L555.12,543.51 L555.46,543.72 L555.80,543.63 L556.14,543.86 L556.48,544.01 L556.82,543.73 L557.16,544.04 L557.50,543.39 L557.84,543.69 L558.18,543.39 L558.52,544.11 L558.86,544.34 L559.20,544.41 L559.54,543.90 L559.88,544.15 L560.22,543.71 L560.56,544.20 L560.90,544.19 L561.24,543.74 L561.58,543.93 L561.92,543.64 L562.26,543.61 L562.60,543.74 L562.94,544.16 L563.28,544.07 L563.62,543.23 L563.96,543.90 L564.30,543.77 L564.64,543.81 L564.98,543.86 L565.32,543.90 L565.66,544.01 L566.00,543.99" stroke="#1f7ff0" stroke-width="1.7" fill="none" />
<text x="646.20" y="479.60" font-size="8.6" fill="#474747" text-anchor="middle" textLength="57" lengthAdjust="spacingAndGlyphs">G-quadruplex</text>
<line x1="609.70" y1="484.40" x2="609.70" y2="550.00" stroke="#444" stroke-width="0.8" /><line x1="609.70" y1="550.00" x2="682.20" y2="550.00" stroke="#444" stroke-width="0.8" />
<line x1="682.20" y1="484.40" x2="682.20" y2="550.00" stroke="#ddd" stroke-width="0.6" />
<line x1="605.70" y1="544.20" x2="609.70" y2="544.20" stroke="#444" stroke-width="0.7" />
<text x="604.00" y="547.00" font-size="8.2" fill="#474747" text-anchor="end">0.2</text>
<line x1="607.00" y1="534.99" x2="609.70" y2="534.99" stroke="#444" stroke-width="0.7" />
<line x1="605.70" y1="525.77" x2="609.70" y2="525.77" stroke="#444" stroke-width="0.7" />
<text x="604.00" y="528.57" font-size="8.2" fill="#474747" text-anchor="end">0.3</text>
<line x1="607.00" y1="516.56" x2="609.70" y2="516.56" stroke="#444" stroke-width="0.7" />
<line x1="605.70" y1="507.34" x2="609.70" y2="507.34" stroke="#444" stroke-width="0.7" />
<text x="604.00" y="510.14" font-size="8.2" fill="#474747" text-anchor="end">0.4</text>
<line x1="607.00" y1="498.13" x2="609.70" y2="498.13" stroke="#444" stroke-width="0.7" />
<line x1="605.70" y1="488.91" x2="609.70" y2="488.91" stroke="#444" stroke-width="0.7" />
<text x="604.00" y="491.71" font-size="8.2" fill="#474747" text-anchor="end">0.5</text>
<line x1="612.30" y1="550.00" x2="612.30" y2="552.00" stroke="#444" stroke-width="0.7" /><text x="612.30" y="563.00" font-size="8.2" fill="#474747" text-anchor="middle">-5k</text><line x1="645.95" y1="550.00" x2="645.95" y2="552.00" stroke="#444" stroke-width="0.7" /><text x="645.95" y="563.00" font-size="8.2" fill="#474747" text-anchor="middle">0</text><line x1="679.00" y1="550.00" x2="679.00" y2="552.00" stroke="#444" stroke-width="0.7" /><text x="679.00" y="563.00" font-size="8.2" fill="#474747" text-anchor="middle">5k</text>
<text x="586.50" y="518.50" font-size="8.2" fill="#474747" text-anchor="middle" textLength="86" lengthAdjust="spacingAndGlyphs" transform="rotate(-90 586.50 518.50)">fraction of occurance</text>
<path d="M612.00,544.20 L612.34,544.39 L612.67,546.11 L613.01,546.53 L613.35,545.17 L613.69,544.53 L614.02,545.20 L614.36,546.17 L614.70,545.46 L615.04,544.03 L615.38,546.10 L615.71,544.31 L616.05,544.69 L616.39,544.72 L616.73,544.51 L617.06,545.47 L617.40,545.16 L617.74,543.74 L618.08,545.35 L618.41,545.37 L618.75,546.09 L619.09,545.39 L619.42,544.50 L619.76,544.12 L620.10,544.56 L620.44,544.56 L620.77,544.59 L621.11,544.77 L621.45,544.27 L621.79,545.10 L622.12,544.20 L622.46,545.03 L622.80,546.14 L623.14,545.90 L623.48,545.10 L623.81,545.28 L624.15,545.82 L624.49,545.48 L624.83,544.77 L625.16,544.60 L625.50,544.26 L625.84,545.49 L626.17,544.57 L626.51,544.07 L626.85,544.55 L627.19,543.50 L627.52,545.12 L627.86,544.75 L628.20,544.60 L628.54,544.99 L628.88,544.71 L629.21,544.47 L629.55,544.64 L629.89,544.95 L630.23,544.87 L630.56,544.57 L630.90,545.59 L631.24,544.29 L631.58,545.18 L631.91,544.52 L632.25,545.08 L632.59,544.16 L632.92,544.45 L633.26,544.30 L633.60,544.59 L633.94,543.90 L634.27,542.75 L634.61,545.14 L634.95,543.37 L635.29,543.49 L635.62,543.84 L635.96,544.39 L636.30,542.22 L636.64,543.11 L636.98,542.39 L637.31,543.25 L637.65,543.39 L637.99,541.90 L638.33,541.97 L638.66,542.51 L639.00,542.21 L639.34,541.32 L639.67,542.00 L640.01,541.59 L640.35,540.48 L640.69,539.05 L641.02,538.31 L641.36,537.74 L641.70,535.62 L642.04,535.16 L642.38,533.61 L642.71,529.52 L643.05,529.29 L643.39,526.06 L643.73,523.57 L644.06,521.37 L644.40,518.91 L644.74,516.42 L645.08,514.72 L645.41,514.17 L645.75,512.86 L646.09,512.75 L646.42,514.59 L646.76,517.23 L647.10,519.02 L647.44,522.17 L647.77,524.89 L648.11,526.87 L648.45,527.78 L648.79,531.65 L649.12,534.67 L649.46,535.13 L649.80,537.08 L650.14,537.34 L650.48,538.03 L650.81,540.01 L651.15,540.36 L651.49,541.63 L651.83,540.55 L652.16,542.29 L652.50,542.03 L652.84,540.58 L653.17,543.16 L653.51,542.55 L653.85,542.87 L654.19,542.64 L654.52,542.77 L654.86,542.17 L655.20,543.00 L655.54,543.03 L655.88,544.44 L656.21,543.36 L656.55,544.69 L656.89,542.95 L657.23,543.94 L657.56,543.28 L657.90,544.40 L658.24,543.94 L658.58,544.11 L658.91,543.83 L659.25,544.35 L659.59,544.75 L659.92,544.64 L660.26,544.89 L660.60,545.12 L660.94,545.37 L661.27,545.59 L661.61,543.22 L661.95,545.14 L662.29,545.43 L662.62,543.95 L662.96,544.49 L663.30,544.81 L663.64,543.93 L663.98,543.43 L664.31,545.39 L664.65,543.79 L664.99,544.41 L665.33,544.01 L665.66,545.24 L666.00,543.67 L666.34,544.05 L666.67,546.76 L667.01,544.00 L667.35,543.96 L667.69,545.93 L668.02,544.71 L668.36,545.08 L668.70,544.81 L669.04,545.59 L669.38,544.52 L669.71,544.46 L670.05,545.07 L670.39,545.05 L670.73,546.25 L671.06,544.63 L671.40,545.94 L671.74,545.01 L672.08,545.61 L672.41,543.17 L672.75,545.04 L673.09,543.94 L673.42,545.08 L673.76,545.08 L674.10,544.53 L674.44,545.08 L674.77,543.39 L675.11,545.20 L675.45,543.90 L675.79,545.93 L676.12,545.73 L676.46,544.61 L676.80,546.07 L677.14,543.67 L677.48,544.70 L677.81,545.02 L678.15,543.81 L678.49,545.46 L678.83,545.63 L679.16,546.96 L679.50,546.49" stroke="#7b6cf0" stroke-width="1.3" fill="none" />
<path d="M612.00,544.03 L612.34,544.20 L612.67,544.22 L613.01,544.70 L613.35,543.99 L613.69,544.18 L614.02,543.15 L614.36,545.11 L614.70,541.77 L615.04,547.14 L615.38,544.09 L615.71,543.31 L616.05,544.33 L616.39,544.86 L616.73,544.19 L617.06,543.47 L617.40,542.95 L617.74,545.58 L618.08,543.92 L618.41,544.73 L618.75,543.12 L619.09,544.60 L619.42,543.97 L619.76,543.07 L620.10,544.40 L620.44,543.88 L620.77,544.86 L621.11,544.39 L621.45,545.96 L621.79,544.93 L622.12,544.59 L622.46,544.75 L622.80,542.02 L623.14,546.25 L623.48,546.18 L623.81,543.81 L624.15,543.43 L624.49,543.85 L624.83,542.87 L625.16,541.96 L625.50,544.39 L625.84,545.20 L626.17,544.05 L626.51,542.73 L626.85,543.43 L627.19,544.00 L627.52,543.48 L627.86,543.47 L628.20,545.36 L628.54,543.25 L628.88,544.43 L629.21,543.83 L629.55,544.05 L629.89,543.43 L630.23,542.55 L630.56,543.59 L630.90,543.19 L631.24,542.41 L631.58,542.77 L631.91,543.78 L632.25,542.30 L632.59,543.38 L632.92,543.17 L633.26,542.61 L633.60,541.28 L633.94,543.45 L634.27,542.90 L634.61,542.26 L634.95,543.11 L635.29,542.04 L635.62,540.82 L635.96,543.59 L636.30,541.70 L636.64,542.25 L636.98,539.43 L637.31,540.63 L637.65,540.42 L637.99,540.89 L638.33,541.52 L638.66,540.20 L639.00,539.62 L639.34,539.56 L639.67,537.42 L640.01,537.83 L640.35,538.71 L640.69,537.29 L641.02,535.43 L641.36,535.30 L641.70,532.36 L642.04,530.31 L642.38,526.55 L642.71,523.07 L643.05,519.78 L643.39,513.53 L643.73,510.62 L644.06,504.68 L644.40,501.79 L644.74,497.63 L645.08,493.93 L645.41,491.25 L645.75,488.65 L646.09,492.36 L646.42,491.88 L646.76,498.05 L647.10,499.62 L647.44,505.45 L647.77,510.90 L648.11,514.36 L648.45,520.10 L648.79,523.71 L649.12,527.21 L649.46,527.55 L649.80,533.74 L650.14,532.98 L650.48,536.67 L650.81,538.31 L651.15,539.06 L651.49,538.14 L651.83,540.11 L652.16,541.13 L652.50,540.18 L652.84,540.83 L653.17,540.36 L653.51,542.71 L653.85,540.43 L654.19,540.90 L654.52,542.93 L654.86,542.76 L655.20,542.16 L655.54,543.00 L655.88,542.16 L656.21,542.50 L656.55,543.21 L656.89,544.40 L657.23,545.35 L657.56,543.26 L657.90,544.84 L658.24,542.65 L658.58,542.14 L658.91,543.78 L659.25,543.16 L659.59,542.87 L659.92,543.34 L660.26,545.26 L660.60,545.20 L660.94,544.79 L661.27,544.28 L661.61,545.22 L661.95,544.27 L662.29,543.26 L662.62,544.93 L662.96,544.57 L663.30,545.56 L663.64,544.78 L663.98,543.82 L664.31,543.44 L664.65,544.53 L664.99,545.53 L665.33,542.92 L665.66,546.79 L666.00,545.27 L666.34,545.60 L666.67,544.88 L667.01,544.35 L667.35,545.34 L667.69,541.52 L668.02,542.98 L668.36,544.14 L668.70,545.44 L669.04,546.45 L669.38,543.86 L669.71,544.17 L670.05,544.57 L670.39,543.64 L670.73,544.57 L671.06,546.40 L671.40,546.86 L671.74,545.42 L672.08,544.94 L672.41,544.48 L672.75,544.82 L673.09,545.26 L673.42,545.87 L673.76,544.57 L674.10,544.41 L674.44,545.67 L674.77,546.04 L675.11,545.52 L675.45,546.10 L675.79,544.93 L676.12,546.28 L676.46,544.83 L676.80,545.96 L677.14,544.68 L677.48,542.83 L677.81,546.23 L678.15,545.04 L678.49,542.85 L678.83,544.27 L679.16,544.97 L679.50,544.64" stroke="#1f7ff0" stroke-width="1.7" fill="none" />
<path d="M612.00,544.72 L612.34,543.53 L612.67,544.87 L613.01,543.77 L613.35,545.08 L613.69,543.59 L614.02,544.23 L614.36,543.12 L614.70,543.54 L615.04,544.12 L615.38,544.37 L615.71,543.81 L616.05,544.18 L616.39,544.79 L616.73,543.70 L617.06,545.93 L617.40,544.18 L617.74,542.58 L618.08,543.75 L618.41,545.15 L618.75,543.32 L619.09,543.98 L619.42,544.55 L619.76,544.55 L620.10,544.00 L620.44,543.47 L620.77,544.16 L621.11,542.79 L621.45,544.52 L621.79,543.44 L622.12,545.18 L622.46,545.46 L622.80,544.10 L623.14,543.82 L623.48,542.65 L623.81,544.24 L624.15,543.77 L624.49,544.85 L624.83,543.93 L625.16,543.53 L625.50,544.21 L625.84,543.15 L626.17,542.86 L626.51,543.43 L626.85,543.88 L627.19,543.96 L627.52,543.35 L627.86,544.51 L628.20,543.04 L628.54,544.15 L628.88,543.48 L629.21,544.46 L629.55,544.31 L629.89,544.18 L630.23,543.17 L630.56,543.48 L630.90,543.41 L631.24,542.70 L631.58,544.02 L631.91,542.68 L632.25,543.69 L632.59,543.86 L632.92,543.54 L633.26,542.31 L633.60,541.80 L633.94,543.34 L634.27,543.64 L634.61,543.92 L634.95,542.66 L635.29,542.27 L635.62,542.19 L635.96,542.19 L636.30,541.25 L636.64,542.09 L636.98,541.70 L637.31,542.05 L637.65,542.39 L637.99,543.15 L638.33,541.30 L638.66,541.54 L639.00,541.23 L639.34,540.98 L639.67,540.12 L640.01,539.60 L640.35,540.75 L640.69,538.64 L641.02,537.13 L641.36,536.07 L641.70,535.09 L642.04,533.13 L642.38,532.47 L642.71,528.82 L643.05,526.82 L643.39,523.93 L643.73,520.76 L644.06,518.42 L644.40,516.76 L644.74,515.05 L645.08,511.98 L645.41,510.15 L645.75,509.02 L646.09,509.40 L646.42,511.35 L646.76,513.36 L647.10,517.22 L647.44,517.94 L647.77,521.12 L648.11,522.45 L648.45,526.06 L648.79,529.64 L649.12,531.24 L649.46,532.80 L649.80,535.61 L650.14,537.52 L650.48,537.14 L650.81,538.77 L651.15,539.26 L651.49,539.63 L651.83,540.38 L652.16,539.97 L652.50,540.65 L652.84,540.91 L653.17,540.71 L653.51,541.57 L653.85,542.62 L654.19,541.87 L654.52,542.99 L654.86,541.98 L655.20,543.13 L655.54,542.41 L655.88,541.59 L656.21,542.11 L656.55,543.28 L656.89,543.83 L657.23,543.20 L657.56,542.20 L657.90,542.62 L658.24,544.22 L658.58,542.54 L658.91,543.02 L659.25,542.74 L659.59,542.32 L659.92,544.00 L660.26,543.02 L660.60,543.36 L660.94,542.74 L661.27,543.78 L661.61,544.63 L661.95,543.52 L662.29,542.96 L662.62,543.89 L662.96,543.92 L663.30,543.64 L663.64,543.89 L663.98,544.12 L664.31,544.14 L664.65,542.78 L664.99,544.19 L665.33,543.76 L665.66,543.06 L666.00,543.12 L666.34,545.15 L666.67,544.52 L667.01,544.88 L667.35,544.08 L667.69,545.65 L668.02,545.04 L668.36,544.12 L668.70,543.78 L669.04,544.89 L669.38,543.87 L669.71,543.12 L670.05,544.76 L670.39,543.14 L670.73,544.11 L671.06,545.70 L671.40,543.98 L671.74,544.01 L672.08,543.03 L672.41,544.62 L672.75,542.77 L673.09,544.15 L673.42,543.72 L673.76,544.26 L674.10,543.74 L674.44,543.21 L674.77,544.13 L675.11,544.52 L675.45,543.65 L675.79,544.33 L676.12,543.93 L676.46,543.41 L676.80,544.03 L677.14,543.88 L677.48,544.00 L677.81,544.08 L678.15,543.52 L678.49,543.27 L678.83,543.94 L679.16,545.42 L679.50,545.25" stroke="#f04a48" stroke-width="1.2" fill="none" />
<text x="580.20" y="578.00" font-size="8.3" fill="#474747" text-anchor="middle" textLength="105" lengthAdjust="spacingAndGlyphs">Distance from DSB centre</text>
<rect x="543.70" y="588.00" width="9.30" height="5.40" fill="#1f7ff0" stroke="#333" stroke-width="0.3"/>
<text x="554.60" y="593.40" font-size="7.8" fill="#474747" textLength="84.5" lengthAdjust="spacingAndGlyphs">A3B-dependent DSBs</text>
<rect x="543.70" y="597.60" width="9.30" height="5.40" fill="#f04a48" stroke="#333" stroke-width="0.3"/>
<text x="554.60" y="603.00" font-size="7.8" fill="#474747" textLength="139" lengthAdjust="spacingAndGlyphs">A3B-independent, E2-induced DSBs</text>
<rect x="543.70" y="607.80" width="9.30" height="5.40" fill="#7b6cf0" stroke="#333" stroke-width="0.3"/>
<text x="554.60" y="613.20" font-size="7.8" fill="#474747" textLength="42" lengthAdjust="spacingAndGlyphs">other DSBs</text>
<defs>
<radialGradient id="gp"><stop offset="0" stop-color="#7d6bff" stop-opacity="0.78"/><stop offset="0.5" stop-color="#8474ff" stop-opacity="0.62"/><stop offset="0.8" stop-color="#a090ff" stop-opacity="0.26"/><stop offset="1" stop-color="#ffffff" stop-opacity="0"/></radialGradient>
<radialGradient id="gr"><stop offset="0" stop-color="#f41a24" stop-opacity="0.95"/><stop offset="0.35" stop-color="#f5404a" stop-opacity="0.72"/><stop offset="0.72" stop-color="#f88a92" stop-opacity="0.32"/><stop offset="1" stop-color="#ffffff" stop-opacity="0"/></radialGradient>
</defs>
<ellipse cx="813.00" cy="63.00" rx="54.00" ry="48.00" fill="url(#gp)" stroke="none" stroke-width="1" />
<text x="737.00" y="71.00" font-size="18" fill="#111" font-weight="bold" textLength="16" lengthAdjust="spacingAndGlyphs">1.</text>
<path d="M771.00,69.79 L771.70,68.68 L772.40,67.62 L773.10,66.63 L773.80,65.73 L774.50,64.93 L775.20,64.25 L775.90,63.71 L776.60,63.32 L777.30,63.08 L778.00,63.00 L778.70,63.08 L779.40,63.32 L780.10,63.71 L780.80,64.25 L781.50,64.93 L782.20,65.73 L782.90,66.63 L783.60,67.62 L784.30,68.68 L785.00,69.79 L785.70,70.92 L786.40,72.05 L787.10,73.16 L787.80,74.23 L788.50,75.23 L789.20,76.15 L789.90,76.96 L790.60,77.66 L791.30,78.22 L792.00,78.63 L792.70,78.90 L793.40,79.00 L794.10,78.94 L794.80,78.72 L795.50,78.35 L796.20,77.83 L796.90,77.17 L797.60,76.39 L798.30,75.50 L799.00,74.52 L799.70,73.47 L800.40,72.37 L801.10,71.24 L801.80,70.11 L802.50,68.99 L803.20,67.92 L803.90,66.91 L804.60,65.98 L805.30,65.15 L806.00,64.43 L806.70,63.85 L807.40,63.42 L808.10,63.13 L808.80,63.01 L809.50,63.04 L810.20,63.24 L810.90,63.59 L811.60,64.09 L812.30,64.72 L813.00,65.49 L813.70,66.36 L814.40,67.33 L815.10,68.37 L815.80,69.47 L816.50,70.59 L817.20,71.73 L817.90,72.85 L818.60,73.93 L819.30,74.95 L820.00,75.90 L820.70,76.74 L821.40,77.47 L822.10,78.07 L822.80,78.53 L823.50,78.84 L824.20,78.99 L824.90,78.97 L825.60,78.80 L826.30,78.47 L827.00,77.99 L827.70,77.38 L828.40,76.63 L829.10,75.77 L829.80,74.81 L830.50,73.78 L831.20,72.69 L831.90,71.57 L832.60,70.43 L833.30,69.31 L834.00,68.22 L834.70,67.19 L835.40,66.23 L836.10,65.37 L836.80,64.62 L837.50,64.01 L838.20,63.53 L838.90,63.20 L839.60,63.03 L840.30,63.01 L841.00,63.16 L841.70,63.47 L842.40,63.93 L843.10,64.53 L843.80,65.26 L844.50,66.10 L845.20,67.05 L845.90,68.07 L846.60,69.15 L847.30,70.27 L848.00,71.41 L848.70,72.53 L849.40,73.63 L850.10,74.67 L850.80,75.64 L851.50,76.51 L852.20,77.28 L852.90,77.91 L853.60,78.41 L854.30,78.76 L855.00,78.96 L855.70,78.99 L856.40,78.87 L857.10,78.58 L857.80,78.15 L858.50,77.57 L859.20,76.85 L859.90,76.02 L860.60,75.09 L861.30,74.08 L862.00,73.01 L862.70,71.89 L863.40,70.76 L864.10,69.63 L864.80,68.53 L865.50,67.48 L866.20,66.50 L866.90,65.61 L867.60,64.83 L868.30,64.17 L869.00,63.65 L869.70,63.28 L870.40,63.06 L871.10,63.00 L871.80,63.10 L872.50,63.37 L873.20,63.78 L873.90,64.34 L874.60,65.04 L875.30,65.85 L876.00,66.77 L876.70,67.77 L877.40,68.84 L878.10,69.95 L878.80,71.08 L879.50,72.21 L880.20,73.32 L880.90,74.38 L881.60,75.37 L882.30,76.27 L883.00,77.07 L883.70,77.75 L884.40,78.29 L885.10,78.68 L885.80,78.92 L886.50,79.00 L887.20,78.92 L887.90,78.68 L888.60,78.29 L889.30,77.75 L890.00,77.07 L890.70,76.27 L891.40,75.37 L892.10,74.38 L892.80,73.32 L893.50,72.21 L894.20,71.08 L894.90,69.95 L895.60,68.84 L896.30,67.77 L897.00,66.77" stroke="#777" stroke-width="3.0" fill="none" stroke-linecap="round" stroke-linejoin="round"/><path d="M777.00,69.79 L777.70,70.92 L778.40,72.05 L779.10,73.16 L779.80,74.23 L780.50,75.23 L781.20,76.15 L781.90,76.96 L782.60,77.66 L783.30,78.22 L784.00,78.63 L784.70,78.90 L785.40,79.00 L786.10,78.94 L786.80,78.72 L787.50,78.35 L788.20,77.83 L788.90,77.17 L789.60,76.39 L790.30,75.50 L791.00,74.52 L791.70,73.47 L792.40,72.37 L793.10,71.24 L793.80,70.11 L794.50,68.99 L795.20,67.92 L795.90,66.91 L796.60,65.98 L797.30,65.15 L798.00,64.43 L798.70,63.85 L799.40,63.42 L800.10,63.13 L800.80,63.01 L801.50,63.04 L802.20,63.24 L802.90,63.59 L803.60,64.09 L804.30,64.72 L805.00,65.49 L805.70,66.36 L806.40,67.33 L807.10,68.37 L807.80,69.47 L808.50,70.59 L809.20,71.73 L809.90,72.85 L810.60,73.93 L811.30,74.95 L812.00,75.90 L812.70,76.74 L813.40,77.47 L814.10,78.07 L814.80,78.53 L815.50,78.84 L816.20,78.99 L816.90,78.97 L817.60,78.80 L818.30,78.47 L819.00,77.99 L819.70,77.38 L820.40,76.63 L821.10,75.77 L821.80,74.81 L822.50,73.78 L823.20,72.69 L823.90,71.57 L824.60,70.43 L825.30,69.31 L826.00,68.22 L826.70,67.19 L827.40,66.23 L828.10,65.37 L828.80,64.62 L829.50,64.01 L830.20,63.53 L830.90,63.20 L831.60,63.03 L832.30,63.01 L833.00,63.16 L833.70,63.47 L834.40,63.93 L835.10,64.53 L835.80,65.26 L836.50,66.10 L837.20,67.05 L837.90,68.07 L838.60,69.15 L839.30,70.27 L840.00,71.41 L840.70,72.53 L841.40,73.63 L842.10,74.67 L842.80,75.64 L843.50,76.51 L844.20,77.28 L844.90,77.91 L845.60,78.41 L846.30,78.76 L847.00,78.96 L847.70,78.99 L848.40,78.87 L849.10,78.58 L849.80,78.15 L850.50,77.57 L851.20,76.85 L851.90,76.02 L852.60,75.09 L853.30,74.08 L854.00,73.01 L854.70,71.89 L855.40,70.76 L856.10,69.63 L856.80,68.53 L857.50,67.48 L858.20,66.50 L858.90,65.61 L859.60,64.83 L860.30,64.17 L861.00,63.65 L861.70,63.28 L862.40,63.06 L863.10,63.00 L863.80,63.10 L864.50,63.37 L865.20,63.78 L865.90,64.34 L866.60,65.04 L867.30,65.85 L868.00,66.77 L868.70,67.77 L869.40,68.84 L870.10,69.95 L870.80,71.08 L871.50,72.21 L872.20,73.32 L872.90,74.38 L873.60,75.37 L874.30,76.27 L875.00,77.07 L875.70,77.75 L876.40,78.29 L877.10,78.68 L877.80,78.92 L878.50,79.00 L879.20,78.92 L879.90,78.68 L880.60,78.29 L881.30,77.75 L882.00,77.07 L882.70,76.27 L883.40,75.37 L884.10,74.38 L884.80,73.32 L885.50,72.21 L886.20,71.08 L886.90,69.95 L887.60,68.84 L888.30,67.77 L889.00,66.77 L889.70,65.85 L890.40,65.04 L891.10,64.34 L891.80,63.78 L892.50,63.37 L893.20,63.10 L893.90,63.00" stroke="#111" stroke-width="3.0" fill="none" stroke-linecap="round" stroke-linejoin="round"/>
<path d="M895.00,64.00 C895.83,61.67 897.67,53.83 900.00,50.00 C902.33,46.17 907.50,42.50 909.00,41.00" stroke="#777" stroke-width="3.0" fill="none" stroke-linecap="round" stroke-linejoin="round"/>
<path d="M949,29.5 C972,31 992,48 996.5,75" stroke="#777" stroke-width="3.0" fill="none" stroke-linecap="round" stroke-linejoin="round"/>
<path d="M894,63 C900,63 902,76 907,88 C913,101 926,111 948,111.5 C964,111.5 972,108 979,103" stroke="#111" stroke-width="3.0" fill="none" stroke-linecap="round" stroke-linejoin="round"/>
<path d="M882.50,100.00 C885.00,98.75 893.33,95.00 897.50,92.50 C901.67,90.00 904.58,86.04 907.50,85.00 C910.42,83.96 912.08,84.58 915.00,86.25 C917.92,87.92 920.83,92.29 925.00,95.00 C929.17,97.71 934.17,101.25 940.00,102.50 C945.83,103.75 954.00,103.75 960.00,102.50 C966.00,101.25 973.33,96.25 976.00,95.00" stroke="#1e88f0" stroke-width="3.0" fill="none" stroke-linecap="round" stroke-linejoin="round"/>
<path d="M996.00,72.01 L996.70,73.08 L997.40,74.09 L998.10,75.02 L998.80,75.85 L999.50,76.57 L1000.20,77.15 L1000.90,77.58 L1001.60,77.87 L1002.30,77.99 L1003.00,77.96 L1003.70,77.76 L1004.40,77.41 L1005.10,76.91 L1005.80,76.28 L1006.50,75.51 L1007.20,74.64 L1007.90,73.67 L1008.60,72.63 L1009.30,71.53 L1010.00,70.41 L1010.70,69.27 L1011.40,68.15 L1012.10,67.07 L1012.80,66.05 L1013.50,65.10 L1014.20,64.26 L1014.90,63.53 L1015.60,62.93 L1016.30,62.47 L1017.00,62.16 L1017.70,62.01 L1018.40,62.03 L1019.10,62.20 L1019.80,62.53 L1020.50,63.01 L1021.20,63.62 L1021.90,64.37 L1022.60,65.23 L1023.30,66.19 L1024.00,67.22 L1024.70,68.31 L1025.40,69.43 L1026.10,70.57 L1026.80,71.69 L1027.50,72.78 L1028.20,73.81 L1028.90,74.77 L1029.60,75.63 L1030.30,76.38 L1031.00,76.99 L1031.70,77.47 L1032.40,77.80 L1033.10,77.97 L1033.80,77.99 L1034.50,77.84 L1035.20,77.53 L1035.90,77.07 L1036.60,76.47 L1037.30,75.74 L1038.00,74.90 L1038.70,73.95 L1039.40,72.93 L1040.10,71.85 L1040.80,70.73 L1041.50,69.59 L1042.20,68.47 L1042.90,67.37 L1043.60,66.33 L1044.30,65.36 L1045.00,64.49 L1045.70,63.72 L1046.40,63.09 L1047.10,62.59 L1047.80,62.24 L1048.50,62.04 L1049.20,62.01 L1049.90,62.13 L1050.60,62.42 L1051.30,62.85 L1052.00,63.43 L1052.70,64.15 L1053.40,64.98 L1054.10,65.91 L1054.80,66.92 L1055.50,67.99 L1056.20,69.11 L1056.90,70.24 L1057.60,71.37 L1058.30,72.47 L1059.00,73.52 L1059.70,74.50 L1060.40,75.39" stroke="#777" stroke-width="3.0" fill="none" stroke-linecap="round" stroke-linejoin="round"/><path d="M999.00,74.90 L999.70,73.95 L1000.40,72.93 L1001.10,71.85 L1001.80,70.73 L1002.50,69.59 L1003.20,68.47 L1003.90,67.37 L1004.60,66.33 L1005.30,65.36 L1006.00,64.49 L1006.70,63.72 L1007.40,63.09 L1008.10,62.59 L1008.80,62.24 L1009.50,62.04 L1010.20,62.01 L1010.90,62.13 L1011.60,62.42 L1012.30,62.85 L1013.00,63.43 L1013.70,64.15 L1014.40,64.98 L1015.10,65.91 L1015.80,66.92 L1016.50,67.99 L1017.20,69.11 L1017.90,70.24 L1018.60,71.37 L1019.30,72.47 L1020.00,73.52 L1020.70,74.50 L1021.40,75.39 L1022.10,76.17 L1022.80,76.83 L1023.50,77.35 L1024.20,77.72 L1024.90,77.94 L1025.60,78.00 L1026.30,77.90 L1027.00,77.63 L1027.70,77.22 L1028.40,76.66 L1029.10,75.96 L1029.80,75.15 L1030.50,74.23 L1031.20,73.23 L1031.90,72.16 L1032.60,71.05 L1033.30,69.92 L1034.00,68.79 L1034.70,67.68 L1035.40,66.62 L1036.10,65.63 L1036.80,64.73 L1037.50,63.93 L1038.20,63.25 L1038.90,62.71 L1039.60,62.32 L1040.30,62.08 L1041.00,62.00 L1041.70,62.08 L1042.40,62.32 L1043.10,62.71 L1043.80,63.25 L1044.50,63.93 L1045.20,64.73 L1045.90,65.63 L1046.60,66.62 L1047.30,67.68 L1048.00,68.79 L1048.70,69.92 L1049.40,71.05 L1050.10,72.16 L1050.80,73.23 L1051.50,74.23 L1052.20,75.15 L1052.90,75.96 L1053.60,76.66 L1054.30,77.22 L1055.00,77.63 L1055.70,77.90 L1056.40,78.00 L1057.10,77.94 L1057.80,77.72 L1058.50,77.35 L1059.20,76.83 L1059.90,76.17 L1060.60,75.39" stroke="#111" stroke-width="3.0" fill="none" stroke-linecap="round" stroke-linejoin="round"/>
<ellipse cx="805.00" cy="48.75" rx="25.50" ry="14.00" fill="#7a68ee" stroke="#3a3370" stroke-width="0.6" /><text x="805.00" y="53.95" font-size="13.5" fill="#e6e2ff" text-anchor="middle" textLength="18" lengthAdjust="spacingAndGlyphs">ER</text>
<ellipse cx="842.50" cy="24.50" rx="25.50" ry="13.80" fill="#f04a50" stroke="#5a2020" stroke-width="0.6" /><text x="842.50" y="29.80" font-size="13.5" fill="#fff" text-anchor="middle" font-weight="bold" textLength="24.5" lengthAdjust="spacingAndGlyphs">A3B</text>
<ellipse cx="834.00" cy="67.75" rx="6.80" ry="10.00" fill="#f5a800" stroke="#5a3c00" stroke-width="0.5" transform="rotate(35 834.00 67.75)"/><ellipse cx="845.00" cy="53.75" rx="18.50" ry="9.80" fill="#f5a800" stroke="#5a3c00" stroke-width="0.6" /><text x="845.50" y="58.55" font-size="13" fill="#fff5d0" text-anchor="middle" textLength="27" lengthAdjust="spacingAndGlyphs">PolII</text>
<path d="M866.00,45.32 L875.36,45.32 L875.36,41.00 L884.00,50.00 L875.36,59.00 L875.36,54.68 L866.00,54.68 Z" stroke="#5a3c00" stroke-width="0.5" fill="#f5a800" />
<ellipse cx="924.50" cy="31.25" rx="25.50" ry="13.80" fill="#f04a50" stroke="#5a2020" stroke-width="0.6" /><text x="924.50" y="36.55" font-size="13.5" fill="#fff" text-anchor="middle" font-weight="bold" textLength="24.5" lengthAdjust="spacingAndGlyphs">A3B</text>
<ellipse cx="982.75" cy="99.00" rx="6.80" ry="10.00" fill="#f5a800" stroke="#5a3c00" stroke-width="0.5" transform="rotate(35 982.75 99.00)"/><ellipse cx="993.75" cy="85.00" rx="18.50" ry="9.80" fill="#f5a800" stroke="#5a3c00" stroke-width="0.6" /><text x="994.25" y="89.80" font-size="13" fill="#fff5d0" text-anchor="middle" textLength="27" lengthAdjust="spacingAndGlyphs">PolII</text>
<path d="M1013.75,87.84 L1022.85,87.84 L1022.85,84.00 L1031.25,92.00 L1022.85,100.00 L1022.85,96.16 L1013.75,96.16 Z" stroke="#5a3c00" stroke-width="0.5" fill="#f5a800" />
<text x="821.00" y="105.00" font-size="11.5" fill="#1e88f0" text-anchor="middle" font-weight="bold" textLength="107" lengthAdjust="spacingAndGlyphs">R-loop formation at</text>
<text x="821.00" y="119.50" font-size="11.5" fill="#1e88f0" text-anchor="middle" font-weight="bold" textLength="123" lengthAdjust="spacingAndGlyphs">transcribed promoters</text>
<text x="821.00" y="133.00" font-size="11.5" fill="#1e88f0" text-anchor="middle" font-weight="bold" textLength="80.5" lengthAdjust="spacingAndGlyphs">and enhancers</text>
<path d="M880.50,143.00 L915.50,143.00 L915.50,150.00 L924.00,150.00 L898.50,159.00 L872.50,150.00 L880.50,150.00 Z" stroke="none" stroke-width="1" fill="#9a9a9a" />
<ellipse cx="814.00" cy="220.00" rx="54.00" ry="48.00" fill="url(#gp)" stroke="none" stroke-width="1" />
<text x="737.00" y="226.00" font-size="18" fill="#111" font-weight="bold" textLength="16" lengthAdjust="spacingAndGlyphs">2.</text>
<path d="M770.00,233.91 L770.70,232.78 L771.40,231.65 L772.10,230.54 L772.80,229.47 L773.50,228.47 L774.20,227.55 L774.90,226.74 L775.60,226.04 L776.30,225.48 L777.00,225.07 L777.70,224.80 L778.40,224.70 L779.10,224.76 L779.80,224.98 L780.50,225.35 L781.20,225.87 L781.90,226.53 L782.60,227.31 L783.30,228.20 L784.00,229.18 L784.70,230.23 L785.40,231.33 L786.10,232.46 L786.80,233.59 L787.50,234.71 L788.20,235.78 L788.90,236.79 L789.60,237.72 L790.30,238.55 L791.00,239.27 L791.70,239.85 L792.40,240.28 L793.10,240.57 L793.80,240.69 L794.50,240.66 L795.20,240.46 L795.90,240.11 L796.60,239.61 L797.30,238.98 L798.00,238.21 L798.70,237.34 L799.40,236.37 L800.10,235.33 L800.80,234.23 L801.50,233.11 L802.20,231.97 L802.90,230.85 L803.60,229.77 L804.30,228.75 L805.00,227.80 L805.70,226.96 L806.40,226.23 L807.10,225.63 L807.80,225.17 L808.50,224.86 L809.20,224.71 L809.90,224.73 L810.60,224.90 L811.30,225.23 L812.00,225.71 L812.70,226.32 L813.40,227.07 L814.10,227.93 L814.80,228.89 L815.50,229.92 L816.20,231.01 L816.90,232.13 L817.60,233.27 L818.30,234.39 L819.00,235.48 L819.70,236.51 L820.40,237.47 L821.10,238.33 L821.80,239.08 L822.50,239.69 L823.20,240.17 L823.90,240.50 L824.60,240.67 L825.30,240.69 L826.00,240.54 L826.70,240.23 L827.40,239.77 L828.10,239.17 L828.80,238.44 L829.50,237.60 L830.20,236.65 L830.90,235.63 L831.60,234.55 L832.30,233.43 L833.00,232.29 L833.70,231.17 L834.40,230.07 L835.10,229.03 L835.80,228.06 L836.50,227.19 L837.20,226.42 L837.90,225.79 L838.60,225.29 L839.30,224.94 L840.00,224.74 L840.70,224.71 L841.40,224.83 L842.10,225.12 L842.80,225.55 L843.50,226.13 L844.20,226.85 L844.90,227.68 L845.60,228.61 L846.30,229.62 L847.00,230.69 L847.70,231.81 L848.40,232.94 L849.10,234.07 L849.80,235.17 L850.50,236.22 L851.20,237.20 L851.90,238.09 L852.60,238.87 L853.30,239.53 L854.00,240.05 L854.70,240.42 L855.40,240.64 L856.10,240.70 L856.80,240.60 L857.50,240.33 L858.20,239.92 L858.90,239.36 L859.60,238.66 L860.30,237.85 L861.00,236.93 L861.70,235.93 L862.40,234.86 L863.10,233.75 L863.80,232.62 L864.50,231.49 L865.20,230.38 L865.90,229.32 L866.60,228.33 L867.30,227.43 L868.00,226.63 L868.70,225.95 L869.40,225.41 L870.10,225.02 L870.80,224.78 L871.50,224.70 L872.20,224.78 L872.90,225.02 L873.60,225.41 L874.30,225.95 L875.00,226.63 L875.70,227.43 L876.40,228.33 L877.10,229.32 L877.80,230.38 L878.50,231.49 L879.20,232.62 L879.90,233.75 L880.60,234.86 L881.30,235.93 L882.00,236.93 L882.70,237.85 L883.40,238.66 L884.10,239.36 L884.80,239.92 L885.50,240.33 L886.20,240.60 L886.90,240.70 L887.60,240.64 L888.30,240.42 L889.00,240.05 L889.70,239.53 L890.40,238.87 L891.10,238.09 L891.80,237.20 L892.50,236.22 L893.20,235.17 L893.90,234.07 L894.60,232.94 L895.30,231.81 L896.00,230.69" stroke="#777" stroke-width="3.0" fill="none" stroke-linecap="round" stroke-linejoin="round"/><path d="M776.50,229.92 L777.20,231.01 L777.90,232.13 L778.60,233.27 L779.30,234.39 L780.00,235.48 L780.70,236.51 L781.40,237.47 L782.10,238.33 L782.80,239.08 L783.50,239.69 L784.20,240.17 L784.90,240.50 L785.60,240.67 L786.30,240.69 L787.00,240.54 L787.70,240.23 L788.40,239.77 L789.10,239.17 L789.80,238.44 L790.50,237.60 L791.20,236.65 L791.90,235.63 L792.60,234.55 L793.30,233.43 L794.00,232.29 L794.70,231.17 L795.40,230.07 L796.10,229.03 L796.80,228.06 L797.50,227.19 L798.20,226.42 L798.90,225.79 L799.60,225.29 L800.30,224.94 L801.00,224.74 L801.70,224.71 L802.40,224.83 L803.10,225.12 L803.80,225.55 L804.50,226.13 L805.20,226.85 L805.90,227.68 L806.60,228.61 L807.30,229.62 L808.00,230.69 L808.70,231.81 L809.40,232.94 L810.10,234.07 L810.80,235.17 L811.50,236.22 L812.20,237.20 L812.90,238.09 L813.60,238.87 L814.30,239.53 L815.00,240.05 L815.70,240.42 L816.40,240.64 L817.10,240.70 L817.80,240.60 L818.50,240.33 L819.20,239.92 L819.90,239.36 L820.60,238.66 L821.30,237.85 L822.00,236.93 L822.70,235.93 L823.40,234.86 L824.10,233.75 L824.80,232.62 L825.50,231.49 L826.20,230.38 L826.90,229.32 L827.60,228.33 L828.30,227.43 L829.00,226.63 L829.70,225.95 L830.40,225.41 L831.10,225.02 L831.80,224.78 L832.50,224.70 L833.20,224.78 L833.90,225.02 L834.60,225.41 L835.30,225.95 L836.00,226.63 L836.70,227.43 L837.40,228.33 L838.10,229.32 L838.80,230.38 L839.50,231.49 L840.20,232.62 L840.90,233.75 L841.60,234.86 L842.30,235.93 L843.00,236.93 L843.70,237.85 L844.40,238.66 L845.10,239.36 L845.80,239.92 L846.50,240.33 L847.20,240.60 L847.90,240.70 L848.60,240.64 L849.30,240.42 L850.00,240.05 L850.70,239.53 L851.40,238.87 L852.10,238.09 L852.80,237.20 L853.50,236.22 L854.20,235.17 L854.90,234.07 L855.60,232.94 L856.30,231.81 L857.00,230.69 L857.70,229.62 L858.40,228.61 L859.10,227.68 L859.80,226.85 L860.50,226.13 L861.20,225.55 L861.90,225.12 L862.60,224.83 L863.30,224.71 L864.00,224.74 L864.70,224.94 L865.40,225.29 L866.10,225.79 L866.80,226.42 L867.50,227.19 L868.20,228.06 L868.90,229.03 L869.60,230.07 L870.30,231.17 L871.00,232.29 L871.70,233.43 L872.40,234.55 L873.10,235.63 L873.80,236.65 L874.50,237.60 L875.20,238.44 L875.90,239.17 L876.60,239.77 L877.30,240.23 L878.00,240.54 L878.70,240.69 L879.40,240.67 L880.10,240.50 L880.80,240.17 L881.50,239.69 L882.20,239.08 L882.90,238.33 L883.60,237.47 L884.30,236.51 L885.00,235.48 L885.70,234.39 L886.40,233.27 L887.10,232.13 L887.80,231.01 L888.50,229.92 L889.20,228.89 L889.90,227.93 L890.60,227.07 L891.30,226.32 L892.00,225.71 L892.70,225.23 L893.40,224.90 L894.10,224.73" stroke="#111" stroke-width="3.0" fill="none" stroke-linecap="round" stroke-linejoin="round"/>
<path d="M893.75,222.50 C894.38,220.42 895.62,213.54 897.50,210.00 C899.38,206.46 903.75,202.71 905.00,201.25" stroke="#777" stroke-width="3.0" fill="none" stroke-linecap="round" stroke-linejoin="round"/>
<path d="M939.00,190.00 C942.92,190.42 955.67,190.00 962.50,192.50 C969.33,195.00 975.00,200.00 980.00,205.00 C985.00,210.00 989.83,217.50 992.50,222.50 C995.17,227.50 995.42,232.92 996.00,235.00" stroke="#777" stroke-width="3.0" fill="none" stroke-linecap="round" stroke-linejoin="round"/>
<path d="M894.5,224.7 C901,224.7 903,240 910,253 C918,267 932,273 948,273 C968,273 988,262 997,234" stroke="#111" stroke-width="3.0" fill="none" stroke-linecap="round" stroke-linejoin="round"/>
<path d="M881.00,260.60 C883.33,259.25 890.60,254.98 895.00,252.50 C899.40,250.02 904.10,246.20 907.40,245.70 C910.70,245.20 911.45,247.45 914.80,249.50 C918.15,251.55 921.68,255.52 927.50,258.00 C933.32,260.48 941.87,264.57 949.70,264.40 C957.53,264.23 967.87,261.15 974.50,257.00 C981.13,252.85 987.00,242.42 989.50,239.50" stroke="#1e88f0" stroke-width="3.0" fill="none" stroke-linecap="round" stroke-linejoin="round"/>
<path d="M996.00,239.91 L996.70,239.66 L997.40,239.24 L998.10,238.66 L998.80,237.95 L999.50,237.10 L1000.20,236.14 L1000.90,235.10 L1001.60,233.99 L1002.30,232.84 L1003.00,231.66 L1003.70,230.50 L1004.40,229.37 L1005.10,228.29 L1005.80,227.30 L1006.50,226.40 L1007.20,225.63 L1007.90,224.99 L1008.60,224.50 L1009.30,224.17 L1010.00,224.02 L1010.70,224.03 L1011.40,224.21 L1012.10,224.56 L1012.80,225.07 L1013.50,225.73 L1014.20,226.52 L1014.90,227.43 L1015.60,228.44 L1016.30,229.53 L1017.00,230.67 L1017.70,231.83 L1018.40,233.00 L1019.10,234.15 L1019.80,235.25 L1020.50,236.29 L1021.20,237.23 L1021.90,238.06 L1022.60,238.75 L1023.30,239.31 L1024.00,239.71 L1024.70,239.94 L1025.40,240.00 L1026.10,239.89 L1026.80,239.61 L1027.50,239.17 L1028.20,238.57 L1028.90,237.83 L1029.60,236.97 L1030.30,236.00 L1031.00,234.94 L1031.70,233.83 L1032.40,232.67 L1033.10,231.50 L1033.80,230.34 L1034.50,229.21 L1035.20,228.15 L1035.90,227.16 L1036.60,226.28 L1037.30,225.53 L1038.00,224.91 L1038.70,224.44 L1039.40,224.14 L1040.10,224.01 L1040.80,224.04 L1041.50,224.25 L1042.20,224.63 L1042.90,225.16 L1043.60,225.84 L1044.30,226.65 L1045.00,227.57 L1045.70,228.59 L1046.40,229.69 L1047.10,230.83 L1047.80,232.00 L1048.50,233.17 L1049.20,234.31 L1049.90,235.41 L1050.60,236.43 L1051.30,237.35 L1052.00,238.16 L1052.70,238.84 L1053.40,239.37 L1054.10,239.75 L1054.80,239.96 L1055.50,239.99 L1056.20,239.86 L1056.90,239.56 L1057.60,239.09 L1058.30,238.47 L1059.00,237.72" stroke="#777" stroke-width="3.0" fill="none" stroke-linecap="round" stroke-linejoin="round"/><path d="M998.00,239.71 L998.70,239.94 L999.40,240.00 L1000.10,239.89 L1000.80,239.61 L1001.50,239.17 L1002.20,238.57 L1002.90,237.83 L1003.60,236.97 L1004.30,236.00 L1005.00,234.94 L1005.70,233.83 L1006.40,232.67 L1007.10,231.50 L1007.80,230.34 L1008.50,229.21 L1009.20,228.15 L1009.90,227.16 L1010.60,226.28 L1011.30,225.53 L1012.00,224.91 L1012.70,224.44 L1013.40,224.14 L1014.10,224.01 L1014.80,224.04 L1015.50,224.25 L1016.20,224.63 L1016.90,225.16 L1017.60,225.84 L1018.30,226.65 L1019.00,227.57 L1019.70,228.59 L1020.40,229.69 L1021.10,230.83 L1021.80,232.00 L1022.50,233.17 L1023.20,234.31 L1023.90,235.41 L1024.60,236.43 L1025.30,237.35 L1026.00,238.16 L1026.70,238.84 L1027.40,239.37 L1028.10,239.75 L1028.80,239.96 L1029.50,239.99 L1030.20,239.86 L1030.90,239.56 L1031.60,239.09 L1032.30,238.47 L1033.00,237.72 L1033.70,236.84 L1034.40,235.85 L1035.10,234.79 L1035.80,233.66 L1036.50,232.50 L1037.20,231.33 L1037.90,230.17 L1038.60,229.06 L1039.30,228.00 L1040.00,227.03 L1040.70,226.17 L1041.40,225.43 L1042.10,224.83 L1042.80,224.39 L1043.50,224.11 L1044.20,224.00 L1044.90,224.06 L1045.60,224.29 L1046.30,224.69 L1047.00,225.25 L1047.70,225.94 L1048.40,226.77 L1049.10,227.71 L1049.80,228.75 L1050.50,229.85 L1051.20,231.00 L1051.90,232.17 L1052.60,233.33 L1053.30,234.47 L1054.00,235.56 L1054.70,236.57 L1055.40,237.48 L1056.10,238.27 L1056.80,238.93 L1057.50,239.44 L1058.20,239.79 L1058.90,239.97" stroke="#111" stroke-width="3.0" fill="none" stroke-linecap="round" stroke-linejoin="round"/>
<ellipse cx="805.00" cy="210.00" rx="25.50" ry="14.00" fill="#7a68ee" stroke="#3a3370" stroke-width="0.6" /><text x="805.00" y="215.20" font-size="13.5" fill="#e6e2ff" text-anchor="middle" textLength="18" lengthAdjust="spacingAndGlyphs">ER</text>
<ellipse cx="832.75" cy="229.00" rx="6.80" ry="10.00" fill="#f5a800" stroke="#5a3c00" stroke-width="0.5" transform="rotate(35 832.75 229.00)"/><ellipse cx="843.75" cy="215.00" rx="18.50" ry="9.80" fill="#f5a800" stroke="#5a3c00" stroke-width="0.6" /><text x="844.25" y="219.80" font-size="13" fill="#fff5d0" text-anchor="middle" textLength="27" lengthAdjust="spacingAndGlyphs">PolII</text>
<path d="M865.00,205.68 L874.36,205.68 L874.36,201.00 L883.00,210.75 L874.36,220.50 L874.36,215.82 L865.00,215.82 Z" stroke="#5a3c00" stroke-width="0.5" fill="#f5a800" />
<ellipse cx="914.20" cy="191.00" rx="25.50" ry="13.80" fill="#f04a50" stroke="#5a2020" stroke-width="0.6" /><text x="914.20" y="196.30" font-size="13.5" fill="#fff" text-anchor="middle" font-weight="bold" textLength="24.5" lengthAdjust="spacingAndGlyphs">A3B</text>
<path d="M913.60,169.90 C914.67,168.25 916.93,162.70 920.00,160.00 C923.07,157.30 928.17,154.37 932.00,153.70 C935.83,153.03 939.92,154.12 943.00,156.00 C946.08,157.88 949.25,163.50 950.50,165.00" stroke="#f04a50" stroke-width="1.6" fill="none" stroke-linecap="round" stroke-linejoin="round"/>
<path d="M946,164 L951.5,168.6 L953,161.5" stroke="#f04a50" stroke-width="1.6" fill="none" stroke-linecap="round" stroke-linejoin="round"/>
<text x="957.00" y="189.75" font-size="20" fill="#f04a50" text-anchor="middle" font-weight="bold" textLength="11" lengthAdjust="spacingAndGlyphs">U</text>
<text x="829.50" y="271.00" font-size="11.5" fill="#f04a50" text-anchor="middle" font-weight="bold" textLength="76.5" lengthAdjust="spacingAndGlyphs">A3B-mediated</text>
<text x="829.50" y="285.50" font-size="11.5" fill="#f04a50" text-anchor="middle" font-weight="bold" textLength="106.5" lengthAdjust="spacingAndGlyphs">R-loop deamination</text>
<path d="M883.00,290.00 L918.00,290.00 L918.00,297.00 L926.50,297.00 L901.00,306.00 L875.00,297.00 L883.00,297.00 Z" stroke="none" stroke-width="1" fill="#9a9a9a" />
<ellipse cx="814.00" cy="362.00" rx="54.00" ry="48.00" fill="url(#gp)" stroke="none" stroke-width="1" />
<text x="737.00" y="386.00" font-size="18" fill="#111" font-weight="bold" textLength="16" lengthAdjust="spacingAndGlyphs">3.</text>
<path d="M770.00,380.71 L770.70,379.58 L771.40,378.45 L772.10,377.34 L772.80,376.27 L773.50,375.27 L774.20,374.35 L774.90,373.54 L775.60,372.84 L776.30,372.28 L777.00,371.87 L777.70,371.60 L778.40,371.50 L779.10,371.56 L779.80,371.78 L780.50,372.15 L781.20,372.67 L781.90,373.33 L782.60,374.11 L783.30,375.00 L784.00,375.98 L784.70,377.03 L785.40,378.13 L786.10,379.26 L786.80,380.39 L787.50,381.51 L788.20,382.58 L788.90,383.59 L789.60,384.52 L790.30,385.35 L791.00,386.07 L791.70,386.65 L792.40,387.08 L793.10,387.37 L793.80,387.49 L794.50,387.46 L795.20,387.26 L795.90,386.91 L796.60,386.41 L797.30,385.78 L798.00,385.01 L798.70,384.14 L799.40,383.17 L800.10,382.13 L800.80,381.03 L801.50,379.91 L802.20,378.77 L802.90,377.65 L803.60,376.57 L804.30,375.55 L805.00,374.60 L805.70,373.76 L806.40,373.03 L807.10,372.43 L807.80,371.97 L808.50,371.66 L809.20,371.51 L809.90,371.53 L810.60,371.70 L811.30,372.03 L812.00,372.51 L812.70,373.12 L813.40,373.87 L814.10,374.73 L814.80,375.69 L815.50,376.72 L816.20,377.81 L816.90,378.93 L817.60,380.07 L818.30,381.19 L819.00,382.28 L819.70,383.31 L820.40,384.27 L821.10,385.13 L821.80,385.88 L822.50,386.49 L823.20,386.97 L823.90,387.30 L824.60,387.47 L825.30,387.49 L826.00,387.34 L826.70,387.03 L827.40,386.57 L828.10,385.97 L828.80,385.24 L829.50,384.40 L830.20,383.45 L830.90,382.43 L831.60,381.35 L832.30,380.23 L833.00,379.09 L833.70,377.97 L834.40,376.87 L835.10,375.83 L835.80,374.86 L836.50,373.99 L837.20,373.22 L837.90,372.59 L838.60,372.09 L839.30,371.74 L840.00,371.54 L840.70,371.51 L841.40,371.63 L842.10,371.92 L842.80,372.35 L843.50,372.93 L844.20,373.65 L844.90,374.48 L845.60,375.41 L846.30,376.42 L847.00,377.49 L847.70,378.61 L848.40,379.74 L849.10,380.87 L849.80,381.97 L850.50,383.02 L851.20,384.00 L851.90,384.89 L852.60,385.67 L853.30,386.33 L854.00,386.85 L854.70,387.22 L855.40,387.44 L856.10,387.50 L856.80,387.40 L857.50,387.13 L858.20,386.72 L858.90,386.16 L859.60,385.46 L860.30,384.65 L861.00,383.73 L861.70,382.73 L862.40,381.66 L863.10,380.55 L863.80,379.42 L864.50,378.29 L865.20,377.18 L865.90,376.12 L866.60,375.13 L867.30,374.23 L868.00,373.43 L868.70,372.75 L869.40,372.21 L870.10,371.82 L870.80,371.58 L871.50,371.50 L872.20,371.58 L872.90,371.82 L873.60,372.21 L874.30,372.75 L875.00,373.43 L875.70,374.23 L876.40,375.13 L877.10,376.12 L877.80,377.18 L878.50,378.29 L879.20,379.42 L879.90,380.55 L880.60,381.66 L881.30,382.73 L882.00,383.73 L882.70,384.65 L883.40,385.46 L884.10,386.16 L884.80,386.72 L885.50,387.13 L886.20,387.40 L886.90,387.50 L887.60,387.44 L888.30,387.22 L889.00,386.85 L889.70,386.33 L890.40,385.67 L891.10,384.89 L891.80,384.00 L892.50,383.02 L893.20,381.97 L893.90,380.87 L894.60,379.74" stroke="#777" stroke-width="3.0" fill="none" stroke-linecap="round" stroke-linejoin="round"/><path d="M776.00,375.98 L776.70,377.03 L777.40,378.13 L778.10,379.26 L778.80,380.39 L779.50,381.51 L780.20,382.58 L780.90,383.59 L781.60,384.52 L782.30,385.35 L783.00,386.07 L783.70,386.65 L784.40,387.08 L785.10,387.37 L785.80,387.49 L786.50,387.46 L787.20,387.26 L787.90,386.91 L788.60,386.41 L789.30,385.78 L790.00,385.01 L790.70,384.14 L791.40,383.17 L792.10,382.13 L792.80,381.03 L793.50,379.91 L794.20,378.77 L794.90,377.65 L795.60,376.57 L796.30,375.55 L797.00,374.60 L797.70,373.76 L798.40,373.03 L799.10,372.43 L799.80,371.97 L800.50,371.66 L801.20,371.51 L801.90,371.53 L802.60,371.70 L803.30,372.03 L804.00,372.51 L804.70,373.12 L805.40,373.87 L806.10,374.73 L806.80,375.69 L807.50,376.72 L808.20,377.81 L808.90,378.93 L809.60,380.07 L810.30,381.19 L811.00,382.28 L811.70,383.31 L812.40,384.27 L813.10,385.13 L813.80,385.88 L814.50,386.49 L815.20,386.97 L815.90,387.30 L816.60,387.47 L817.30,387.49 L818.00,387.34 L818.70,387.03 L819.40,386.57 L820.10,385.97 L820.80,385.24 L821.50,384.40 L822.20,383.45 L822.90,382.43 L823.60,381.35 L824.30,380.23 L825.00,379.09 L825.70,377.97 L826.40,376.87 L827.10,375.83 L827.80,374.86 L828.50,373.99 L829.20,373.22 L829.90,372.59 L830.60,372.09 L831.30,371.74 L832.00,371.54 L832.70,371.51 L833.40,371.63 L834.10,371.92 L834.80,372.35 L835.50,372.93 L836.20,373.65 L836.90,374.48 L837.60,375.41 L838.30,376.42 L839.00,377.49 L839.70,378.61 L840.40,379.74 L841.10,380.87 L841.80,381.97 L842.50,383.02 L843.20,384.00 L843.90,384.89 L844.60,385.67 L845.30,386.33 L846.00,386.85 L846.70,387.22 L847.40,387.44 L848.10,387.50 L848.80,387.40 L849.50,387.13 L850.20,386.72 L850.90,386.16 L851.60,385.46 L852.30,384.65 L853.00,383.73 L853.70,382.73 L854.40,381.66 L855.10,380.55 L855.80,379.42 L856.50,378.29 L857.20,377.18 L857.90,376.12 L858.60,375.13 L859.30,374.23 L860.00,373.43 L860.70,372.75 L861.40,372.21 L862.10,371.82 L862.80,371.58 L863.50,371.50 L864.20,371.58 L864.90,371.82 L865.60,372.21 L866.30,372.75 L867.00,373.43 L867.70,374.23 L868.40,375.13 L869.10,376.12 L869.80,377.18 L870.50,378.29 L871.20,379.42 L871.90,380.55 L872.60,381.66 L873.30,382.73 L874.00,383.73 L874.70,384.65 L875.40,385.46 L876.10,386.16 L876.80,386.72 L877.50,387.13 L878.20,387.40 L878.90,387.50 L879.60,387.44 L880.30,387.22 L881.00,386.85 L881.70,386.33 L882.40,385.67 L883.10,384.89 L883.80,384.00 L884.50,383.02 L885.20,381.97 L885.90,380.87 L886.60,379.74 L887.30,378.61 L888.00,377.49 L888.70,376.42 L889.40,375.41 L890.10,374.48 L890.80,373.65 L891.50,372.93 L892.20,372.35 L892.90,371.92 L893.60,371.63 L894.30,371.51" stroke="#111" stroke-width="3.0" fill="none" stroke-linecap="round" stroke-linejoin="round"/>
<path d="M893.60,372.00 C894.17,370.33 895.13,365.33 897.00,362.00 C898.87,358.67 900.60,355.50 904.80,352.00 C909.00,348.50 915.57,343.67 922.20,341.00 C928.83,338.33 940.87,336.83 944.60,336.00" stroke="#777" stroke-width="3.0" fill="none" stroke-linecap="round" stroke-linejoin="round"/>
<path d="M969.50,324.90 C971.98,325.92 979.83,328.10 984.40,331.00 C988.97,333.90 993.80,338.80 996.90,342.30 C1000.00,345.80 1001.98,350.38 1003.00,352.00" stroke="#777" stroke-width="3.0" fill="none" stroke-linecap="round" stroke-linejoin="round"/>
<path d="M894.5,371.5 C900,371.5 903,388 912.2,405.8" stroke="#111" stroke-width="3.0" fill="none" stroke-linecap="round" stroke-linejoin="round"/>
<path d="M906.00,427.00 C909.12,428.43 918.70,433.93 924.70,435.60 C930.70,437.27 935.78,438.03 942.00,437.00 C948.22,435.97 958.67,430.67 962.00,429.40" stroke="#111" stroke-width="3.0" fill="none" stroke-linecap="round" stroke-linejoin="round"/>
<path d="M984.40,407.00 C985.83,405.33 990.50,400.33 993.00,397.00 C995.50,393.67 997.93,389.50 999.40,387.00 C1000.87,384.50 1001.40,382.83 1001.80,382.00" stroke="#111" stroke-width="3.0" fill="none" stroke-linecap="round" stroke-linejoin="round"/>
<path d="M995.00,387.23 L995.70,386.82 L996.40,386.26 L997.10,385.56 L997.80,384.75 L998.50,383.83 L999.20,382.83 L999.90,381.76 L1000.60,380.65 L1001.30,379.52 L1002.00,378.39 L1002.70,377.28 L1003.40,376.22 L1004.10,375.23 L1004.80,374.33 L1005.50,373.53 L1006.20,372.85 L1006.90,372.31 L1007.60,371.92 L1008.30,371.68 L1009.00,371.60 L1009.70,371.68 L1010.40,371.92 L1011.10,372.31 L1011.80,372.85 L1012.50,373.53 L1013.20,374.33 L1013.90,375.23 L1014.60,376.22 L1015.30,377.28 L1016.00,378.39 L1016.70,379.52 L1017.40,380.65 L1018.10,381.76 L1018.80,382.83 L1019.50,383.83 L1020.20,384.75 L1020.90,385.56 L1021.60,386.26 L1022.30,386.82 L1023.00,387.23 L1023.70,387.50 L1024.40,387.60 L1025.10,387.54 L1025.80,387.32 L1026.50,386.95 L1027.20,386.43 L1027.90,385.77 L1028.60,384.99 L1029.30,384.10 L1030.00,383.12 L1030.70,382.07 L1031.40,380.97 L1032.10,379.84 L1032.80,378.71 L1033.50,377.59 L1034.20,376.52 L1034.90,375.51 L1035.60,374.58 L1036.30,373.75 L1037.00,373.03 L1037.70,372.45 L1038.40,372.02 L1039.10,371.73 L1039.80,371.61 L1040.50,371.64 L1041.20,371.84 L1041.90,372.19 L1042.60,372.69 L1043.30,373.32 L1044.00,374.09 L1044.70,374.96 L1045.40,375.93 L1046.10,376.97 L1046.80,378.07 L1047.50,379.19 L1048.20,380.33 L1048.90,381.45 L1049.60,382.53 L1050.30,383.55 L1051.00,384.50 L1051.70,385.34 L1052.40,386.07 L1053.10,386.67 L1053.80,387.13 L1054.50,387.44 L1055.20,387.59 L1055.90,387.57 L1056.60,387.40 L1057.30,387.07 L1058.00,386.59 L1058.70,385.98 L1059.40,385.23 L1060.10,384.37 L1060.80,383.41 L1061.50,382.38 L1062.20,381.29 L1062.90,380.17" stroke="#777" stroke-width="3.0" fill="none" stroke-linecap="round" stroke-linejoin="round"/><path d="M1000.00,387.23 L1000.70,386.82 L1001.40,386.26 L1002.10,385.56 L1002.80,384.75 L1003.50,383.83 L1004.20,382.83 L1004.90,381.76 L1005.60,380.65 L1006.30,379.52 L1007.00,378.39 L1007.70,377.28 L1008.40,376.22 L1009.10,375.23 L1009.80,374.33 L1010.50,373.53 L1011.20,372.85 L1011.90,372.31 L1012.60,371.92 L1013.30,371.68 L1014.00,371.60 L1014.70,371.68 L1015.40,371.92 L1016.10,372.31 L1016.80,372.85 L1017.50,373.53 L1018.20,374.33 L1018.90,375.23 L1019.60,376.22 L1020.30,377.28 L1021.00,378.39 L1021.70,379.52 L1022.40,380.65 L1023.10,381.76 L1023.80,382.83 L1024.50,383.83 L1025.20,384.75 L1025.90,385.56 L1026.60,386.26 L1027.30,386.82 L1028.00,387.23 L1028.70,387.50 L1029.40,387.60 L1030.10,387.54 L1030.80,387.32 L1031.50,386.95 L1032.20,386.43 L1032.90,385.77 L1033.60,384.99 L1034.30,384.10 L1035.00,383.12 L1035.70,382.07 L1036.40,380.97 L1037.10,379.84 L1037.80,378.71 L1038.50,377.59 L1039.20,376.52 L1039.90,375.51 L1040.60,374.58 L1041.30,373.75 L1042.00,373.03 L1042.70,372.45 L1043.40,372.02 L1044.10,371.73 L1044.80,371.61 L1045.50,371.64 L1046.20,371.84 L1046.90,372.19 L1047.60,372.69 L1048.30,373.32 L1049.00,374.09 L1049.70,374.96 L1050.40,375.93 L1051.10,376.97 L1051.80,378.07 L1052.50,379.19 L1053.20,380.33 L1053.90,381.45 L1054.60,382.53 L1055.30,383.55 L1056.00,384.50 L1056.70,385.34 L1057.40,386.07 L1058.10,386.67 L1058.80,387.13 L1059.50,387.44 L1060.20,387.59 L1060.90,387.57 L1061.60,387.40 L1062.30,387.07 L1063.00,386.59" stroke="#111" stroke-width="3.0" fill="none" stroke-linecap="round" stroke-linejoin="round"/>
<ellipse cx="803.75" cy="357.00" rx="25.50" ry="14.00" fill="#7a68ee" stroke="#3a3370" stroke-width="0.6" /><text x="803.75" y="362.20" font-size="13.5" fill="#e6e2ff" text-anchor="middle" textLength="18" lengthAdjust="spacingAndGlyphs">ER</text>
<ellipse cx="831.50" cy="376.50" rx="6.80" ry="10.00" fill="#f5a800" stroke="#5a3c00" stroke-width="0.5" transform="rotate(35 831.50 376.50)"/><ellipse cx="842.50" cy="362.50" rx="18.50" ry="9.80" fill="#f5a800" stroke="#5a3c00" stroke-width="0.6" /><text x="843.00" y="367.30" font-size="13" fill="#fff5d0" text-anchor="middle" textLength="27" lengthAdjust="spacingAndGlyphs">PolII</text>
<path d="M865.00,353.44 L874.10,353.44 L874.10,349.00 L882.50,358.25 L874.10,367.50 L874.10,363.06 L865.00,363.06 Z" stroke="#5a3c00" stroke-width="0.5" fill="#f5a800" />
<text x="899.00" y="321.00" font-size="15.5" fill="#f04a50" text-anchor="middle" font-weight="bold" textLength="32" lengthAdjust="spacingAndGlyphs">BER</text>
<path d="M923.40,313.60 C925.27,313.40 931.07,311.77 934.60,312.40 C938.13,313.03 942.53,315.72 944.60,317.40 C946.67,319.08 946.60,321.65 947.00,322.50" stroke="#f04a50" stroke-width="1.6" fill="none" stroke-linecap="round" stroke-linejoin="round"/>
<path d="M942.5,320 L947.5,324 L949.5,318" stroke="#f04a50" stroke-width="1.6" fill="none" stroke-linecap="round" stroke-linejoin="round"/>
<line x1="949.60" y1="327.30" x2="945.80" y2="334.80" stroke="#f04a50" stroke-width="1.9" stroke-linecap="round"/><line x1="948.30" y1="336.00" x2="957.00" y2="336.00" stroke="#f04a50" stroke-width="1.9" stroke-linecap="round"/><line x1="947.00" y1="341.00" x2="954.60" y2="345.30" stroke="#f04a50" stroke-width="1.9" stroke-linecap="round"/>
<line x1="924.00" y1="398.80" x2="917.70" y2="404.50" stroke="#7b6cf0" stroke-width="1.9" stroke-linecap="round"/><line x1="917.00" y1="407.00" x2="927.00" y2="408.00" stroke="#7b6cf0" stroke-width="1.9" stroke-linecap="round"/><line x1="918.50" y1="412.00" x2="924.00" y2="417.00" stroke="#7b6cf0" stroke-width="1.9" stroke-linecap="round"/>
<line x1="972.00" y1="399.50" x2="978.00" y2="405.00" stroke="#7b6cf0" stroke-width="1.9" stroke-linecap="round"/><line x1="969.50" y1="408.00" x2="979.50" y2="409.00" stroke="#7b6cf0" stroke-width="1.9" stroke-linecap="round"/><line x1="977.00" y1="412.00" x2="972.00" y2="417.00" stroke="#7b6cf0" stroke-width="1.9" stroke-linecap="round"/>
<line x1="984.40" y1="369.70" x2="990.60" y2="374.60" stroke="#7b6cf0" stroke-width="1.9" stroke-linecap="round"/><line x1="980.70" y1="377.00" x2="989.40" y2="377.60" stroke="#7b6cf0" stroke-width="1.9" stroke-linecap="round"/><line x1="994.00" y1="364.70" x2="994.40" y2="373.40" stroke="#7b6cf0" stroke-width="1.9" stroke-linecap="round"/>
<text x="1036.50" y="424.40" font-size="15" fill="#7b6cf0" text-anchor="middle" font-weight="bold" textLength="57" lengthAdjust="spacingAndGlyphs">TC-NER</text>
<path d="M1021.80,405.80 C1021.38,403.93 1021.38,397.52 1019.30,394.60 C1017.22,391.68 1010.97,389.35 1009.30,388.30" stroke="#7b6cf0" stroke-width="1.6" fill="none" stroke-linecap="round" stroke-linejoin="round"/>
<path d="M1009,394 L1008.8,388.3 L1014,387" stroke="#7b6cf0" stroke-width="1.6" fill="none" stroke-linecap="round" stroke-linejoin="round"/>
<path d="M1024.30,430.60 C1020.15,431.83 1006.87,437.17 999.40,438.00 C991.93,438.83 984.07,437.65 979.50,435.60 C974.93,433.55 973.25,427.35 972.00,425.70" stroke="#7b6cf0" stroke-width="1.6" fill="none" stroke-linecap="round" stroke-linejoin="round"/>
<path d="M970.5,431 L972,425.5 L977,428" stroke="#7b6cf0" stroke-width="1.6" fill="none" stroke-linecap="round" stroke-linejoin="round"/>
<text x="825.50" y="415.00" font-size="11.5" fill="#111" text-anchor="middle" font-weight="bold" textLength="120" lengthAdjust="spacingAndGlyphs">Convergence of SSBs</text>
<text x="825.50" y="428.75" font-size="11.5" fill="#111" text-anchor="middle" font-weight="bold" textLength="140" lengthAdjust="spacingAndGlyphs">leading to ER-driven DSB</text>
<text x="825.50" y="442.50" font-size="11.5" fill="#111" text-anchor="middle" font-weight="bold" textLength="52.5" lengthAdjust="spacingAndGlyphs">formation</text>
<rect x="883.75" y="450.00" width="32.50" height="23.75" fill="#9a9a9a" /><rect x="883.75" y="456.00" width="32.50" height="1.10" fill="#f0f0f0" /><rect x="883.75" y="462.50" width="32.50" height="1.10" fill="#f0f0f0" /><rect x="883.75" y="469.00" width="32.50" height="1.10" fill="#f0f0f0" /><path d="M874.5,474.5 L924.5,474.5 L898.75,485.5 Z" stroke="none" stroke-width="1" fill="#9a9a9a" />
<ellipse cx="838.00" cy="533.00" rx="64.00" ry="56.00" fill="url(#gp)" stroke="none" stroke-width="1" />
<ellipse cx="951.00" cy="546.00" rx="80.00" ry="74.00" fill="url(#gr)" stroke="none" stroke-width="1" />
<text x="737.00" y="549.00" font-size="18" fill="#111" font-weight="bold" textLength="16" lengthAdjust="spacingAndGlyphs">4.</text>
<path d="M765.60,544.30 C770.12,544.30 773.48,534.60 778.00,534.60 C783.57,534.60 787.73,552.00 793.30,552.00 C801.13,552.00 806.97,535.00 814.80,535.00 C821.54,535.00 826.56,551.00 833.30,551.00 C840.73,551.00 846.27,535.00 853.70,535.00 C859.78,535.00 864.32,551.00 870.40,551.00 C877.17,551.00 882.23,534.40 889.00,534.40 C896.65,534.40 902.35,550.60 910.00,550.60 C922.53,550.60 931.87,526.00 944.40,526.00 C953.00,526.00 959.40,552.80 968.00,552.80 C977.61,552.80 984.79,536.25 994.40,536.25 C1001.90,536.25 1007.50,554.40 1015.00,554.40 C1024.72,554.40 1031.98,537.00 1041.70,537.00 C1046.84,537.00 1050.66,546.50 1055.80,546.50" stroke="#777" stroke-width="3.0" fill="none" stroke-linecap="round" stroke-linejoin="round"/>
<path d="M773.90,542.20 C777.94,542.20 780.96,551.00 785.00,551.00 C791.81,551.00 796.89,534.40 803.70,534.40 C811.09,534.40 816.61,551.00 824.00,551.00 C830.77,551.00 835.83,535.40 842.60,535.40 C849.67,535.40 854.93,550.20 862.00,550.20 C869.47,550.20 875.03,534.00 882.50,534.00 C888.51,534.00 892.99,550.00 899.00,550.00 C905.85,550.00 910.95,534.00 917.80,534.00 C922.97,534.00 926.83,546.00 932.00,546.00" stroke="#111" stroke-width="3.0" fill="none" stroke-linecap="round" stroke-linejoin="round"/>
<path d="M960.00,556.00 C966.81,556.00 971.89,540.20 978.70,540.20 C986.71,540.20 992.69,556.70 1000.70,556.70 C1009.91,556.70 1016.79,538.60 1026.00,538.60 C1032.92,538.60 1038.08,555.00 1045.00,555.00 C1051.19,555.00 1055.81,548.00 1062.00,548.00" stroke="#111" stroke-width="3.0" fill="none" stroke-linecap="round" stroke-linejoin="round"/>
<ellipse cx="835.50" cy="520.50" rx="25.50" ry="14.00" fill="#7a68ee" stroke="#3a3370" stroke-width="0.6" /><text x="835.50" y="525.70" font-size="13.5" fill="#e6e2ff" text-anchor="middle" textLength="18" lengthAdjust="spacingAndGlyphs">ER</text>
<ellipse cx="864.00" cy="540.25" rx="6.80" ry="10.00" fill="#f5a800" stroke="#5a3c00" stroke-width="0.5" transform="rotate(35 864.00 540.25)"/><ellipse cx="875.00" cy="526.25" rx="18.50" ry="9.80" fill="#f5a800" stroke="#5a3c00" stroke-width="0.6" /><text x="875.50" y="531.05" font-size="13" fill="#fff5d0" text-anchor="middle" textLength="27" lengthAdjust="spacingAndGlyphs">PolII</text>
<path d="M895.00,512.06 L904.62,512.06 L904.62,507.50 L913.50,517.00 L904.62,526.50 L904.62,521.94 L895.00,521.94 Z" stroke="#5a3c00" stroke-width="0.5" fill="#f5a800" />
<path d="M913.50,512.06 L923.12,512.06 L923.12,507.50 L932.00,517.00 L923.12,526.50 L923.12,521.94 L913.50,521.94 Z" stroke="#5a3c00" stroke-width="0.5" fill="#f5a800" />
<path d="M932.00,512.06 L941.62,512.06 L941.62,507.50 L950.50,517.00 L941.62,526.50 L941.62,521.94 L932.00,521.94 Z" stroke="#5a3c00" stroke-width="0.5" fill="#f5a800" />
<path d="M885.00,570.00 C887.50,569.33 895.50,567.67 900.00,566.00 C904.50,564.33 908.25,562.04 912.00,560.00 C915.75,557.96 920.75,554.79 922.50,553.75" stroke="#1e88f0" stroke-width="2.4" fill="none" stroke-linecap="round" stroke-linejoin="round"/>
<ellipse cx="929.70" cy="569.00" rx="6.80" ry="10.00" fill="#f5a800" stroke="#5a3c00" stroke-width="0.5" transform="rotate(35 929.70 569.00)"/><ellipse cx="940.70" cy="555.00" rx="18.50" ry="9.80" fill="#f5a800" stroke="#5a3c00" stroke-width="0.6" /><text x="941.20" y="559.80" font-size="13" fill="#fff5d0" text-anchor="middle" textLength="27" lengthAdjust="spacingAndGlyphs">PolII</text>
<path d="M957.00,563.44 L966.72,563.44 L966.72,559.00 L975.70,568.25 L966.72,577.50 L966.72,573.06 L957.00,573.06 Z" stroke="#5a3c00" stroke-width="0.5" fill="#f5a800" />
<path d="M975.70,563.44 L985.42,563.44 L985.42,559.00 L994.40,568.25 L985.42,577.50 L985.42,573.06 L975.70,573.06 Z" stroke="#5a3c00" stroke-width="0.5" fill="#f5a800" />
<path d="M994.40,563.44 L1004.12,563.44 L1004.12,559.00 L1013.10,568.25 L1004.12,577.50 L1004.12,573.06 L994.40,573.06 Z" stroke="#5a3c00" stroke-width="0.5" fill="#f5a800" />
<text x="845.00" y="586.00" font-size="12" fill="#7b6cf0" text-anchor="middle" font-weight="bold" textLength="125" lengthAdjust="spacingAndGlyphs">chromatin remodelling</text>
<text x="845.00" y="600.00" font-size="12" fill="#7b6cf0" text-anchor="middle" font-weight="bold" textLength="136" lengthAdjust="spacingAndGlyphs">after DNA damage repair</text>
</svg></body></html>
